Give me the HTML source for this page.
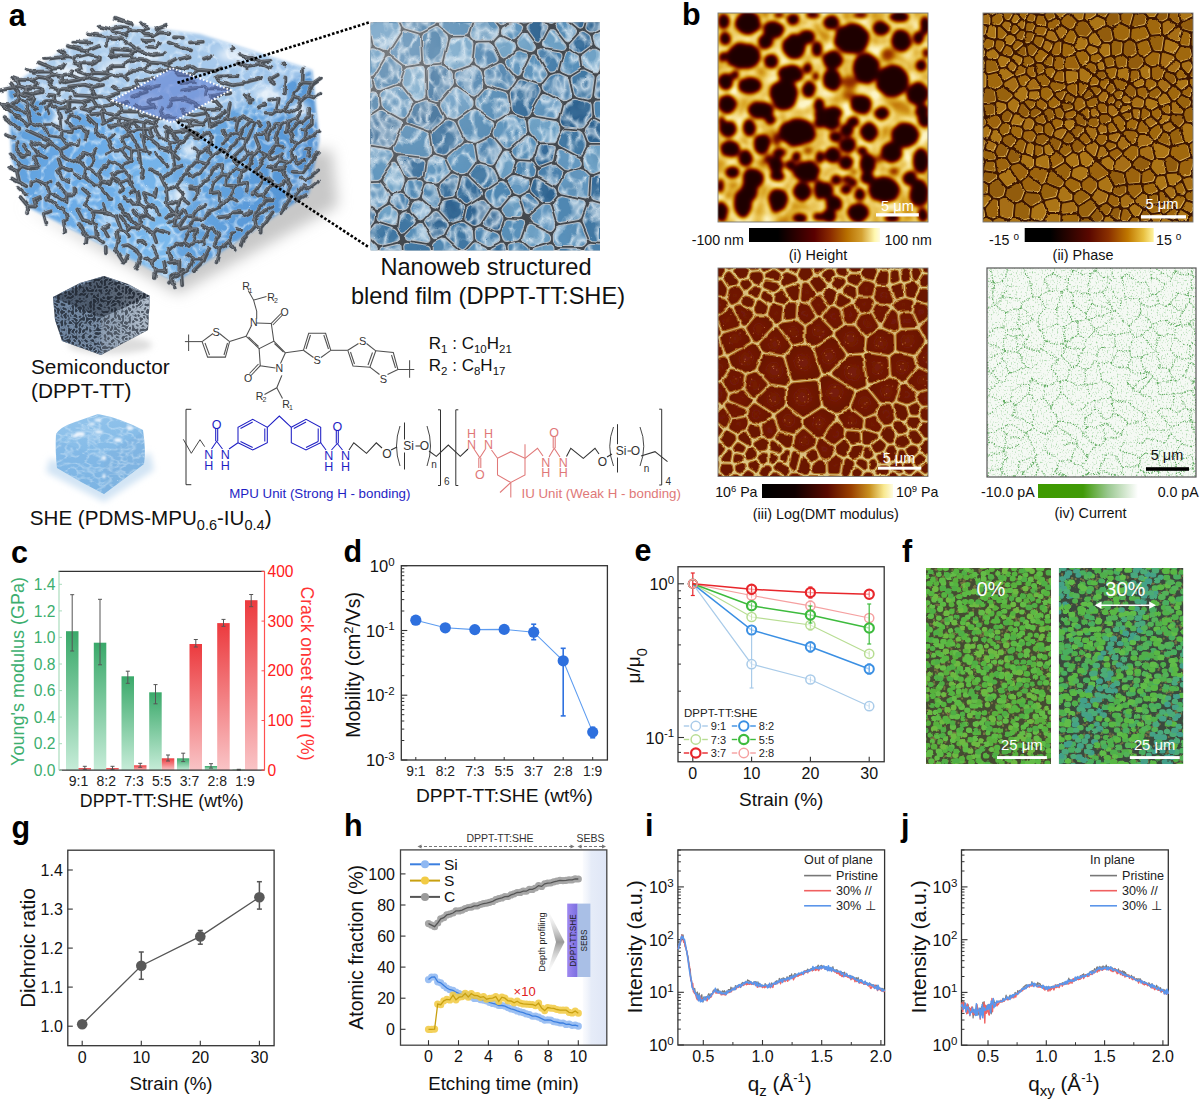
<!DOCTYPE html>
<html><head><meta charset="utf-8"><style>
html,body{margin:0;padding:0;background:#fff;width:1200px;height:1101px;overflow:hidden}
svg{display:block}
text{font-family:"Liberation Sans", sans-serif}
</style></head><body>
<svg width="1200" height="1101" viewBox="0 0 1200 1101" font-family="Liberation Sans, sans-serif">
<rect width="1200" height="1101" fill="#fff"/>
<defs>
<filter id="shA" x="0" y="100" width="380" height="220" filterUnits="userSpaceOnUse"><feGaussianBlur stdDeviation="7"/></filter>
<filter id="bA" x="-10" y="0" width="360" height="310" filterUnits="userSpaceOnUse"><feGaussianBlur stdDeviation="1.5"/></filter>
<filter id="hlA" x="-10" y="0" width="360" height="310" filterUnits="userSpaceOnUse"><feGaussianBlur stdDeviation="4"/></filter>
<linearGradient id="gTop" x1="0" y1="0" x2="1" y2="1"><stop offset="0" stop-color="#b2d0ec"/><stop offset="0.5" stop-color="#a6c9ec"/><stop offset="1" stop-color="#90bce6"/></linearGradient>
<linearGradient id="gLeft" x1="0" y1="0" x2="1" y2="0.6"><stop offset="0" stop-color="#5a9ad8"/><stop offset="0.5" stop-color="#6aaae6"/><stop offset="1" stop-color="#7ab8ec"/></linearGradient>
<linearGradient id="gRight" x1="0" y1="0" x2="1" y2="0.5"><stop offset="0" stop-color="#78b4e8"/><stop offset="0.6" stop-color="#5e9edc"/><stop offset="1" stop-color="#508fd0"/></linearGradient>
<clipPath id="cA"><path d="M8 88 L60 52 L118 24 L200 34 L312 70 L319 140 L309 193 L176 282 L30 208 L12 160Z"/></clipPath>
<filter id="netA" x="-10" y="0" width="360" height="310" filterUnits="userSpaceOnUse">
<feTurbulence type="fractalNoise" baseFrequency="0.16" numOctaves="1" seed="5" result="t"/>
<feDisplacementMap in="SourceGraphic" in2="t" scale="4.5" xChannelSelector="R" yChannelSelector="G"/>
</filter>
</defs>
<path d="M22 205 L178 294 L338 206 L332 150 L300 150 L176 270 Z" fill="#c8c8c8" filter="url(#shA)"/>
<g filter="url(#bA)">
<path d="M8 88 L170 140 L176 282 L30 208 L12 160Z" fill="url(#gLeft)"/>
<path d="M170 140 L312 70 L319 140 L309 193 L176 282Z" fill="url(#gRight)"/>
<path d="M8 88 L60 52 L118 24 L200 34 L312 70 L170 140Z" fill="url(#gTop)"/>
</g>
<defs><filter id="vA" x="0" y="10" width="340" height="290" filterUnits="userSpaceOnUse"><feTurbulence type="turbulence" baseFrequency="0.07" numOctaves="2" seed="17"/><feColorMatrix type="matrix" values="0 0 0 0 0.8  0 0 0 0 0.9  0 0 0 0 1  -3.5 0 0 0 1.0"/></filter></defs>
<g clip-path="url(#cA)"><rect x="0" y="10" width="340" height="290" fill="#fff" filter="url(#vA)" opacity="0.6"/>
<g filter="url(#hlA)" opacity="0.9">
<ellipse cx="70" cy="72" rx="16" ry="5" fill="#fff"/>
<ellipse cx="115" cy="66" rx="12" ry="4" fill="#fff"/>
<ellipse cx="150" cy="55" rx="12" ry="4" fill="#fff"/>
<ellipse cx="235" cy="55" rx="18" ry="5" fill="#fff"/>
<ellipse cx="270" cy="95" rx="16" ry="6" fill="#fff"/>
<ellipse cx="300" cy="110" rx="8" ry="8" fill="#fff"/>
<ellipse cx="190" cy="150" rx="9" ry="7" fill="#fff"/>
<ellipse cx="180" cy="195" rx="8" ry="10" fill="#fff"/>
<ellipse cx="60" cy="120" rx="7" ry="10" fill="#fff"/>
<ellipse cx="150" cy="100" rx="8" ry="4" fill="#fff"/>
<ellipse cx="210" cy="100" rx="10" ry="4" fill="#fff"/>
</g></g>
<defs><path id="netP" d="M112.5 55.4l0-6.4M112.5 55.4l17.7 .1M112.5 49l21.1 1.6M130.2 55.5l3.4-4.9M132.3 96.5l14.5-4.7M160.8 97.3l-12 3.3M136.7 49.9l15.7 5.3M136.7 49.9l-3.1 .7M130.2 55.5l5.8 4.1M136 59.6l10.1 .6M110.6 56.4l1.9-1M136 59.6l-10.3 3.3M173.4 69.1l19.6-2M197.4 69.9l-4.4-2.8M197.4 69.9l-4.4 5.4M173.4 69.1l5 5.8M193 75.3l-14.6-.4M117.5 104.4l9.7-1.5M117.5 104.4l-3.4-.5M119.4 92.7l-13 4.3M114.1 103.9l-7.7-6.9M105 112.9l9.3 2M122.7 111.3l-8.4 3.6M117.5 104.4l5.2 6.9M105 112.9l-2.3-6.3M114.1 103.9l-11.4 2.7M91.5 114.4l13.5-1.5M91.5 114.4l-3.4-4.2M88.1 110.2l10.7-4M102.7 106.6l-3.9-.4M88.1 110.2l-6.5-1.8M81.6 108.4l3.7-3.4M81.5 101.9l3.8 3.1M81.5 101.9l11-2.9M96.2 105.2l-3.7-6.2M132.3 96.5l-.2 0M148.8 100.6l-.4 1.2M203 122.8l-11.2-2.5M203.5 125.2l-12.5 .3M191 125.5l-1.9-4.5M191.8 120.3l-2.7 .7M177.1 120l12 1M186.9 127.1l4.1-1.6M204.2 113.4l-10.1 1.8M206.5 119.8l6.3-1.5M183.7 113.3l10.4 1.9M203 122.8l3.5-3M215.6 118.5l8.9-6.5M138.5 87.1l6.9 1.9M138.5 87.1l-3-6.4M145.4 89l13.2-3.3M135.5 80.7l18.7-1.7M119.1 90.2l19.4-3.1M119.1 90.2l-6.4-3.7M215.6 118.5l-2.8-.2M111.4 75.3l13.5 1.5M132.8 70l-7.9 6.8M113.4 66.4l10.7-.4M113.4 66.4l-5.2 2.3M111.4 75.3l-2.8-1.6M108.6 73.7l-.4-5M170.5 68.4l-4.1-4.4M170.5 68.4l-18.6 4M166.4 64l-16.1-1.4M150.3 62.6l-6.5 7.4M151.9 72.4l-8.1-2.4M173.4 69.1l-2.9-.7M125.7 62.9l-1.6 3.1M146.1 60.2l4.2 2.4M132.8 70l11 0M127.6 78.9l-2.7-2.1M152.4 55.2l11.6-1.2M166.4 64l9.3-5M133.8 120.6l20.8 2.8M140.4 115.4l17.5 3.2M154.6 123.4l3.3-4.8M139.2 108.9l15.2-2.3M162 108.2l-2 3.3M115.3 117.1l-1-2.2M132 121l-16.7-3.9M122.7 111.3l14.5 .5M132 121l1.8-.4M140.4 115.4l-.7-2.3M135.8 104.9l3.4 4M164.5 116.5l-6.6 2.1M164.5 116.5l-4.5-5M148.4 101.8l6 4.8M171.2 100l-2 6.7M183.7 113.3l-1-3.7M174.1 117.3l-9.6-.8M204.2 113.4l3.2-3.2M207.4 110.2l11.8-.7M207.4 110.2l-11.8-4.2M171.2 100l12.5-1.4M183.7 98.6l12.5 4.8M195.6 106l.6-2.6M180 83.1l14.9-1.1M206 94l1.4-5.7M203.8 86.3l3.6 2M203.8 86.3l-20.7 4.3M203.6 85.7l.2 .6M81.5 101.9l-10.2-.8M71.3 101.1l-.1 .1M130.3 131.2l9.2-2.4M130.3 131.2l-7.5-5.8M139.5 128.8l-7.9-7.1M122.8 125.4l8.8-3.7M109.9 126.3l12.9-.9M128.5 132.4l1.8-1.2M115.3 117.1l-12.8 6.8M149.3 129.3l3.2 6.9M149.3 129.3l7.4-3.4M165.8 126.7l6.9 5.7M139.5 128.8l9.8 .5M148.1 138.7l4.4-2.5M154.6 123.4l2.1 2.5M187.4 130.5l-14.7 1.9M33.9 97l-6 2.8M26.1 92l-11.6 3.4M33.9 97l-1-2.9M32.9 94.1l-6.8-2.1M75.1 108.5l-9.4 3.5M60.7 102.8l10.5-1.6M108.6 73.7l-14.2-.8M91.9 69.6l2.5 3.3M89.2 75.3l5.2-2.4M89.2 75.3l-.1 2.2M111.4 75.3l-10.9 5.1M89.1 77.5l11.4 2.9M180.5 59.1l9.1-2.6M204 58.7l6.7-2.3M120 27.1l-8.8 2.5M111.2 29.6l-11.5-2.8M127 27.5l-7-.4M131.8 23.8l-16.7-6M100 57.8l-.3 2.1M99.7 59.9l-8.1 3.6M112.8 31.9l-1.6-2.3M127 27.5l4.3 2.5M112.8 31.9l12.3 2.3M131.3 30l-6.2 4.2M45.3 101.4l8.6-.7M53.9 100.7l.6-5.1M47.9 94.9l6.6 .7M41.1 104l4.2-2.6M60.7 102.8l-6.8-2.1M42.6 92.2l-9.7 1.9M187.4 130.5l9.7 3M106.4 97l-10.7-.7M95.2 96.4l.5-.1M33.7 71.9l16.9-.5M50.6 71.4l3.4 3.2M37.4 76.9l8.5 1M54 74.6l-8.1 3.3M42.6 92.2l.2-2.4M26.1 92l-.2-3.7M42.8 89.8l-8.7-2.5M25.9 88.3l8.2-1M245.5 57.5l-5.4-2.4M262 61.9l8.5-1.2M262 61.9l-8.9-4M237.9 63.3l9.1 3M247 67.2l0-.9M245.5 57.5l7.6 .4M260.9 63.5l-13.9 2.8M260.9 63.5l1.1-1.6M215.3 71.2l-17.9-1.3M215.3 71.2l5.6-2.8M107.2 37.8l-3.2-1.8M107.2 37.8l15.1 .7M125.1 34.2l1.4 1.4M107 45.9l.2-8.1M122.3 38.5l4.3 4.3M131.3 30l9.5 .9M141.8 23.2l5.5 5.2M140.8 30.9l6.5-2.5M221.2 107.3l-5.1-5.8M211.4 100.3l4.7 1.2M211.4 100.3l-.5-4.3M207.4 88.3l20.8 .6M210.9 96l19.4-2.9M71.3 101.1l-.8-3.8M95.2 96.4l-19.9-1.1M103.1 85l-10.4 2.3M95.7 96.3l-4.3-7M92.7 87.3l-1.3 2M75.3 95.3l-1.3-4.4M232.5 85.3l10.3-1.5M232.5 85.3l-13.7-4.2M237.6 76.1l-20 .4M242.8 83.8l.8-1.4M218.8 81.1l-2.2-4M217.6 76.5l-1 .6M261.1 78.2l-17.5 4.2M283.3 63.3l1.1 2.2M260.9 63.5l9.5 4.7M269.7 79.5l8-4.5M232.8 47l-.8 1.8M104 36l-13.8-1.7M90.2 34.3l-2.1-.7M87.3 51l-20.4-5M91.4 42.8l-17.2-1M87.3 51l11.9-5M88.6 54.1l11.4 3.7M88.6 54.1l-1.3-3.1M107 45.9l0 0M136.7 49.9l.8-1.2M137.5 48.7l-8.4-5.4M190.9 42.5l11.9-.7M156.6 29.3l3.3 3.1M156.6 29.3l9.2-3.5M159.9 32.4l9.4 1.1M174 37.4l8.9 .4M34.1 87.3l2.5-4.2M49.7 83.5l2.3 4.3M31.5 80.2l5.1 2.9M37.4 76.9l-5.9 3.3M45.9 77.9l5.6 4.4M54 74.6l7.4 1.7M61.4 76.3l.1 5M58.2 94.8l1.2-5.3M52 87.8l7.4 1.7M74 90.9l-6.2-2.4M59.4 89.5l8.4-1M79.6 79.8l-14.2 2.5M83.9 84.8l-14.8 1.8M69.7 74.9l10.3 4.3M69.7 74.9l-8.3 1.4M61.5 81.3l3.9 1M89.1 77.5l-9.1 1.7M92.7 87.3l-8.8-2.5M17.3 79.8l2.3 6.5M17.3 79.8l-4.9-1.8M19.6 86.3l-20 4.3M31.5 80.2l-14.2-.4M25.9 88.3l-6.3-2M33.7 71.9l-7-2.3M251.7 99.7l-7.1-4.5M269.7 79.5l4.4 3.4M183.8 47.4l7.3 3M67.9 56.3l-8.2-6M88.6 54.1l-15.6 3.7M73 57.8l-5.1-1.5M50.6 71.4l2.8-2.7M53.4 68.7l-14.5-6.2M67.9 56.3l-21.2 2.7M46.7 59l-1.7-.1M79.4 63.4l-5.6-1.7M79.4 63.4l1.4 5.5M64.8 63.8l-2.7 4.1M80.8 68.9l-4.3 2M91.6 63.5l-12.2-.1M73 57.8l.8 3.9M53.4 68.7l8.7-.8M69.7 74.9l2.1-3.5M89.2 75.3l-12.7-4.4M141.5 40.2l3.8 .9M145.3 41.1l8.2-.3M144.8 34.6l9.3 .8M140.8 30.9l4 3.7M159.9 32.4l-5.8 3M168.6 42.5l12.4 4.9M159.9 43l-3.7 4.3M183.8 47.4l-2.8 0M147.2 46.8l9 .5M153.3 233.4l3.4-3.9M153.3 233.4l-12.5-7.8M140.8 225.6l-.9-7.8M153.1 219.3l-6.3-4.1M139.9 217.8l6.9-2.6M156.7 229.5l11.8 3.7M61.1 117.8l-3.1-9M58 108.8l10.2-1.3M66.3 120l6.4-5.6M71.7 132.3l1-5M72.7 127.3l8.3-.3M86.2 140.2l.5-8.3M86.7 131.9l-5.7-4.9M66.3 120l6.4 7.3M72.7 114.4l6.8 4.3M96.2 132.2l4 4M61.3 137l-12.5-1.9M61.3 137l.9-5.6M62.2 131.4l-1.8-2.3M60.4 129.1l-9.8-5.4M50.6 123.7l-5.7 .4M48.8 135.1l-5.2-8M43.6 127.1l1.3-3M77.7 145.2l-10.6-.7M67.1 144.5l-5.8-7.5M77.7 145.2l1-5.1M71.7 132.3l-9.5-.9M59.8 118.5l.6 10.6M47.6 139.8l-20.6-9.6M48.6 142.3l-3.1 4.6M45.5 146.9l-13.4-4.8M60.1 150l6.9-3.4M60.1 150l-11.5-7.7M136.2 250.1l-8.1-5M153.3 233.4l3 8.8M43.6 127.1l-12.9-4.2M30.7 122.9l-3 2.2M20 98.9l-8.7 6.4M20 98.9l-1.4-5.6M18.6 93.3l-7.5-10M11.3 105.3l-8.3-.4M3 104.9l-.7-.2M27.7 125.1l-24.7-20.2M28 114.1l2.7 8.8M28 114.1l-16.7-8.8M19.3 129.2l-15.5-12.1M58 108.8l-6.8-4.8M48.3 113.4l-2.3-6.2M51.2 104l-5.2 3.2M34.1 97.6l.2 .5M68.2 107.5l.5-6.2M18.6 93.3l15.5 4.3M146 151.1l-7-1.2M146 151.1l-3.5-15.5M139 149.9l-7.6-14.4M106 153.7l7.7-3.5M100.2 136.2l7.8 2.9M108 139.1l5.7 11.1M131.9 149.8l6.7 .4M139 149.9l-.4 .3M124.9 145.7l-3.5-7.3M131.9 149.8l-7-4.1M131.4 135.5l-2.4-1.4M129 134.1l-7.6 4.3M124.9 145.7l-3.4 5M108 139.1l6.2-4.2M114.9 150.8l-1.2-.6M121.5 150.7l-6.6 .1M103.9 122.9l-2.3-11.3M95.4 124.4l-8.2-7.9M96.2 132.2l-.8-7.8M157.7 144.8l-13.7-10.5M159.7 138.4l-5.1-10.2M144 134.3l-.1-9.5M150 153.6l-4-2.5M158.7 147.1l-1-2.3M142.5 135.6l1.5-1.3M176.4 243.5l5.7 2.5M178.9 218l-10.6 4.2M130.2 200.5l2.9 3.3M130.2 200.5l-6-2.5M119.4 204.9l3.4 5M138.8 226.4l-15.9-14M138.8 226.4l2-.8M133.2 210.5l6.7 7.3M78.9 160.6l7.3 7.3M78.9 160.6l4.8-7.8M83.7 152.8l8.5 2.9M88.3 168.3l6.3-8.6M92.2 155.7l2.4 4M95.8 148.8l-3.6 6.9M103.1 166.8l-4.6 8.1M98.5 174.9l-10.2-6.6M98.9 185.5l11.1 13.3M98.9 185.5l-4.1-.1M108.7 183.1l-6.8-2.3M101.9 180.8l-3 4.7M111.5 199.1l-1.5-.3M98.5 174.9l3.4 5.9M84.6 177.4l10.2 8M84.6 177.4l1.6-9.5M72.3 171.3l-10.4-4.3M61.9 167l-3.4-7.9M71.9 161.7l-9.7-5.8M74.9 174.3l5.9 3.2M77.6 160.1l-5.7 1.6M62.4 178.8l6.9 3.3M62.4 178.8l-4.4-8.5M58 170.3l3.9-3.3M60.1 150l2.1 5.9M139.4 260.4l-3.3 8.2M152.8 246.2l5.2 10.8M158 257l-6.6 4.7M146.1 257.6l5.3 4.1M168 248.9l3.1 10.9M138.8 226.4l-1.3 2.3M142.3 241.8l3.2 2.6M140.7 256.9l-4.5-6.8M142.3 241.8l-3.9 .1M165.9 271.1l-1.9-9.6M155.8 270.5l10.1 .6M155.8 270.5l-4.4-8.8M154.6 278l1.2-7.5M139.4 260.4l-.2-.7M139.2 259.7l1.5-2.8M182.2 269.9l-11.5 6.2M170.7 276.1l4 12.2M36.6 108.6l-5.5-4.3M29.2 113.1l-2.3-9.2M39.5 115l-1.2-.8M34.3 98.1l-3.2 6.2M20 98.9l6.9 5M131.9 149.8l0 11.5M138.6 150.2l2.4 17.1M121.5 150.7l9.2 10.3M130.7 161l-7.8 3.8M130.7 161l1.2 .3M159.7 138.4l7.4 .1M167.1 138.5l0-6.4M129.2 179.7l-8.5 2.9M129.2 179.7l5.7 11.6M130.5 192.4l4.4-1.1M122.7 187.8l-2-5.2M120 191.9l2.7-4.1M108.7 183.1l5.1-5.5M113.8 177.6l6.9 5M133.1 203.8l5.9 .3M146.8 215.2l-2.9-7.8M143.9 207.4l-4.9-3.3M139 204.1l-1.6-11.2M30.1 168.6l-8.7-2.3M18.3 171.3l3.1-5M36.5 180.2l-5 2M66.8 194.6l-.3 7.5M66.5 202.1l-16.9-10.1M50.5 181.7l-4 3.4M57.4 183.8l9.4 10.8M46.5 185.1l3.1 6.9M33.9 157.3l4.3-2.8M33.9 157.3l4.8 9.5M45.4 157.5l-7.2-3M30.1 168.6l.7-1.2M36.5 180.2l10 4.9M30.8 167.4l7.9-.6M31.2 144.3l7 10.2M77.3 209.4l5.6 10.6M67 218.2l-2.9-8.4M92.3 211.4l-7.5-7.1M93.6 222.8l-1.3-11.4M93.6 222.8l-10.7-2.8M49.6 192l-2 7.3M47.6 199.3l16.5 10.5M95.5 224.7l1.3 12.8M86.8 237.2l10 .3M86.8 237.2l-7.2-13.1M103.2 228.2l5.6-3.1M92.3 211.4l13 1M13.5 137.8l-7.5-3M16.9 171.2l-6.7-3.3M21.4 166.3l-10.7-13M74.6 194.4l-.1-6.2M84.8 204.1l5.1-8.9M89.9 195.2l-7-6.2M66.8 194.6l7.8-.2M103 204.5l2.4 7.7M27.1 213.1l1-6.8M46.3 222.9l-2.4-9.1M28.1 206.3l8 .4M63.7 220.3l3.3-2.1M47.6 199.3l-1.3 .5M103.2 228.2l5.2 9.1M96.8 237.5l6.5 4.9M143.2 169.6l-1.3 8.3M150 169.3l9.7 5.2M159.7 174.5l6.8 13.9M166.5 188.4l-.4 .3M156.3 153.6l11.2 12.9M178.9 218l-11.5-11.7M167.4 206.3l-1.3-17.6M122.4 166.7l-13.1-5.7M123.9 170.1l-11.4 4.2M109.3 161l-3.1 6.4M129.7 176.6l-5.8-6.5M129.7 176.6l-.5 3.1M113.8 177.6l-1.3-3.3M103.1 166.8l3.1 .6M127.1 129.6l4.6-8.6M110.8 127.7l4.3-3.9M115.1 123.8l5 .3M167.1 138.5l3 3.2M158.7 147.1l10.4 2.9M170.1 141.7l-1 8.3M169.1 150l9.6 8.9M170.1 141.7l8 1.1M156.1 208l-7.7-3.5M154.8 197.1l-10.8-4.1M148.4 204.5l-5.1-10.9M158.6 215.7l-2.5-7.7M143.9 207.4l4.5-2.9M156.7 188.9l-1.9 8.2M29 154.7l-5.1-9.8M29 154.7l-5.5 1.5M23.5 156.2l-6.5-3.4M17 152.8l.5-10.9M126.6 232.9l-5.2-2.4M126.6 232.9l2.9-5M121.4 230.5l-5.1-13.8M129.5 227.9l-8.9-11.6M137.5 228.7l-8-.8M128.9 236.3l-2.3-3.4M116.7 231.2l4.7-.7M105.4 212.2l10.9 4.5M128.1 245.1l-4 .7M116.7 231.2l2.4 11.1M119.1 242.3l-2.3 .1M116.8 242.4l-1.3 7.4M127.9 254.7l-3.4 8M120.1 124.1l-.4-6.8M40.8 197.2l-6.5 2.8M31.5 182.2l-.3 3.5M16.9 171.2l2.4 10.8M19.3 182l7 4.2M43.9 213.8l6.6-2.4M36.1 206.7l-1.8-6.7M28.1 206.3l-6.7-8.2M24.4 193.9l2.4 .2M18.5 182l-7-3.6M24.4 193.9l-6.6-6.1M63.7 220.3l1.5 12.2M86.8 237.2l-.7 5.9M115.5 249.8l7.9 12.3M105.8 246.7l.1 6.5M242.3 116.3l-4.4 3.1M242.3 116.3l8.4 4.4M237.9 119.4l-2.4 13.3M250.7 120.7l-11.6 13.4M239.1 134.1l-3.6-1.4M237.9 119.4l-9.7 .4M223.5 130.6l3.3 6.5M235.5 132.7l-8.7 4.4M262.1 181.1l-1.3-7.9M262.1 181.1l-7.6 11.6M254.5 192.7l-1.9 .7M247.3 182.8l-.6 9.2M271.6 184.8l7.6 1.2M271.6 184.8l-7.8 9.8M272.8 199.4l-6.9-.1M265.9 199.3l-2.1-4.7M240.1 138.3l-1-4.2M250.7 120.7l.4-.1M246.6 140l1-.7M246.6 140l-6.5-1.7M247.6 139.3l7.2-16.7M251.1 120.6l3.7 2M244.7 146.1l3.7 7.8M244.7 146.1l-11.6 11M233.1 157.1l3.9 7.2M237 164.3l11.4-10.4M174.8 168l-10.4 10.6M172.6 153.7l2.2 14.3M227.3 118l-17.1 8M229.9 104.1l-2.6 13.9M210.2 126l-2.8-11.1M181.9 165.7l-7.1 2.3M172.6 153.7l6-5.8M227.3 118l.9 1.8M212.1 137.1l-4.4-4.8M190.8 132.9l7.5 5.6M190.8 132.9l-10.6 10M178.6 147.9l1.6-5M246.6 140l-1.9 6.1M240.1 138.3l-13.4 14M227.1 157.2l-.4-4.9M241.5 212.1l-7.8 .3M219.4 217.4l10.6-1.4M219.3 234.7l-7.2-6.5M236.1 200.7l-5.3-2.7M230.8 198l-10.6 6.9M230 216l3.7-3.6M230.8 198l3.9-11.7M247.3 182.8l-8.9 .2M238.4 183l-3.7 3.3M255.8 172.5l0-1.1M249 166.7l-7.5 4.8M238.4 183l3.1-11.5M249 166.7l5.5-13.2M248.4 153.9l6.1-.4M241.5 171.5l-5.8-2.8M275.2 124.5l-7.4 11.4M269.5 124.7l-4.7 7.7M267.8 135.9l-3-3.5M268.2 122.7l1.3 2M264.8 132.4l-6.9 1.9M261.1 126l-3.4-4.2M255.8 171.4l9.8-16.1M254.5 153.5l3.1-2.4M265.6 155.3l-8-4.2M255.3 136.9l4.1 10.6M267.8 135.9l.1 3.1M257.6 151.1l1.8-3.6M276.6 123.8l-1.4 .7M276.6 123.8l3.2 1.4M279.8 125.2l-4.2 12.2M289.3 112.9l9.9-6.1M296.8 118.4l-8.5 3.2M296.8 118.4l4.5-7.5M290 132.2l8.4-10M298.4 122.2l-1.6-3.8M286.6 132.3l1.7-10.7M279.8 125.2l7.6-4.2M277.4 138.7l-1.8-1.3M313.7 97.5l-5.8-2M302 99.9l5.9-4.4M302 99.9l-2.8 6.9M302.6 82.5l10.5 .7M303.1 69.1l-.5 13.4M313.1 83.2l7.8-5.3M280.8 214.2l9.7-16.9M287.6 193.9l2.9 3.4M286.6 180.2l-7.4 5.8M286.6 180.2l3.5 6.5M290.1 186.7l-2.5 7.2M296.9 200.2l-2.4-3.9M294.5 196.3l9-10.4M304.8 180.4l-3-1.9M265.9 199.3l-10.6 14.2M272.5 206.6l-16.3 9.7M256.2 216.3l-.9-2.8M258.1 195.7l5.7-1.1M254.5 192.7l3.6 3M251 212l-7.2 3.2M180.2 142.9l-9.8-10.3M207.7 132.3l-9.4 6.2M249.6 102.7l-.5-7.7M226.8 137.1l-3.8 6.5M226.7 152.3l-4.2-2.7M212.1 137.1l-1.1 6.2M219.3 234.7l-4.8 10.1M209.2 229.9l-5.8 10.3M204.1 245.1l-.7-4.9M208.7 211.7l9.6-4M208.7 211.7l-5 7.5M209.2 229.9l-6.7-4.5M225.9 185.1l1.7-9.5M219.4 192.1l-8.7 1M222.3 174.6l5.3 1M222.3 174.6l-9.2 8M213.1 182.6l-2.4 10.5M234.7 186.3l-8.8-1.2M235.7 168.7l-8.1 6.9M220.2 204.9l-.8-12.8M221.9 164.7l.4 9.9M309.1 188.5l8.8-6.6M296.9 200.2l9.1-5.1M303.5 185.9l5.6 2.6M304.8 180.4l13.5-10M302.6 82.5l-9.5 10.4M285.4 77.6l-.4 15.9M302 99.9l-8.5-2.4M313.1 83.2l-5.2 12.3M293.5 97.5l-.4-4.6M289.3 112.9l-4.5-3M293.5 97.5l-8.7 12.4M284.8 109.9l-3.7 1.7M274.1 169.5l9.5-.8M269.8 178.4l2.3 2.3M287.6 162.6l-7.5-2M287.6 162.6l-4 6.1M280.1 160.6l-6 7.6M268.6 166.7l5.5 1.5M262.1 181.1l7.7-2.7M287.4 178.4l-.8 1.8M287.4 178.4l-4.7-6.4M292 150.8l4.2-6.9M292.4 158.6l-.4-7.8M304.2 139.3l-8 4.6M302.2 122.1l6.3-5.8M312 116.1l-.1 8.3M311.9 124.4l-6.2 5.3M305.7 129.7l-3.3-.6M290 132.2l2.3 4.3M298.4 122.2l3.8-.1M308.5 108.8l0 7.5M291.4 139.2l.9-2.7M304.2 139.3l1.5-9.6M296.2 143.9l-4.8-4.7M313.7 97.5l6.7-3.5M186.9 172.4l-10.8 13.8M183.2 193.4l-7.1-7.2M186.9 172.4l5.3 4.4M222.5 149.6l-11.3 7.6M211 143.3l-3.1 4.7M207.9 148l3.3 9.2M194.4 148.2l4.7 4.3M207.9 148l-8.8 4.5M187.1 170.4l9.4-9.1M196.5 161.3l2.6-8.8M204.1 260.5l-10.5 10.3M204.1 260.5l.1-1.9M204.2 258.6l-11 .1M190.4 267.1l2.8-8.4M209.5 247.9l-5.3 10.7M189.8 230l7.4 .4M189.8 230l-6.2 12.1M197.2 230.4l-4.9 13.3M183.6 242.1l6.3 3.9M189.9 246l2.4-2.3M193.5 219.5l10.2-.3M189.2 226.8l4.3-7.3M189.2 226.8l.6 3.2M189.2 226.8l-8.5 2.1M175.2 244.9l8.4-2.8M203.4 240.2l-11.1 3.5M175.2 244.9l-7.5 7M179.5 261.6l-11.3 1.1M193.1 258.2l-5.9-3.8M278.8 98.7l-2.2 12.1M278.8 98.7l-9.6 1M265.6 113.8l6.3 .2M271.9 114l4.7-3.2M281.1 111.6l-4.5-.8M259.5 106.6l5.2-2.1M268.3 154.2l7.9-8.8M268.3 154.2l3.1 5.4M271.4 159.6l9.2-4M276.2 145.4l6.7 1.5M282.3 153.2l-1.7 2.4M277.4 138.7l-1.2 6.7M280.1 160.6l.5-5M292.4 158.6l-4.8 4M304.1 160.7l-7 3.3M293.5 171.9l9.6 .4M303.1 172.3l3-4M294.6 158.4l2.5 5.6M309.9 165.7l-3.8 2.6M305.1 148.3l4.5 .8M309.6 149.1l-1.4 7M309.9 165.7l4.1-9.5M314 156.2l4.8-3.4M208.2 179.6l-5.3 2.3M208.2 179.6l5.5-11.7M200.9 172.6l5.7-8.4M206.6 164.2l1-.7M197.9 188.1l-.3 6.7M197.9 188.1l5-6.2M221.9 164.7l-8.2 3.2M197.9 188.1l-7.8-.7M192.2 176.8l8.7-4.2M211.2 157.2l-3.6 6.3M196.5 161.3l10.1 2.9M187.1 170.4l-.2 2M176.1 186.2l-11.2 4.4M181.4 274.3l-2.1-.7M181.4 274.3l.8 10.9M179.3 273.6l-10.2 9.1M179.5 261.6l-.2 12M190.4 267.1l-9 7.2M256.2 216.3l-1.3 4.5M254.9 220.8l1.2 4.7M272.6 212.3l-11.8 15.7M260.8 228l-4.7-2.5M219.7 249.2l-5.2-4.4M219.7 249.2l-3.3 13.1M184.9 210.8l1.7 4.7M186.6 215.5l6.7-.6M193.3 214.9l4.3-6.2M179.4 226.5l-5.4 0M179.4 226.5l7.2-11M174 226.5l3-11.9M177 214.6l7.9-3.8M176 213.8l1 .8M179.7 200l-3.7 13.8M181.6 198.2l6.9 5.3M181.6 198.2l-1.9 1.8M205.3 205l-7.7 3.7M197.6 194.8l-3.2 5M183.2 193.4l-1.6 4.8M180.7 228.9l-1.3-2.4M193.5 219.5l-.2-4.6M260.8 228l-.1 4.7M228.9 241.7l5.8 8.4M242.9 239l-2.1 7M228.9 241.7l4.3-9.5M241.1 230.1l-3.4-1.2M219.7 249.2l9.2-7.5M256.1 225.5l-13.2 13.5M179.7 200l-7 3.4M176 213.8l-6.1 1.2M172.7 203.4l-7.2-.9M169.9 215l-3.7 2.9M305.8 139.8l13.6-8.6M112.5 55.4h0M130.2 55.5h0M133.6 50.6h0M136.7 49.9h0M136 59.6h0M173.4 69.1h0M197.4 69.9h0M117.5 104.4h0M114.1 103.9h0M106.4 97h0M105 112.9h0M114.3 114.9h0M122.7 111.3h0M102.7 106.6h0M88.1 110.2h0M81.5 101.9h0M191 125.5h0M189.1 121h0M138.5 87.1h0M111.4 75.3h0M124.9 76.8h0M108.6 73.7h0M170.5 68.4h0M166.4 64h0M150.3 62.6h0M143.8 70h0M154.6 123.4h0M157.9 118.6h0M115.3 117.1h0M164.5 116.5h0M207.4 110.2h0M207.4 88.3h0M203.8 86.3h0M71.3 101.1h0M130.3 131.2h0M139.5 128.8h0M122.8 125.4h0M149.3 129.3h0M26.1 92h0M32.9 94.1h0M94.4 72.9h0M89.2 75.3h0M89.1 77.5h0M111.2 29.6h0M131.3 30h0M125.1 34.2h0M53.9 100.7h0M95.7 96.3h0M50.6 71.4h0M54 74.6h0M45.9 77.9h0M25.9 88.3h0M34.1 87.3h0M262 61.9h0M247 66.3h0M260.9 63.5h0M107.2 37.8h0M107 45.9h0M140.8 30.9h0M92.7 87.3h0M87.3 51h0M88.6 54.1h0M159.9 32.4h0M31.5 80.2h0M61.4 76.3h0M59.4 89.5h0M69.7 74.9h0M17.3 79.8h0M19.6 86.3h0M67.9 56.3h0M73 57.8h0M53.4 68.7h0M79.4 63.4h0M153.3 233.4h0M140.8 225.6h0M139.9 217.8h0M146.8 215.2h0M58 108.8h0M72.7 127.3h0M61.3 137h0M62.2 131.4h0M60.4 129.1h0M43.6 127.1h0M60.1 150h0M30.7 122.9h0M20 98.9h0M11.3 105.3h0M18.6 93.3h0M3 104.9h0M146 151.1h0M139 149.9h0M113.7 150.2h0M108 139.1h0M131.9 149.8h0M138.6 150.2h0M124.9 145.7h0M121.5 150.7h0M144 134.3h0M138.8 226.4h0M92.2 155.7h0M98.5 174.9h0M98.9 185.5h0M101.9 180.8h0M61.9 167h0M151.4 261.7h0M155.8 270.5h0M130.7 161h0M167.1 138.5h0M129.2 179.7h0M120.7 182.6h0M113.8 177.6h0M139 204.1h0M143.9 207.4h0M21.4 166.3h0M66.8 194.6h0M49.6 192h0M46.5 185.1h0M38.2 154.5h0M92.3 211.4h0M47.6 199.3h0M96.8 237.5h0M86.8 237.2h0M28.1 206.3h0M170.1 141.7h0M169.1 150h0M148.4 204.5h0M126.6 232.9h0M121.4 230.5h0M129.5 227.9h0M237.9 119.4h0M250.7 120.7h0M235.5 132.7h0M239.1 134.1h0M226.8 137.1h0M262.1 181.1h0M254.5 192.7h0M263.8 194.6h0M265.9 199.3h0M240.1 138.3h0M246.6 140h0M244.7 146.1h0M248.4 153.9h0M174.8 168h0M227.3 118h0M180.2 142.9h0M226.7 152.3h0M230.8 198h0M234.7 186.3h0M238.4 183h0M241.5 171.5h0M254.5 153.5h0M267.8 135.9h0M264.8 132.4h0M257.6 151.1h0M279.8 125.2h0M296.8 118.4h0M298.4 122.2h0M307.9 95.5h0M302 99.9h0M302.6 82.5h0M313.1 83.2h0M286.6 180.2h0M256.2 216.3h0M203.4 240.2h0M227.6 175.6h0M222.3 174.6h0M293.5 97.5h0M284.8 109.9h0M287.6 162.6h0M280.1 160.6h0M296.2 143.9h0M305.7 129.7h0M186.9 172.4h0M176.1 186.2h0M211.2 157.2h0M207.9 148h0M199.1 152.5h0M196.5 161.3h0M204.2 258.6h0M189.8 230h0M183.6 242.1h0M192.3 243.7h0M193.5 219.5h0M189.2 226.8h0M276.6 110.8h0M276.2 145.4h0M280.6 155.6h0M206.6 164.2h0M197.9 188.1h0M181.4 274.3h0M179.3 273.6h0M256.1 225.5h0M260.8 228h0M219.7 249.2h0M186.6 215.5h0M193.3 214.9h0M179.4 226.5h0M177 214.6h0M176 213.8h0M179.7 200h0M181.6 198.2h0M228.9 241.7h0"/></defs>
<g filter="url(#netA)">
<use href="#netP" fill="none" stroke="#a9b3bd" stroke-width="5" stroke-linecap="round" stroke-linejoin="round" opacity="0.55"/>
<use href="#netP" fill="none" stroke="#4c5158" stroke-width="3.6" stroke-linecap="round" stroke-linejoin="round"/>
<use href="#netP" fill="none" stroke="#80868e" stroke-width="1" stroke-linecap="round" transform="translate(-0.6 -0.7)" opacity="0.7"/>
</g>
<path d="M112.5 100.6 L171.9 68.1 L230.6 90 L171.9 122.5Z" fill="#5a78d0" fill-opacity="0.55"/>
<path d="M112.5 100.6 L171.9 68.1 L230.6 90 L171.9 122.5Z" fill="none" stroke="#fff" stroke-width="2" stroke-dasharray="1.6,2"/>
<path d="M177.5 82.8 L368.8 22.5 M177.5 121.9 L369.2 247.5" stroke="#000" stroke-width="2.6" stroke-dasharray="2.6,1.9" fill="none"/>
<defs><clipPath id="cN"><rect x="370.4" y="22.3" width="229.6" height="228.1"/></clipPath>
<filter id="tN" x="370.4" y="22.3" width="229.6" height="228.1" filterUnits="userSpaceOnUse">
<feTurbulence type="turbulence" baseFrequency="0.07 0.05" numOctaves="2" seed="12"/>
<feColorMatrix type="matrix" values="0 0 0 0 0.85  0 0 0 0 0.92  0 0 0 0 0.97  -3 0 0 0 1.05"/>
</filter>
<filter id="tN2" x="370.4" y="22.3" width="229.6" height="228.1" filterUnits="userSpaceOnUse">
<feTurbulence type="fractalNoise" baseFrequency="0.06" numOctaves="2" seed="21"/>
<feColorMatrix type="matrix" values="0 0 0 0 0.1  0 0 0 0 0.25  0 0 0 0 0.42  2.2 0 0 0 -1.0"/>
</filter>
<filter id="wN" x="365.4" y="17.3" width="239.6" height="238.1" filterUnits="userSpaceOnUse">
<feTurbulence type="fractalNoise" baseFrequency="0.04" numOctaves="2" seed="3" result="t"/>
<feDisplacementMap in="SourceGraphic" in2="t" scale="5" xChannelSelector="R" yChannelSelector="G"/>
</filter>
<path id="nwC" d="M407.2 242.2l-2.5 .8-1 2.4 1 12.8 .9 2 2.1 .8 19.5 0 2.1-.9 .9-2 .2-9.7-.7-2-1.8-1.1zM528.1 24.9l-1.2 2 .5 2.2 8.7 12 1.7 1.2 2-.2 1.4-1.4 6.4-12.4 .3-2.1-1.3-1.7-7.6-5.2-1.7-.5-1.7 .6zM610.6 55.6l-.8-2-1.9-.9-2.1 .5-1.2 1.9-2.4 13.5 .4 2.3 2 1.2 2.5 .5 2.4-.7 1.1-2.3zM459.4 119.7l-1.2 1.7 .2 2 6.6 14.3 1.9 1.6 6.6 2 2.1-.2 14-6.7 1.6-1.8 2.4-8.2 0-1.9-1.2-1.5-16.2-10.9-1.8-.5-1.6 .6zM402.5 213.1l-2 2.4-1.6 11.7 .5 2.1 1.1 1.7 2.2 1.4 2.5-.8 9.2-9.1 .9-2.1-.8-2.1-5.2-5.6-3.2-.8zM400.9 11.7l-1.9 .6-1 1.7 .2 2 4.8 10.3 1.9 1.7 14.5 4.1 2.2-.3 13-6.8 1.6-2.4 .7-7.6-.8-2.3-2.2-1zM452.9 225.2l-1.8 1.5-3.7 7.5-.3 1.9 .9 1.7 12.6 11.3 2.1 .7 2.1-1 7.3-8.2 .8-2.1-.5-8.8-1.4-2.3-7-4.7-2.6-.3zM390.6 57.9l-2.4-.6-2.1 1.4-11.3 18.9-.3 2.5 2.3 7.1 .9 1.4 .5 .5 3 .5 16-6 1.8-1.9 3.7-11.9 .1-1.7-1.1-1.5zM363.3 146l-2.5 .7-1 2.3 0 28.1 .9 2.2 2.2 .8 14.2-.7 2.3-1.3 14-20.6 .5-1.4 0-.2-.4-1.8-1.4-2.5-2.1-1.5zM509.6 92.4l-.5 2.2 2.3 15.2 2 2.4 11.5 4 2.1 0 1.6-1.3 12.3-22.6 .3-2.2-.7-2.6-2-2.1-17.6-5.6-1.9 .1-1.5 1.1zM480.2 164.1l-3.1 1.1-6.3 8.3-.6 2 .9 2 10.4 10 1.8 .8 2-.5 10.7-7.2 1.2-1.7-.1-2.1-3.9-8.3-2-1.7zM495.8 40.3l-.9 1.6 .3 1.8 6 12.6 2.2 1.6 2.6-.8 7.9-7.6 .8-2.9-.9-3-1.6-1.9-10.3-4.9-1.8-.2-1.6 .8zM584.8 128.8l-.5 2.9 3.8 9.8 1.1 1.4 1.7 .6 16.7 0 2.1-.9 .9-2.1 0-10.8-1.6-2.7-14-7.1-2-.3-1.7 1.1zM583 157.7l-.3 1.6 .5 5.3 .9 1.9 6.5 6.4 3.2 .6 14.9-6 1.4-1.2 .5-1.6 0-15.4-.9-2.1-2.1-.9-17 0-2.7 1.6zM572.5 76.6l-1.2 1.3-.2 1.9 3.4 14.7 2.3 2.3 11.2 2.3 2.3-.5 1.3-2 2.5-18.5-.3-1.9-1.4-1.3-8.2-3.8-2.9 .1zM569.2 44.3l-.8 2.5 1.5 2.1 8.8 5 3.3-.2 8.9-6.6 1.1-3.1-1.8-7.6-1.4-1.8-4.4-2.8-2-.4-.8 .1-1.8 1zM592.4 202.1l-2.2 .2-1.5 1.6-5.6 15.5 0 2.1 7 17.1 2.5 1.9 14.7 1.3 2.3-.7 1-2.3 0-29.3-.6-1.8-1.6-1zM390.4 50.8l-.4 2.1 1.1 1.8 13.2 10.3 2.4 .6 11.6-2 1.8-1.1 .6-2-1.2-23.4-.7-1.7-1.5-1-11.9-3.4-1.9 .1-1.5 1.2zM480.4 11.7l-1.7 .6-1.1 1.5-6.2 19.8 .5 2.8 2.3 2.7 2.3 1.1 14.3-.1 2.1-.9 4.8-4.9 .8-1.7 .4-3.5-.6-2.2-11.2-14.1-2.3-1.1zM406.1 119l-.3 2.6 1.8 1.8 20.4 7.5 3.2-.6 11.8-11.5 .9-1.6-.3-1.8-5-10.4-1.7-1.5-9.3-3.2-1.9 0-9.5 3.2-1.6 1.3zM553.8 232.8l-.5 1.7 .2 6.6 .6 1.7 1.2 1.6 2.4 1.1 25-.1 2.1-.8 1.9-1.9 .9-1.5-.2-1.8-6.2-15.1-1.3-1.5-2-.3-18.3 3.2-2 1.3zM453.2 37.1l-1.9 .7-1 1.7-5 22.4 .1 1.8 1.1 1.3 6.1 4.2 2.7 .3 14-5.1 2-2.5 1.6-18.6-.7-2.1-2.6-3.2-2.4-1.1zM448.7 155.9l-1 1.7 .3 1.9 5.1 10.3 1.3 1.3 6.1 3.2 1.6 .3 3.1-.1 2.2-1.2 8.1-10.6 .6-2.3-2.3-14.3-2.1-2.4-5.2-1.6-2.8 .6zM371.1 23.6l-.7 2.6 3.7 18.3 1.7 2.1 8.6 3.7 2 .1 1.7-1.2 12-19.2 .2-2.8-6.4-13.8-2.7-1.7-8.1 0-2.2 1zM476.5 98.5l-.7 2 0 4.4 1.3 2.5 17.2 11.5 3.3 .1 9.6-6 1.4-3-2.1-14.1-2.1-2.4-16.4-5.3-3.2 .8zM433.9 244.2l-.6 1.8-.3 11.9 .9 2.2 2.1 .9 22.7 0 2.1-.9 .9-2.2-.1-2.9-1-2.2-14.8-13.2-3.2-.5-6.8 3.2-1.1 .9zM564.6 51.4l-1.1 1.7-3.8 15.5 .2 2.1 1.5 1.4 6.2 2.7 2.7-.2 9-5.4 1.2-1.3 .2-1.8-1.2-7.3-1.5-2.1-9.9-5.6-3.3 .2zM362.4 236l-1.9 1-.7 2 0 19 .9 2.1 2.1 .9 11 0 2.1-.8 .9-2 .5-9.9-1-2.3-10.1-9.4-2.5-.8zM498.1 122l-1.3 1.7-2.8 9.2 .6 2.8 9.4 11.2 1.6 1 2.4 .5 2.7-.7 15.2-13.6 .9-2.6-1.4-10.4-2-2.4-11.4-4-2.6 .2zM532.5 188.7l.7 2.9 9.6 10 2.3 .9 4.3-.1 2.2-1 5.1-6.1 .6-2.7-.6-2.3-1.4-1.9-16-9.4-1.8-.4-1.7 .7-.1 0-.9 1.5zM442 101.5l-.4 3.2 5.2 10.6 1.7 1.6 5.4 1.8 2.7-.4 15.1-10.8 1.3-2.5 0-3.8-1.4-2.5-15.3-10-2.1-.4-1.8 1zM361.9 94.5l-1.5 1.1-.6 1.8 0 18.1 .7 2 1.9 1 2-.5 13.6-8.9 1.3-2.8-1.2-12.5-1.1-2-.3-.3-2.8-.6zM407 126.2l-2.2 0-1.6 1.6-8.7 19.8 .1 2.7 .9 1.7 2.3 1.5 27 2.9 1.8-.4 3.7-2.2 1.1-1.3 .3-1.8-2.5-14.8-1.9-2.3zM518.1 11.7l-2.3 1.1-.7 2.4 .4 2.5 1.7 2.2 6.1 3 3.1-.2 7.5-5.6 1.3-2.1-.8-2.3-2.2-1zM491.7 248.1l-1.6 2-1.5 7.3 .6 2.5 2.3 1.1 12.2 0 2.3-1 .7-2.4-1.7-11.9-1.6-2.3-2.8 0zM425.3 218.9l-.8 1.8 .4 1.8 8.5 14.8 1.7 1.3 2.2-.1 5.3-2.5 1.4-1.4 4.1-8.1 .3-1.8-.7-1.6-10.6-11.8-2.1-.9-2.3 .9zM429.9 67.1l-2 1-.7 2 .7 25.3 .6 1.7 1.5 1.1 6.7 2.3 1.7 0 1.5-.9 11.8-13.8 .7-2-.1-9.9-1.3-2.5-7.2-4.8-1.9-.6zM567.3 172.8l-1.7 1.6-6 12.9-.2 2 .6 2.3 2.2 2.1 23 5.3 2.5-.5 1.2-2.2 1.2-18.5-.9-2.3-6.3-6.2-3-.7zM531 216.7l-1 2.7 1.6 2.3 17.4 8.5 2.1 .2 1.7-1.2 2.4-3.7 .4-2.5-4.6-15.6-1.1-1.6-1.9-.6-3.2 .1-1.9 .8zM494.4 209.8l-1.8 .1-1.5 1.2-6.6 10.4-.4 2.5 1.8 1.9 10 4.1 2.4-.1 1.6-1.8 3-8.9-.3-2.7-3.3-4.7-1.7-1.2zM362.7 182.9l-2.1 .9-.8 2.1 0 9.6 1.2 2.5 13.5 9.8 1.7 .6 1.7-.5 7.1-4.6 1.2-1.7 1.8-6.1-.6-2.7-7.7-9.5-2.5-1.1zM439.5 206.6l-.5 1.8 .8 1.7 10 11.2 3.2 .9 7.2-2.4 2-2.2 1.7-8.5-.8-2.7-6.4-6.7-2.7-.9-9.6 1.6-2.1 1.4zM361.2 123.5l-1.4 2.5 0 14.1 .7 2 1.8 1 26.9 4.1 1.9-.4 1.3-1.4 9-20.4 .1-2.2-1.4-1.7-17.5-9.7-3.1 .1zM508.2 219l-1.8 .6-1.1 1.5-3.8 11 0 1.9 1.5 4.9 1.4 1.8 .9 .4 2.1 .3 10.4-2.4 2.1-2 4.7-13.5-.3-2.7-2.4-1.3zM407.9 68.3l-2.4 2-3.8 12.1 .5 2.7 11.2 14.3 1.5 1 1.9 0 6.3-2.2 1.5-1.1 .5-1.8-.8-26.4-1.1-2.3-2.4-.6zM485.6 191l-1.3 2.2-.1 1.6 .7 2.1 7 8.7 1.5 1 3.7 1 3.1-1 9-10.9 .7-1.6-.4-1.7-5.1-9.3-2-1.5-1-.2-2.3 .4zM531.8 118.6l-2.6 .9-.9 2.5 1.4 10.1 .8 1.6 6.8 7.3 2.2 .9 13.8-.2 2.7-1.7 4.7-10.5-.1-2.7-1.5-2.8-2.2-1.6zM586.6 246.7l-.9 1.8-1.1 9.2 .8 2.3 2.2 1 20 0 2.1-.9 .9-2.1 0-10.3-.8-2-1.9-1-16.2-1.5-2.3 .8zM392.7 194.3l-2 2.1-1.4 4.6 .1 1.8 1 1.5 8.1 5.9 2.7 .4 4.8-1.6 1.8-1.8 2.1-5.4 .1-1.8-.8-1.5-6.2-5.8-3-.7zM558.4 141.5l-.1 2.2 1.4 1.6 18.2 9.6 2.3 .1 1.8-1.5 3.7-7.5 .1-2.4-4-10.7-2.6-1.9-13.3-1.2-1.8 .4-1.2 1.3zM442.7 11.7l-2 .8-1 1.9-.8 8.6 1.1 2.5 9.3 8.1 2 .8 14.8-.3 1.8-.6 1-1.5 5.2-16.4-.5-2.7-2.4-1.2zM510.3 243.6l-1.8 1.2-.5 2.1 1.6 11.5 1 1.9 2 .7 11.7 0 1.9-.7 1-1.7 1.5-7.7-.9-2.8-6.6-5.8-2.7-.6zM428.6 158l-1.4 2.2-2.2 17.2 .5 2.2 .7 .8 1.8 1.2 7.8 1.5 2.5-.7 10.7-9.5 1-1.7-.3-1.9-4.9-9.9-1.8-1.5-8-2.5-2.4 .3zM401.5 156.7l-2.1 .5-1.1 1.7 .2 2.1 7.6 15.7 2.9 1.7 10.6-.6 1.9-.8 .9-1.8 1.7-13-.6-2.2-2-1.2zM540.9 144.7l-1.8 .7-1 1.5-3.1 11.6 .3 2.3 2.4 3.9 1.6 1.3 2.1 0 9.5-3.7 1.9-2.2 2.5-11.9-.6-2.6-2.4-1.1zM364.6 204l-2.1-.6-1.9 1-.8 2 0 23.7 1 2.3 2.4 .7 .4-.1 2-1.1 7.8-10 .6-1.6 .6-7.2-1.3-2.7zM566.4 103.3l-1.5 1.8-3.8 15 .2 2.1 1.7 3.1 2.4 1.6 14.5 1.4 2.6-1.1 7.8-9.7 .6-2.1-.8-10.8-.7-1.8-1.7-.9-12.7-2.6-2 .3zM533.5 249.3l-2.1 2.3-1.1 5.8 .6 2.5 2.4 1.1 17.4 0 2.1-.8 .9-2.1 .3-9.6-.6-1.9-.6-.8-1.4-1.1-1.8 0zM537 56.3l-1.6-1.4-2.2 .1-1.5 1.5-8.2 17.7-.1 2.4 1.9 1.7 13.5 4.3 1.8 0 1.5-1 4.4-5.5 .6-1.7-.4-1.7zM432.8 132.6l-.9 2.6 2.6 15.4 2 2.3 6.7 2.1 2.9-.6 15.1-13.2 1-1.7-.3-1.8-6.8-14.7-1.7-1.6-5-1.6-3 .7zM554.3 30.8l-1.7-1-1.9 .1-1.4 1.4-5.8 11 0 2.7 2.2 1.7 15.2 2.8 2.3-.5 .8-.6 1.2-2 0 0-.6-2.3zM506.7 151l-1.9 .2-1.3 1.2-7.5 12.3-.1 2.8 4.3 9.5 2.2 1.7 .6 .1 2.4-.5 5.1-3.8 1.2-1.7 3-12.1-.5-2.5-4.4-5.8-1.7-1.1zM468.1 207.3l-1.4 1.9-1.7 8.5 .1 1.8 1.1 1.3 6.4 4.3 2.6 .4 3.3-1.2 1.6-1.2 8.7-13.6 .5-1.7-.7-1.8-4.6-5.6-1.8-1.1-2.1 .4zM520.1 160.6l-1.9 .6-1.2 1.7-1.9 7.7 .4 2.3 1.9 1.4 14.6 3 2.6-.7 .5-.5 1-1.7 .7-4.4-.4-2.1-3.2-5.3-2.4-1.4zM478.3 143l-1.4 1.3-.3 1.9 2.1 12.8 2.2 2.4 9.9 2.5 1.9-.2 1.4-1.2 7-11.6 .4-1.7-.7-1.7-7.7-9.2-1.7-1-1.9 .3zM457.1 71.8l-1.5 1.1-.5 1.8 .1 8.4 1.3 2.5 15.4 10 2.1 .5 1.8-1 7.4-8.4 .6-2.6-2.5-11-1.3-1.9-6.5-4.1-2.6-.2zM464.3 177.3l-1.7 .7-1 1.6-3.6 15.5 .7 2.7 5.6 5.8 1.8 .9 1.9-.5 12.1-7.6 1.3-2.3 .1-1.1-.9-2.4-12.9-12.5-2.2-.8zM594.7 176.1l-1.9 2.6-1.1 17.8 .5 1.9 1.6 1.2 13 3.7 2.6-.5 1.2-2.4 0-26.2-1.3-2.5-2.8-.3zM542.5 11.7l-2.2 1-.7 2.4 1.2 2.1 8.7 5.8 1.7 .5 1.7-.5 8.1-5.9 1.2-2.1-.7-2.3-2.3-1zM541.7 48.8l-3 1.2-.1 .1-.1 3.2 10.4 17.5 1.5 1.3 2 0 2.3-.7 1.9-2.2 3.4-13.8-.4-2.3-1.9-1.3zM429.4 184.7l-2 .4-1.4 1.5-3.4 9-.1 1.9 1 1.5 8.7 7.4 2.4 .7 2.1-1.4 3.2-5.3 .3-2.5-3.1-10.1-2.3-2zM595.7 101.2l-2.1 1.1-.7 2.2 .8 10 1.6 2.4 10.9 5.6 2 .3 1.7-1.1 .7-1.9 0-16.3-.9-2.2-2.3-.8zM369.2 231.8l-.6 2.1 .9 2 8.5 7.8 2.8 .8 17.6-4.2 2.1-1.8-.3-2.7-3.2-5-1.6-1.3-17.6-5.5-1.8 0-1.5 1zM486 70.7l-1.4 1.4-.2 2 2.1 9.1 2 2.2 16.3 5.3 1.8 0 1.5-1.2 6.3-8.9 .5-1.9-.7-1.7-10.2-12.5-1.7-1-2 .2zM514.6 196.6l-1.8-.1-1.4 1-8.7 10.5-.7 1.8 .6 1.8 2.3 3.3 2.3 1.3 12 .4 2.5-1.1 .5-2.7-3.7-13.6-2-2zM546.1 94.8l-2.3-.3-1.7 1.5-8.8 16 0 2.7 2.2 1.7 20.1 3 2.1-.5 1.2-1.7 2.9-11.3-.1-1.9-1.4-1.5zM591.9 11.7l-1.9 .6-1 1.7-3.1 13 .1 1.9 1.2 1.4 2.6 1.6 2.9 .1 8.1-4.2 1.6-2.7-.4-10.5-.9-2.1-2.1-.8zM565.6 14.6l1 3 11.9 9.8 1.8 .7 1.9-.6 1.1-1.7 2.5-10.4-.6-2.6-2.4-1.1-14.2 0-1.8 .7-1.1 1.6zM361.8 52.5l-1.5 1.1-.5 1.8 0 13.6 1.7 2.7 8.1 3.9 2.1 .2 1.8-1.4 10.5-17.5 .2-2.5-1.6-1.8-8.4-3.6-2.2-.1zM554 202.9l-.6 2.7 4.4 14.8 1.2 1.7 2.1 .5 17.3-3.1 2.3-1.9 4.5-12.2-.2-2.5-1.9-1.5-21.5-4.9-3 .9zM423.9 33.8l-1.6 2.8 1.3 25.1 1 2.1 2.3 .7 13.1-1.1 1.7-.7 .9-1.6 5.1-23-.9-3-8.1-7-1.6-.7-1.8 .4zM594.8 34l-1.3 1.4-.2 2 1.7 6.9 1.4 1.9 6.4 3.8 2.4 .3 3.2-1 1.6-1 .6-1.8 0-12.5-.5-1.7-1.4-1.1-3.5-1.4-2.4 .1zM362.9 25.5l-2.2 .9-.9 2.1 0 17.5 1.3 2.5 2.7 .3 5.3-1.8 1.6-1.4 .3-2.1-3.1-15.5-1-1.7-1.8-.7zM382.9 92l-1.5 1.2-.4 1.9 1.1 11.3 1.5 2.3 16.5 9.2 2.2 .3 1.8-1.4 7.4-12.2 .4-1.7-.6-1.7-10.7-13.6-1.6-1.1-1.9 .1zM378.7 210.7l-1.3 2.3-.4 5.3 .5 1.9 1.6 1.2 13.7 4.3 2.5-.3 1.4-2.1 1.1-8.2-1.2-2.9-7.8-5.7-1.7-.6-1.7 .5zM583.5 56.1l-1.1 2.9 1.2 7.3 1.7 2.2 9.2 4.3 2.7-.1 .3-.2 1.5-2.1 2.8-15.4-.2-1.8-1.2-1.4-4.5-2.6-3.4 .1zM517.1 40.4l-.5 2.7 .9 2.9 2 2.1 11.2 3.3 1.9 0 1.5-.6 1.4-1.1 .4-.6 .6-1.8-.6-1.7-8.6-11.9-2.4-1.3-2.4 1.2zM409 181.2l-2.6 1.9-1.9 4.5-.1 1.8 .8 1.5 6.4 6.1 2.6 .8 3.3-.7 2.3-1.9 4-10.6 .1-2-1.2-1.5-1.9-.6zM543.7 84l-.5 2.6 .6 2.6 1.5 1.9 17.3 9.5 2.9-.1 4.7-2.6 1.2-1.3 .2-1.9-3.4-15.2-1.7-2.1-8.1-3.5-2.1-.1-5.2 1.7-1.3 1zM382.3 247l-1.6 1-.7 1.7-.4 8.1 .8 2.3 2.2 .9 16.2 0 2.2-1 .8-2.2-.8-11.7-1.2-2.2-2.5-.5zM465.1 252.7l-.7 2.1 .1 3.3 .9 2.1 2.1 .8 15 0 1.9-.7 1-1.7 1.7-7.8-.2-1.9-1.4-1.4-8.7-4.5-1.9-.3-1.7 1zM397.2 164.8l-1.5-1.4-2-.1-1.7 1.2-9.7 14.2-.5 1.9 .7 1.7 6.7 8.2 1.4 1 1.8 0 7.3-2.3 1.9-1.8 2.5-6.1-.1-2.5zM530.5 137.7l-2.1-.9-2.1 .7-12.4 11.1-1 2 .6 2.1 3 3.8 2.2 1.2 10.9 .7 2-.6 1.1-1.7 2.9-10.7-.7-2.9zM508.6 179.4l-1.2 1.8 .3 2.1 4.9 8.8 1.7 1.4 3.6 1.2 2.3-.2 8-4.2 1.5-1.8 1.5-5.2-.3-2.4-2-1.4-14.6-3-2.4 .5zM530.9 224.4l-2.5-.1-1.7 1.8-4 11.4 0 1.7 .9 1.5 6.1 5.4 2.8 .6 15.9-4.6 1.6-1.1 .6-1.8-.1-3.3-1.6-2.6zM362.8 11.7l-2.1 .9-.9 2.1 0 5 .8 2.1 2.1 .9 3.8 .2 2.4-1 4.6-5.2 .8-2.1-.9-2.1-2.1-.8zM561.7 149.6l-2.6-.1-1.7 2.1-1.8 8.8 1 2.9 7.5 6.2 2.9 .5 11.3-3.8 1.5-1.3 .5-1.9-.2-2.3-1.6-2.4zM477.3 227.7l-1.6 1.2-.5 1.9 .4 6.8 1.7 2.5 10.5 5.4 2.8 0 7.7-4 1.3-1.5 .1-2-.7-2.6-1.8-1.9-15.8-6.4-2.1-.1zM556.4 23.9l-1.2 2 .6 2.3 8.9 11.5 2.3 1.2 2.3-1 6.4-7.1 .8-2.2-1.1-2.1-10.1-8.3-1.8-.7-1.8 .6zM507.3 59.8l-.9 2 .6 2.1 8.6 10.3 1.7 1.1 1.9-.3 1.4-1.4 7.7-16.4 0-2.5-1.9-1.6-7.6-2.3-2.9 .7zM440.7 184.1l-.9 3.1 2.5 8.1 1.3 1.7 2.1 .4 7.2-1.2 2.5-2.3 3.4-14.8-.2-1.9-1.3-1.4-2.8-1.4-1.7-.4-1.6 .8zM478.5 43l-2.1 .8-.9 2-1.5 16.5 1.4 2.8 5.5 3.4 2.9 .2 13.8-6.7 1.5-1.7-.1-2.3-6.5-13.4-2.7-1.7zM541.3 169l-1.9 2.3-.3 2.1 .3 1.8 1.1 1.3 13.7 8 2.4 .3 1.8-1.6 4-8.6 .2-1.9-1-1.7-6.8-5.6-3-.4zM364.1 76.1l-2-.3-1.6 1.1-.7 1.9 0 9.4 1.2 2.4 2.7 .5 7.4-2.3 1.8-1.5 .2-2.3-1.3-4.2-1.5-1.8zM559.7 248.3l-2 .9-.9 2-.2 6.7 .8 2.2 2.2 .9 19.2 0 2-.8 .9-1.9 .8-6.7-.7-2.4-2.3-1zM523 196.2l-1.3 1.4-.2 2 3.5 12.9 1.2 1.6 1.9 .6 1.8-.8 8.9-8 1-2.1-.8-2.2-7.2-7.5-1.7-.9-1.9 .3zM406.3 234.4l-.9 2 .7 2 1.8 1.1 19.6 2.9 2.2-.4 1.2-1.9-.3-2.1-8.2-14.2-2.2-1.5-2.5 .9zM503.2 27.6l-1.5 2.3-.2 1.3 .3 1.9 1.4 1.2 8.9 4.2 1.9 .2 1.7-1 6.4-8.2 .6-2.5-1.6-2-5.2-2.6-2.7 0zM496 11.7l-2 .8-1 2 .7 2.1 5.7 7.1 1.7 1.1 2-.3 8-4.1 1.3-1.4 .2-1.8-.5-3-1-1.8-2-.7zM414.9 200.5l-2.2 1.8-2 5.3 .6 3.1 6.7 7.2 2.2 1 2.2-.9 6.4-6.7 .8-2.2-1-2.1-7.7-6.5-2.5-.7zM598.5 75.2l-1.5 2.1-2.4 17.6 .8 2.4 2.4 1 10-.6 2-1 .8-2 0-16.1-.7-1.9-1.8-1.1-6.8-1.2-2 .3z"/>
<mask id="mN"><rect x="358.4" y="10.3" width="253.6" height="252.1" fill="#000"/><use href="#nwC" fill="#fff"/></mask>
</defs>
<g clip-path="url(#cN)"><rect x="370.4" y="22.3" width="229.6" height="228.1" fill="#43484e"/><g filter="url(#wN)">
<g mask="url(#mN)">
<path d="M407.2 242.2l-2.5 .8-1 2.4 1 12.8 .9 2 2.1 .8 19.5 0 2.1-.9 .9-2 .2-9.7-.7-2-1.8-1.1zM402.5 213.1l-2 2.4-1.6 11.7 .5 2.1 1.1 1.7 2.2 1.4 2.5-.8 9.2-9.1 .9-2.1-.8-2.1-5.2-5.6-3.2-.8zM400.9 11.7l-1.9 .6-1 1.7 .2 2 4.8 10.3 1.9 1.7 14.5 4.1 2.2-.3 13-6.8 1.6-2.4 .7-7.6-.8-2.3-2.2-1zM452.9 225.2l-1.8 1.5-3.7 7.5-.3 1.9 .9 1.7 12.6 11.3 2.1 .7 2.1-1 7.3-8.2 .8-2.1-.5-8.8-1.4-2.3-7-4.7-2.6-.3zM390.6 57.9l-2.4-.6-2.1 1.4-11.3 18.9-.3 2.5 2.3 7.1 .9 1.4 .5 .5 3 .5 16-6 1.8-1.9 3.7-11.9 .1-1.7-1.1-1.5zM480.2 164.1l-3.1 1.1-6.3 8.3-.6 2 .9 2 10.4 10 1.8 .8 2-.5 10.7-7.2 1.2-1.7-.1-2.1-3.9-8.3-2-1.7zM572.5 76.6l-1.2 1.3-.2 1.9 3.4 14.7 2.3 2.3 11.2 2.3 2.3-.5 1.3-2 2.5-18.5-.3-1.9-1.4-1.3-8.2-3.8-2.9 .1zM592.4 202.1l-2.2 .2-1.5 1.6-5.6 15.5 0 2.1 7 17.1 2.5 1.9 14.7 1.3 2.3-.7 1-2.3 0-29.3-.6-1.8-1.6-1zM361.9 94.5l-1.5 1.1-.6 1.8 0 18.1 .7 2 1.9 1 2-.5 13.6-8.9 1.3-2.8-1.2-12.5-1.1-2-.3-.3-2.8-.6zM558.4 141.5l-.1 2.2 1.4 1.6 18.2 9.6 2.3 .1 1.8-1.5 3.7-7.5 .1-2.4-4-10.7-2.6-1.9-13.3-1.2-1.8 .4-1.2 1.3zM369.2 231.8l-.6 2.1 .9 2 8.5 7.8 2.8 .8 17.6-4.2 2.1-1.8-.3-2.7-3.2-5-1.6-1.3-17.6-5.5-1.8 0-1.5 1zM423.9 33.8l-1.6 2.8 1.3 25.1 1 2.1 2.3 .7 13.1-1.1 1.7-.7 .9-1.6 5.1-23-.9-3-8.1-7-1.6-.7-1.8 .4zM364.1 76.1l-2-.3-1.6 1.1-.7 1.9 0 9.4 1.2 2.4 2.7 .5 7.4-2.3 1.8-1.5 .2-2.3-1.3-4.2-1.5-1.8zM559.7 248.3l-2 .9-.9 2-.2 6.7 .8 2.2 2.2 .9 19.2 0 2-.8 .9-1.9 .8-6.7-.7-2.4-2.3-1z" fill="#3f76a2"/>
<path d="M528.1 24.9l-1.2 2 .5 2.2 8.7 12 1.7 1.2 2-.2 1.4-1.4 6.4-12.4 .3-2.1-1.3-1.7-7.6-5.2-1.7-.5-1.7 .6zM610.6 55.6l-.8-2-1.9-.9-2.1 .5-1.2 1.9-2.4 13.5 .4 2.3 2 1.2 2.5 .5 2.4-.7 1.1-2.3zM584.8 128.8l-.5 2.9 3.8 9.8 1.1 1.4 1.7 .6 16.7 0 2.1-.9 .9-2.1 0-10.8-1.6-2.7-14-7.1-2-.3-1.7 1.1zM406.1 119l-.3 2.6 1.8 1.8 20.4 7.5 3.2-.6 11.8-11.5 .9-1.6-.3-1.8-5-10.4-1.7-1.5-9.3-3.2-1.9 0-9.5 3.2-1.6 1.3zM532.5 188.7l.7 2.9 9.6 10 2.3 .9 4.3-.1 2.2-1 5.1-6.1 .6-2.7-.6-2.3-1.4-1.9-16-9.4-1.8-.4-1.7 .7-.1 0-.9 1.5zM425.3 218.9l-.8 1.8 .4 1.8 8.5 14.8 1.7 1.3 2.2-.1 5.3-2.5 1.4-1.4 4.1-8.1 .3-1.8-.7-1.6-10.6-11.8-2.1-.9-2.3 .9zM494.4 209.8l-1.8 .1-1.5 1.2-6.6 10.4-.4 2.5 1.8 1.9 10 4.1 2.4-.1 1.6-1.8 3-8.9-.3-2.7-3.3-4.7-1.7-1.2zM439.5 206.6l-.5 1.8 .8 1.7 10 11.2 3.2 .9 7.2-2.4 2-2.2 1.7-8.5-.8-2.7-6.4-6.7-2.7-.9-9.6 1.6-2.1 1.4zM361.2 123.5l-1.4 2.5 0 14.1 .7 2 1.8 1 26.9 4.1 1.9-.4 1.3-1.4 9-20.4 .1-2.2-1.4-1.7-17.5-9.7-3.1 .1zM566.4 103.3l-1.5 1.8-3.8 15 .2 2.1 1.7 3.1 2.4 1.6 14.5 1.4 2.6-1.1 7.8-9.7 .6-2.1-.8-10.8-.7-1.8-1.7-.9-12.7-2.6-2 .3zM468.1 207.3l-1.4 1.9-1.7 8.5 .1 1.8 1.1 1.3 6.4 4.3 2.6 .4 3.3-1.2 1.6-1.2 8.7-13.6 .5-1.7-.7-1.8-4.6-5.6-1.8-1.1-2.1 .4zM591.9 11.7l-1.9 .6-1 1.7-3.1 13 .1 1.9 1.2 1.4 2.6 1.6 2.9 .1 8.1-4.2 1.6-2.7-.4-10.5-.9-2.1-2.1-.8zM565.6 14.6l1 3 11.9 9.8 1.8 .7 1.9-.6 1.1-1.7 2.5-10.4-.6-2.6-2.4-1.1-14.2 0-1.8 .7-1.1 1.6z" fill="#2f6390"/>
<path d="M459.4 119.7l-1.2 1.7 .2 2 6.6 14.3 1.9 1.6 6.6 2 2.1-.2 14-6.7 1.6-1.8 2.4-8.2 0-1.9-1.2-1.5-16.2-10.9-1.8-.5-1.6 .6zM480.4 11.7l-1.7 .6-1.1 1.5-6.2 19.8 .5 2.8 2.3 2.7 2.3 1.1 14.3-.1 2.1-.9 4.8-4.9 .8-1.7 .4-3.5-.6-2.2-11.2-14.1-2.3-1.1zM476.5 98.5l-.7 2 0 4.4 1.3 2.5 17.2 11.5 3.3 .1 9.6-6 1.4-3-2.1-14.1-2.1-2.4-16.4-5.3-3.2 .8zM433.9 244.2l-.6 1.8-.3 11.9 .9 2.2 2.1 .9 22.7 0 2.1-.9 .9-2.2-.1-2.9-1-2.2-14.8-13.2-3.2-.5-6.8 3.2-1.1 .9zM407 126.2l-2.2 0-1.6 1.6-8.7 19.8 .1 2.7 .9 1.7 2.3 1.5 27 2.9 1.8-.4 3.7-2.2 1.1-1.3 .3-1.8-2.5-14.8-1.9-2.3zM485.6 191l-1.3 2.2-.1 1.6 .7 2.1 7 8.7 1.5 1 3.7 1 3.1-1 9-10.9 .7-1.6-.4-1.7-5.1-9.3-2-1.5-1-.2-2.3 .4zM442.7 11.7l-2 .8-1 1.9-.8 8.6 1.1 2.5 9.3 8.1 2 .8 14.8-.3 1.8-.6 1-1.5 5.2-16.4-.5-2.7-2.4-1.2zM510.3 243.6l-1.8 1.2-.5 2.1 1.6 11.5 1 1.9 2 .7 11.7 0 1.9-.7 1-1.7 1.5-7.7-.9-2.8-6.6-5.8-2.7-.6zM520.1 160.6l-1.9 .6-1.2 1.7-1.9 7.7 .4 2.3 1.9 1.4 14.6 3 2.6-.7 .5-.5 1-1.7 .7-4.4-.4-2.1-3.2-5.3-2.4-1.4zM429.4 184.7l-2 .4-1.4 1.5-3.4 9-.1 1.9 1 1.5 8.7 7.4 2.4 .7 2.1-1.4 3.2-5.3 .3-2.5-3.1-10.1-2.3-2zM595.7 101.2l-2.1 1.1-.7 2.2 .8 10 1.6 2.4 10.9 5.6 2 .3 1.7-1.1 .7-1.9 0-16.3-.9-2.2-2.3-.8zM554 202.9l-.6 2.7 4.4 14.8 1.2 1.7 2.1 .5 17.3-3.1 2.3-1.9 4.5-12.2-.2-2.5-1.9-1.5-21.5-4.9-3 .9zM382.9 92l-1.5 1.2-.4 1.9 1.1 11.3 1.5 2.3 16.5 9.2 2.2 .3 1.8-1.4 7.4-12.2 .4-1.7-.6-1.7-10.7-13.6-1.6-1.1-1.9 .1zM409 181.2l-2.6 1.9-1.9 4.5-.1 1.8 .8 1.5 6.4 6.1 2.6 .8 3.3-.7 2.3-1.9 4-10.6 .1-2-1.2-1.5-1.9-.6zM477.3 227.7l-1.6 1.2-.5 1.9 .4 6.8 1.7 2.5 10.5 5.4 2.8 0 7.7-4 1.3-1.5 .1-2-.7-2.6-1.8-1.9-15.8-6.4-2.1-.1z" fill="#4f87b2"/>
<path d="M363.3 146l-2.5 .7-1 2.3 0 28.1 .9 2.2 2.2 .8 14.2-.7 2.3-1.3 14-20.6 .5-1.4 0-.2-.4-1.8-1.4-2.5-2.1-1.5zM553.8 232.8l-.5 1.7 .2 6.6 .6 1.7 1.2 1.6 2.4 1.1 25-.1 2.1-.8 1.9-1.9 .9-1.5-.2-1.8-6.2-15.1-1.3-1.5-2-.3-18.3 3.2-2 1.3zM448.7 155.9l-1 1.7 .3 1.9 5.1 10.3 1.3 1.3 6.1 3.2 1.6 .3 3.1-.1 2.2-1.2 8.1-10.6 .6-2.3-2.3-14.3-2.1-2.4-5.2-1.6-2.8 .6zM564.6 51.4l-1.1 1.7-3.8 15.5 .2 2.1 1.5 1.4 6.2 2.7 2.7-.2 9-5.4 1.2-1.3 .2-1.8-1.2-7.3-1.5-2.1-9.9-5.6-3.3 .2zM362.4 236l-1.9 1-.7 2 0 19 .9 2.1 2.1 .9 11 0 2.1-.8 .9-2 .5-9.9-1-2.3-10.1-9.4-2.5-.8zM498.1 122l-1.3 1.7-2.8 9.2 .6 2.8 9.4 11.2 1.6 1 2.4 .5 2.7-.7 15.2-13.6 .9-2.6-1.4-10.4-2-2.4-11.4-4-2.6 .2zM508.2 219l-1.8 .6-1.1 1.5-3.8 11 0 1.9 1.5 4.9 1.4 1.8 .9 .4 2.1 .3 10.4-2.4 2.1-2 4.7-13.5-.3-2.7-2.4-1.3zM428.6 158l-1.4 2.2-2.2 17.2 .5 2.2 .7 .8 1.8 1.2 7.8 1.5 2.5-.7 10.7-9.5 1-1.7-.3-1.9-4.9-9.9-1.8-1.5-8-2.5-2.4 .3zM537 56.3l-1.6-1.4-2.2 .1-1.5 1.5-8.2 17.7-.1 2.4 1.9 1.7 13.5 4.3 1.8 0 1.5-1 4.4-5.5 .6-1.7-.4-1.7zM361.8 52.5l-1.5 1.1-.5 1.8 0 13.6 1.7 2.7 8.1 3.9 2.1 .2 1.8-1.4 10.5-17.5 .2-2.5-1.6-1.8-8.4-3.6-2.2-.1zM594.8 34l-1.3 1.4-.2 2 1.7 6.9 1.4 1.9 6.4 3.8 2.4 .3 3.2-1 1.6-1 .6-1.8 0-12.5-.5-1.7-1.4-1.1-3.5-1.4-2.4 .1zM362.9 25.5l-2.2 .9-.9 2.1 0 17.5 1.3 2.5 2.7 .3 5.3-1.8 1.6-1.4 .3-2.1-3.1-15.5-1-1.7-1.8-.7zM465.1 252.7l-.7 2.1 .1 3.3 .9 2.1 2.1 .8 15 0 1.9-.7 1-1.7 1.7-7.8-.2-1.9-1.4-1.4-8.7-4.5-1.9-.3-1.7 1zM530.5 137.7l-2.1-.9-2.1 .7-12.4 11.1-1 2 .6 2.1 3 3.8 2.2 1.2 10.9 .7 2-.6 1.1-1.7 2.9-10.7-.7-2.9zM556.4 23.9l-1.2 2 .6 2.3 8.9 11.5 2.3 1.2 2.3-1 6.4-7.1 .8-2.2-1.1-2.1-10.1-8.3-1.8-.7-1.8 .6zM507.3 59.8l-.9 2 .6 2.1 8.6 10.3 1.7 1.1 1.9-.3 1.4-1.4 7.7-16.4 0-2.5-1.9-1.6-7.6-2.3-2.9 .7zM406.3 234.4l-.9 2 .7 2 1.8 1.1 19.6 2.9 2.2-.4 1.2-1.9-.3-2.1-8.2-14.2-2.2-1.5-2.5 .9zM503.2 27.6l-1.5 2.3-.2 1.3 .3 1.9 1.4 1.2 8.9 4.2 1.9 .2 1.7-1 6.4-8.2 .6-2.5-1.6-2-5.2-2.6-2.7 0z" fill="#5890ba"/>
<path d="M509.6 92.4l-.5 2.2 2.3 15.2 2 2.4 11.5 4 2.1 0 1.6-1.3 12.3-22.6 .3-2.2-.7-2.6-2-2.1-17.6-5.6-1.9 .1-1.5 1.1zM569.2 44.3l-.8 2.5 1.5 2.1 8.8 5 3.3-.2 8.9-6.6 1.1-3.1-1.8-7.6-1.4-1.8-4.4-2.8-2-.4-.8 .1-1.8 1zM491.7 248.1l-1.6 2-1.5 7.3 .6 2.5 2.3 1.1 12.2 0 2.3-1 .7-2.4-1.7-11.9-1.6-2.3-2.8 0zM429.9 67.1l-2 1-.7 2 .7 25.3 .6 1.7 1.5 1.1 6.7 2.3 1.7 0 1.5-.9 11.8-13.8 .7-2-.1-9.9-1.3-2.5-7.2-4.8-1.9-.6zM401.5 156.7l-2.1 .5-1.1 1.7 .2 2.1 7.6 15.7 2.9 1.7 10.6-.6 1.9-.8 .9-1.8 1.7-13-.6-2.2-2-1.2zM540.9 144.7l-1.8 .7-1 1.5-3.1 11.6 .3 2.3 2.4 3.9 1.6 1.3 2.1 0 9.5-3.7 1.9-2.2 2.5-11.9-.6-2.6-2.4-1.1zM364.6 204l-2.1-.6-1.9 1-.8 2 0 23.7 1 2.3 2.4 .7 .4-.1 2-1.1 7.8-10 .6-1.6 .6-7.2-1.3-2.7zM432.8 132.6l-.9 2.6 2.6 15.4 2 2.3 6.7 2.1 2.9-.6 15.1-13.2 1-1.7-.3-1.8-6.8-14.7-1.7-1.6-5-1.6-3 .7zM464.3 177.3l-1.7 .7-1 1.6-3.6 15.5 .7 2.7 5.6 5.8 1.8 .9 1.9-.5 12.1-7.6 1.3-2.3 .1-1.1-.9-2.4-12.9-12.5-2.2-.8zM594.7 176.1l-1.9 2.6-1.1 17.8 .5 1.9 1.6 1.2 13 3.7 2.6-.5 1.2-2.4 0-26.2-1.3-2.5-2.8-.3zM362.8 11.7l-2.1 .9-.9 2.1 0 5 .8 2.1 2.1 .9 3.8 .2 2.4-1 4.6-5.2 .8-2.1-.9-2.1-2.1-.8zM440.7 184.1l-.9 3.1 2.5 8.1 1.3 1.7 2.1 .4 7.2-1.2 2.5-2.3 3.4-14.8-.2-1.9-1.3-1.4-2.8-1.4-1.7-.4-1.6 .8zM496 11.7l-2 .8-1 2 .7 2.1 5.7 7.1 1.7 1.1 2-.3 8-4.1 1.3-1.4 .2-1.8-.5-3-1-1.8-2-.7zM598.5 75.2l-1.5 2.1-2.4 17.6 .8 2.4 2.4 1 10-.6 2-1 .8-2 0-16.1-.7-1.9-1.8-1.1-6.8-1.2-2 .3z" fill="#346a98"/>
<path d="M495.8 40.3l-.9 1.6 .3 1.8 6 12.6 2.2 1.6 2.6-.8 7.9-7.6 .8-2.9-.9-3-1.6-1.9-10.3-4.9-1.8-.2-1.6 .8zM583 157.7l-.3 1.6 .5 5.3 .9 1.9 6.5 6.4 3.2 .6 14.9-6 1.4-1.2 .5-1.6 0-15.4-.9-2.1-2.1-.9-17 0-2.7 1.6zM453.2 37.1l-1.9 .7-1 1.7-5 22.4 .1 1.8 1.1 1.3 6.1 4.2 2.7 .3 14-5.1 2-2.5 1.6-18.6-.7-2.1-2.6-3.2-2.4-1.1zM407.9 68.3l-2.4 2-3.8 12.1 .5 2.7 11.2 14.3 1.5 1 1.9 0 6.3-2.2 1.5-1.1 .5-1.8-.8-26.4-1.1-2.3-2.4-.6zM531.8 118.6l-2.6 .9-.9 2.5 1.4 10.1 .8 1.6 6.8 7.3 2.2 .9 13.8-.2 2.7-1.7 4.7-10.5-.1-2.7-1.5-2.8-2.2-1.6zM533.5 249.3l-2.1 2.3-1.1 5.8 .6 2.5 2.4 1.1 17.4 0 2.1-.8 .9-2.1 .3-9.6-.6-1.9-.6-.8-1.4-1.1-1.8 0zM554.3 30.8l-1.7-1-1.9 .1-1.4 1.4-5.8 11 0 2.7 2.2 1.7 15.2 2.8 2.3-.5 .8-.6 1.2-2 0 0-.6-2.3zM506.7 151l-1.9 .2-1.3 1.2-7.5 12.3-.1 2.8 4.3 9.5 2.2 1.7 .6 .1 2.4-.5 5.1-3.8 1.2-1.7 3-12.1-.5-2.5-4.4-5.8-1.7-1.1zM514.6 196.6l-1.8-.1-1.4 1-8.7 10.5-.7 1.8 .6 1.8 2.3 3.3 2.3 1.3 12 .4 2.5-1.1 .5-2.7-3.7-13.6-2-2zM378.7 210.7l-1.3 2.3-.4 5.3 .5 1.9 1.6 1.2 13.7 4.3 2.5-.3 1.4-2.1 1.1-8.2-1.2-2.9-7.8-5.7-1.7-.6-1.7 .5zM583.5 56.1l-1.1 2.9 1.2 7.3 1.7 2.2 9.2 4.3 2.7-.1 .3-.2 1.5-2.1 2.8-15.4-.2-1.8-1.2-1.4-4.5-2.6-3.4 .1zM517.1 40.4l-.5 2.7 .9 2.9 2 2.1 11.2 3.3 1.9 0 1.5-.6 1.4-1.1 .4-.6 .6-1.8-.6-1.7-8.6-11.9-2.4-1.3-2.4 1.2zM397.2 164.8l-1.5-1.4-2-.1-1.7 1.2-9.7 14.2-.5 1.9 .7 1.7 6.7 8.2 1.4 1 1.8 0 7.3-2.3 1.9-1.8 2.5-6.1-.1-2.5zM530.9 224.4l-2.5-.1-1.7 1.8-4 11.4 0 1.7 .9 1.5 6.1 5.4 2.8 .6 15.9-4.6 1.6-1.1 .6-1.8-.1-3.3-1.6-2.6z" fill="#6fa2c6"/>
<path d="M390.4 50.8l-.4 2.1 1.1 1.8 13.2 10.3 2.4 .6 11.6-2 1.8-1.1 .6-2-1.2-23.4-.7-1.7-1.5-1-11.9-3.4-1.9 .1-1.5 1.2zM518.1 11.7l-2.3 1.1-.7 2.4 .4 2.5 1.7 2.2 6.1 3 3.1-.2 7.5-5.6 1.3-2.1-.8-2.3-2.2-1zM586.6 246.7l-.9 1.8-1.1 9.2 .8 2.3 2.2 1 20 0 2.1-.9 .9-2.1 0-10.3-.8-2-1.9-1-16.2-1.5-2.3 .8zM392.7 194.3l-2 2.1-1.4 4.6 .1 1.8 1 1.5 8.1 5.9 2.7 .4 4.8-1.6 1.8-1.8 2.1-5.4 .1-1.8-.8-1.5-6.2-5.8-3-.7zM478.3 143l-1.4 1.3-.3 1.9 2.1 12.8 2.2 2.4 9.9 2.5 1.9-.2 1.4-1.2 7-11.6 .4-1.7-.7-1.7-7.7-9.2-1.7-1-1.9 .3zM457.1 71.8l-1.5 1.1-.5 1.8 .1 8.4 1.3 2.5 15.4 10 2.1 .5 1.8-1 7.4-8.4 .6-2.6-2.5-11-1.3-1.9-6.5-4.1-2.6-.2zM541.7 48.8l-3 1.2-.1 .1-.1 3.2 10.4 17.5 1.5 1.3 2 0 2.3-.7 1.9-2.2 3.4-13.8-.4-2.3-1.9-1.3zM486 70.7l-1.4 1.4-.2 2 2.1 9.1 2 2.2 16.3 5.3 1.8 0 1.5-1.2 6.3-8.9 .5-1.9-.7-1.7-10.2-12.5-1.7-1-2 .2zM543.7 84l-.5 2.6 .6 2.6 1.5 1.9 17.3 9.5 2.9-.1 4.7-2.6 1.2-1.3 .2-1.9-3.4-15.2-1.7-2.1-8.1-3.5-2.1-.1-5.2 1.7-1.3 1zM382.3 247l-1.6 1-.7 1.7-.4 8.1 .8 2.3 2.2 .9 16.2 0 2.2-1 .8-2.2-.8-11.7-1.2-2.2-2.5-.5zM478.5 43l-2.1 .8-.9 2-1.5 16.5 1.4 2.8 5.5 3.4 2.9 .2 13.8-6.7 1.5-1.7-.1-2.3-6.5-13.4-2.7-1.7zM541.3 169l-1.9 2.3-.3 2.1 .3 1.8 1.1 1.3 13.7 8 2.4 .3 1.8-1.6 4-8.6 .2-1.9-1-1.7-6.8-5.6-3-.4zM523 196.2l-1.3 1.4-.2 2 3.5 12.9 1.2 1.6 1.9 .6 1.8-.8 8.9-8 1-2.1-.8-2.2-7.2-7.5-1.7-.9-1.9 .3z" fill="#4a80ac"/>
<path d="M371.1 23.6l-.7 2.6 3.7 18.3 1.7 2.1 8.6 3.7 2 .1 1.7-1.2 12-19.2 .2-2.8-6.4-13.8-2.7-1.7-8.1 0-2.2 1zM442 101.5l-.4 3.2 5.2 10.6 1.7 1.6 5.4 1.8 2.7-.4 15.1-10.8 1.3-2.5 0-3.8-1.4-2.5-15.3-10-2.1-.4-1.8 1zM567.3 172.8l-1.7 1.6-6 12.9-.2 2 .6 2.3 2.2 2.1 23 5.3 2.5-.5 1.2-2.2 1.2-18.5-.9-2.3-6.3-6.2-3-.7zM531 216.7l-1 2.7 1.6 2.3 17.4 8.5 2.1 .2 1.7-1.2 2.4-3.7 .4-2.5-4.6-15.6-1.1-1.6-1.9-.6-3.2 .1-1.9 .8zM362.7 182.9l-2.1 .9-.8 2.1 0 9.6 1.2 2.5 13.5 9.8 1.7 .6 1.7-.5 7.1-4.6 1.2-1.7 1.8-6.1-.6-2.7-7.7-9.5-2.5-1.1zM542.5 11.7l-2.2 1-.7 2.4 1.2 2.1 8.7 5.8 1.7 .5 1.7-.5 8.1-5.9 1.2-2.1-.7-2.3-2.3-1zM546.1 94.8l-2.3-.3-1.7 1.5-8.8 16 0 2.7 2.2 1.7 20.1 3 2.1-.5 1.2-1.7 2.9-11.3-.1-1.9-1.4-1.5zM508.6 179.4l-1.2 1.8 .3 2.1 4.9 8.8 1.7 1.4 3.6 1.2 2.3-.2 8-4.2 1.5-1.8 1.5-5.2-.3-2.4-2-1.4-14.6-3-2.4 .5zM561.7 149.6l-2.6-.1-1.7 2.1-1.8 8.8 1 2.9 7.5 6.2 2.9 .5 11.3-3.8 1.5-1.3 .5-1.9-.2-2.3-1.6-2.4zM414.9 200.5l-2.2 1.8-2 5.3 .6 3.1 6.7 7.2 2.2 1 2.2-.9 6.4-6.7 .8-2.2-1-2.1-7.7-6.5-2.5-.7z" fill="#6498c0"/>
<rect x="370.4" y="22.3" width="229.6" height="228.1" fill="#fff" filter="url(#tN2)" opacity="0.6"/>
<rect x="370.4" y="22.3" width="229.6" height="228.1" fill="#fff" filter="url(#tN)" opacity="0.7"/>
</g>
<use href="#nwC" fill="none" stroke="#b4bfc9" stroke-width="1.1"/>
<defs><radialGradient id="nwG" cx="0.1" cy="0.15" r="0.7"><stop offset="0" stop-color="#fff" stop-opacity="0.28"/><stop offset="1" stop-color="#fff" stop-opacity="0"/></radialGradient></defs>
<rect x="370.4" y="22.3" width="229.6" height="228.1" fill="url(#nwG)"/>
</g></g>
<defs><clipPath id="cS"><path d="M53 297 L80 283 L104 276 L128 284 L150 296 L148 330 L101 355 L62 341 L55 320Z"/></clipPath>
<filter id="shS" x="30" y="300" width="150" height="80" filterUnits="userSpaceOnUse"><feGaussianBlur stdDeviation="3"/></filter>
<filter id="tS" x="45" y="268" width="112" height="95" filterUnits="userSpaceOnUse">
<feTurbulence type="turbulence" baseFrequency="0.28" numOctaves="1" seed="4"/>
<feComponentTransfer><feFuncA type="table" tableValues="1 0.8 0.2 0 0 0 0 0 0 0"/></feComponentTransfer>
<feColorMatrix type="matrix" values="0 0 0 0 1  0 0 0 0 1  0 0 0 0 1  0 0 0 1 0"/>
</filter>
<linearGradient id="gS" x1="0" y1="0" x2="1" y2="0"><stop offset="0" stop-color="#7088a6"/><stop offset="0.5" stop-color="#8094ac"/><stop offset="1" stop-color="#b8c4d2"/></linearGradient>
<mask id="mS"><rect x="45" y="268" width="112" height="95" fill="#fff" filter="url(#tS)"/></mask>
</defs>
<ellipse cx="110" cy="345" rx="42" ry="9" fill="#ddd" filter="url(#shS)"/>
<path d="M53 297 L80 283 L104 276 L128 284 L150 296 L148 330 L101 355 L62 341 L55 320Z" fill="#303a48"/>
<g clip-path="url(#cS)"><rect x="45" y="268" width="112" height="95" fill="url(#gS)" mask="url(#mS)"/>
<path d="M53 297 L104 276 L150 296 L101 318Z" fill="#1a2028" opacity="0.42"/>
<path d="M101 318 L150 296 L148 330 L101 355Z" fill="#e8eef5" opacity="0.16"/></g>
<defs>
<filter id="shE" x="30" y="420" width="150" height="100" filterUnits="userSpaceOnUse"><feGaussianBlur stdDeviation="3"/></filter>
<filter id="hlE" x="30" y="400" width="150" height="110" filterUnits="userSpaceOnUse"><feGaussianBlur stdDeviation="1.3"/></filter>
<filter id="tE" x="50" y="405" width="100" height="95" filterUnits="userSpaceOnUse">
<feTurbulence type="turbulence" baseFrequency="0.09 0.14" numOctaves="2" seed="8"/>
<feColorMatrix type="matrix" values="0 0 0 0 0.85  0 0 0 0 0.93  0 0 0 0 1  -3.2 0 0 0 0.95"/>
<feGaussianBlur stdDeviation="0.6"/>
</filter>
<linearGradient id="gE" x1="0" y1="0" x2="0.3" y2="1"><stop offset="0" stop-color="#96c6ec"/><stop offset="0.5" stop-color="#86bce8"/><stop offset="1" stop-color="#7cb4e2"/></linearGradient>
<clipPath id="cE"><path d="M56 434 Q60 427 75 422 L98 414 Q120 418 143 430 Q146 450 144 464 L104 494 Q80 482 57 468 Q55 450 56 434Z"/></clipPath>
</defs>
<path d="M46 472 L104 502 L154 470 L150 452 L104 482 L50 458Z" fill="#d2e4f4" filter="url(#shE)"/>
<path d="M56 434 Q60 427 75 422 L98 414 Q120 418 143 430 Q146 450 144 464 L104 494 Q80 482 57 468 Q55 450 56 434Z" fill="url(#gE)"/>
<g clip-path="url(#cE)">
<path d="M104 455 Q125 442 143 432 Q146 450 144 464 L104 494Z" fill="#7fb2e0" opacity="0.55"/>
<path d="M56 440 L104 458 L104 494 L57 468Z" fill="#7db4e4" opacity="0.35"/>
<rect x="50" y="405" width="100" height="95" fill="#fff" filter="url(#tE)" opacity="0.4"/>
<g filter="url(#hlE)">
<ellipse cx="80" cy="434" rx="5" ry="2.2" fill="#f2f8fe" opacity="0.95"/>
<ellipse cx="98" cy="420" rx="3.5" ry="1.5" fill="#f2f8fe" opacity="0.95"/>
<ellipse cx="99" cy="432" rx="4" ry="1.6" fill="#f2f8fe" opacity="0.95"/>
<ellipse cx="118" cy="440" rx="4" ry="2" fill="#f2f8fe" opacity="0.95"/>
<ellipse cx="92" cy="424" rx="3" ry="1.2" fill="#f2f8fe" opacity="0.95"/>
<ellipse cx="130" cy="428" rx="3" ry="2" fill="#f2f8fe" opacity="0.95"/>
<ellipse cx="104" cy="458" rx="2" ry="2.5" fill="#f2f8fe" opacity="0.95"/>
<ellipse cx="104" cy="476" rx="1.5" ry="2.5" fill="#f2f8fe" opacity="0.95"/>
<ellipse cx="75" cy="436" rx="3" ry="1.5" fill="#f2f8fe" opacity="0.95"/>
</g></g>
<polyline points="184.9,341.6 202.1,341.6" fill="none" stroke="#505050" stroke-width="1.05"/>
<polyline points="188.6,334.5 188.6,351" fill="none" stroke="#505050" stroke-width="1.05"/>
<polyline points="202.1,341.6 213,333.5" fill="none" stroke="#505050" stroke-width="1.05"/>
<polyline points="219.5,333.5 229.6,341.6" fill="none" stroke="#505050" stroke-width="1.05"/>
<polyline points="202.1,341.6 207.6,357.1 225.4,357.1 229.6,341.6" fill="none" stroke="#505050" stroke-width="1.05"/>
<polyline points="205,343 209.5,355" fill="none" stroke="#505050" stroke-width="1.05"/>
<polyline points="227.5,343 224,355" fill="none" stroke="#505050" stroke-width="1.05"/>
<text x="216.2" y="335.6" font-size="11" fill="#333" text-anchor="middle">S</text>
<polyline points="229.6,341.6 246.2,336.3" fill="none" stroke="#505050" stroke-width="1.05"/>
<polyline points="246.2,336.3 251.5,325.5" fill="none" stroke="#505050" stroke-width="1.05"/>
<polyline points="256.2,323 271.3,323.4 273.8,341.2 259.1,348.6 246.2,336.3" fill="none" stroke="#505050" stroke-width="1.05"/>
<polyline points="258.5,346.5 248.5,337" fill="none" stroke="#505050" stroke-width="1.05"/>
<polyline points="271.3,323.4 281,313.5" fill="none" stroke="#505050" stroke-width="1.05"/>
<polyline points="272.8,325 282.5,315" fill="none" stroke="#505050" stroke-width="1.05"/>
<text x="284.5" y="315.8" font-size="10.5" fill="#333" text-anchor="middle">O</text>
<text x="253.8" y="325.8" font-size="10.5" fill="#333" text-anchor="middle">N</text>
<polyline points="273.8,341.2 285.4,352.8 280.5,363.5" fill="none" stroke="#505050" stroke-width="1.05"/>
<polyline points="274.5,343.5 283.5,352" fill="none" stroke="#505050" stroke-width="1.05"/>
<polyline points="259.1,348.6 260.3,365.7 275.5,368" fill="none" stroke="#505050" stroke-width="1.05"/>
<polyline points="260.3,365.7 251,375.5" fill="none" stroke="#505050" stroke-width="1.05"/>
<polyline points="258.5,364 249.5,373.5" fill="none" stroke="#505050" stroke-width="1.05"/>
<text x="248.2" y="382" font-size="10.5" fill="#333" text-anchor="middle">O</text>
<text x="279.2" y="372.4" font-size="10.5" fill="#333" text-anchor="middle">N</text>
<polyline points="256.7,318.5 256.7,311.2 253.6,300.1 248.2,290.5" fill="none" stroke="#505050" stroke-width="1.05"/>
<polyline points="253.6,300.1 266.5,296.5" fill="none" stroke="#505050" stroke-width="1.05"/>
<text x="246" y="290" font-size="10.5" fill="#333" text-anchor="middle">R</text>
<text x="250.5" y="292.5" font-size="7" fill="#333" text-anchor="middle">1</text>
<text x="271" y="300.5" font-size="10.5" fill="#333" text-anchor="middle">R</text>
<text x="276" y="303" font-size="7" fill="#333" text-anchor="middle">2</text>
<polyline points="281.8,376 281.8,375.5 276.8,387.8 264.5,394.5" fill="none" stroke="#505050" stroke-width="1.05"/>
<polyline points="276.8,387.8 282.5,398.5" fill="none" stroke="#505050" stroke-width="1.05"/>
<text x="259.5" y="399.5" font-size="10.5" fill="#333" text-anchor="middle">R</text>
<text x="264.5" y="402" font-size="7" fill="#333" text-anchor="middle">2</text>
<text x="286" y="407.5" font-size="10.5" fill="#333" text-anchor="middle">R</text>
<text x="291" y="410" font-size="7" fill="#333" text-anchor="middle">1</text>
<polyline points="285.4,352.8 303.4,350.3" fill="none" stroke="#505050" stroke-width="1.05"/>
<polyline points="303.4,350.3 308.7,333.3 325.6,333.3 330.8,350.3" fill="none" stroke="#505050" stroke-width="1.05"/>
<polyline points="306,349 310.5,335" fill="none" stroke="#505050" stroke-width="1.05"/>
<polyline points="323.8,335 328.5,349" fill="none" stroke="#505050" stroke-width="1.05"/>
<polyline points="303.4,350.3 313.5,357.5" fill="none" stroke="#505050" stroke-width="1.05"/>
<polyline points="321,357.5 330.8,350.3" fill="none" stroke="#505050" stroke-width="1.05"/>
<text x="317.1" y="364.2" font-size="11" fill="#333" text-anchor="middle">S</text>
<polyline points="330.8,350.3 347.8,350.3" fill="none" stroke="#505050" stroke-width="1.05"/>
<polyline points="347.8,350.3 358.5,343.5" fill="none" stroke="#505050" stroke-width="1.05"/>
<polyline points="366.5,343.5 375.8,350.8" fill="none" stroke="#505050" stroke-width="1.05"/>
<polyline points="347.8,350.3 353,366 369.9,367.2 375.8,350.8" fill="none" stroke="#505050" stroke-width="1.05"/>
<polyline points="350.5,352 354.5,364" fill="none" stroke="#505050" stroke-width="1.05"/>
<polyline points="372.5,352.5 368,365" fill="none" stroke="#505050" stroke-width="1.05"/>
<text x="362.6" y="344.9" font-size="11" fill="#333" text-anchor="middle">S</text>
<polyline points="375.8,350.8 393.3,352.6 397.9,369.5" fill="none" stroke="#505050" stroke-width="1.05"/>
<polyline points="391.5,355 395.5,368" fill="none" stroke="#505050" stroke-width="1.05"/>
<polyline points="369.9,367.2 379.5,374.5" fill="none" stroke="#505050" stroke-width="1.05"/>
<polyline points="387.5,374.5 397.9,369.5" fill="none" stroke="#505050" stroke-width="1.05"/>
<text x="383.3" y="382.8" font-size="11" fill="#333" text-anchor="middle">S</text>
<polyline points="397.9,369.5 414.3,369.5" fill="none" stroke="#505050" stroke-width="1.05"/>
<polyline points="409.6,360.2 409.6,377.7" fill="none" stroke="#505050" stroke-width="1.05"/>
<text x="428.8" y="348.7" font-size="17" fill="#111">R<tspan font-size="11.5" dy="4">1</tspan><tspan dy="-4"> : C</tspan><tspan font-size="11.5" dy="4">10</tspan><tspan dy="-4">H</tspan><tspan font-size="11.5" dy="4">21</tspan></text>
<text x="428.8" y="371.3" font-size="17" fill="#111">R<tspan font-size="11.5" dy="4">2</tspan><tspan dy="-4"> : C</tspan><tspan font-size="11.5" dy="4">8</tspan><tspan dy="-4">H</tspan><tspan font-size="11.5" dy="4">17</tspan></text>
<polyline points="191.3,409.3 186,409.3 186,484.7 191.3,484.7" fill="none" stroke="#333" stroke-width="1"/>
<polyline points="183.3,439.3 191.3,453.3 200,439.7 204.7,446.7" fill="none" stroke="#333" stroke-width="0.9"/>
<text x="208.7" y="459" font-size="12.5" fill="#1e1ec4" text-anchor="middle">N</text>
<text x="208.7" y="470" font-size="12.5" fill="#1e1ec4" text-anchor="middle">H</text>
<polyline points="211.5,449 216.7,441.3 222.5,449" fill="none" stroke="#1e1ec4" stroke-width="1.05"/>
<polyline points="215.7,441.3 215.7,428.5" fill="none" stroke="#1e1ec4" stroke-width="1.05"/>
<polyline points="217.7,441.3 217.7,428.5" fill="none" stroke="#1e1ec4" stroke-width="1.05"/>
<text x="216.7" y="428.8" font-size="12.5" fill="#1e1ec4" text-anchor="middle">O</text>
<text x="225.3" y="459" font-size="12.5" fill="#1e1ec4" text-anchor="middle">N</text>
<text x="225.3" y="470" font-size="12.5" fill="#1e1ec4" text-anchor="middle">H</text>
<polyline points="229,449 238,442.7" fill="none" stroke="#1e1ec4" stroke-width="1.05"/>
<polyline points="238,442.7 238,427.3 252.7,419.3 267.3,427.3 267.3,442.7 252.7,450 238,442.7" fill="none" stroke="#1e1ec4" stroke-width="1.05"/>
<polyline points="240.5,428.5 252.7,422" fill="none" stroke="#1e1ec4" stroke-width="1.05"/>
<polyline points="264.8,428.5 264.8,441.5" fill="none" stroke="#1e1ec4" stroke-width="1.05"/>
<polyline points="240.5,441.5 252.7,447.5" fill="none" stroke="#1e1ec4" stroke-width="1.05"/>
<polyline points="267.3,427.3 279.3,416 291.3,427.3" fill="none" stroke="#1e1ec4" stroke-width="1.05"/>
<polyline points="291.3,427.3 306,419.3 320.7,427.3 320.7,442.7 306,450 291.3,442.7 291.3,427.3" fill="none" stroke="#1e1ec4" stroke-width="1.05"/>
<polyline points="293.8,428.5 306,422" fill="none" stroke="#1e1ec4" stroke-width="1.05"/>
<polyline points="318.2,428.5 318.2,441.5" fill="none" stroke="#1e1ec4" stroke-width="1.05"/>
<polyline points="306,447.5 318.2,441.5" fill="none" stroke="#1e1ec4" stroke-width="1.05"/>
<polyline points="320.7,442.7 326,450" fill="none" stroke="#1e1ec4" stroke-width="1.05"/>
<text x="328.7" y="460" font-size="12.5" fill="#1e1ec4" text-anchor="middle">N</text>
<text x="328.7" y="471" font-size="12.5" fill="#1e1ec4" text-anchor="middle">H</text>
<polyline points="331.5,450 337.3,443.5 342.5,450" fill="none" stroke="#1e1ec4" stroke-width="1.05"/>
<polyline points="336.3,443.5 336.3,431" fill="none" stroke="#1e1ec4" stroke-width="1.05"/>
<polyline points="338.3,443.5 338.3,431" fill="none" stroke="#1e1ec4" stroke-width="1.05"/>
<text x="337.3" y="431" font-size="12.5" fill="#1e1ec4" text-anchor="middle">O</text>
<text x="345.5" y="460" font-size="12.5" fill="#1e1ec4" text-anchor="middle">N</text>
<text x="345.5" y="471" font-size="12.5" fill="#1e1ec4" text-anchor="middle">H</text>
<polyline points="349,450 353.8,442.8 366.5,453.3 376.3,442.8 382,448" fill="none" stroke="#333" stroke-width="1.05"/>
<text x="386.8" y="457.5" font-size="12" fill="#333" text-anchor="middle">O</text>
<polyline points="391,450 397,447" fill="none" stroke="#333" stroke-width="1.05"/>
<text x="408.5" y="450" font-size="12" fill="#333" text-anchor="middle">Si</text>
<polyline points="415.5,446 420.5,446" fill="none" stroke="#333" stroke-width="1.05"/>
<text x="424.5" y="450" font-size="12" fill="#333" text-anchor="middle">O</text>
<polyline points="404.5,422.5 404.5,439.5" fill="none" stroke="#333" stroke-width="1.05"/>
<polyline points="404.5,452.5 404.5,469.5" fill="none" stroke="#333" stroke-width="1.05"/>
<path d="M400 426 Q393 446 400 466" fill="none" stroke="#333" stroke-width="0.9"/>
<path d="M427 426 Q434 446 427 466" fill="none" stroke="#333" stroke-width="0.9"/>
<text x="434" y="468" font-size="10" fill="#333" text-anchor="middle">n</text>
<polyline points="429,451 436.3,456.3 448.3,445 460.3,456.3 468,449" fill="none" stroke="#333" stroke-width="1.05"/>
<polyline points="438,409.8 440.5,409.8 440.5,485.5 438,485.5" fill="none" stroke="#333" stroke-width="1"/>
<text x="446.8" y="484.5" font-size="10" fill="#333" text-anchor="middle">6</text>
<polyline points="458.3,409.8 455.8,409.8 455.8,485.5 458.3,485.5" fill="none" stroke="#333" stroke-width="1"/>
<text x="471.5" y="449" font-size="12.5" fill="#e07878" text-anchor="middle">N</text>
<text x="471.5" y="438" font-size="12.5" fill="#e07878" text-anchor="middle">H</text>
<polyline points="474,449 479.8,457.8 485.5,449" fill="none" stroke="#e07878" stroke-width="1.05"/>
<polyline points="478.8,457.8 478.8,468" fill="none" stroke="#e07878" stroke-width="1.05"/>
<polyline points="480.8,457.8 480.8,468" fill="none" stroke="#e07878" stroke-width="1.05"/>
<text x="479.8" y="478.5" font-size="12.5" fill="#e07878" text-anchor="middle">O</text>
<text x="488.5" y="449" font-size="12.5" fill="#e07878" text-anchor="middle">N</text>
<text x="488.5" y="438" font-size="12.5" fill="#e07878" text-anchor="middle">H</text>
<polyline points="491.5,450 497.5,458.3" fill="none" stroke="#e07878" stroke-width="1.05"/>
<polyline points="497.5,458.3 510.8,451.7 525,458.3 525,475 510.8,482.5 497.5,475 497.5,458.3" fill="none" stroke="#e07878" stroke-width="1.05"/>
<polyline points="525,458.3 525,444.2" fill="none" stroke="#e07878" stroke-width="1.05"/>
<polyline points="525,458.3 537.5,448.3 543,456" fill="none" stroke="#e07878" stroke-width="1.05"/>
<polyline points="510.8,482.5 500,492.5" fill="none" stroke="#e07878" stroke-width="1.05"/>
<polyline points="510.8,482.5 510.8,497.5" fill="none" stroke="#e07878" stroke-width="1.05"/>
<text x="545.8" y="466.5" font-size="12.5" fill="#e07878" text-anchor="middle">N</text>
<text x="545.8" y="477" font-size="12.5" fill="#e07878" text-anchor="middle">H</text>
<polyline points="549,457 554.2,448.3 560,457" fill="none" stroke="#e07878" stroke-width="1.05"/>
<polyline points="553.2,448.3 553.2,437" fill="none" stroke="#e07878" stroke-width="1.05"/>
<polyline points="555.2,448.3 555.2,437" fill="none" stroke="#e07878" stroke-width="1.05"/>
<text x="554.2" y="437" font-size="12.5" fill="#e07878" text-anchor="middle">O</text>
<text x="563.3" y="466.5" font-size="12.5" fill="#e07878" text-anchor="middle">N</text>
<text x="563.3" y="477" font-size="12.5" fill="#e07878" text-anchor="middle">H</text>
<polyline points="566.5,456.5 570.8,448.3 583.3,458.3 595,448.3 599,454" fill="none" stroke="#333" stroke-width="1.05"/>
<text x="602.5" y="465.5" font-size="12" fill="#333" text-anchor="middle">O</text>
<polyline points="607,457 612,454" fill="none" stroke="#333" stroke-width="1.05"/>
<text x="621" y="455" font-size="12" fill="#333" text-anchor="middle">Si</text>
<polyline points="627.5,451 631,451" fill="none" stroke="#333" stroke-width="1.05"/>
<text x="635.5" y="455" font-size="12" fill="#333" text-anchor="middle">O</text>
<polyline points="617.5,424.2 617.5,444.2" fill="none" stroke="#333" stroke-width="1.05"/>
<polyline points="617.5,457.5 617.5,472.5" fill="none" stroke="#333" stroke-width="1.05"/>
<path d="M613.5 427 Q606 446 613.5 466" fill="none" stroke="#333" stroke-width="0.9"/>
<path d="M640 427 Q647.5 446 640 466" fill="none" stroke="#333" stroke-width="0.9"/>
<text x="646.5" y="472" font-size="10" fill="#333" text-anchor="middle">n</text>
<polyline points="641,456 655,451.7 667.5,461.7" fill="none" stroke="#333" stroke-width="1.05"/>
<polyline points="659.2,409.2 661.7,409.2 661.7,485 659.2,485" fill="none" stroke="#333" stroke-width="1"/>
<text x="668.3" y="484.5" font-size="10" fill="#333" text-anchor="middle">4</text>
<text x="229.3" y="497.6" font-size="13.3" fill="#1e1ec4" text-anchor="start" >MPU Unit (Strong H - bonding)</text>
<text x="521.5" y="497.8" font-size="13.3" fill="#e07878" text-anchor="start" >IU Unit (Weak H - bonding)</text>
<text x="8.8" y="25.6" font-size="30.5" fill="#000" text-anchor="start" font-weight="bold" >a</text>
<text x="380.4" y="275.2" font-size="23.6" fill="#111" text-anchor="start" >Nanoweb structured</text>
<text x="351" y="303.8" font-size="23.6" fill="#111" text-anchor="start" >blend film (DPPT-TT:SHE)</text>
<text x="31" y="373.8" font-size="20.8" fill="#111" text-anchor="start" >Semiconductor</text>
<text x="31" y="398.2" font-size="20.8" fill="#111" text-anchor="start" >(DPPT-TT)</text>
<text x="29.8" y="525.2" font-size="20.6" fill="#111">SHE (PDMS-MPU<tspan font-size="14.5" dy="5">0.6</tspan><tspan dy="-5">-IU</tspan><tspan font-size="14.5" dy="5">0.4</tspan><tspan dy="-5">)</tspan></text>
<text x="682" y="25.4" font-size="30.5" fill="#000" text-anchor="start" font-weight="bold" >b</text>
<defs>
<clipPath id="cH"><rect x="718" y="13" width="210" height="209"/></clipPath>
<filter id="fH" x="706" y="1" width="234" height="233" filterUnits="userSpaceOnUse" color-interpolation-filters="sRGB">
<feTurbulence type="fractalNoise" baseFrequency="0.12" numOctaves="2" seed="4" result="t"/>
<feDisplacementMap in="SourceGraphic" in2="t" scale="3.5" xChannelSelector="R" yChannelSelector="G" result="d"/>
<feGaussianBlur in="d" stdDeviation="2.4"/>
<feComponentTransfer><feFuncR type="table" tableValues="0.080 0.120 0.200 0.340 0.500 0.640 0.760 0.860 0.940 0.990 1.000"/><feFuncG type="table" tableValues="0.000 0.000 0.000 0.020 0.100 0.260 0.460 0.660 0.820 0.950 1.000"/><feFuncB type="table" tableValues="0.000 0.000 0.000 0.000 0.000 0.000 0.030 0.160 0.420 0.750 0.920"/></feComponentTransfer>
</filter>
<filter id="nH" x="706" y="1" width="234" height="233" filterUnits="userSpaceOnUse" color-interpolation-filters="sRGB">
<feTurbulence type="fractalNoise" baseFrequency="0.07" numOctaves="3" seed="7"/>
<feColorMatrix type="matrix" values="0 0 0 0 1  0 0 0 0 1  0 0 0 0 1  2.2 0 0 0 -0.85"/>
</filter>
<filter id="nH2" x="706" y="1" width="234" height="233" filterUnits="userSpaceOnUse" color-interpolation-filters="sRGB">
<feTurbulence type="fractalNoise" baseFrequency="0.05" numOctaves="2" seed="19"/>
<feColorMatrix type="matrix" values="0 0 0 0 0.55  0 0 0 0 0.55  0 0 0 0 0.55  2.4 0 0 0 -1.05"/>
</filter>
</defs>
<g clip-path="url(#cH)"><g filter="url(#fH)">
<rect x="706" y="1" width="234" height="233" fill="#a8a8a8"/>
<rect x="706" y="1" width="234" height="233" fill="#fff" filter="url(#nH2)"/>
<rect x="706" y="1" width="234" height="233" fill="#fff" filter="url(#nH)"/>
<g fill="none" stroke="#fff" stroke-width="2.6" opacity="1"><ellipse cx="748" cy="23" rx="14.3" ry="13.3"/><ellipse cx="724" cy="21.5" rx="7.4" ry="9"/><ellipse cx="725" cy="38" rx="8" ry="8"/><ellipse cx="743.7" cy="56" rx="18.6" ry="14.8"/><ellipse cx="722.8" cy="57" rx="5.8" ry="6.9"/><ellipse cx="773.3" cy="29.2" rx="12.7" ry="9.7"/><ellipse cx="765.7" cy="41.6" rx="9" ry="9"/><ellipse cx="794.3" cy="46.4" rx="13.8" ry="14.3"/><ellipse cx="793.3" cy="19.7" rx="7.6" ry="7.6"/><ellipse cx="779" cy="14.9" rx="7.6" ry="4.2"/><ellipse cx="806.7" cy="36.8" rx="10.1" ry="8.7"/><ellipse cx="813.4" cy="15" rx="9.7" ry="4.8"/><ellipse cx="771" cy="61.6" rx="9" ry="9"/><ellipse cx="790.5" cy="74" rx="14.3" ry="11.1"/><ellipse cx="783.8" cy="95" rx="15.7" ry="16.8"/><ellipse cx="749.5" cy="85.5" rx="13.8" ry="10.1"/><ellipse cx="735" cy="75" rx="5.8" ry="5.8"/><ellipse cx="725.6" cy="81.7" rx="9" ry="10.1"/><ellipse cx="727.5" cy="104.5" rx="10.6" ry="11.1"/><ellipse cx="761" cy="110.3" rx="14.7" ry="10.1"/><ellipse cx="808.6" cy="89.3" rx="8.2" ry="10.1"/><ellipse cx="807.6" cy="68.3" rx="5.8" ry="6.9"/><ellipse cx="817" cy="49" rx="6.9" ry="9.6"/><ellipse cx="816" cy="76" rx="5.3" ry="5.8"/><ellipse cx="819" cy="105" rx="6.9" ry="9"/><ellipse cx="820" cy="115" rx="6.9" ry="5.8"/><ellipse cx="831.6" cy="22.5" rx="10.1" ry="9"/><ellipse cx="851.6" cy="38.7" rx="19.3" ry="17.3"/><ellipse cx="865.9" cy="68.3" rx="14.7" ry="17.3"/><ellipse cx="832.5" cy="59.7" rx="12.2" ry="11.1"/><ellipse cx="831.6" cy="79.8" rx="10.7" ry="12.7"/><ellipse cx="892.6" cy="80.7" rx="17.8" ry="17.8"/><ellipse cx="881.2" cy="28.3" rx="10.7" ry="8.7"/><ellipse cx="901.2" cy="40.7" rx="11.7" ry="12.7"/><ellipse cx="899.3" cy="16.8" rx="11.7" ry="6.9"/><ellipse cx="918.4" cy="37.8" rx="7.1" ry="8.2"/><ellipse cx="925" cy="25.4" rx="6.9" ry="11.1"/><ellipse cx="921.2" cy="65.5" rx="7.1" ry="7.6"/><ellipse cx="917.4" cy="94" rx="12.7" ry="13.3"/><ellipse cx="861.1" cy="104.5" rx="12.2" ry="11.1"/><ellipse cx="832.5" cy="113" rx="11.7" ry="8"/><ellipse cx="882" cy="113" rx="9.7" ry="8"/><ellipse cx="922" cy="111.2" rx="8" ry="8"/><ellipse cx="926" cy="53" rx="4.8" ry="6.9"/><ellipse cx="861" cy="15" rx="9" ry="4.2"/><ellipse cx="728" cy="129" rx="10.6" ry="10.1"/><ellipse cx="730" cy="149" rx="11.7" ry="10.1"/><ellipse cx="749.5" cy="127.5" rx="8.2" ry="10.7"/><ellipse cx="761.9" cy="144.7" rx="10.2" ry="11.7"/><ellipse cx="797.2" cy="132.3" rx="19.8" ry="15.3"/><ellipse cx="745.7" cy="158" rx="8.7" ry="10.2"/><ellipse cx="732.3" cy="172.3" rx="8.7" ry="7.6"/><ellipse cx="753.3" cy="178" rx="12.2" ry="11.1"/><ellipse cx="743" cy="203" rx="10.6" ry="16.4"/><ellipse cx="749" cy="191" rx="10.1" ry="12.2"/><ellipse cx="776.2" cy="164.7" rx="9" ry="9.7"/><ellipse cx="777" cy="176" rx="8.7" ry="7.1"/><ellipse cx="778" cy="200" rx="11.7" ry="13.7"/><ellipse cx="806.7" cy="171.4" rx="14.7" ry="12.2"/><ellipse cx="801.9" cy="191.4" rx="11.1" ry="11.1"/><ellipse cx="819" cy="189.5" rx="6.4" ry="11.7"/><ellipse cx="819" cy="122.7" rx="6.4" ry="6.9"/><ellipse cx="820" cy="157" rx="5.8" ry="8"/><ellipse cx="721" cy="212" rx="8" ry="12.2"/><ellipse cx="790.5" cy="165.6" rx="6.7" ry="6.7"/><ellipse cx="796.2" cy="157" rx="6.2" ry="6.7"/><ellipse cx="720.5" cy="186" rx="4.8" ry="9"/><ellipse cx="818" cy="217" rx="7.4" ry="5.8"/><ellipse cx="800" cy="218" rx="9" ry="6.4"/><ellipse cx="770.5" cy="120" rx="8" ry="5.8"/><ellipse cx="721" cy="120" rx="4.8" ry="5.8"/><ellipse cx="830.6" cy="122.7" rx="11.1" ry="8.2"/><ellipse cx="846.8" cy="130.4" rx="8.2" ry="8.2"/><ellipse cx="853.5" cy="121.8" rx="7.6" ry="7.1"/><ellipse cx="868.8" cy="132.3" rx="10.7" ry="11.1"/><ellipse cx="905" cy="135" rx="15.3" ry="14.2"/><ellipse cx="924" cy="120" rx="8" ry="8"/><ellipse cx="835.4" cy="137" rx="7.1" ry="7.6"/><ellipse cx="847.8" cy="145.6" rx="9.7" ry="9.7"/><ellipse cx="832.5" cy="155" rx="9.7" ry="9.7"/><ellipse cx="891.7" cy="152.3" rx="12.2" ry="12.2"/><ellipse cx="921" cy="161" rx="9.7" ry="14.3"/><ellipse cx="867.8" cy="163.7" rx="9.7" ry="11.7"/><ellipse cx="862" cy="150.4" rx="6.7" ry="6.2"/><ellipse cx="845.9" cy="162.8" rx="8.7" ry="8.2"/><ellipse cx="909.8" cy="178" rx="9.1" ry="9.1"/><ellipse cx="919.3" cy="193.3" rx="11.7" ry="14.7"/><ellipse cx="884" cy="189.5" rx="17.3" ry="14.7"/><ellipse cx="866.9" cy="178" rx="8.2" ry="7.6"/><ellipse cx="836.4" cy="180" rx="7.1" ry="7.1"/><ellipse cx="846.8" cy="179" rx="5.6" ry="5.6"/><ellipse cx="853.5" cy="182.8" rx="5.6" ry="5.6"/><ellipse cx="845.9" cy="189.5" rx="7.1" ry="6.7"/><ellipse cx="826" cy="190.4" rx="9" ry="10.1"/><ellipse cx="834.4" cy="203.8" rx="10.1" ry="9"/><ellipse cx="860.2" cy="194" rx="7.1" ry="8.2"/><ellipse cx="858.3" cy="212.4" rx="12.2" ry="11.8"/><ellipse cx="828.7" cy="216" rx="9" ry="8"/><ellipse cx="923" cy="215" rx="6.9" ry="9"/><ellipse cx="891.7" cy="218" rx="9.7" ry="5.8"/></g>
<ellipse cx="748" cy="23" rx="12.7" ry="11.7" fill="#191919"/>
<ellipse cx="724" cy="21.5" rx="5.8" ry="7.4" fill="#191919"/>
<ellipse cx="725" cy="38" rx="6.4" ry="6.4" fill="#191919"/>
<ellipse cx="743.7" cy="56" rx="17" ry="13.2" fill="#191919"/>
<ellipse cx="722.8" cy="57" rx="4.2" ry="5.3" fill="#191919"/>
<ellipse cx="773.3" cy="29.2" rx="11.1" ry="8.1" fill="#191919"/>
<ellipse cx="765.7" cy="41.6" rx="7.4" ry="7.4" fill="#191919"/>
<ellipse cx="794.3" cy="46.4" rx="12.2" ry="12.7" fill="#191919"/>
<ellipse cx="793.3" cy="19.7" rx="6" ry="6" fill="#191919"/>
<ellipse cx="779" cy="14.9" rx="6" ry="2.7" fill="#191919"/>
<ellipse cx="806.7" cy="36.8" rx="8.5" ry="7.1" fill="#191919"/>
<ellipse cx="813.4" cy="15" rx="8.1" ry="3.2" fill="#191919"/>
<ellipse cx="771" cy="61.6" rx="7.4" ry="7.4" fill="#191919"/>
<ellipse cx="790.5" cy="74" rx="12.7" ry="9.5" fill="#191919"/>
<ellipse cx="783.8" cy="95" rx="14.1" ry="15.2" fill="#191919"/>
<ellipse cx="749.5" cy="85.5" rx="12.2" ry="8.5" fill="#191919"/>
<ellipse cx="735" cy="75" rx="4.2" ry="4.2" fill="#191919"/>
<ellipse cx="725.6" cy="81.7" rx="7.4" ry="8.5" fill="#191919"/>
<ellipse cx="727.5" cy="104.5" rx="9" ry="9.5" fill="#191919"/>
<ellipse cx="761" cy="110.3" rx="13.1" ry="8.5" fill="#191919"/>
<ellipse cx="808.6" cy="89.3" rx="6.6" ry="8.5" fill="#191919"/>
<ellipse cx="807.6" cy="68.3" rx="4.2" ry="5.3" fill="#191919"/>
<ellipse cx="817" cy="49" rx="5.3" ry="8" fill="#191919"/>
<ellipse cx="816" cy="76" rx="3.7" ry="4.2" fill="#191919"/>
<ellipse cx="819" cy="105" rx="5.3" ry="7.4" fill="#191919"/>
<ellipse cx="820" cy="115" rx="5.3" ry="4.2" fill="#191919"/>
<ellipse cx="831.6" cy="22.5" rx="8.5" ry="7.4" fill="#191919"/>
<ellipse cx="851.6" cy="38.7" rx="17.7" ry="15.7" fill="#191919"/>
<ellipse cx="865.9" cy="68.3" rx="13.1" ry="15.7" fill="#191919"/>
<ellipse cx="832.5" cy="59.7" rx="10.6" ry="9.5" fill="#191919"/>
<ellipse cx="831.6" cy="79.8" rx="9.1" ry="11.1" fill="#191919"/>
<ellipse cx="892.6" cy="80.7" rx="16.2" ry="16.2" fill="#191919"/>
<ellipse cx="881.2" cy="28.3" rx="9.1" ry="7.1" fill="#191919"/>
<ellipse cx="901.2" cy="40.7" rx="10.1" ry="11.1" fill="#191919"/>
<ellipse cx="899.3" cy="16.8" rx="10.1" ry="5.3" fill="#191919"/>
<ellipse cx="918.4" cy="37.8" rx="5.5" ry="6.6" fill="#191919"/>
<ellipse cx="925" cy="25.4" rx="5.3" ry="9.5" fill="#191919"/>
<ellipse cx="921.2" cy="65.5" rx="5.5" ry="6" fill="#191919"/>
<ellipse cx="917.4" cy="94" rx="11.1" ry="11.7" fill="#191919"/>
<ellipse cx="887.8" cy="54" rx="7.1" ry="6" fill="#727272"/>
<ellipse cx="848.7" cy="81.7" rx="9.5" ry="6" fill="#727272"/>
<ellipse cx="861.1" cy="104.5" rx="10.6" ry="9.5" fill="#191919"/>
<ellipse cx="832.5" cy="113" rx="10.1" ry="6.4" fill="#191919"/>
<ellipse cx="882" cy="113" rx="8.1" ry="6.4" fill="#191919"/>
<ellipse cx="922" cy="111.2" rx="6.4" ry="6.4" fill="#191919"/>
<ellipse cx="848.7" cy="96" rx="6.4" ry="4.2" fill="#7f7f7f"/>
<ellipse cx="926" cy="53" rx="3.2" ry="5.3" fill="#191919"/>
<ellipse cx="861" cy="15" rx="7.4" ry="2.7" fill="#191919"/>
<ellipse cx="728" cy="129" rx="9" ry="8.5" fill="#191919"/>
<ellipse cx="730" cy="149" rx="10.1" ry="8.5" fill="#191919"/>
<ellipse cx="749.5" cy="127.5" rx="6.6" ry="9.1" fill="#191919"/>
<ellipse cx="761.9" cy="144.7" rx="8.6" ry="10.1" fill="#191919"/>
<ellipse cx="797.2" cy="132.3" rx="18.2" ry="13.7" fill="#191919"/>
<ellipse cx="745.7" cy="158" rx="7.1" ry="8.6" fill="#191919"/>
<ellipse cx="732.3" cy="172.3" rx="7.1" ry="6" fill="#191919"/>
<ellipse cx="753.3" cy="178" rx="10.6" ry="9.5" fill="#191919"/>
<ellipse cx="743" cy="203" rx="9" ry="14.8" fill="#191919"/>
<ellipse cx="749" cy="191" rx="8.5" ry="10.6" fill="#191919"/>
<ellipse cx="776.2" cy="164.7" rx="7.4" ry="8.1" fill="#191919"/>
<ellipse cx="777" cy="176" rx="7.1" ry="5.5" fill="#191919"/>
<ellipse cx="778" cy="200" rx="10.1" ry="12.1" fill="#191919"/>
<ellipse cx="806.7" cy="171.4" rx="13.1" ry="10.6" fill="#191919"/>
<ellipse cx="801.9" cy="191.4" rx="9.5" ry="9.5" fill="#191919"/>
<ellipse cx="819" cy="189.5" rx="4.8" ry="10.1" fill="#191919"/>
<ellipse cx="819" cy="122.7" rx="4.8" ry="5.3" fill="#191919"/>
<ellipse cx="820" cy="157" rx="4.2" ry="6.4" fill="#191919"/>
<ellipse cx="721" cy="212" rx="6.4" ry="10.6" fill="#191919"/>
<ellipse cx="777" cy="139" rx="4.6" ry="6" fill="#4c4c4c"/>
<ellipse cx="768.5" cy="159" rx="4.2" ry="4.2" fill="#333333"/>
<ellipse cx="790.5" cy="165.6" rx="5.1" ry="5.1" fill="#191919"/>
<ellipse cx="796.2" cy="157" rx="4.6" ry="5.1" fill="#191919"/>
<ellipse cx="779" cy="153" rx="6.9" ry="4.2" fill="#191919"/>
<ellipse cx="720.5" cy="186" rx="3.2" ry="7.4" fill="#191919"/>
<ellipse cx="818" cy="217" rx="5.8" ry="4.2" fill="#191919"/>
<ellipse cx="800" cy="218" rx="7.4" ry="4.8" fill="#191919"/>
<ellipse cx="770.5" cy="120" rx="6.4" ry="4.2" fill="#191919"/>
<ellipse cx="721" cy="120" rx="3.2" ry="4.2" fill="#191919"/>
<ellipse cx="807.6" cy="150" rx="5.3" ry="3.7" fill="#727272"/>
<ellipse cx="830.6" cy="122.7" rx="9.5" ry="6.6" fill="#191919"/>
<ellipse cx="846.8" cy="130.4" rx="6.6" ry="6.6" fill="#191919"/>
<ellipse cx="853.5" cy="121.8" rx="6" ry="5.5" fill="#191919"/>
<ellipse cx="868.8" cy="132.3" rx="9.1" ry="9.5" fill="#191919"/>
<ellipse cx="905" cy="135" rx="13.7" ry="12.6" fill="#191919"/>
<ellipse cx="924" cy="120" rx="6.4" ry="6.4" fill="#191919"/>
<ellipse cx="835.4" cy="137" rx="5.5" ry="6" fill="#191919"/>
<ellipse cx="847.8" cy="145.6" rx="8.1" ry="8.1" fill="#191919"/>
<ellipse cx="832.5" cy="155" rx="8.1" ry="8.1" fill="#191919"/>
<ellipse cx="891.7" cy="152.3" rx="10.6" ry="10.6" fill="#191919"/>
<ellipse cx="921" cy="161" rx="8.1" ry="12.7" fill="#191919"/>
<ellipse cx="867.8" cy="163.7" rx="8.1" ry="10.1" fill="#191919"/>
<ellipse cx="862" cy="150.4" rx="5.1" ry="4.6" fill="#191919"/>
<ellipse cx="845.9" cy="162.8" rx="7.1" ry="6.6" fill="#191919"/>
<ellipse cx="879.3" cy="159" rx="4" ry="4.6" fill="#666666"/>
<ellipse cx="893.6" cy="171.4" rx="5.1" ry="4" fill="#666666"/>
<ellipse cx="909.8" cy="178" rx="7.5" ry="7.5" fill="#191919"/>
<ellipse cx="919.3" cy="193.3" rx="10.1" ry="13.1" fill="#191919"/>
<ellipse cx="884" cy="189.5" rx="15.7" ry="13.1" fill="#191919"/>
<ellipse cx="866.9" cy="178" rx="6.6" ry="6" fill="#191919"/>
<ellipse cx="836.4" cy="180" rx="5.5" ry="5.5" fill="#191919"/>
<ellipse cx="846.8" cy="179" rx="4" ry="4" fill="#191919"/>
<ellipse cx="853.5" cy="182.8" rx="4" ry="4" fill="#191919"/>
<ellipse cx="845.9" cy="189.5" rx="5.5" ry="5.1" fill="#191919"/>
<ellipse cx="826" cy="190.4" rx="7.4" ry="8.5" fill="#191919"/>
<ellipse cx="834.4" cy="203.8" rx="8.5" ry="7.4" fill="#191919"/>
<ellipse cx="860.2" cy="194" rx="5.5" ry="6.6" fill="#191919"/>
<ellipse cx="858.3" cy="212.4" rx="10.6" ry="10.2" fill="#191919"/>
<ellipse cx="828.7" cy="216" rx="7.4" ry="6.4" fill="#191919"/>
<ellipse cx="923" cy="215" rx="5.3" ry="7.4" fill="#191919"/>
<ellipse cx="853.5" cy="172.3" rx="3.1" ry="3.1" fill="#666666"/>
<ellipse cx="891.7" cy="218" rx="8.1" ry="4.2" fill="#191919"/>
</g></g>
<defs><clipPath id="cP"><rect x="983" y="13" width="210" height="209"/></clipPath>
<filter id="wP" x="975" y="5" width="226" height="225" filterUnits="userSpaceOnUse">
<feTurbulence type="fractalNoise" baseFrequency="0.22" numOctaves="2" seed="9" result="t"/>
<feDisplacementMap in="SourceGraphic" in2="t" scale="2.5" xChannelSelector="R" yChannelSelector="G"/>
</filter></defs>
<g clip-path="url(#cP)"><rect x="983" y="13" width="210" height="209" fill="#3e1600"/><g filter="url(#wP)">
<defs><path id="phC" d="M1072.3 130.3l-.4 .8 .3 .9 3.6 4.2 .9 .5 .9-.4 5.4-6.1 .3-.6 .1-.8-.2-.9-.7-.5-5-1.3-1.1 .3zM1075.6 118.1l0 1 1.6 3.8 .8 .7 5.9 1.5 1-.2 .5-.8 .4-2.6-.4-1-6.4-6.1-1-.3-.9 .7zM1011.2 121.9l0 1.1 .9 .6 7.7 1.2 .8-.2 .5-.6 1.6-4.3 .1-.8-.5-.6-5.5-3.7-.9-.2-.8 .2-.8 .6zM1146.9 24.8l0 .9 3.5 7.6 .5 .6 .7 .1 7.7-.6 .8-.5 .3-.8-.4-8.2-.5-.9-4.9-3.7-.7-.3-4.2 .1-.7 .3-.4 .5zM990.3 184.6l-.5 1-.1 7.2 .4 .9 2.8 2.6 .6 .3 4.3 .8 .8-.1 3.8-1.8 .7-.8 1.6-6-.2-1.1-6.3-7.5-.7-.4-.9 .3zM977 221.8l-.7 1.1 0 4.6 .4 .8 .8 .4 11.9 0 .8-.3 .4-.8 .5-6.6-.2-.8-.5-.4-3.9-1.7-.9 0zM1118 142.7l-.2 .9 .4 2.3 .4 .7 3.3 2.9 .8 .4 .8-.4 4.7-4.3 .4-.8-.3-.8-5.3-6.3-1-.5-.9 .6zM977.4 119l-.8 .3-.3 .9 0 8.2 .3 .8 .8 .4 .9-.3 6.4-5.3 .5-1.1-.5-3.3-.4-.8-.9-.3zM1012.4 57l-.3 .9 .4 .7 5.2 4.8 1 .3 1-.2 .9-.8 1.1-4.1-.1-.8-.6-.6-5.6-2.5-.8-.1-.7 .4zM1074.4 103.3l-.1 .8 .8 3.5 .3 .6 1.5 1.6 .8 .4 .7-.2 5.8-3.6 .5-.6 .1-.7-.9-4.1-.3-.7-2.4-2-.6-.3-2.1-.3-.6 .1-.7 .3-.7 .6zM1086.9 146.1l-.5 .8-.3 1.3 .3 1.2 6.6 5.9 .7 .3 .8-.2 .5-.7 2.5-8.4-.3-1.2-2.7-2.6-.9-.3-.6 0-.5 .2zM1120.4 110.1l-.1 1 .6 .7 1 0 7.7-3.1 .7-.7 0-.9-.5-1.2-1-.7-4.5-.3-1.1 .6zM1197.5 226.6l-.4 .9 .3 .8 .9 .4 .2 0 .8-.4 .4-.8 0-.2-.3-.8-.9-.4-.8 .3zM1129.9 80l.2 .9 .8 .5 .9-.2 6.5-4.3 .5-.5 0-.8-1-4.1-.4-.7-.8-.2-4.3 .2-.7 .3-.4 .7zM1038.8 15.5l-.8 .2-.5 .7-1.6 5.8 .1 .8 .3 .6 1 .7 6.9 .4 .8-.3 .4-.7 .2-1.2-.1-.8-2.7-5.2-.9-.6zM1060.6 189l-.5 .6-1.9 6.7 .3 1.1 2.6 3.1 1.1 .4 8.3-1.5 .7-.4 .3-.7 .1-3.8-.4-.9-7-6.1-.8-.3-.7 .2zM1187.8 192.4l-.8 .6-1.3 2.2-.1 1.1 .8 2 .8 .7 4.7 1.3 1.2-.3 4.5-4.9 .3-.9-.5-.9-2.9-2-1-.2zM1016.5 203.7l-.8 1-.8 9.8 .2 .7 .5 .5 9.2 3.6 1-.1 2-1.1 .6-1 .9-8.5-.5-1.1-6.9-5.3-1.1-.1zM1191.8 98.1l.1 .8 .5 .6 .9 .1 5.5-1.4 .6-.4 .3-.7 0-5.9-.4-.8-.9-.4-3.2 .3-1 .8zM1109.9 174.3l0 1.1 4.2 8.6 .5 .6 .8 .1 8.5-1.5 .8-.5 .1-.9-1.7-7.4-.8-.9-8.1-2.1-.9 .1-2.4 1.3-.5 .5zM989.2 75l-.6 .4-.3 .7-.2 9 .2 .7 .6 .5 5.8 1.9 1-.1 5.1-2.8 .6-.8 .5-2-.2-.8-4.4-7.8-.6-.6-.8 0zM992.8 16.7l-.6 1 0 4.2 .7 1 3.4 1.6 .8 0 1.7-.3 .6-.4 2.8-3.3 .2-1.2-1.9-5.3-.7-.7-1 .1zM1013 126.4l-.9 .2-.5 .9-.4 4.4 .5 1 5.8 4.4 1.1 .2 1.1-.4 .8-.8 1.3-5.3 0-.8-.9-2-.9-.8zM1011 167.7l.2 1 7.6 10.8 .8 .5 .9-.3 6.2-5.2 .3-.6 .6-2.3-.4-1.2-7.8-6.4-1.1-.2-6 1.6-.8 .8zM1113.6 28l-.6 .6 0 .7 1.7 8.2 .9 .9 7.2 1.5 .7-.1 4.4-1.7 .8-1.1 .5-7.7-.1-.7-.6-.5-7.7-3.6-1.1 0zM1153 67.7l-.7 .4-.3 .8 .1 7.4 .5 1 3.6 2.2 1.4 0 4-2.8 .5-.6 1.5-5.2 0-.7-.4-.6-3.8-2.7-.9-.2zM1014.6 93.4l-.3 1 .1 1 .5 .8 5.8 4.3 .8 .3 .6-.1 .7-.2 2.8-2.2 .4-.8 1-6.2-.3-1-1.9-2.1-.8-.4-3.3-.2-.9 .4zM1047.3 68.3l-.7 .3-.4 .6-.6 2.6 .3 1.1 3.8 4 1.1 .4 .9-.6 2.7-5.2 .2-.7-.4-.7-1.8-1.8-.9-.4zM993.9 130.3l-1 .8-2.4 6.2 0 .9 .6 .7 6.4 3 .9 .1 1.1-.4 .8-.9 .7-3.4-.2-.9-3.7-5.7-1.1-.5zM1112.2 83.7l-.6-.6-.8-.1-.7 .5-3.5 5.5-.2 .8 .4 .7 2.5 2.2 .8 .3 1-.1 .8-.3 2.5-2.6 .3-.6-.1-.7zM1184.2 114l0 .6 1.5 5.3 1 .9 3.7 .6 1-.2 6.7-5.9 .4-.9-.4-.9-6.8-5.9-.7-.3-.8 .2-4.3 3-.5 .6zM1167 39.4l-1.1 0-.6 .9-1.3 8.8 .2 .8 .6 .5 7.9 2.7 .8 0 .6-.5 4.1-6.5 0-1.3-.3-.4-.5-.6zM1175.9 186.1l-.4 .6 0 .8 2 5.3 .9 .7 4.1 .6 .7-.1 .5-.5 1-1.7 .1-1.1-3.1-7.3-.8-.7-1 .2zM1107.7 101.4l0 .8 .5 .7 .7 .2 3.1-.2 1-.6 1.1-1.9 0-1.3-2.2-3.1-1-.5-.1 0-1 .8zM1129.9 58.8l-.7 .9-.8 5.8 .4 1 1.5 1.5 .9 .3 6.4-.4 .8-.3 4.3-4.4 .4-1.1-.7-2.9-.5-.7-3.9-2.9-1.3-.1zM1106.8 68.9l-.9 .6 0 1.1 3.2 6.4 .5 .5 1 .6 1.3 0 2.4-1.7 .5-.7 1.4-6.2-.3-1.1-.3-.3-1.1-.4zM1132.2 24.8l0 .8 .6 .6 .8 .1 10.1-2 .9-.8 1.7-4.9-.2-1-2-3-1.1-.5-7.2 .3-.7 .2-.4 .6zM1092.4 195.7l-.2 .8-.1 .6 .3 .8 5.2 5.9 .6 .3 .8 0 5.9-2.6 .7-.8 1.8-5.5 0-.9-.6-.6-8.3-3.8-.8-.1-.6 .4zM1032.4 207.8l-.5 .9-.8 7.9 .2 .8 .6 .4 8.2 2.3 .8-.1 .8-.3 .5-.5 3.5-6.3 .1-1-3.2-8.4-.7-.7-1 .1zM977.5 59.2l-.8 .3-.4 .9 0 9.7 .4 .8 .8 .4 4.9-.2 .8-.4 .4-.8 0-9.4-.3-.9-.9-.3zM987.4 38.9l-.8 .1-.6 .5-2.3 3.9 0 1.2 2.1 3.6 .7 .6 .8-.1 4.7-2 .8-.9 .7-4.2-.2-.9-.7-.5zM1098.1 30.9l-.6 .7 .1 1 5.3 8 1 .5 5.4 0 .7-.3 1.8-1.5 .4-1.1-1.9-9-.6-.8-2.8-1.5-1.1 0zM1174.5 221.1l-.6 .7-1.6 5.4 .2 1 1 .5 4.9 0 .8-.3 .4-.7 .7-3.6-.5-1.2-3.1-2.2-1.2-.1zM1123.9 132.4l-.4 .8 .3 .9 7.3 8.8 .9 .4 1.3 0 .7-.2 .4-.6 2.5-7.8-.2-1.1-1.4-1.7-.8-.5-8.3-.5-.8 .3zM977.5 6.3l-.8 .4-.4 .8 0 3 .5 1 1.8 1.3 .8 .2 6-.7 .8-.3 .3-.8 0-3.7-.3-.8-.9-.4zM1133.4 217.4l-1.2 .5-2 2.5-.2 .7 .2 .8 2.6 3.2 .9 .4 .9-.4 3.7-4.1 .3-1.2-.4-1-1-.8zM1043.7 222.5l-.8-.2-.7 .4-.3 .7-.2 4 .3 .9 .9 .4 6.9 0 .9-.4 .3-1-.6-.8zM1089.9 167.6l-.3 1 .9 5.5 .5 .8 5.7 4.2 1.3 .1 8.9-5.1 .4-.5 .2-.4 .1-.8-.3-.7-10.5-9.3-.9-.3-.8 .4zM1133.4 162.8l-.4 .8 0 1.2 .6 1.1 7.1 4.4 1.2 0 6.2-3 .7-.8 .9-3.6-.1-.8-.6-.6-9.1-4-.7-.1-.6 .3zM1178.3 80.7l-.8 .6-1.4 2.4-.2 .8 .4 .7 3.9 3.4 .7 .4 .8-.3 5.3-4.4 .4-.9-.1-2.8-.5-.9-.9-.3zM1172.7 200.4l-.4 .7 .2 .7 2.2 4.3 .5 .4 2.3 1.4 .9 .1 1-.3 .7-.6 3.9-6.8 0-1-.7-1.8-.9-.8-4.6-.6-1 .3zM1150.1 195.7l-.7 .4-.2 .8 .2 4.9 .4 .8 .9 .3 5.7-.2 .8-.4 .3-.9-.5-6.1-.5-.8-.9-.2zM1199.7 199.7l-.4-.8-.8-.4-.9 .4-2.6 2.9-.2 1.1 .9 3.1 .4 .5 .7 .3 1.6 .1 .9-.3 .4-.9zM1055.6 168.9l-.6 .9 .4 1 8.7 7.6 .8 .3 .7-.2 2.9-2.2 .5-.7 1.3-6-.4-1.1-4.8-4.4-.7-.3-.7 .2zM1076.2 53.7l0 1 4.8 9.8 .8 .6 1-.2 4.8-4 .4-.8 .5-3.3-.3-.9-3.7-4.4-1.1-.4-5.8 .9-.9 .7zM1028.9 6.3l-.8 .3-.4 .8 .3 .8 1.9 2.6 .7 .5 3.8 .9 1-.2 .4-.9 .3-3.5-.3-.9-.9-.4zM1125.2 42l-.8 1-.8 9.7 .5 1 3.6 2.6 1.2 .1 6.4-3.1 .5-.5 .1-.8-1.4-8.2-.5-.8-3.8-2.5-1.1-.1zM1172.1 147.6l-.3 .6-1.1 5.4 .5 1.3 7.7 5.2 1.2 .2 8.7-3.8 .6-.6 .1-.8-2.3-9.4-.8-.8-1.8-.7-.8-.1-11.1 3.1-.5 .3zM1008.3 102.8l-.4 1 .4 3.8 .5 .8 4.7 3.5 1 .2 .6-.2 .8-.7 2.9-7.8 0-.8-.4-.6-4.3-3.2-.8-.2-.7 .3zM1079.8 70.3l-.3 .8 .3 7.7 .2 .7 .6 .4 5.6 2 .7 0 .7-.5 3.6-5.5 .2-.8-.5-.8-8.2-5.8-.8-.2-.8 .4zM977.4 195.7l-.8 .4-.3 .8 0 5.6 .2 .7 .5 .4 6.2 2.6 .8 0 .6-.4 5.5-7 .2-.9-.3-.7-1.7-1.6-.9-.4zM1148.1 6.3l-.7 .3-.4 .6-1.1 4.8 .2 .9 2.1 3.1 1 .5 4.2 0 .9-.6 5-7.8 .2-.8-.4-.7-.8-.3zM1070 11.3l.3 .8 7.3 7.3 1.1 .3 2.9-.7 .6-.4 .3-.6 1.3-10.4-.3-.9-.9-.4-11.5 0-.9 .4-.3 .8zM1025.1 42.2l.6 .4 .7 0 3.8-.9 .9-.7 2.2-5.4 0-1-.7-1.2-1-.6-3.8-.2-.7 .2-.5 .6-2 7.2 .2 1.1zM1012.4 6.3l-.7 .3-.4 .7-.2 .8 .4 1 2.4 2.5 .9 .3 1.6 0 1-.4 2.5-3.2 .3-.9-.4-.8-.8-.3zM1149.4 205.5l-.9 .5-.8 1.1-.3 .8 .4 .8 3.1 3.2 1 .3 6-.8 .7-.4 .3-.9-.4-3.7-.4-.8-.8-.3zM1181.1 162.6l-.7 1-1.1 7.5 .3 .9 2.9 3.4 1.2 .4 5.4-1 .9-.9 3.4-12.9-.1-.7-.4-.6-1.3-1-1.2-.1zM1072.5 144.7l-.2 1 1.2 4.3 .7 .8 3.2 1.1 1-.1 4.5-3 .5-.7 .3-1.4-.3-1.1-5.7-5.3-.9-.3-.9 .4zM1056.3 130.5l-.7 .7-1.4 3.4 .1 .9 .6 .6 5 2.1 .8 0 .6-.4 4-6.1 .2-.8-.3-.7-1.5-1.5-1.2-.3zM1153 214.7l-.7 .3-.4 .8-.2 3.6 .4 1 1.8 1.5 .9 .3 3.7-.5 .9-.7 2-4.5-.2-1.3-.8-.9-1.1-.4zM1153.3 144.1l-.1 .9 2.5 11.3 .4 .6 .8 .3 6 .3 .8-.2 3.8-2.8 .5-.7 1-4.8-.1-.8-.6-.6-13-4.9-.9 0-.6 .5zM1048.8 22.6l-.7 .8-.4 2.1 .1 .8 .6 1.2 .9 .6 3.7 .7 1-.3 4.8-4.2 .4-1.1-.5-2.8-.7-.9-.8-.4-1.1 0zM977.1 183l-.6 .5-.2 .6 0 7.8 .4 .9 .9 .3 8.4-.4 .8-.4 .3-.8 .1-5.8-.6-1-4.8-3-1-.1zM1149.7 38.1l-.2 1.1 3.6 9.8 .9 .8 6 .8 .9-.3 .4-.7 1.8-11.9-.5-1.2-.8-.5-.8-.2-9.8 .9-.8 .5zM1181 24.5l.1 1.3 1.9 2.4 .6 .4 7 2.1 .8 0 3.1-1.4 .6-.6 .1-.8-2.5-8.3-.7-.8-1 0-9.2 4.7-.5 .5zM1113 119.5l.2 .9 6.8 9.9 .5 .4 .3 .1 1.2-.2 1.7-1.4 .4-.8 .4-6-.4-.9-4.8-5.3-.7-.4-.8 .1-4 2.2-.7 .8zM1096.9 73.6l-.3 .8 .4 .8 2.7 2.7 1 .3 4-.6 .9-.7 0-1-1.8-3.8-.6-.5-.7-.1-3.8 .4-.8 .5zM1162 205.1l-.7 .5-.2 .8 .6 5.1 .3 .7 .3 .3 .7 .4 .9-.2 7.4-5.2 .5-.7-.1-.8-1.1-2.2-.6-.5-.8-.1zM1161.7 222.1l.1 1.1 2.9 4.9 1.1 .6 2.4 0 .8-.2 .4-.7 1.7-5.6-.1-.9-.6-.6-5.7-2.4-.9 0-.6 .6zM1099.8 47.2l-.3 .8-.1 3.2 .4 .8 3.4 3.8 1.3 .3 4.2-1.3 .6-.5 .2-.7-.5-8.8-.4-.8-.8-.3-4.2 0-.9 .4zM1151.1 129.4l-.5 .6-1 3 .2 1 3.3 5 .9 .5 1-.4 6.4-7.8 .2-1.2-1.8-3.9-.4-.5-.9-.6-.6-.2-.7 .2zM1063.4 215.5l-.8 .4-.3 .8-.5 10.8 .4 .8 .8 .4 11.9 0 .7-.2 .5-.7 2.7-9.5-.1-1-1.4-2.1-1.1-.6zM1031.4 110.8l-.5 .8-.3 3.3 .1 .7 .5 .5 1.3 .6 1.2 0 6.2-4 .5-.6 0-.8-.5-.6-3.8-2.3-1.3 .1zM1114.4 208.4l-1 .6-2.3 4.8-.1 .9 .5 .6 5 3.5 1.1 .1 .7-.8 2-8.6-.2-1.1-1-.4zM1023 155.1l-.6 .8-1.5 5.1 .4 1.2 7.2 5.9 .7 .2 .8-.2 2.6-2.2 .4-.9 .4-6.2-.2-.8-.6-.4-8.2-2.8-.9 .1zM1050.1 140.7l.1 1 5.2 8.2 .7 .5 .8 0 .6-.6 3.1-6.9 0-1-.1-.3-.6-.6-7.3-3-.9 0-.3 .1-.7 .7zM1132.7 29.1l-.6 .4-.3 .7-.6 7.1 .6 1.1 3.5 2.4 1.1 .1 10.3-3.4 .6-.5 .8-1.1 .1-1.2-3.2-7.1-.6-.5-.8-.1zM1028.2 44.9l-.7 .5-.2 .8 1.2 7.2 .7 .9 2.6 1 .7 0 .6-.5 3.8-5.1 .2-.9-.5-.8-4.7-3.5-1-.3zM1067 88l.1 .7 .6 1.5 .5 .6 6.6 4.3 .8 .2 .8-.5 .3-.8-.3-9.3-.5-.9-1.1-.2-6.6 1.8-.9 .9zM1089.1 37.3l-.3 1 .7 3.9 .8 1 6.8 2.1 1.3-.3 1.8-2 .3-.7-.1-.8-5.6-8.5-.9-.5-1 .4zM1181.5 47l-1.2 .5-4.5 7.2-.1 1 .7 2 .5 .6 3.2 2.2 1 .2 7.6-2.2 .7-.6 1.5-2.9 .1-.8-1.1-5.4-.4-.7-.7-.3zM1167.9 34.9l-.5 .7 .1 .8 .6 .6 8.5 3.7 1-.1 .6-.7 2.7-9.4-.2-1-1.2-1.6-.8-.4-.9 .2zM1158.4 99.4l-.2 1.2 1.2 3.3 .6 .6 .9 .1 8.1-2.6 .7-.7-.1-1.1-3.9-6-.9-.5-1-.1-1 .4zM997.4 90.1l-.4 .5-.2 .7 .9 7.2 .3 .6 .6 .4 6.9 1.6 1.1-.3 4.8-4.3 .4-1-.1-.9-.5-.8-8.2-6-1.3 0zM977.4 45.7l-.8 .4-.3 .8 0 8.5 .3 .8 .9 .4 4.7 0 .8-.2 .4-.7 .9-4.2-.1-.9-2.7-4.6-1.1-.6zM1085.9 129.7l.3 .9 6 8.1 .7 .4 .8-.1 .6-.5 2.2-4.9 0-.9-1-3.1-.8-.8-7.1-1.7-.9 .2-.5 .8zM1196.4 209.4l-1.1 .5-1.9 2.8-.2 .9 .6 .8 4 2.7 .9 .2 .7-.4 .3-.8 0-5.4-.3-.8-.8-.4zM1087.5 100.4l-.6 .5-.2 .8 .7 3.4 .7 .8 1.2 .6 .8 .1 4.5-.9 .8-.6 1.6-2.8 0-1-1.1-2.9-.7-.6-.9 0zM977.6 154.2l-.9 .3-.4 .9 0 10.8 .3 .8 .8 .4 3 .3 .8-.2 .5-.6 1.6-5.2-.2-1.1-4.2-5.8-.8-.5zM1064.7 43.6l-1.1 .2-.5 .9-.7 9.3 .6 1.2 .9 .5 .9 .1 8.3-2.5 .7-.6 .6-1.4 0-.9-1.4-3.7-.8-.7zM1082.2 218.8l-.7 .3-.4 .6-2.1 7.5 .2 1 .9 .5 13.2 0 .8-.3 .4-.7 .4-2.5-.4-1.1-6-5.2-.8-.3zM1144.4 185.2l-.8 .5-.2 .9 .7 3.6 .5 .8 3 2.2 1 .2 7.7-2 .8-.7-.1-1.1-3.3-5.6-.6-.5-.7 0zM1142 181.5l.4 1 1 .2 8.9-1.9 .8-.7 1.5-3.6-.2-1.2-4.4-5.1-.7-.4-.7 .1-5.5 2.7-.7 1.1zM1126.1 172.6l-.4 1.2 1.9 8.1 .4 .7 .8 .3 9.5-.7 .8-.4 .3-.8 .4-7.5-.6-1-6.7-4.2-.7-.2-.7 .3zM978 137.1l-.8 0-.6 .4-.3 .7 0 12.2 .3 .8 .8 .4 1.1 .1 .9-.2 3.2-2.5 .4-.6 1.9-7-.1-.8-.6-.6zM1030.6 91.5l-.8 .3-.4 .7-.6 4.1 .2 .8 .7 .5 5 1.2 1-.2 2.4-1.9 .5-1-.1-3.6-.4-.9-.9-.3zM1190.3 144.3l-.5 .6 0 .7 2.5 10.1 .4 .6 2.5 1.9 .7 .2 2.6 .1 .8-.4 .4-.8 0-17.1-.3-.7-.7-.4-.9 .2zM1079.2 38l-.7 .1-.5 .6-2.6 6 0 .9 1.1 3 .5 .6 .8 .1 5.5-.8 .8-.5 2.7-4 .2-.8-.6-3.7-.4-.7-.7-.3zM1110.4 13.3l-.8 .5-2.9 4.8-.2 .8 .9 4.3 .6 .8 2.7 1.5 1.2 0 6.4-3.6 .6-1.1-.3-6.6-.5-.9-1.7-1.4-1-.2zM1065.9 120.5l-.8 .4-.3 .9 .1 3.8 .3 .8 2.6 2.8 .8 .4 .1 0 1-.3 4.6-4.5 .4-.6-.1-.8-1.1-2.7-.5-.5-.7-.2zM1039.9 6.3l-.8 .3-.4 .8-.3 4.3 .3 .8 .8 .5 2.7 .3 1.1-.4 2.6-2.8 .2-1.1-.5-1.8-.4-.7-.8-.2zM986.2 208l-.2 1 1.1 6 .7 .9 4.3 1.7 .9 0 3.8-1.6 .5-.4 .2-.7-.4-14-.2-.8-.7-.4-2.4-.4-1.2 .5zM1099.7 134.6l-.7 .2-.5 .5-2 4.5-.1 .7 .4 .6 2.6 2.5 .8 .3 2.2 0 .9-.4 2.8-3 .4-.9-.2-3.4-.4-.8-.7-.3zM1138.1 43.1l-.7 .5-.1 .8 1.3 8 .5 .8 3.6 2.6 .7 .2 .8-.2 5.9-4.8 .5-.6-.1-.7-3-8.5-.7-.7-.9 0zM981.4 15.4l-.8 .4-.2 1 .9 5 .9 1 4.9 1.1 .9-.2 1-.6 .6-1 0-4.8-.4-.8-1.5-1.4-.9-.3zM1089.9 21.3l-.5 .7 .2 .9 3.9 6.1 .8 .6 .1 0 .7-.1 9-4.7 .5-.5 .1-.8-.7-3.2-.6-.9-5.7-2.5-1.2 0zM1055.6 109.3l-.6 .6-.1 .8 1.2 5 .9 .9 4.1 .9 .9-.2 .5-.8 .6-3.7-.2-.9-2.8-3.7-.6-.5-.9 .1zM987.1 35l.2 .9 .7 .5 5.6 1.4 1-.2 .5-.9 .2-9.1-.8-1.1-2.9-1.3-1.1 .1-1.1 .6-.6 .8zM1066.3 58.1l-.6 .4-.2 .8 .2 7.8 .3 .8 .8 .4 10.2 .5 1-.4 .8-.9 .1-1.3-4.6-9.5-.6-.6-.8 0zM1045.1 125.1l-.5 .9 0 5.6 .5 1.1 4.4 2.8 1.1 .1 .1 0 .6-.7 1.8-4.6 0-1.1-3.2-5.6-1-.6-.8 0-.8 .3zM1177.5 100l-.3 .8 .4 .9 5.8 5.8 .8 .4 .8-.3 4.1-2.8 .5-.7 .5-2.1 0-.9-.6-1.1-.6-.5-6.6-3.3-.8-.1-.6 .4zM986 56.1l.2 1 .8 .5 7.9 .7 1.1-.5 1.8-2.6 .2-.7-.3-.7-3.7-4.2-.6-.4-.8 .1-5.1 2.2-.7 .8zM996.5 160.2l-.2 .9 1.4 9.9 .6 .9 1.1 0 8.5-4.1 .6-.8 .5-1.8-.1-1-3.1-4.8-1-.6-6.9 .3-.9 .5zM1179.6 210.3l-.9 1-1 6.1 .5 1.2 3.4 2.4 1.1 .1 3-.9 .7-.6 1.7-3.8 .1-.9-.6-.6-6.6-4-.9-.1zM1066.2 181.2l-.4 .7-.6 2.1 .4 1.2 6.8 6 .7 .3 .8-.2 5.2-3.2 .6-1-.1-3.8-.7-1.1-8-3.6-1.2 .1zM1041.3 89.9l-.3 .7 .2 5.4 .5 .9 4.2 3 .8 .2 .7-.4 4.7-4.9 .4-.8 0-.2-.3-.8-4-5.3-1.2-.4-4.3 1-.7 .5zM1050.2 84.8l.1 1.4 3.4 4.5 .6 .4 .8 0 8.7-3.3 .8-.9 .2-1.3-.2-.9-.8-.5-11.1-2-.7 .1-.6 .4zM1167.8 68.1l-.4 .7 .2 .8 .6 .5 5.2 1.9 .7 .1 .6-.4 4.3-4.7 .3-.9-.2-2.5-.5-1-2.2-1.5-.8-.2-.7 .4zM1129.9 207.5l-.4 .7 .1 .8 3.1 5.2 .8 .6 3.8 .6 .7-.1 .5-.5 2.7-4.9 .1-.9-.5-.7-6-4-.8-.2-.7 .3zM1063.8 39l-.1 1.1 .7 .7 7.6 2.4 .9-.1 .6-.6 2.4-5.4-.1-1-2.9-5.2-.5-.5-.7 0-1.7 .3-.8 .5zM999.3 144.4l-.7 .6-2.6 6.1 0 .9 1.3 3.7 .4 .6 .7 .2 6.1-.2 1-.8 2.4-5.9 0-.8-.4-.6-5.9-4.1-1.1-.1zM1015.2 14.5l-1 .6-2.6 4.8-.2 .7 .3 .6 .7 .9 .9 .4 1.9 .1 1-.4 2.6-2.8 .3-.7-.1-.7-1.7-2.9-1.1-.6zM1100.7 206.2l-.7 .7 .2 1.1 4.3 6 1.2 .5 1.8-.3 .9-.7 2.4-5.1 .1-.8-.5-.6-3.6-2.8-1.2-.2zM997.5 40.3l-.9 .3-.4 .7-.9 5.1 .3 1 3 3.4 1 .4 .9-.6 3.2-5.8 0-1.2-1.3-2.2-.9-.6zM1183.2 179.3l0 .9 3.7 8.7 .5 .6 .8 .1 3.8-.8 .7-.5 .2-.8-.3-8.4-.5-.9-1.1-.7-.9-.3-6 1.2-.9 .7zM1088.7 120.7l-.3 .6-.3 2.1 .2 .9 .7 .5 6.2 1.5 1.2-.4 1.4-1.7 .3-1-.8-4-.4-.7-.8-.2-5 .2-.8 .4zM977.4 104.2l-.8 .3-.3 .9 0 9.7 .4 .9 .9 .3 4.6-.3 .8-.5 .2-.9-1.7-9.5-.4-.8-.3-.1-.8-.3zM1009.9 34.8l-.8-.1-.6 .4-3.5 4-.2 .7 .1 .7 1.3 2.2 .6 .6 2.8 1 .8 .1 .6-.5 3.5-4.4 .2-.6-.1-.7-1-1.6-.6-.6zM1114.2 226.8l-.2 .8 .3 .8 .9 .3 5.3 0 1-.4 .2-1.1-.9-4.2-.6-.7-.8-.5-.9-.1-.3 .1-.6 .4zM1051.2 156.7l-.5 1 .7 8.6 .3 .8 .7 .3 .8-.1 9.5-5.7 .6-1.1 0-1.8-.5-.9-4.9-4.3-.9-.3-1 .1-.6 .2zM1097.8 106.1l0 1.2 2.7 4.6 1.1 .6 3.1-.3 .7-.3 .4-.8 .3-5.7-.4-.8-.2-.3-.7-.4-4.6-.5-1.2 .6zM1196.4 179.2l-.8 .4-.4 .9 .4 7.8 .5 .9 1.7 1.2 .8 .2 .8-.4 .3-.8 0-9-.3-.8-.9-.4zM1181.7 127.1l-.3 1.2 3.8 12.8 .7 .8 1.5 .6 1.1-.1 8.8-5.9 .5-.8-.1-.9-6.9-10.3-.8-.5-4-.7-1.1 .4zM1043.1 198l.6 .6 .8 .1 10.4-2.4 .9-.9 1.4-5.2 0-.8-.7-.6-10.7-4.3-1.1 .1-1.4 .9-.5 .7-1.7 6 0 .8zM1002.4 24.3l-.3 .8 .4 .8 4.4 4.3 .7 .4 .8-.2 .5-.7 1.6-5-.2-1.2-1-1.1-.8-.5-3.2-.3-1 .4zM1164.7 132.8l-.8 0-.6 .3-5.1 6.2-.2 1.1 .7 .8 9.4 3.6 .9 0 .6-.6 .1-.8-2.3-9-.7-.9zM1061.7 19l-.4 1.2 .5 2.9 .5 .8 6.3 4 .9 .2 2.4-.4 .8-.6 2.9-4.8 .1-.8-.3-.7-6.1-6.1-.7-.3-.8 .2zM977.5 73.9l-.9 .3-.3 .9 0 9.3 .3 .8 .6 .4 6.2 1.4 .8-.2 .7-.3 .6-1 .2-10.1-.4-1-.5-.4-.9-.3zM1112 42.5l-.4 1 .5 10.5 .6 1 .7 .4 1 .1 5.8-2.2 .8-1 .8-8.9-.2-.8-.8-.4-6.1-1.3-1 .2zM1025.2 131.6l-.7 .3-.4 .6-1 4.1 .4 1.3 3.6 2.7 .7 .2 4 .2 .6-.2 .5-.5 2.1-4.7-.1-1.2-2.5-3-1-.4zM1000.4 199.3l-.7 1.1 .4 14.4 .2 .7 .6 .4 6 2 1-.1 3.7-2 .6-1 .9-10.4-.5-1.1-8.1-5.3-1.2-.1zM1009.5 219.9l-.7 1 .1 6.6 .3 .9 .9 .3 12 0 .8-.3 .4-.8 .6-4.9-.2-.8-.6-.5-9.1-3.5-1 .1zM1119.6 69.5l-1 .9-1.1 4.8 .1 .8 .6 .6 7.6 3.3 1.1 0 .6-.9 1.2-8.3-.3-1-1.4-1.3-1.1-.3zM1138.2 88.7l-.6 .5-.2 .8 .5 4 .7 .9 5.4 2.2 1.1-.1 .8-.6 .5-.7 .6-3.5-.2-.9-2.8-3.5-.6-.4-.7 0zM1140.5 69.1l-.3 1.1 1.3 5.5 .5 .8 2.8 1.7 1 .1 2.9-1.2 .6-.5 .2-.6-.1-7.8-.6-1-3.2-1.9-.7-.2-.7 .4zM1089.9 90.5l-1-.6-1 .5-4 5.3-.2 .9 .4 .7 .7 .6 1.2 .3 5.7-2.2 .7-.8-.1-1zM1127.7 121.9l-.7 1-.2 4.2 .3 .9 .8 .4 6 .4 .7-.2 .5-.6 2-5.5 0-.9-.7-.6-3.4-1.5-1 .1zM1121.3 197.7l-.5 1.1 .5 6.7 .5 .8 .2 .2 .9 .3 3.6-.2 .8-.3 4.9-4.3 .4-.9 0-.5-.3-.8-4.9-5.1-.8-.3-.8 .2zM1188.3 6.3l-1 .4-.2 1 .6 .8 3.7 2.2 1.1 .1 .7-.9 .5-2.2-.3-1-.9-.4zM1036.9 76.9l0 1.3 4.7 6.9 .5 .5 .8 0 4-1 .8-.6 1.5-2.6 .2-.8-.4-.6-4.9-5.2-1.2-.3-5.2 1.7-.7 .5zM1158.8 81.8l-.6 1 0 2.2 .4 .8 4.3 4.8 .8 .4 1.2 .1 1.1-.5 3.5-4.3 .3-.9-.4-.8-5.7-5.1-.8-.3-.7 .3zM1018.9 140.1l-.5 .4-4.2 5.8-.3 1 .6 .7 6.5 4.5 1.2 .1 .1 0 .6-.8 2.3-8.4 0-.7-.4-.6-3.1-2.4-1.1-.2zM1169.4 17.5l.6 1.1 7.2 4.2 .9 .2 .7-.5 .2-.9-1.4-8.1-.4-.7-.7-.3-5.3-.5-.9 .3-.4 .8zM1165.8 159l-.5 1.2 2 10.1 .5 .7 .8 .2 7.1-.4 .8-.3 .4-.7 .9-6.4-.5-1.2-7.5-5.1-.7-.2-.7 .2zM1022.7 181.3l-.4 .7 0 .7 3.2 7.2 1.1 .7 11.1 .7 .7-.2 .5-.7 1.2-4.2 0-.7-.4-.6-10.8-7.7-.7-.2-.7 .2zM1030.7 170.9l-.4 .6-.5 2.2 0 .7 .4 .5 11 7.9 .7 .3 .7-.2 1-.7 .5-.6 3.3-9.5 0-1-.8-.6-11.4-2.8-1.1 .3zM1037.1 124.4l-.9 .1-.5 .7-1.4 3.5 .2 1.2 2.3 2.8 1.3 .4 3-.9 .6-.4 .3-.7 0-4.3-.2-.8-.6-.4zM1073.5 169.1l-.7 .9-1 5.1 .1 .8 .5 .5 7.7 3.5 1.2-.1 6.1-4.6 .4-1.1-.7-4.8-.8-1-5.7-1.9-.9 0zM1145.5 58l-.4 1.2 .6 2.7 .5 .7 4.3 2.6 .9 .2 5.8-1.1 .7-.3 .3-.7 1-9-.2-.9-.8-.4-5-.7-.9 .3zM982.5 101l.3 1.1 1 .4 9.7-1 .8-.4 .6-.7 .3-1-1-7.9-.8-1-6-2-1 .1-.8 .4-.6 .8zM1025.1 57.6l-.6 .7-1.4 4.8 .1 .7 .4 .6 1.9 1.5 1.3 .1 6.1-3 .6-.6 0-.9-1.2-2.9-.7-.6-3.6-1.4-1 .1zM1172 103l-.3 .8 .5 7.6 .3 .8 .8 .4 7.5 .3 .8-.2 .4-.6 .3-1.1-.3-1.2-7.2-7.2-.9-.3-.9 0-.9 .5zM1023.2 104.3l-.7-.4-.8 .1-.6 .6-2.6 6.9 0 .8 .5 .6 5.3 3.6 1.1 .1 1.8-.7 .7-1 .4-3.7-.2-.8zM1145.9 120.4l-.5 .8 .3 1 3.4 4.1 .8 .4 .8-.2 4.5-3.2 .5-.9-.4-.9-3.9-3.7-.7-.3-.8 .2zM1004.1 137.2l-.6 .8-.6 2.9 .5 1.3 6.1 4.2 .9 .2 .7-.5 4.2-5.8 .2-.8-.5-.8-4.8-3.6-1.3-.2zM1019.7 12.7l-.2 .6 .1 .7 2 3.3 .8 .6 1 .2 .7 0 .6-.5 2.7-4.5-.1-1.4-2.3-3.2-1-.5-.9 .5zM1190.1 74.7l-.1 .8 .4 .8 .8 .2 7.3-.1 .9-.4 .3-.8 0-5.3-.3-.7-.6-.5-3.7-.9-.8 0-.6 .5zM1036.7 36.6l-.8 .2-.5 .6-1.7 4 0 .8 .4 .6 4.7 3.6 1.1 .2 .7-.7 2.8-6.6 0-.8 0-.1-.9-.8zM1025.9 28.5l.2 1 .9 .4 4.4 .2 .7-.1 .5-.6 1.5-3.4 0-.9-.2-.6-1-.7-4.8-.7-.8 .2-.5 .8zM1050.4 55.4l-.8-.1-.7 .4-4.8 6.3-.3 .8 .3 .7 1.5 1.8 1 .4 3.9-.3 .7-.3 .4-.7 1-6.9-.1-.7-.5-.5zM1045.9 201.1l-.8 .6-.1 1 3 7.8 .5 .6 .6 .2 8.4 .2 .8-.3 .4-.8 .9-7-.3-1-2.7-3.2-1.2-.4zM1068.5 94.1l-.9-.1-.8 .6-2.4 4.9 .1 1.1 .9 .6 5.8 .8 .7-.1 .5-.6 1.3-2.6 0-.9-.5-.6zM1191.5 43.9l.2 .8 .6 .5 .8-.1 5.8-2.2 .6-.5 .2-.6 0-9.2-.2-.8-.7-.4-1.2-.3-.8 0-3.8 1.7-.8 1zM1091.7 56.5l-.7 .9-.2 2 .1 .8 .7 .5 3.3 1.2 1.1-.2 4.6-2.9 .5-.9-.3-1-2.4-2.6-.7-.3-.7 .1zM1046.8 41l-.9 0-.6 .7-2.2 5.1-.1 .8 .5 .6 4.2 2.9 1 .2 .8-.8 2.5-6.3 0-1-.7-.6zM1150.1 91.9l-.5 .8-.4 2.2 .1 .9 .7 .5 5.3 1.6 .7 0 .5-.3 3.7-4.6 .3-.8-.3-.7-2.8-3.1-.7-.4-.8 .2zM1183.7 223.5l-.8 .9-.6 2.9 .3 1 .9 .4 5.4 0 .8-.3 .4-.8-.2-.8-2.8-3.5-.5-.4-.8 0zM1145.7 222.8l-.8 .6-.1 .9 .9 3.5 .4 .6 .7 .3 2.8 0 .7-.2 .5-.6 1.2-3.1 .1-.7-.4-.7-1.3-1.1-1.1-.2zM1056.2 57.2l-.7 .3-.4 .7-1.1 7.3 .3 1 2.2 2.2 1 .4 4.5-.6 .8-.4 .3-.8-.2-8.5-.6-1-1.3-.8-.7-.2zM1193.4 47.8l-.7 .6-.1 .8 .8 3.7 1 .9 3.9 .8 1-.3 .4-.9 0-6.3-.5-1-1.1-.1zM1114.2 79.6l-.4 .7 0 .8 3.3 6.8 .9 .7 4.2 .6 1.2-.6 2.7-4.2 .2-1-.7-.7-9-4-1.2 .1zM1014 25.2l-.8 .2-.4 .6-1.7 5.3 .1 .9 .6 .6 1.5 .6 1.3-.3 3.2-3.2 .3-.7-.2-.8-1.9-2.7-.9-.5zM1048.7 102.2l-.3 1 .4 2.2 .7 .9 3.1 1.1 1 0 4.9-2.4 .6-.6 .4-1 .1-.7-.4-.7-4.5-4.4-.9-.3-.8 .4zM994.5 219.8l-.8 1.1-.5 6.5 .3 .9 .9 .4 10.7 0 .8-.4 .4-.8 0-6.3-.3-.7-.6-.4-6.1-2-.8 0zM1122.2 98.8l.1 1.2 1 1.7 .9 .6 4.1 .3 .8-.2 .5-.7 .5-1.8-.5-1.3-4-3.1-1-.2-.8 .6zM1087.6 6.3l-.8 .3-.4 .8-1.3 10.8 .1 .8 .6 .5 .7 .3 1.1-.1 7.4-4.9 .5-1.1-.5-6.3-.4-.8-.8-.3zM1197 161l-.7 .3-.5 .6-3.2 12.5 0 .7 .5 .6 .8 .6 .7 .3 3.9 0 .8-.3 .4-.9 0-13.1-.3-.9-.9-.3zM1035.2 154.3l.2 .8 .7 .4 .8-.1 4.6-2 .6-.5 .1-.7-.4-4.7-.3-.7-.6-.3-4.1-1.3-1 .2-.5 1zM1165.2 189.6l-.4 .8 .3 .9 5.2 6 .8 .5 .9-.4 2.7-2.6 .3-1.3-2-5.4-1-.8-3.1-.4-1 .3zM1140.4 135.1l-.7 .3-.5 .6-2.4 7.5 .3 1.2 1.5 1.4 1.1 .3 10.6-3 .8-.6 .3-.5-.1-1.3-3.6-5.4-1-.6zM1116.2 161l-.4 .8-.7 6.1 .2 .8 .7 .5 7.1 1.9 1.1-.3 5.8-4.9 .4-.8 0-1.5-.4-.9-6.6-6.1-.7-.3-.8 .2zM985.4 104.9l-.8 .5-.2 .9 1.5 8.5 .6 .8 1 .1 6.2-2.2 .6-.5 .2-.7-.8-7.1-.5-.7-.9-.3zM1187.2 201.7l-.7 0-.6 .6-2.8 4.9-.1 .9 .5 .7 5.7 3.4 .9 .1 .8-.4 2.4-3.6 .1-1.1-1.2-3.6-.8-.7zM976.8 27.6l-.5 1 0 1.9 .2 .7 .6 .4 6.1 2.5 1-.1 .6-.8 1.2-5.7-.2-.9-.7-.5-4-.9-1 .2zM1044.7 111.4l-.4 .7 .1 .7 3.3 6.9 1 .7 .7 .1 .9-.3 2.9-2.6 .4-1.2-1.4-5.8-.7-.8-2.8-1.1-1.2 .3zM1079.8 206.6l-.6 .9-.2 5 .2 .7 1.5 2.4 1.1 .6 5.7-.2 .8-.4 7.4-8.4 .3-.8-.3-.8-4.5-5.1-.7-.4-.8 .1zM1141.1 118.1l.2 .9 .8 .4 .9-.2 5.9-3.9 .5-1.1-.2-1.9-.5-.8-4.2-2.9-1.3-.1-.5 .3-.6 .9zM1106 217.1l-.9 .7-1 2.5-.1 .7 .4 .6 5.3 4.7 .9 .3 .8-.5 3-4 .3-1-.5-.7-5.1-3.5-.9-.2zM1109.8 134.7l-.7 .5-.2 .8 .1 2.7 .3 .7 .6 .4 5 1.3 .7 0 .6-.5 3.3-5.7 .2-.9-.6-.7-.8-.2zM985.4 172.3l-.9 .2-.4 .8-1 5.2 0 .7 .5 .6 4.1 2.5 .7 .2 .7-.2 6.8-5.1 .5-1 0-1-.2-.8-.8-.4zM1146.4 99.3l-.5 .8-.6 5.1 .5 1.2 4 2.7 1.3 0 5.3-3.1 .5-.6 0-.8-1.2-3.3-.8-.7-6.6-2.1-1.1 .2zM1130.4 85.1l-.9-.3-.9 .6-3.3 5.1-.2 .9 0 .1 .5 .7 5.6 4.4 .6 .2 .7-.2 2.2-1.3 .6-1.2-.6-4.9-.5-.8zM1004.9 82.4l-.5 .8-.3 1.3 .5 1.3 7.3 5.2 .8 .3 .8-.4 4.1-4.4 .3-1.3-2.9-7.1-.7-.7-1 .1zM1133.3 99.2l-.6 .7-.9 3.6 .1 .8 .7 1.5 1 .7 6.6 .5 .7-.2 1.2-.7 .6-.9 .6-4.6-.2-.7-.6-.5-5-2.1-1.1 0zM1098.3 127.7l-.3 1.1 .8 2.4 .4 .6 .6 .3 5 .3 .9-.3 .4-1-.4-4.5-.4-.8-.8-.3-3.8 0-.9 .4zM1101.6 80.7l-1 .9-.6 2.7 .2 1.1 2.2 2.4 1 .4 .9-.5 3.9-6 .2-.9-.5-.8-.9-.2zM982.1 152.7l-.5 .8 .2 .8 3.4 4.7 1 .5 7.4-.5 .9-.4 .3-.4 .2-1.2-1.3-3.7-.9-.8-7.9-1.5-.9 .3zM1065.1 116.5l.3 1 1 .4 6-.5 1-.7 1.8-3.9 0-.7-.3-.6-.7-.8-1.3-.3-6.5 2.3-.8 .9zM988.1 118.2l-.6 .5-.2 .8 .5 3.5 .4 .8 4.1 3.7 .9 .3 3-.2 .9-.5 3.4-4.4 .1-1.3-2.5-4.7-.6-.6-1.1-.4-.8-.1zM978.7 22l-.5-.7-.8-.3-.8 .4-.3 .8 0 .4 .3 .8 .7 .4 .9-.2 0-.1 .5-1.2zM1162.5 106.8l-.7 .6-.1 1 1.4 3.3 .9 .7 4.2 .5 1-.3 .4-.9-.3-5.5-.6-.9-1-.2zM1170.6 132.9l-.5 .6 0 .7 2.3 9.1 .5 .8 .9 .1 7.7-2.1 .8-.6 .1-.9-3.3-11-.7-.8-1.1 .1zM1081.5 111.1l-.5 .9 .3 1 4.9 4.7 .9 .3 .8-.4 .5-.5 .3-.8-.4-6.7-.7-1-.5-.3-1.2 .1zM1159.4 121.2l-.2 .9 .5 .7 .5 .3 1.2 .1 6.6-3.2 .6-1 .2-2.2-.3-.9-.8-.4-3.8-.5-1.2 .6zM1066.3 157.8l-.4 1 0 2 .4 .9 5.2 4.7 1.3 .2 5-2.2 .5-.5 .1-.8-1.3-7.9-.8-.9-2.9-1-1.1 .1zM1193.8 122.5l-.4 .7 .2 .8 3.9 5.9 .8 .5 1-.3 .4-.9 0-9.2-.3-.8-.8-.4-.9 .3zM987.5 60.2l-.9 .3-.4 .9 0 9.8 .4 .9 .3 .3 1.1 .2 8.1-2 .7-.6 .8-1.5 0-.9-2-5.9-1.1-.8zM1109.7 105.6l-.8 .4-.3 .8-.3 5.3 .5 1 2.8 2.3 1.4 .2 3.6-2 .6-1.1 0-.9-.2-.6-3.8-5-1.1-.5zM1036.7 158.3l-.7 1.1-.3 4.8 .2 .8 .7 .4 10.7 2.6 1.1-.3 .4-1-.7-8.7-.7-1-3.2-1.5-1 0zM1027.9 68.4l-.7 1 0 3 .3 1 3.1 2.8 .9 .3 2.1-.1 .9-.6 .3-.5 .2-.8-1.3-7.3-.6-.8-1.1 0zM977.9 34.8l-1.1 .1-.5 1 0 6 .4 .8 .9 .4 2.9-.3 .9-.6 2.2-3.7 .1-1-.7-.7zM1152.9 161.7l-.4 .6-1.2 4.7 .3 1.1 4.8 5.6 1.1 .4 6.4-.9 .7-.4 .1-.1 .3-1-2.2-10.7-.4-.7-.7-.2-5.9-.3-.8 .2zM1007.1 46.1l-.9 0-.6 .6-3 5.5 0 1 .8 .7 6 1.5 1.2-.4 1.6-2 .2-1.3-2.2-4.1-.7-.5zM1092.9 87.2l-.7 .3-.4 .7 .2 .8 3.2 5 .9 .6 1-.4 3.1-3.3 .3-.8-.3-.8-1.9-2.2-1.1-.4zM1099.8 116.7l-.2 .9 .9 4.3 .4 .7 .8 .3 4.2 0 .7-.3 3.4-2.8 .4-.7 .1-.4-.4-1.2-3.2-2.5-.8-.3-4.7 .4-.9 .5zM1098.5 210.1l-.9-.5-.9 .4-5.5 6.2-.3 .9 .4 .8 4.7 4.1 1.3 .2 3.5-1.6 .6-.6 1.3-3.2-.2-1.1zM1135.6 199.8l-.4 .9 0 .1 .5 1 7.5 5 .9 .2 .7-.5 1.8-2.3 .3-.8-.4-7.2-.4-.9-2.2-1.6-.8-.3-.8 .3zM1049.7 6.3l-1 .5-.2 1 .1 .3 .9 .8 2.8 .5 1.2-.5 .5-.7 .2-.8-.3-.8-.8-.3zM1067.1 70.9l-.9 .3-.4 .9 .5 9.6 .5 .9 1.1 .2 8.4-2.3 .6-.5 .3-.7-.2-6.8-.4-.8-.8-.3zM1056.3 29.9l-.4 .7 .2 .8 3.4 6.2 .6 .5 .8 0 .7-.4 4.6-6.7 .2-1-.5-.7-4.3-2.8-.8-.2-.7 .3zM1015.1 74.3l.6 .8 .9 .1 7.1-2.4 .6-.4 .3-.7 .1-2.6-.5-1-2.6-1.9-1-.2-1.4 .3-.8 .6-3.2 6.3-.2 .8zM1044.8 145.9l-.5 1 .5 5.4 .7 1 3 1.4 1.2-.2 2.9-2.1 .4-.7-.1-.9-4-6.4-.8-.6-1 .3zM977.8 88.4l-1.1 .2-.4 .9 0 10.8 .4 .9 .9 .3 1.3-.1 .7-.3 .4-.6 2.2-9.9-.2-.9-.7-.5zM1110.5 151.7l-.7 1-.1 1.2 .4 1 3.8 3.4 .8 .3 .7-.3 5.5-4.3 .4-.9-.4-.9-3.4-3.1-.6-.3-.7 .1zM1168.3 91.9l-.3 .7 .2 .7 3.8 5.9 1.1 .5 .7-.1 .8-.3 4.9-5.1 .3-.9-.1-1.2-.4-.7-5.2-4.7-.8-.3-.9 .5zM1079 22.3l-.8 .6-3.1 5.3-.1 1.2 3.1 5.3 .9 .6 7.2 .7 1-.5 3.6-4.2 .3-.7-.2-.8-4.4-6.9-.5-.5-2.2-1-.8-.1zM999.3 70.9l0 1.2 3.9 6.9 .7 .6 1-.1 6.7-4 .6-.9-.5-1-5.9-4.8-.9-.2-4.2 .7-.9 .6zM1104.4 91.9l-.8-.3-.8 .4-4.2 4.4-.2 1.3 .9 2.4 1 .7 3.8 .4 .7-.1 .5-.6 2-5 .1-.7-.4-.7zM1105.4 58.5l-.7 .6-.1 .9 1.5 5.3 .5 .7 .8 .2 5.4-.9 .8-.5 .2-.9-1.1-5.4-.5-.8-1-.6-.9-.1zM1017.7 51l-.4 .7 .1 .8 .6 .5 5 2.2 1 0 1.2-.5 .5-.6 .1-.7-.9-6-.4-.7-.8-.3-.8 .3zM1048.9 213.9l-1.1 .6-2.5 4.5-.1 .9 .5 .7 11.7 7 .8 .2 .8-.4 .3-.8 .4-11.3-.3-.8-.9-.4zM1163.5 52.7l-1.1 .1-.5 .9-1.2 10.2 .5 1.2 2.7 1.8 .8 .2 .7-.3 8-7.7 .3-1.2-.4-1.3-.8-.8zM1063.2 139.7l-.2 1.1 .8 .7 5.7 1.6 1.2-.4 2.9-3.5 .3-.8-.3-.8-4-4.8-1-.4-1 .5zM977.6 170l-.9 .3-.4 .9 0 7.6 .5 1 1.1 .1 1.8-.7 .7-.9 1.3-6.5-.2-.9-.9-.5zM1037.4 26.9l-.7 .2-.4 .5-1.5 3.3 0 1.1 .7 1.3 .9 .7 6.2 .9 .7-.1 .5-.5 2.3-4.6 0-1-.4-.8-1-.6zM1001.3 115l-.4 .7 .1 .8 2 4 1 .6 3.6 .4 .7-.1 .5-.5 2.8-6 .1-.8-.5-.7-3.3-2.4-.7-.2-.8 .2zM1055.5 10.5l-.1 1.2 2 4.4 .6 .5 .9 .5 1.3-.2 6.7-4.9 .5-1-.2-3.5-.3-.9-.9-.3-6.7 0-.9 .5zM1089.7 82.9l-.2 .9 .5 .8 .8 .2 5.7-.7 .7-.2 .3-.7 .6-2.4-.3-1.1-2.6-2.6-.9-.3-.9 .5zM1082.7 182l-.5 .9 .1 4.3 .5 .9 7 5 .8 .3 .8-.5 4.3-5.1 .3-.8 0-4.6-.5-1-5.4-3.9-.7-.2-.7 .2zM1195.8 15.5l-.9 .4-.2 1.1 2.7 9 .5 .6 .8 .2 .7-.4 .3-.8 0-8.9-.3-.8-.9-.4zM1167.7 173.9l-.9 .5-.2 1 2.1 8.1 .4 .6 .6 .3 3.1 .4 .9-.3 6.6-5.3 .3-.5 .2-.4-.2-1.2-2.9-3.3-1-.4zM1007.9 188.4l-.6 .8-1.6 5.5 .1 .8 .4 .6 8 5.2 1.1 .1 4.8-1.9 .7-.7 2.6-6.5 0-.9-3.5-7.9-.7-.6-1 .1zM1160.1 201.5l.5 .9 1.1 .1 6-1.6 .6-.4 .3-.8-.3-.7-5.9-6.8-1.1-.4-.8 .1-.8 .5-.2 .8zM1041.4 49.9l-.9-.2-.8 .5-4.7 6.6-.2 1.1 1.1 2.5 1 .7 3.7 .3 1-.4 4.7-6.2 .2-.9-.5-.8zM998.8 26.8l-.7 .4-.3 .8-.1 8.6 .2 .9 .8 .4 3 .3 1.1-.4 3-3.5 .3-.8-.4-.8-5.8-5.6-1.1-.3zM1129.3 185.4l-.7 .4-.4 .8-.1 4.7 .4 .8 4.7 4.9 .8 .3 .8-.3 6.3-5.6 .4-1.1-.9-4.6-.4-.7-.8-.3zM1052.7 121.4l-.3 .7 .1 .8 2.4 4.3 .6 .5 .8 0 5.1-1.7 .6-.5 .2-.7 0-3.5-.3-.7-.6-.4-5.1-1.1-1.1 .2zM1132.6 6.3l-.9 .4-.3 .8 0 1.2 .4 .9 2.2 1.9 .9 .3 7.5-.3 .7-.2 .4-.7 .7-2.8-.3-1-.9-.5zM1053.8 78.1l0 1.1 .9 .7 7.5 1.4 1-.3 .4-1-.4-7.7-.4-.9-.9-.3-4 .5-.9 .7zM1172.7 115.1l-.9 .3-.4 .9-.2 3.1 .4 1 6 5.3 .8 .3 .3 0 .9-.4 3.4-3.6 .3-1.2-1.3-4.4-.4-.6-.7-.3zM1163.5 125.1l-.7 .7 .1 .9 1.3 2.8 .7 .6 2.8 1 1-.1 5.2-3.1 .6-.9-.4-1-3.9-3.4-1.3-.2zM1027.2 221.4l-.6 .9-.6 5.1 .3 .9 .9 .4 10.7 0 .8-.3 .4-.8 .2-4.1-.3-.7-.6-.5-8.2-2.2-.9 .1zM1097.1 156.7l.1 .9 .6 .6 .9 0 7.8-3.7 .7-1 0-1.4-.2-.8-3.7-4.4-1-.4-1.2 0-.8 .2-.4 .7zM1124.4 152.2l-.4 .9 .4 .9 6.5 6 .8 .3 .8-.3 4.7-4.6 .4-.9-.1-5.4-.4-.8-2.2-2.1-.8-.3-2.3 0-.8 .3zM1193.4 102.3l-.9 .8-.2 1 .4 1.2 5 4.4 .9 .3 .8-.4 .3-.8 0-6.6-.5-.9-1-.2zM1164.8 7.4l-1-.5-.9 .6-5.8 9-.2 .8 .4 .8 3.4 2.5 1.3 .1 4.2-2.3 .6-.9 .7-6.1-.2-.9zM1166.3 214.1l-.4 .7 0 .9 .6 .5 5.9 2.6 1-.1 1.1-.5 .6-.9 1-6.3-.1-.7-.4-.5-1-.6-1.3 .1zM1152.4 111.4l-.5 1.1 .2 2 .3 .7 3.8 3.5 .9 .3 .9-.6 2.7-4.5 .1-1.1-1.6-3.8-.7-.7-1 .1zM1001.3 6.3l-1 .5-.2 1 .5 1.8 .6 .7 1 .1 5-1.8 .6-.5 .2-.8-.4-.7-.8-.3zM1031.9 79.1l-.9 .6-3.8 5.9-.2 .8 .3 .7 1.4 1.5 .9 .4 8.8-.5 1-.5 0-.1 .2-.6-.2-.7-4.7-7.1-1.1-.5zM1035.6 140.7l0 1 .7 .7 5.7 1.7 1.1-.2 4-3.1 .4-.6 .5-1.5 0-.7-.5-.7-4-2.6-1-.2-4.2 1.2-.8 .7zM1141 122l-.7 .1-.5 .7-2.4 6.5 .1 1.2 1.3 1.6 1 .4 6.4 0 .7-.3 .5-.6 .6-1.8-.3-1.2-5.2-6.1-.8-.4zM1049.4 30.8l-.7 .1-.5 .6-2.4 4.7-.1 .9 .1 .3 .8 .8 7.1 2.5 .8-.1 1.8-.7 .7-.7-.1-1-3.5-6.2-.9-.6zM1026.2 119.1l-.7 .7-2.3 6.1 0 .9 .6 1.5 .5 .5 .7 .2 5.9-.6 1-.7 1.7-4.6 0-1-1.2-2.2-.5-.6-2.4-1.1-1-.1zM1164.8 76.1l.3 1.3 6.6 5.8 1 .3 .8-.6 1.7-2.8 .1-1.1-1.6-3.7-.7-.6-5.8-2.2-1 0-.6 .7zM1003.8 123.7l-1.1 .4-3.2 4.1-.2 .7 .2 .7 2.8 4.4 .7 .5 .9-.1 4-1.8 .7-1 .6-6-.3-.9-.1-.1-.8-.4zM1022.1 20.5l-1.1 .3-2.3 2.6-.3 .7 .2 .8 1.9 2.7 1 .5 .8 .1 .8-.3 .4-.7 1-4.9-.2-.9 0-.1-.7-.5zM1182.7 62.9l-.7 .5-.2 .8 .1 2 .3 .7 4.5 5.3 1.1 .4 .9-.6 3-5.4 0-1.2-1.9-3.5-.5-.6-.8 0zM1027 18.7l-.1 .7 .3 .7 .7 .4 4.5 .6 .9-.2 .5-.7 1-4-.1-.9-.7-.6-3.2-.7-.7 .1-.6 .5zM998.1 59.4l-.2 1.1 1.9 5.3 .5 .6 .8 .2 3.3-.6 .8-.5 3.7-5.9 .1-1.1-.8-.7-6.9-1.8-.7 .1-.6 .4zM1074.8 193.8l-.6 1-.1 4.6 .3 .8 3.1 3.5 .8 .4 .8-.2 9.7-6.2 .6-1-.5-1-7.3-5.2-1.3-.1zM1108.6 124.4l-.4 1 .4 5.6 .5 .8 1 .2 5.2-1 .7-.4 .3-.7-.2-.7-4.1-6-.8-.5-.9 .3zM1111.8 194.9l-1-.1-.7 .8-1.9 5.3 0 .8 .4 .6 4.2 3.2 .9 .3 3.8-.3 .8-.4 .3-.9-.4-5.3-.7-.9zM1124.8 222.7l-.9 .5-.2 1 .8 3.6 .4 .6 .8 .3 4.2 0 .8-.3 .4-.8-.3-.9-3-3.7-1.1-.4zM978 206.8l-1.2 .1-.5 1 0 9.6 .3 .7 .6 .5 .8-.1 5.7-2.5 .6-.5 .1-.8-.9-5.1-.8-.9zM1191 79.1l-.8 .4-.3 .9 .1 3.1 .4 .8 3.2 3.1 .9 .4 4.1-.4 .8-.4 .3-.8 0-6-.4-.8-.8-.4zM1141.2 79l-1.3 0-5.8 3.8-.6 .9 .4 1 1.7 1.5 1.2 .2 5.4-1.5 .8-.9 .5-2.6 0-.7-.5-.5zM1080.2 153.7l-.5 1.2 1.4 8.2 .8 1 5.2 1.7 1.2-.2 4.9-4.9 .4-.9-.4-.9-8.2-7.3-.7-.3-.7 .2zM1176.5 73.5l-.2 1.3 1.1 2.5 .5 .6 .8 .1 6.3-1.1 .7-.4 .3-.7-.3-.8-4.2-4.9-.9-.4-.9 .4zM1133.8 109.2l-.9 .3-.3 1 .9 5.8 .7 .9 2.7 1.1 1.1 0 .6-.9 .7-6.6-.2-.9-.9-.4zM1140.9 148.8l-.6 .4-.2 .8 0 4 .8 1 9.7 4.4 1.3-.2 1-.8 .4-1.2-2.3-10-.5-.8-1-.1zM1182.7 91.2l-.4 1 0 .5 .7 1 5.3 2.6 1 0 .6-.7 1.8-5.4-.3-1.2-1.9-2-.8-.3-.8 .3zM1056.4 93.3l-.6 .5-.1 .8 .3 .7 4 3.9 1 .3 .9-.7 3.1-6.5 0-.9-.6-.7-.9 0zM1123.9 209.3l-.7 .3-.4 .7-2 8.4 .1 .7 .5 .6 .4 .2 .7 .1 4.3-.4 .8-.4 2.4-3.1 .3-.6-.1-.7-3.1-5.3-1.1-.6zM1155.5 224.7l-.9 .8-.7 1.6 .1 1.1 1 .5 4.9 0 .8-.3 .4-.7-.1-.8-1.2-2-1.2-.6zM1119 6.3l-.8 .3-.4 .8-.1 2.1 .4 1 1.5 1.1 1.1 .2 7.3-2.6 .6-.4 .2-.7 0-.6-.4-.9-.8-.3zM1136.7 226.7l-.3 .8 .3 .9 .9 .3 4.1 0 .9-.5 .2-1-.9-3.5-.4-.7-.9-.2-.7 .4zM990.3 6.3l-.8 .3-.4 .9 0 4.8 .4 .9 .9 .9 .7 .3 .7-.2 5.6-3 .5-.6 .1-.8-.7-2.6-.5-.7-.7-.2zM1184.5 31.6l-.9 .1-.6 .7-2.8 9.9 .1 1 .3 .5 .9 .6 6.1 .7 .9-.3 .4-.8 .7-9.9-.2-.7-.6-.5zM1055.6 43l-.6 .7-3.3 8.3 0 .8 .6 .6 1.8 1.1 .7 .2 4-.4 .7-.3 .4-.8 .7-10.4-.2-.8-.6-.5-.8 .1zM1191.8 58.9l0 1.1 2.4 4.4 .7 .6 3.3 .9 1-.2 .5-1 0-6.2-.3-.8-.7-.4-4.6-.9-.8 .1-.5 .5zM999 176.6l.3 .8 6.7 8 .7 .4 .8-.1 7.9-4.2 .6-.8-.2-.9-6.2-8.9-.7-.4-.8 .1-8.4 4-.7 1.1zM1091.9 108.9l-.7 .5-.3 .7 .3 4.6 .4 .8 .8 .3 4.4-.2 1-.5 .4-.6 0-1.3-2.5-4.3-.5-.5-.8 0zM1052.1 171.5l-1.1-.3-.8 .8-3.1 9 0 .9 .7 .6 10.5 4.2 1.2-.1 2.6-1.9 .4-.7 .6-2.1-.4-1.3zM1080.5 82.7l-1.1 .1-.5 1 .4 10.3 .4 .8 .9 .3 .8-.5 5.7-7.6 .1-1.3-.3-.6-.6-.5zM1026.7 193.2l-.7 .2-.5 .6-2 5.1 0 .7 .4 .7 6.3 4.8 .6 .2 .7-.1 8.6-5 .6-.7 0-.8-1.7-4.3-1.1-.7zM1021.2 30.7l-.9 .4-3.7 3.6-.3 .7 .1 .8 .8 1.4 .6 .5 3.1 1.2 1-.1 .6-.7 1.7-6.1-.2-1-.9-.5zM1116.2 57.6l-.6 .5-.1 .8 1.2 6.4 .3 .5 .7 .8 1.2 .4 6-1.3 .7-.4 .3-.6 .7-5.2-.5-1.1-3.6-2.6-1.1-.1zM1018.8 77.2l-.7 .6 0 1 2.2 5.5 1 .7 2.4 .2 1.1-.6 3.5-5.6 .2-.8-.4-.7-2.1-2-1.2-.3zM1115.3 187.4l-.9 .7-1.5 3.2 0 .9 .5 .6 5.2 2.8 1.3-.1 5.1-3.6 .5-.9 .1-4-.4-.9-1-.3zM1114.5 93.6l-.3 .7 .2 .8 2 2.7 1 .5 1.5-.1 1-.6 2.3-4.2 0-1.1-.9-.6-3.7-.5-1 .3zM1012.2 149.7l-1-.2-.7 .7-2.7 6.6 .1 1.1 2.8 4.3 .6 .5 .8 0 5.4-1.4 .9-.8 1.3-4.7 0-.8-.5-.5zM989.2 140.8l-1 0-.7 .8-1.5 5.7 .2 .9 .8 .6 5.7 1 .8-.1 .5-.6 1.7-3.8 0-.9-.6-.7zM1145.7 210.3l-1.1-.4-.9 .7-3.2 5.9 0 1 .7 1.9 .5 .6 1 .5 .8 .2 4.7-1.1 .6-.3 .3-.7 .3-3.9-.3-.9zM1123.1 114.1l-.7 .9 .3 1.1 2.8 3 .6 .4 .8-.2 3.4-1.7 .5-.6 .1-.7-.6-3.5-.6-.8-1-.1zM1086.7 48.8l-.2 .7 .3 .7 2.9 3.4 .6 .4 .8-.1 5.1-2.3 .7-1.1 0-1.7-.2-.7-.7-.4-6.2-2-.7 .1-.6 .4zM1085.9 65.7l-.5 1 .6 .9 6.9 4.9 .9 .3 .7-.5 1.2-1.4 .3-1.1-1.3-4.7-.7-.8-3.9-1.3-1.1 .2zM984.1 168.1l.1 .9 .8 .6 8.5 1.4 1-.3 .4-1-1-7-.5-.7-.8-.3-5.9 .4-.7 .2-.4 .6zM1063.2 103.6l-.7 .1-.6 .6-.2 .7 .1 1.1 2.7 3.6 .6 .4 .8 0 5.5-2 .7-.5 .1-.9-.3-1.2-.3-.6-.7-.3zM1192.2 216.5l-1-.2-.8 .7-1.5 3.3 .2 1.2 3.4 4.4 .8 .5 1-.4 4-3.7 .4-1-.5-.9zM1035.8 118.4l-.5 .7 .1 .9 .5 1 .8 .6 5.7 1.6 1.1-.2 1.4-1.1 .4-.7-.1-.8-2.4-4.9-.7-.6-1 .1zM1037.3 100.9l-.5 1-.1 3.2 .6 1 4.9 2.9 .8 .2 .6-.3 2.2-2 .4-1.1-.4-2.4-.5-.7-4.6-3.3-.7-.2-.7 .2zM1108.7 6.3l-.8 .3-.4 .8 .2 .8 1.5 1.9 1.2 .5 3.8-.8 .6-.4 .3-.7 .1-1.1-.3-.9-.9-.4zM1146.9 80.7l-.7 .8-.7 3.3 .2 1 2.4 3 .7 .4 .9-.1 5.4-3.5 .5-1 0-1.7-.5-1-3.9-2.5-1.1-.1zM1098.8 6.3l-.9 .4-.3 .9 .5 5.9 .7 1 4.8 2.1 .8 .1 .7-.5 2-3.2-.1-1.4-3.5-4.8-1-.5zM1180.3 11.3l-.3 1 1.2 6.8 .6 .9 1.1 0 8.4-4.2 .5-.6 .1-.9-.6-.6-7.8-4.6-.8-.1-.7 .4zM1122 14.1l-.6 .5-.2 .7 .3 5.9 .7 1 5.8 2.8 1 0 .6-.8 2.7-9.9-.4-1.2-1.5-1.3-1.2-.2zM1117.5 100.9l-1 .6-1.1 1.8-.2 .7 .3 .7 1.8 2.4 1 .4 1-.5 1.7-2.9 0-1.3-.9-1.4-1.1-.6zM1098.1 224.7l-.7 .9-.2 1.7 .2 1 .9 .4 7 0 .9-.4 .3-.8-.4-.9-3.5-3.1-1.3-.2zM1028.8 143.5l-.7 .2-.5 .7-1.9 6.9 .1 .9 .7 .6 4.5 1.5 1.1-.2 .5-.9 .1-8.4-.3-.8-.9-.4zM1004 12.5l-.7 .6 0 1 1.5 4.2 1.1 .8 2.2 .2 1.2-.6 2.4-4.4 .1-.8-.3-.7-1.6-1.6-1.3-.3zM1012.2 61.9l-1-.3-.9 .6-2.3 3.7-.1 .9 .4 .7 3.7 3 1 .2 .8-.6 1.9-3.7 .1-.8-.3-.6zM1080.1 137.4l-.3 .8 .4 .9 4.6 4.2 .7 .3 .7-.2 3.2-2 .5-.8-.2-1-4.4-5.8-.9-.5-1 .4zM1025.8 101.4l-.5 .8 .3 .9 3.7 4.6 .7 .5 .9-.2 2.7-1.9 .5-.9 .1-2.6-.3-.7-.6-.5-5.3-1.2-1 .2zM1106 144.4l-.4 .8 .3 .8 2.4 2.9 .7 .4 .8-.1 5.1-2.5 .5-.6 .1-.7-.1-.7-.9-1-5.6-1.4-1.2 .3zM1169.7 6.3l-.8 .3-.4 .8 .3 .8 .5 .7 .8 .4 7.3 .6 1-.4 1.1-1.2 .3-.8-.4-.9-.8-.3zM1017.8 40.9l-.8-.1-.6 .4-3.5 4.5-.1 1.3 1 2 .9 .6 1-.3 6.1-5 .4-.8-.2-.8-.6-.5zM1061.2 211.6l.3 1 1 .4 12.9-1 .7-.3 .4-.8 .1-3.7-.3-.9-3.6-4-1.1-.4-8.5 1.5-.7 .3-.3 .7zM1195.6 11.4l.2 1 .9 .5 1.8 0 .8-.3 .4-.9 0-4.2-.4-.8-.8-.4-.9 0-.7 .3-.5 .7zM1100.6 160.2l-.5 .5-.1 .8 .3 .6 8.8 7.8 .7 .3 .7-.1 1.3-.8 .6-.9 .8-6.6-.4-1.1-4.1-3.6-1.3-.2zM996.4 102.7l-.3 .9 1.1 8.9 .7 1 .1 0 1.2-.1 6-4.7 .5-1.1-.3-3-.3-.7-.6-.3-6.7-1.6-1.2 .4zM1155.5 181.1l.1 1.1 3.9 6.5 .5 .5 .7 .1 .9-.2 .6-.3 3.7-3.3 .3-1.2-1.9-7.5-.5-.6-.8-.2-5 .6-1 .8zM978.4 132.6l-.4 .6 .1 .8 .6 .6 7.4 3.4 1 0 .6-.7 2.7-7 .1-.7-.4-.6-2.7-2.5-.8-.3-.8 .3zM1064 144.3l-.8 0-.6 .6-2.7 5.8-.1 .8 .4 .6 3.7 3.1 .7 .3 .8-.2 5-3.7 .4-.6 .1-.7-1.1-3.8-.8-.8zM1037.3 63.8l-1 .4-.3 1 1.2 7 .6 .8 1 .1 3.5-1.1 .8-.9 .7-3.1-.2-1-2.1-2.5-.8-.4zM1097.9 63.6l-.5 .6 0 .7 .9 3.4 .4 .7 .9 .2 3.1-.4 .9-.6 .1-.2 .2-.9-1.3-4.7-.7-.8-1.1 .1zM1099.2 181.5l-.6 1 0 3.8 .7 1.1 9.3 4.3 .9 0 .6-.6 2-4.3-.1-1-3.8-8-.8-.6-.9 .1zM1163.2 23l-.6 1.1 .4 8.8 .4 .8 .7 .4 .8-.2 10.1-7.4 .4-.6 0-.8-.5-.6-6.4-3.7-1.2-.1zM1045.5 14.3l-.3 .7 .1 .7 1.8 3.5 .7 .6 .9-.1 5.1-2.4 .7-.7-.1-.9-1.4-3-.9-.7-3.2-.5-1.1 .3z"/></defs>
<use href="#phC" fill="#e2b860" transform="translate(0.7 0.6)"/>
<path d="M1072.3 130.3l-.4 .8 .3 .9 3.6 4.2 .9 .5 .9-.4 5.4-6.1 .3-.6 .1-.8-.2-.9-.7-.5-5-1.3-1.1 .3zM1075.6 118.1l0 1 1.6 3.8 .8 .7 5.9 1.5 1-.2 .5-.8 .4-2.6-.4-1-6.4-6.1-1-.3-.9 .7zM990.3 184.6l-.5 1-.1 7.2 .4 .9 2.8 2.6 .6 .3 4.3 .8 .8-.1 3.8-1.8 .7-.8 1.6-6-.2-1.1-6.3-7.5-.7-.4-.9 .3zM1197.5 226.6l-.4 .9 .3 .8 .9 .4 .2 0 .8-.4 .4-.8 0-.2-.3-.8-.9-.4-.8 .3zM1109.9 174.3l0 1.1 4.2 8.6 .5 .6 .8 .1 8.5-1.5 .8-.5 .1-.9-1.7-7.4-.8-.9-8.1-2.1-.9 .1-2.4 1.3-.5 .5zM1129.9 58.8l-.7 .9-.8 5.8 .4 1 1.5 1.5 .9 .3 6.4-.4 .8-.3 4.3-4.4 .4-1.1-.7-2.9-.5-.7-3.9-2.9-1.3-.1zM1132.2 24.8l0 .8 .6 .6 .8 .1 10.1-2 .9-.8 1.7-4.9-.2-1-2-3-1.1-.5-7.2 .3-.7 .2-.4 .6zM1098.1 30.9l-.6 .7 .1 1 5.3 8 1 .5 5.4 0 .7-.3 1.8-1.5 .4-1.1-1.9-9-.6-.8-2.8-1.5-1.1 0zM977.5 6.3l-.8 .4-.4 .8 0 3 .5 1 1.8 1.3 .8 .2 6-.7 .8-.3 .3-.8 0-3.7-.3-.8-.9-.4zM1133.4 162.8l-.4 .8 0 1.2 .6 1.1 7.1 4.4 1.2 0 6.2-3 .7-.8 .9-3.6-.1-.8-.6-.6-9.1-4-.7-.1-.6 .3zM1125.2 42l-.8 1-.8 9.7 .5 1 3.6 2.6 1.2 .1 6.4-3.1 .5-.5 .1-.8-1.4-8.2-.5-.8-3.8-2.5-1.1-.1zM1025.1 42.2l.6 .4 .7 0 3.8-.9 .9-.7 2.2-5.4 0-1-.7-1.2-1-.6-3.8-.2-.7 .2-.5 .6-2 7.2 .2 1.1zM1012.4 6.3l-.7 .3-.4 .7-.2 .8 .4 1 2.4 2.5 .9 .3 1.6 0 1-.4 2.5-3.2 .3-.9-.4-.8-.8-.3zM1072.5 144.7l-.2 1 1.2 4.3 .7 .8 3.2 1.1 1-.1 4.5-3 .5-.7 .3-1.4-.3-1.1-5.7-5.3-.9-.3-.9 .4zM1181 24.5l.1 1.3 1.9 2.4 .6 .4 7 2.1 .8 0 3.1-1.4 .6-.6 .1-.8-2.5-8.3-.7-.8-1 0-9.2 4.7-.5 .5zM1096.9 73.6l-.3 .8 .4 .8 2.7 2.7 1 .3 4-.6 .9-.7 0-1-1.8-3.8-.6-.5-.7-.1-3.8 .4-.8 .5zM1031.4 110.8l-.5 .8-.3 3.3 .1 .7 .5 .5 1.3 .6 1.2 0 6.2-4 .5-.6 0-.8-.5-.6-3.8-2.3-1.3 .1zM1114.4 208.4l-1 .6-2.3 4.8-.1 .9 .5 .6 5 3.5 1.1 .1 .7-.8 2-8.6-.2-1.1-1-.4zM1050.1 140.7l.1 1 5.2 8.2 .7 .5 .8 0 .6-.6 3.1-6.9 0-1-.1-.3-.6-.6-7.3-3-.9 0-.3 .1-.7 .7zM1028.2 44.9l-.7 .5-.2 .8 1.2 7.2 .7 .9 2.6 1 .7 0 .6-.5 3.8-5.1 .2-.9-.5-.8-4.7-3.5-1-.3zM977.4 45.7l-.8 .4-.3 .8 0 8.5 .3 .8 .9 .4 4.7 0 .8-.2 .4-.7 .9-4.2-.1-.9-2.7-4.6-1.1-.6zM1082.2 218.8l-.7 .3-.4 .6-2.1 7.5 .2 1 .9 .5 13.2 0 .8-.3 .4-.7 .4-2.5-.4-1.1-6-5.2-.8-.3zM1110.4 13.3l-.8 .5-2.9 4.8-.2 .8 .9 4.3 .6 .8 2.7 1.5 1.2 0 6.4-3.6 .6-1.1-.3-6.6-.5-.9-1.7-1.4-1-.2zM999.3 144.4l-.7 .6-2.6 6.1 0 .9 1.3 3.7 .4 .6 .7 .2 6.1-.2 1-.8 2.4-5.9 0-.8-.4-.6-5.9-4.1-1.1-.1zM977.4 104.2l-.8 .3-.3 .9 0 9.7 .4 .9 .9 .3 4.6-.3 .8-.5 .2-.9-1.7-9.5-.4-.8-.3-.1-.8-.3zM1089.9 90.5l-1-.6-1 .5-4 5.3-.2 .9 .4 .7 .7 .6 1.2 .3 5.7-2.2 .7-.8-.1-1zM1165.8 159l-.5 1.2 2 10.1 .5 .7 .8 .2 7.1-.4 .8-.3 .4-.7 .9-6.4-.5-1.2-7.5-5.1-.7-.2-.7 .2zM982.5 101l.3 1.1 1 .4 9.7-1 .8-.4 .6-.7 .3-1-1-7.9-.8-1-6-2-1 .1-.8 .4-.6 .8zM1023.2 104.3l-.7-.4-.8 .1-.6 .6-2.6 6.9 0 .8 .5 .6 5.3 3.6 1.1 .1 1.8-.7 .7-1 .4-3.7-.2-.8zM1004.1 137.2l-.6 .8-.6 2.9 .5 1.3 6.1 4.2 .9 .2 .7-.5 4.2-5.8 .2-.8-.5-.8-4.8-3.6-1.3-.2zM1190.1 74.7l-.1 .8 .4 .8 .8 .2 7.3-.1 .9-.4 .3-.8 0-5.3-.3-.7-.6-.5-3.7-.9-.8 0-.6 .5zM1068.5 94.1l-.9-.1-.8 .6-2.4 4.9 .1 1.1 .9 .6 5.8 .8 .7-.1 .5-.6 1.3-2.6 0-.9-.5-.6zM1191.5 43.9l.2 .8 .6 .5 .8-.1 5.8-2.2 .6-.5 .2-.6 0-9.2-.2-.8-.7-.4-1.2-.3-.8 0-3.8 1.7-.8 1zM985.4 104.9l-.8 .5-.2 .9 1.5 8.5 .6 .8 1 .1 6.2-2.2 .6-.5 .2-.7-.8-7.1-.5-.7-.9-.3zM1044.7 111.4l-.4 .7 .1 .7 3.3 6.9 1 .7 .7 .1 .9-.3 2.9-2.6 .4-1.2-1.4-5.8-.7-.8-2.8-1.1-1.2 .3zM985.4 172.3l-.9 .2-.4 .8-1 5.2 0 .7 .5 .6 4.1 2.5 .7 .2 .7-.2 6.8-5.1 .5-1 0-1-.2-.8-.8-.4zM1130.4 85.1l-.9-.3-.9 .6-3.3 5.1-.2 .9 0 .1 .5 .7 5.6 4.4 .6 .2 .7-.2 2.2-1.3 .6-1.2-.6-4.9-.5-.8zM1099.8 116.7l-.2 .9 .9 4.3 .4 .7 .8 .3 4.2 0 .7-.3 3.4-2.8 .4-.7 .1-.4-.4-1.2-3.2-2.5-.8-.3-4.7 .4-.9 .5zM1098.5 210.1l-.9-.5-.9 .4-5.5 6.2-.3 .9 .4 .8 4.7 4.1 1.3 .2 3.5-1.6 .6-.6 1.3-3.2-.2-1.1zM1079 22.3l-.8 .6-3.1 5.3-.1 1.2 3.1 5.3 .9 .6 7.2 .7 1-.5 3.6-4.2 .3-.7-.2-.8-4.4-6.9-.5-.5-2.2-1-.8-.1zM1017.7 51l-.4 .7 .1 .8 .6 .5 5 2.2 1 0 1.2-.5 .5-.6 .1-.7-.9-6-.4-.7-.8-.3-.8 .3zM1063.2 139.7l-.2 1.1 .8 .7 5.7 1.6 1.2-.4 2.9-3.5 .3-.8-.3-.8-4-4.8-1-.4-1 .5zM1001.3 115l-.4 .7 .1 .8 2 4 1 .6 3.6 .4 .7-.1 .5-.5 2.8-6 .1-.8-.5-.7-3.3-2.4-.7-.2-.8 .2zM1007.9 188.4l-.6 .8-1.6 5.5 .1 .8 .4 .6 8 5.2 1.1 .1 4.8-1.9 .7-.7 2.6-6.5 0-.9-3.5-7.9-.7-.6-1 .1zM1172.7 115.1l-.9 .3-.4 .9-.2 3.1 .4 1 6 5.3 .8 .3 .3 0 .9-.4 3.4-3.6 .3-1.2-1.3-4.4-.4-.6-.7-.3zM1164.8 7.4l-1-.5-.9 .6-5.8 9-.2 .8 .4 .8 3.4 2.5 1.3 .1 4.2-2.3 .6-.9 .7-6.1-.2-.9zM1035.6 140.7l0 1 .7 .7 5.7 1.7 1.1-.2 4-3.1 .4-.6 .5-1.5 0-.7-.5-.7-4-2.6-1-.2-4.2 1.2-.8 .7zM1164.8 76.1l.3 1.3 6.6 5.8 1 .3 .8-.6 1.7-2.8 .1-1.1-1.6-3.7-.7-.6-5.8-2.2-1 0-.6 .7zM1124.8 222.7l-.9 .5-.2 1 .8 3.6 .4 .6 .8 .3 4.2 0 .8-.3 .4-.8-.3-.9-3-3.7-1.1-.4zM1056.4 93.3l-.6 .5-.1 .8 .3 .7 4 3.9 1 .3 .9-.7 3.1-6.5 0-.9-.6-.7-.9 0zM1026.7 193.2l-.7 .2-.5 .6-2 5.1 0 .7 .4 .7 6.3 4.8 .6 .2 .7-.1 8.6-5 .6-.7 0-.8-1.7-4.3-1.1-.7zM1021.2 30.7l-.9 .4-3.7 3.6-.3 .7 .1 .8 .8 1.4 .6 .5 3.1 1.2 1-.1 .6-.7 1.7-6.1-.2-1-.9-.5zM1115.3 187.4l-.9 .7-1.5 3.2 0 .9 .5 .6 5.2 2.8 1.3-.1 5.1-3.6 .5-.9 .1-4-.4-.9-1-.3zM1012.2 149.7l-1-.2-.7 .7-2.7 6.6 .1 1.1 2.8 4.3 .6 .5 .8 0 5.4-1.4 .9-.8 1.3-4.7 0-.8-.5-.5zM1145.7 210.3l-1.1-.4-.9 .7-3.2 5.9 0 1 .7 1.9 .5 .6 1 .5 .8 .2 4.7-1.1 .6-.3 .3-.7 .3-3.9-.3-.9zM1063.2 103.6l-.7 .1-.6 .6-.2 .7 .1 1.1 2.7 3.6 .6 .4 .8 0 5.5-2 .7-.5 .1-.9-.3-1.2-.3-.6-.7-.3zM1117.5 100.9l-1 .6-1.1 1.8-.2 .7 .3 .7 1.8 2.4 1 .4 1-.5 1.7-2.9 0-1.3-.9-1.4-1.1-.6z" fill="#925c0c"/>
<path d="M1011.2 121.9l0 1.1 .9 .6 7.7 1.2 .8-.2 .5-.6 1.6-4.3 .1-.8-.5-.6-5.5-3.7-.9-.2-.8 .2-.8 .6zM977 221.8l-.7 1.1 0 4.6 .4 .8 .8 .4 11.9 0 .8-.3 .4-.8 .5-6.6-.2-.8-.5-.4-3.9-1.7-.9 0zM1012.4 57l-.3 .9 .4 .7 5.2 4.8 1 .3 1-.2 .9-.8 1.1-4.1-.1-.8-.6-.6-5.6-2.5-.8-.1-.7 .4zM1060.6 189l-.5 .6-1.9 6.7 .3 1.1 2.6 3.1 1.1 .4 8.3-1.5 .7-.4 .3-.7 .1-3.8-.4-.9-7-6.1-.8-.3-.7 .2zM1014.6 93.4l-.3 1 .1 1 .5 .8 5.8 4.3 .8 .3 .6-.1 .7-.2 2.8-2.2 .4-.8 1-6.2-.3-1-1.9-2.1-.8-.4-3.3-.2-.9 .4zM993.9 130.3l-1 .8-2.4 6.2 0 .9 .6 .7 6.4 3 .9 .1 1.1-.4 .8-.9 .7-3.4-.2-.9-3.7-5.7-1.1-.5zM1167 39.4l-1.1 0-.6 .9-1.3 8.8 .2 .8 .6 .5 7.9 2.7 .8 0 .6-.5 4.1-6.5 0-1.3-.3-.4-.5-.6zM1032.4 207.8l-.5 .9-.8 7.9 .2 .8 .6 .4 8.2 2.3 .8-.1 .8-.3 .5-.5 3.5-6.3 .1-1-3.2-8.4-.7-.7-1 .1zM1178.3 80.7l-.8 .6-1.4 2.4-.2 .8 .4 .7 3.9 3.4 .7 .4 .8-.3 5.3-4.4 .4-.9-.1-2.8-.5-.9-.9-.3zM1008.3 102.8l-.4 1 .4 3.8 .5 .8 4.7 3.5 1 .2 .6-.2 .8-.7 2.9-7.8 0-.8-.4-.6-4.3-3.2-.8-.2-.7 .3zM1079.8 70.3l-.3 .8 .3 7.7 .2 .7 .6 .4 5.6 2 .7 0 .7-.5 3.6-5.5 .2-.8-.5-.8-8.2-5.8-.8-.2-.8 .4zM977.4 195.7l-.8 .4-.3 .8 0 5.6 .2 .7 .5 .4 6.2 2.6 .8 0 .6-.4 5.5-7 .2-.9-.3-.7-1.7-1.6-.9-.4zM1148.1 6.3l-.7 .3-.4 .6-1.1 4.8 .2 .9 2.1 3.1 1 .5 4.2 0 .9-.6 5-7.8 .2-.8-.4-.7-.8-.3zM1070 11.3l.3 .8 7.3 7.3 1.1 .3 2.9-.7 .6-.4 .3-.6 1.3-10.4-.3-.9-.9-.4-11.5 0-.9 .4-.3 .8zM1153 214.7l-.7 .3-.4 .8-.2 3.6 .4 1 1.8 1.5 .9 .3 3.7-.5 .9-.7 2-4.5-.2-1.3-.8-.9-1.1-.4zM1153.3 144.1l-.1 .9 2.5 11.3 .4 .6 .8 .3 6 .3 .8-.2 3.8-2.8 .5-.7 1-4.8-.1-.8-.6-.6-13-4.9-.9 0-.6 .5zM1161.7 222.1l.1 1.1 2.9 4.9 1.1 .6 2.4 0 .8-.2 .4-.7 1.7-5.6-.1-.9-.6-.6-5.7-2.4-.9 0-.6 .6zM1099.8 47.2l-.3 .8-.1 3.2 .4 .8 3.4 3.8 1.3 .3 4.2-1.3 .6-.5 .2-.7-.5-8.8-.4-.8-.8-.3-4.2 0-.9 .4zM1023 155.1l-.6 .8-1.5 5.1 .4 1.2 7.2 5.9 .7 .2 .8-.2 2.6-2.2 .4-.9 .4-6.2-.2-.8-.6-.4-8.2-2.8-.9 .1zM1089.1 37.3l-.3 1 .7 3.9 .8 1 6.8 2.1 1.3-.3 1.8-2 .3-.7-.1-.8-5.6-8.5-.9-.5-1 .4zM1158.4 99.4l-.2 1.2 1.2 3.3 .6 .6 .9 .1 8.1-2.6 .7-.7-.1-1.1-3.9-6-.9-.5-1-.1-1 .4zM1030.6 91.5l-.8 .3-.4 .7-.6 4.1 .2 .8 .7 .5 5 1.2 1-.2 2.4-1.9 .5-1-.1-3.6-.4-.9-.9-.3zM1079.2 38l-.7 .1-.5 .6-2.6 6 0 .9 1.1 3 .5 .6 .8 .1 5.5-.8 .8-.5 2.7-4 .2-.8-.6-3.7-.4-.7-.7-.3zM1065.9 120.5l-.8 .4-.3 .9 .1 3.8 .3 .8 2.6 2.8 .8 .4 .1 0 1-.3 4.6-4.5 .4-.6-.1-.8-1.1-2.7-.5-.5-.7-.2zM1089.9 21.3l-.5 .7 .2 .9 3.9 6.1 .8 .6 .1 0 .7-.1 9-4.7 .5-.5 .1-.8-.7-3.2-.6-.9-5.7-2.5-1.2 0zM987.1 35l.2 .9 .7 .5 5.6 1.4 1-.2 .5-.9 .2-9.1-.8-1.1-2.9-1.3-1.1 .1-1.1 .6-.6 .8zM986 56.1l.2 1 .8 .5 7.9 .7 1.1-.5 1.8-2.6 .2-.7-.3-.7-3.7-4.2-.6-.4-.8 .1-5.1 2.2-.7 .8zM1179.6 210.3l-.9 1-1 6.1 .5 1.2 3.4 2.4 1.1 .1 3-.9 .7-.6 1.7-3.8 .1-.9-.6-.6-6.6-4-.9-.1zM1129.9 207.5l-.4 .7 .1 .8 3.1 5.2 .8 .6 3.8 .6 .7-.1 .5-.5 2.7-4.9 .1-.9-.5-.7-6-4-.8-.2-.7 .3zM1015.2 14.5l-1 .6-2.6 4.8-.2 .7 .3 .6 .7 .9 .9 .4 1.9 .1 1-.4 2.6-2.8 .3-.7-.1-.7-1.7-2.9-1.1-.6zM1009.9 34.8l-.8-.1-.6 .4-3.5 4-.2 .7 .1 .7 1.3 2.2 .6 .6 2.8 1 .8 .1 .6-.5 3.5-4.4 .2-.6-.1-.7-1-1.6-.6-.6zM1196.4 179.2l-.8 .4-.4 .9 .4 7.8 .5 .9 1.7 1.2 .8 .2 .8-.4 .3-.8 0-9-.3-.8-.9-.4zM1181.7 127.1l-.3 1.2 3.8 12.8 .7 .8 1.5 .6 1.1-.1 8.8-5.9 .5-.8-.1-.9-6.9-10.3-.8-.5-4-.7-1.1 .4zM977.5 73.9l-.9 .3-.3 .9 0 9.3 .3 .8 .6 .4 6.2 1.4 .8-.2 .7-.3 .6-1 .2-10.1-.4-1-.5-.4-.9-.3zM1009.5 219.9l-.7 1 .1 6.6 .3 .9 .9 .3 12 0 .8-.3 .4-.8 .6-4.9-.2-.8-.6-.5-9.1-3.5-1 .1zM1119.6 69.5l-1 .9-1.1 4.8 .1 .8 .6 .6 7.6 3.3 1.1 0 .6-.9 1.2-8.3-.3-1-1.4-1.3-1.1-.3zM1140.5 69.1l-.3 1.1 1.3 5.5 .5 .8 2.8 1.7 1 .1 2.9-1.2 .6-.5 .2-.6-.1-7.8-.6-1-3.2-1.9-.7-.2-.7 .4zM1073.5 169.1l-.7 .9-1 5.1 .1 .8 .5 .5 7.7 3.5 1.2-.1 6.1-4.6 .4-1.1-.7-4.8-.8-1-5.7-1.9-.9 0zM1045.9 201.1l-.8 .6-.1 1 3 7.8 .5 .6 .6 .2 8.4 .2 .8-.3 .4-.8 .9-7-.3-1-2.7-3.2-1.2-.4zM1106 217.1l-.9 .7-1 2.5-.1 .7 .4 .6 5.3 4.7 .9 .3 .8-.5 3-4 .3-1-.5-.7-5.1-3.5-.9-.2zM1146.4 99.3l-.5 .8-.6 5.1 .5 1.2 4 2.7 1.3 0 5.3-3.1 .5-.6 0-.8-1.2-3.3-.8-.7-6.6-2.1-1.1 .2zM1159.4 121.2l-.2 .9 .5 .7 .5 .3 1.2 .1 6.6-3.2 .6-1 .2-2.2-.3-.9-.8-.4-3.8-.5-1.2 .6zM1066.3 157.8l-.4 1 0 2 .4 .9 5.2 4.7 1.3 .2 5-2.2 .5-.5 .1-.8-1.3-7.9-.8-.9-2.9-1-1.1 .1zM1036.7 158.3l-.7 1.1-.3 4.8 .2 .8 .7 .4 10.7 2.6 1.1-.3 .4-1-.7-8.7-.7-1-3.2-1.5-1 0zM1152.9 161.7l-.4 .6-1.2 4.7 .3 1.1 4.8 5.6 1.1 .4 6.4-.9 .7-.4 .1-.1 .3-1-2.2-10.7-.4-.7-.7-.2-5.9-.3-.8 .2zM1067.1 70.9l-.9 .3-.4 .9 .5 9.6 .5 .9 1.1 .2 8.4-2.3 .6-.5 .3-.7-.2-6.8-.4-.8-.8-.3zM1044.8 145.9l-.5 1 .5 5.4 .7 1 3 1.4 1.2-.2 2.9-2.1 .4-.7-.1-.9-4-6.4-.8-.6-1 .3zM999.3 70.9l0 1.2 3.9 6.9 .7 .6 1-.1 6.7-4 .6-.9-.5-1-5.9-4.8-.9-.2-4.2 .7-.9 .6zM1048.9 213.9l-1.1 .6-2.5 4.5-.1 .9 .5 .7 11.7 7 .8 .2 .8-.4 .3-.8 .4-11.3-.3-.8-.9-.4zM977.6 170l-.9 .3-.4 .9 0 7.6 .5 1 1.1 .1 1.8-.7 .7-.9 1.3-6.5-.2-.9-.9-.5zM1055.5 10.5l-.1 1.2 2 4.4 .6 .5 .9 .5 1.3-.2 6.7-4.9 .5-1-.2-3.5-.3-.9-.9-.3-6.7 0-.9 .5zM1167.7 173.9l-.9 .5-.2 1 2.1 8.1 .4 .6 .6 .3 3.1 .4 .9-.3 6.6-5.3 .3-.5 .2-.4-.2-1.2-2.9-3.3-1-.4zM998.1 59.4l-.2 1.1 1.9 5.3 .5 .6 .8 .2 3.3-.6 .8-.5 3.7-5.9 .1-1.1-.8-.7-6.9-1.8-.7 .1-.6 .4zM1141.2 79l-1.3 0-5.8 3.8-.6 .9 .4 1 1.7 1.5 1.2 .2 5.4-1.5 .8-.9 .5-2.6 0-.7-.5-.5zM1080.2 153.7l-.5 1.2 1.4 8.2 .8 1 5.2 1.7 1.2-.2 4.9-4.9 .4-.9-.4-.9-8.2-7.3-.7-.3-.7 .2zM1119 6.3l-.8 .3-.4 .8-.1 2.1 .4 1 1.5 1.1 1.1 .2 7.3-2.6 .6-.4 .2-.7 0-.6-.4-.9-.8-.3zM990.3 6.3l-.8 .3-.4 .9 0 4.8 .4 .9 .9 .9 .7 .3 .7-.2 5.6-3 .5-.6 .1-.8-.7-2.6-.5-.7-.7-.2zM999 176.6l.3 .8 6.7 8 .7 .4 .8-.1 7.9-4.2 .6-.8-.2-.9-6.2-8.9-.7-.4-.8 .1-8.4 4-.7 1.1zM1086.7 48.8l-.2 .7 .3 .7 2.9 3.4 .6 .4 .8-.1 5.1-2.3 .7-1.1 0-1.7-.2-.7-.7-.4-6.2-2-.7 .1-.6 .4zM1180.3 11.3l-.3 1 1.2 6.8 .6 .9 1.1 0 8.4-4.2 .5-.6 .1-.9-.6-.6-7.8-4.6-.8-.1-.7 .4zM1028.8 143.5l-.7 .2-.5 .7-1.9 6.9 .1 .9 .7 .6 4.5 1.5 1.1-.2 .5-.9 .1-8.4-.3-.8-.9-.4zM1100.6 160.2l-.5 .5-.1 .8 .3 .6 8.8 7.8 .7 .3 .7-.1 1.3-.8 .6-.9 .8-6.6-.4-1.1-4.1-3.6-1.3-.2zM996.4 102.7l-.3 .9 1.1 8.9 .7 1 .1 0 1.2-.1 6-4.7 .5-1.1-.3-3-.3-.7-.6-.3-6.7-1.6-1.2 .4zM1155.5 181.1l.1 1.1 3.9 6.5 .5 .5 .7 .1 .9-.2 .6-.3 3.7-3.3 .3-1.2-1.9-7.5-.5-.6-.8-.2-5 .6-1 .8zM978.4 132.6l-.4 .6 .1 .8 .6 .6 7.4 3.4 1 0 .6-.7 2.7-7 .1-.7-.4-.6-2.7-2.5-.8-.3-.8 .3zM1097.9 63.6l-.5 .6 0 .7 .9 3.4 .4 .7 .9 .2 3.1-.4 .9-.6 .1-.2 .2-.9-1.3-4.7-.7-.8-1.1 .1zM1099.2 181.5l-.6 1 0 3.8 .7 1.1 9.3 4.3 .9 0 .6-.6 2-4.3-.1-1-3.8-8-.8-.6-.9 .1z" fill="#ac7416"/>
<path d="M1146.9 24.8l0 .9 3.5 7.6 .5 .6 .7 .1 7.7-.6 .8-.5 .3-.8-.4-8.2-.5-.9-4.9-3.7-.7-.3-4.2 .1-.7 .3-.4 .5zM989.2 75l-.6 .4-.3 .7-.2 9 .2 .7 .6 .5 5.8 1.9 1-.1 5.1-2.8 .6-.8 .5-2-.2-.8-4.4-7.8-.6-.6-.8 0zM992.8 16.7l-.6 1 0 4.2 .7 1 3.4 1.6 .8 0 1.7-.3 .6-.4 2.8-3.3 .2-1.2-1.9-5.3-.7-.7-1 .1zM1013 126.4l-.9 .2-.5 .9-.4 4.4 .5 1 5.8 4.4 1.1 .2 1.1-.4 .8-.8 1.3-5.3 0-.8-.9-2-.9-.8zM1113.6 28l-.6 .6 0 .7 1.7 8.2 .9 .9 7.2 1.5 .7-.1 4.4-1.7 .8-1.1 .5-7.7-.1-.7-.6-.5-7.7-3.6-1.1 0zM1047.3 68.3l-.7 .3-.4 .6-.6 2.6 .3 1.1 3.8 4 1.1 .4 .9-.6 2.7-5.2 .2-.7-.4-.7-1.8-1.8-.9-.4zM1175.9 186.1l-.4 .6 0 .8 2 5.3 .9 .7 4.1 .6 .7-.1 .5-.5 1-1.7 .1-1.1-3.1-7.3-.8-.7-1 .2zM1106.8 68.9l-.9 .6 0 1.1 3.2 6.4 .5 .5 1 .6 1.3 0 2.4-1.7 .5-.7 1.4-6.2-.3-1.1-.3-.3-1.1-.4zM977.5 59.2l-.8 .3-.4 .9 0 9.7 .4 .8 .8 .4 4.9-.2 .8-.4 .4-.8 0-9.4-.3-.9-.9-.3zM987.4 38.9l-.8 .1-.6 .5-2.3 3.9 0 1.2 2.1 3.6 .7 .6 .8-.1 4.7-2 .8-.9 .7-4.2-.2-.9-.7-.5zM1174.5 221.1l-.6 .7-1.6 5.4 .2 1 1 .5 4.9 0 .8-.3 .4-.7 .7-3.6-.5-1.2-3.1-2.2-1.2-.1zM1172.7 200.4l-.4 .7 .2 .7 2.2 4.3 .5 .4 2.3 1.4 .9 .1 1-.3 .7-.6 3.9-6.8 0-1-.7-1.8-.9-.8-4.6-.6-1 .3zM1199.7 199.7l-.4-.8-.8-.4-.9 .4-2.6 2.9-.2 1.1 .9 3.1 .4 .5 .7 .3 1.6 .1 .9-.3 .4-.9zM1076.2 53.7l0 1 4.8 9.8 .8 .6 1-.2 4.8-4 .4-.8 .5-3.3-.3-.9-3.7-4.4-1.1-.4-5.8 .9-.9 .7zM1172.1 147.6l-.3 .6-1.1 5.4 .5 1.3 7.7 5.2 1.2 .2 8.7-3.8 .6-.6 .1-.8-2.3-9.4-.8-.8-1.8-.7-.8-.1-11.1 3.1-.5 .3zM1149.4 205.5l-.9 .5-.8 1.1-.3 .8 .4 .8 3.1 3.2 1 .3 6-.8 .7-.4 .3-.9-.4-3.7-.4-.8-.8-.3zM1113 119.5l.2 .9 6.8 9.9 .5 .4 .3 .1 1.2-.2 1.7-1.4 .4-.8 .4-6-.4-.9-4.8-5.3-.7-.4-.8 .1-4 2.2-.7 .8zM1151.1 129.4l-.5 .6-1 3 .2 1 3.3 5 .9 .5 1-.4 6.4-7.8 .2-1.2-1.8-3.9-.4-.5-.9-.6-.6-.2-.7 .2zM1063.4 215.5l-.8 .4-.3 .8-.5 10.8 .4 .8 .8 .4 11.9 0 .7-.2 .5-.7 2.7-9.5-.1-1-1.4-2.1-1.1-.6zM1132.7 29.1l-.6 .4-.3 .7-.6 7.1 .6 1.1 3.5 2.4 1.1 .1 10.3-3.4 .6-.5 .8-1.1 .1-1.2-3.2-7.1-.6-.5-.8-.1zM1181.5 47l-1.2 .5-4.5 7.2-.1 1 .7 2 .5 .6 3.2 2.2 1 .2 7.6-2.2 .7-.6 1.5-2.9 .1-.8-1.1-5.4-.4-.7-.7-.3zM1064.7 43.6l-1.1 .2-.5 .9-.7 9.3 .6 1.2 .9 .5 .9 .1 8.3-2.5 .7-.6 .6-1.4 0-.9-1.4-3.7-.8-.7zM1144.4 185.2l-.8 .5-.2 .9 .7 3.6 .5 .8 3 2.2 1 .2 7.7-2 .8-.7-.1-1.1-3.3-5.6-.6-.5-.7 0zM978 137.1l-.8 0-.6 .4-.3 .7 0 12.2 .3 .8 .8 .4 1.1 .1 .9-.2 3.2-2.5 .4-.6 1.9-7-.1-.8-.6-.6zM1190.3 144.3l-.5 .6 0 .7 2.5 10.1 .4 .6 2.5 1.9 .7 .2 2.6 .1 .8-.4 .4-.8 0-17.1-.3-.7-.7-.4-.9 .2zM1138.1 43.1l-.7 .5-.1 .8 1.3 8 .5 .8 3.6 2.6 .7 .2 .8-.2 5.9-4.8 .5-.6-.1-.7-3-8.5-.7-.7-.9 0zM1066.2 181.2l-.4 .7-.6 2.1 .4 1.2 6.8 6 .7 .3 .8-.2 5.2-3.2 .6-1-.1-3.8-.7-1.1-8-3.6-1.2 .1zM1041.3 89.9l-.3 .7 .2 5.4 .5 .9 4.2 3 .8 .2 .7-.4 4.7-4.9 .4-.8 0-.2-.3-.8-4-5.3-1.2-.4-4.3 1-.7 .5zM1063.8 39l-.1 1.1 .7 .7 7.6 2.4 .9-.1 .6-.6 2.4-5.4-.1-1-2.9-5.2-.5-.5-.7 0-1.7 .3-.8 .5zM1114.2 226.8l-.2 .8 .3 .8 .9 .3 5.3 0 1-.4 .2-1.1-.9-4.2-.6-.7-.8-.5-.9-.1-.3 .1-.6 .4zM1127.7 121.9l-.7 1-.2 4.2 .3 .9 .8 .4 6 .4 .7-.2 .5-.6 2-5.5 0-.9-.7-.6-3.4-1.5-1 .1zM1188.3 6.3l-1 .4-.2 1 .6 .8 3.7 2.2 1.1 .1 .7-.9 .5-2.2-.3-1-.9-.4zM1145.5 58l-.4 1.2 .6 2.7 .5 .7 4.3 2.6 .9 .2 5.8-1.1 .7-.3 .3-.7 1-9-.2-.9-.8-.4-5-.7-.9 .3zM1019.7 12.7l-.2 .6 .1 .7 2 3.3 .8 .6 1 .2 .7 0 .6-.5 2.7-4.5-.1-1.4-2.3-3.2-1-.5-.9 .5zM1091.7 56.5l-.7 .9-.2 2 .1 .8 .7 .5 3.3 1.2 1.1-.2 4.6-2.9 .5-.9-.3-1-2.4-2.6-.7-.3-.7 .1zM1193.4 47.8l-.7 .6-.1 .8 .8 3.7 1 .9 3.9 .8 1-.3 .4-.9 0-6.3-.5-1-1.1-.1zM1014 25.2l-.8 .2-.4 .6-1.7 5.3 .1 .9 .6 .6 1.5 .6 1.3-.3 3.2-3.2 .3-.7-.2-.8-1.9-2.7-.9-.5zM1048.7 102.2l-.3 1 .4 2.2 .7 .9 3.1 1.1 1 0 4.9-2.4 .6-.6 .4-1 .1-.7-.4-.7-4.5-4.4-.9-.3-.8 .4zM1101.6 80.7l-1 .9-.6 2.7 .2 1.1 2.2 2.4 1 .4 .9-.5 3.9-6 .2-.9-.5-.8-.9-.2zM978.7 22l-.5-.7-.8-.3-.8 .4-.3 .8 0 .4 .3 .8 .7 .4 .9-.2 0-.1 .5-1.2zM1162.5 106.8l-.7 .6-.1 1 1.4 3.3 .9 .7 4.2 .5 1-.3 .4-.9-.3-5.5-.6-.9-1-.2zM1081.5 111.1l-.5 .9 .3 1 4.9 4.7 .9 .3 .8-.4 .5-.5 .3-.8-.4-6.7-.7-1-.5-.3-1.2 .1zM1193.8 122.5l-.4 .7 .2 .8 3.9 5.9 .8 .5 1-.3 .4-.9 0-9.2-.3-.8-.8-.4-.9 .3zM1168.3 91.9l-.3 .7 .2 .7 3.8 5.9 1.1 .5 .7-.1 .8-.3 4.9-5.1 .3-.9-.1-1.2-.4-.7-5.2-4.7-.8-.3-.9 .5zM1089.7 82.9l-.2 .9 .5 .8 .8 .2 5.7-.7 .7-.2 .3-.7 .6-2.4-.3-1.1-2.6-2.6-.9-.3-.9 .5zM1195.8 15.5l-.9 .4-.2 1.1 2.7 9 .5 .6 .8 .2 .7-.4 .3-.8 0-8.9-.3-.8-.9-.4zM1041.4 49.9l-.9-.2-.8 .5-4.7 6.6-.2 1.1 1.1 2.5 1 .7 3.7 .3 1-.4 4.7-6.2 .2-.9-.5-.8zM998.8 26.8l-.7 .4-.3 .8-.1 8.6 .2 .9 .8 .4 3 .3 1.1-.4 3-3.5 .3-.8-.4-.8-5.8-5.6-1.1-.3zM1052.7 121.4l-.3 .7 .1 .8 2.4 4.3 .6 .5 .8 0 5.1-1.7 .6-.5 .2-.7 0-3.5-.3-.7-.6-.4-5.1-1.1-1.1 .2zM1124.4 152.2l-.4 .9 .4 .9 6.5 6 .8 .3 .8-.3 4.7-4.6 .4-.9-.1-5.4-.4-.8-2.2-2.1-.8-.3-2.3 0-.8 .3zM1152.4 111.4l-.5 1.1 .2 2 .3 .7 3.8 3.5 .9 .3 .9-.6 2.7-4.5 .1-1.1-1.6-3.8-.7-.7-1 .1zM1001.3 6.3l-1 .5-.2 1 .5 1.8 .6 .7 1 .1 5-1.8 .6-.5 .2-.8-.4-.7-.8-.3zM1108.6 124.4l-.4 1 .4 5.6 .5 .8 1 .2 5.2-1 .7-.4 .3-.7-.2-.7-4.1-6-.8-.5-.9 .3zM978 206.8l-1.2 .1-.5 1 0 9.6 .3 .7 .6 .5 .8-.1 5.7-2.5 .6-.5 .1-.8-.9-5.1-.8-.9zM1191 79.1l-.8 .4-.3 .9 .1 3.1 .4 .8 3.2 3.1 .9 .4 4.1-.4 .8-.4 .3-.8 0-6-.4-.8-.8-.4zM1176.5 73.5l-.2 1.3 1.1 2.5 .5 .6 .8 .1 6.3-1.1 .7-.4 .3-.7-.3-.8-4.2-4.9-.9-.4-.9 .4zM1155.5 224.7l-.9 .8-.7 1.6 .1 1.1 1 .5 4.9 0 .8-.3 .4-.7-.1-.8-1.2-2-1.2-.6zM1184.5 31.6l-.9 .1-.6 .7-2.8 9.9 .1 1 .3 .5 .9 .6 6.1 .7 .9-.3 .4-.8 .7-9.9-.2-.7-.6-.5zM1191.8 58.9l0 1.1 2.4 4.4 .7 .6 3.3 .9 1-.2 .5-1 0-6.2-.3-.8-.7-.4-4.6-.9-.8 .1-.5 .5zM1018.8 77.2l-.7 .6 0 1 2.2 5.5 1 .7 2.4 .2 1.1-.6 3.5-5.6 .2-.8-.4-.7-2.1-2-1.2-.3zM1146.9 80.7l-.7 .8-.7 3.3 .2 1 2.4 3 .7 .4 .9-.1 5.4-3.5 .5-1 0-1.7-.5-1-3.9-2.5-1.1-.1zM1169.7 6.3l-.8 .3-.4 .8 .3 .8 .5 .7 .8 .4 7.3 .6 1-.4 1.1-1.2 .3-.8-.4-.9-.8-.3z" fill="#a06810"/>
<path d="M1118 142.7l-.2 .9 .4 2.3 .4 .7 3.3 2.9 .8 .4 .8-.4 4.7-4.3 .4-.8-.3-.8-5.3-6.3-1-.5-.9 .6zM1086.9 146.1l-.5 .8-.3 1.3 .3 1.2 6.6 5.9 .7 .3 .8-.2 .5-.7 2.5-8.4-.3-1.2-2.7-2.6-.9-.3-.6 0-.5 .2zM1120.4 110.1l-.1 1 .6 .7 1 0 7.7-3.1 .7-.7 0-.9-.5-1.2-1-.7-4.5-.3-1.1 .6zM1191.8 98.1l.1 .8 .5 .6 .9 .1 5.5-1.4 .6-.4 .3-.7 0-5.9-.4-.8-.9-.4-3.2 .3-1 .8zM1092.4 195.7l-.2 .8-.1 .6 .3 .8 5.2 5.9 .6 .3 .8 0 5.9-2.6 .7-.8 1.8-5.5 0-.9-.6-.6-8.3-3.8-.8-.1-.6 .4zM1028.9 6.3l-.8 .3-.4 .8 .3 .8 1.9 2.6 .7 .5 3.8 .9 1-.2 .4-.9 .3-3.5-.3-.9-.9-.4zM1056.3 130.5l-.7 .7-1.4 3.4 .1 .9 .6 .6 5 2.1 .8 0 .6-.4 4-6.1 .2-.8-.3-.7-1.5-1.5-1.2-.3zM1167.9 34.9l-.5 .7 .1 .8 .6 .6 8.5 3.7 1-.1 .6-.7 2.7-9.4-.2-1-1.2-1.6-.8-.4-.9 .2zM1085.9 129.7l.3 .9 6 8.1 .7 .4 .8-.1 .6-.5 2.2-4.9 0-.9-1-3.1-.8-.8-7.1-1.7-.9 .2-.5 .8zM977.6 154.2l-.9 .3-.4 .9 0 10.8 .3 .8 .8 .4 3 .3 .8-.2 .5-.6 1.6-5.2-.2-1.1-4.2-5.8-.8-.5zM1039.9 6.3l-.8 .3-.4 .8-.3 4.3 .3 .8 .8 .5 2.7 .3 1.1-.4 2.6-2.8 .2-1.1-.5-1.8-.4-.7-.8-.2zM981.4 15.4l-.8 .4-.2 1 .9 5 .9 1 4.9 1.1 .9-.2 1-.6 .6-1 0-4.8-.4-.8-1.5-1.4-.9-.3zM1167.8 68.1l-.4 .7 .2 .8 .6 .5 5.2 1.9 .7 .1 .6-.4 4.3-4.7 .3-.9-.2-2.5-.5-1-2.2-1.5-.8-.2-.7 .4zM1183.2 179.3l0 .9 3.7 8.7 .5 .6 .8 .1 3.8-.8 .7-.5 .2-.8-.3-8.4-.5-.9-1.1-.7-.9-.3-6 1.2-.9 .7zM1002.4 24.3l-.3 .8 .4 .8 4.4 4.3 .7 .4 .8-.2 .5-.7 1.6-5-.2-1.2-1-1.1-.8-.5-3.2-.3-1 .4zM1000.4 199.3l-.7 1.1 .4 14.4 .2 .7 .6 .4 6 2 1-.1 3.7-2 .6-1 .9-10.4-.5-1.1-8.1-5.3-1.2-.1zM1121.3 197.7l-.5 1.1 .5 6.7 .5 .8 .2 .2 .9 .3 3.6-.2 .8-.3 4.9-4.3 .4-.9 0-.5-.3-.8-4.9-5.1-.8-.3-.8 .2zM1158.8 81.8l-.6 1 0 2.2 .4 .8 4.3 4.8 .8 .4 1.2 .1 1.1-.5 3.5-4.3 .3-.9-.4-.8-5.7-5.1-.8-.3-.7 .3zM1172 103l-.3 .8 .5 7.6 .3 .8 .8 .4 7.5 .3 .8-.2 .4-.6 .3-1.1-.3-1.2-7.2-7.2-.9-.3-.9 0-.9 .5zM1145.9 120.4l-.5 .8 .3 1 3.4 4.1 .8 .4 .8-.2 4.5-3.2 .5-.9-.4-.9-3.9-3.7-.7-.3-.8 .2zM1046.8 41l-.9 0-.6 .7-2.2 5.1-.1 .8 .5 .6 4.2 2.9 1 .2 .8-.8 2.5-6.3 0-1-.7-.6zM1183.7 223.5l-.8 .9-.6 2.9 .3 1 .9 .4 5.4 0 .8-.3 .4-.8-.2-.8-2.8-3.5-.5-.4-.8 0zM994.5 219.8l-.8 1.1-.5 6.5 .3 .9 .9 .4 10.7 0 .8-.4 .4-.8 0-6.3-.3-.7-.6-.4-6.1-2-.8 0zM1122.2 98.8l.1 1.2 1 1.7 .9 .6 4.1 .3 .8-.2 .5-.7 .5-1.8-.5-1.3-4-3.1-1-.2-.8 .6zM1087.6 6.3l-.8 .3-.4 .8-1.3 10.8 .1 .8 .6 .5 .7 .3 1.1-.1 7.4-4.9 .5-1.1-.5-6.3-.4-.8-.8-.3zM1197 161l-.7 .3-.5 .6-3.2 12.5 0 .7 .5 .6 .8 .6 .7 .3 3.9 0 .8-.3 .4-.9 0-13.1-.3-.9-.9-.3zM1165.2 189.6l-.4 .8 .3 .9 5.2 6 .8 .5 .9-.4 2.7-2.6 .3-1.3-2-5.4-1-.8-3.1-.4-1 .3zM1140.4 135.1l-.7 .3-.5 .6-2.4 7.5 .3 1.2 1.5 1.4 1.1 .3 10.6-3 .8-.6 .3-.5-.1-1.3-3.6-5.4-1-.6zM1116.2 161l-.4 .8-.7 6.1 .2 .8 .7 .5 7.1 1.9 1.1-.3 5.8-4.9 .4-.8 0-1.5-.4-.9-6.6-6.1-.7-.3-.8 .2zM1187.2 201.7l-.7 0-.6 .6-2.8 4.9-.1 .9 .5 .7 5.7 3.4 .9 .1 .8-.4 2.4-3.6 .1-1.1-1.2-3.6-.8-.7zM1109.8 134.7l-.7 .5-.2 .8 .1 2.7 .3 .7 .6 .4 5 1.3 .7 0 .6-.5 3.3-5.7 .2-.9-.6-.7-.8-.2zM1004.9 82.4l-.5 .8-.3 1.3 .5 1.3 7.3 5.2 .8 .3 .8-.4 4.1-4.4 .3-1.3-2.9-7.1-.7-.7-1 .1zM1133.3 99.2l-.6 .7-.9 3.6 .1 .8 .7 1.5 1 .7 6.6 .5 .7-.2 1.2-.7 .6-.9 .6-4.6-.2-.7-.6-.5-5-2.1-1.1 0zM1098.3 127.7l-.3 1.1 .8 2.4 .4 .6 .6 .3 5 .3 .9-.3 .4-1-.4-4.5-.4-.8-.8-.3-3.8 0-.9 .4zM1109.7 105.6l-.8 .4-.3 .8-.3 5.3 .5 1 2.8 2.3 1.4 .2 3.6-2 .6-1.1 0-.9-.2-.6-3.8-5-1.1-.5zM1135.6 199.8l-.4 .9 0 .1 .5 1 7.5 5 .9 .2 .7-.5 1.8-2.3 .3-.8-.4-7.2-.4-.9-2.2-1.6-.8-.3-.8 .3zM1056.3 29.9l-.4 .7 .2 .8 3.4 6.2 .6 .5 .8 0 .7-.4 4.6-6.7 .2-1-.5-.7-4.3-2.8-.8-.2-.7 .3zM977.8 88.4l-1.1 .2-.4 .9 0 10.8 .4 .9 .9 .3 1.3-.1 .7-.3 .4-.6 2.2-9.9-.2-.9-.7-.5zM1104.4 91.9l-.8-.3-.8 .4-4.2 4.4-.2 1.3 .9 2.4 1 .7 3.8 .4 .7-.1 .5-.6 2-5 .1-.7-.4-.7zM1163.5 52.7l-1.1 .1-.5 .9-1.2 10.2 .5 1.2 2.7 1.8 .8 .2 .7-.3 8-7.7 .3-1.2-.4-1.3-.8-.8zM1132.6 6.3l-.9 .4-.3 .8 0 1.2 .4 .9 2.2 1.9 .9 .3 7.5-.3 .7-.2 .4-.7 .7-2.8-.3-1-.9-.5zM1163.5 125.1l-.7 .7 .1 .9 1.3 2.8 .7 .6 2.8 1 1-.1 5.2-3.1 .6-.9-.4-1-3.9-3.4-1.3-.2zM1097.1 156.7l.1 .9 .6 .6 .9 0 7.8-3.7 .7-1 0-1.4-.2-.8-3.7-4.4-1-.4-1.2 0-.8 .2-.4 .7zM1193.4 102.3l-.9 .8-.2 1 .4 1.2 5 4.4 .9 .3 .8-.4 .3-.8 0-6.6-.5-.9-1-.2zM1031.9 79.1l-.9 .6-3.8 5.9-.2 .8 .3 .7 1.4 1.5 .9 .4 8.8-.5 1-.5 0-.1 .2-.6-.2-.7-4.7-7.1-1.1-.5zM1049.4 30.8l-.7 .1-.5 .6-2.4 4.7-.1 .9 .1 .3 .8 .8 7.1 2.5 .8-.1 1.8-.7 .7-.7-.1-1-3.5-6.2-.9-.6zM1026.2 119.1l-.7 .7-2.3 6.1 0 .9 .6 1.5 .5 .5 .7 .2 5.9-.6 1-.7 1.7-4.6 0-1-1.2-2.2-.5-.6-2.4-1.1-1-.1zM1022.1 20.5l-1.1 .3-2.3 2.6-.3 .7 .2 .8 1.9 2.7 1 .5 .8 .1 .8-.3 .4-.7 1-4.9-.2-.9 0-.1-.7-.5zM1182.7 62.9l-.7 .5-.2 .8 .1 2 .3 .7 4.5 5.3 1.1 .4 .9-.6 3-5.4 0-1.2-1.9-3.5-.5-.6-.8 0zM1133.8 109.2l-.9 .3-.3 1 .9 5.8 .7 .9 2.7 1.1 1.1 0 .6-.9 .7-6.6-.2-.9-.9-.4zM1140.9 148.8l-.6 .4-.2 .8 0 4 .8 1 9.7 4.4 1.3-.2 1-.8 .4-1.2-2.3-10-.5-.8-1-.1zM1091.9 108.9l-.7 .5-.3 .7 .3 4.6 .4 .8 .8 .3 4.4-.2 1-.5 .4-.6 0-1.3-2.5-4.3-.5-.5-.8 0zM989.2 140.8l-1 0-.7 .8-1.5 5.7 .2 .9 .8 .6 5.7 1 .8-.1 .5-.6 1.7-3.8 0-.9-.6-.7zM1108.7 6.3l-.8 .3-.4 .8 .2 .8 1.5 1.9 1.2 .5 3.8-.8 .6-.4 .3-.7 .1-1.1-.3-.9-.9-.4zM1012.2 61.9l-1-.3-.9 .6-2.3 3.7-.1 .9 .4 .7 3.7 3 1 .2 .8-.6 1.9-3.7 .1-.8-.3-.6zM1061.2 211.6l.3 1 1 .4 12.9-1 .7-.3 .4-.8 .1-3.7-.3-.9-3.6-4-1.1-.4-8.5 1.5-.7 .3-.3 .7zM1195.6 11.4l.2 1 .9 .5 1.8 0 .8-.3 .4-.9 0-4.2-.4-.8-.8-.4-.9 0-.7 .3-.5 .7zM1163.2 23l-.6 1.1 .4 8.8 .4 .8 .7 .4 .8-.2 10.1-7.4 .4-.6 0-.8-.5-.6-6.4-3.7-1.2-.1z" fill="#a66e12"/>
<path d="M977.4 119l-.8 .3-.3 .9 0 8.2 .3 .8 .8 .4 .9-.3 6.4-5.3 .5-1.1-.5-3.3-.4-.8-.9-.3zM1187.8 192.4l-.8 .6-1.3 2.2-.1 1.1 .8 2 .8 .7 4.7 1.3 1.2-.3 4.5-4.9 .3-.9-.5-.9-2.9-2-1-.2zM1016.5 203.7l-.8 1-.8 9.8 .2 .7 .5 .5 9.2 3.6 1-.1 2-1.1 .6-1 .9-8.5-.5-1.1-6.9-5.3-1.1-.1zM1112.2 83.7l-.6-.6-.8-.1-.7 .5-3.5 5.5-.2 .8 .4 .7 2.5 2.2 .8 .3 1-.1 .8-.3 2.5-2.6 .3-.6-.1-.7zM1184.2 114l0 .6 1.5 5.3 1 .9 3.7 .6 1-.2 6.7-5.9 .4-.9-.4-.9-6.8-5.9-.7-.3-.8 .2-4.3 3-.5 .6zM1133.4 217.4l-1.2 .5-2 2.5-.2 .7 .2 .8 2.6 3.2 .9 .4 .9-.4 3.7-4.1 .3-1.2-.4-1-1-.8zM1043.7 222.5l-.8-.2-.7 .4-.3 .7-.2 4 .3 .9 .9 .4 6.9 0 .9-.4 .3-1-.6-.8zM1150.1 195.7l-.7 .4-.2 .8 .2 4.9 .4 .8 .9 .3 5.7-.2 .8-.4 .3-.9-.5-6.1-.5-.8-.9-.2zM1055.6 168.9l-.6 .9 .4 1 8.7 7.6 .8 .3 .7-.2 2.9-2.2 .5-.7 1.3-6-.4-1.1-4.8-4.4-.7-.3-.7 .2zM977.1 183l-.6 .5-.2 .6 0 7.8 .4 .9 .9 .3 8.4-.4 .8-.4 .3-.8 .1-5.8-.6-1-4.8-3-1-.1zM1149.7 38.1l-.2 1.1 3.6 9.8 .9 .8 6 .8 .9-.3 .4-.7 1.8-11.9-.5-1.2-.8-.5-.8-.2-9.8 .9-.8 .5zM1162 205.1l-.7 .5-.2 .8 .6 5.1 .3 .7 .3 .3 .7 .4 .9-.2 7.4-5.2 .5-.7-.1-.8-1.1-2.2-.6-.5-.8-.1zM997.4 90.1l-.4 .5-.2 .7 .9 7.2 .3 .6 .6 .4 6.9 1.6 1.1-.3 4.8-4.3 .4-1-.1-.9-.5-.8-8.2-6-1.3 0zM1087.5 100.4l-.6 .5-.2 .8 .7 3.4 .7 .8 1.2 .6 .8 .1 4.5-.9 .8-.6 1.6-2.8 0-1-1.1-2.9-.7-.6-.9 0zM1055.6 109.3l-.6 .6-.1 .8 1.2 5 .9 .9 4.1 .9 .9-.2 .5-.8 .6-3.7-.2-.9-2.8-3.7-.6-.5-.9 .1zM1045.1 125.1l-.5 .9 0 5.6 .5 1.1 4.4 2.8 1.1 .1 .1 0 .6-.7 1.8-4.6 0-1.1-3.2-5.6-1-.6-.8 0-.8 .3zM1177.5 100l-.3 .8 .4 .9 5.8 5.8 .8 .4 .8-.3 4.1-2.8 .5-.7 .5-2.1 0-.9-.6-1.1-.6-.5-6.6-3.3-.8-.1-.6 .4zM1050.2 84.8l.1 1.4 3.4 4.5 .6 .4 .8 0 8.7-3.3 .8-.9 .2-1.3-.2-.9-.8-.5-11.1-2-.7 .1-.6 .4zM1100.7 206.2l-.7 .7 .2 1.1 4.3 6 1.2 .5 1.8-.3 .9-.7 2.4-5.1 .1-.8-.5-.6-3.6-2.8-1.2-.2zM1088.7 120.7l-.3 .6-.3 2.1 .2 .9 .7 .5 6.2 1.5 1.2-.4 1.4-1.7 .3-1-.8-4-.4-.7-.8-.2-5 .2-.8 .4zM1043.1 198l.6 .6 .8 .1 10.4-2.4 .9-.9 1.4-5.2 0-.8-.7-.6-10.7-4.3-1.1 .1-1.4 .9-.5 .7-1.7 6 0 .8zM1164.7 132.8l-.8 0-.6 .3-5.1 6.2-.2 1.1 .7 .8 9.4 3.6 .9 0 .6-.6 .1-.8-2.3-9-.7-.9zM1112 42.5l-.4 1 .5 10.5 .6 1 .7 .4 1 .1 5.8-2.2 .8-1 .8-8.9-.2-.8-.8-.4-6.1-1.3-1 .2zM1036.9 76.9l0 1.3 4.7 6.9 .5 .5 .8 0 4-1 .8-.6 1.5-2.6 .2-.8-.4-.6-4.9-5.2-1.2-.3-5.2 1.7-.7 .5zM1018.9 140.1l-.5 .4-4.2 5.8-.3 1 .6 .7 6.5 4.5 1.2 .1 .1 0 .6-.8 2.3-8.4 0-.7-.4-.6-3.1-2.4-1.1-.2zM1025.1 57.6l-.6 .7-1.4 4.8 .1 .7 .4 .6 1.9 1.5 1.3 .1 6.1-3 .6-.6 0-.9-1.2-2.9-.7-.6-3.6-1.4-1 .1zM1036.7 36.6l-.8 .2-.5 .6-1.7 4 0 .8 .4 .6 4.7 3.6 1.1 .2 .7-.7 2.8-6.6 0-.8 0-.1-.9-.8zM1025.9 28.5l.2 1 .9 .4 4.4 .2 .7-.1 .5-.6 1.5-3.4 0-.9-.2-.6-1-.7-4.8-.7-.8 .2-.5 .8zM1050.4 55.4l-.8-.1-.7 .4-4.8 6.3-.3 .8 .3 .7 1.5 1.8 1 .4 3.9-.3 .7-.3 .4-.7 1-6.9-.1-.7-.5-.5zM1150.1 91.9l-.5 .8-.4 2.2 .1 .9 .7 .5 5.3 1.6 .7 0 .5-.3 3.7-4.6 .3-.8-.3-.7-2.8-3.1-.7-.4-.8 .2zM1145.7 222.8l-.8 .6-.1 .9 .9 3.5 .4 .6 .7 .3 2.8 0 .7-.2 .5-.6 1.2-3.1 .1-.7-.4-.7-1.3-1.1-1.1-.2zM1114.2 79.6l-.4 .7 0 .8 3.3 6.8 .9 .7 4.2 .6 1.2-.6 2.7-4.2 .2-1-.7-.7-9-4-1.2 .1zM1079.8 206.6l-.6 .9-.2 5 .2 .7 1.5 2.4 1.1 .6 5.7-.2 .8-.4 7.4-8.4 .3-.8-.3-.8-4.5-5.1-.7-.4-.8 .1zM982.1 152.7l-.5 .8 .2 .8 3.4 4.7 1 .5 7.4-.5 .9-.4 .3-.4 .2-1.2-1.3-3.7-.9-.8-7.9-1.5-.9 .3zM1170.6 132.9l-.5 .6 0 .7 2.3 9.1 .5 .8 .9 .1 7.7-2.1 .8-.6 .1-.9-3.3-11-.7-.8-1.1 .1zM987.5 60.2l-.9 .3-.4 .9 0 9.8 .4 .9 .3 .3 1.1 .2 8.1-2 .7-.6 .8-1.5 0-.9-2-5.9-1.1-.8zM1092.9 87.2l-.7 .3-.4 .7 .2 .8 3.2 5 .9 .6 1-.4 3.1-3.3 .3-.8-.3-.8-1.9-2.2-1.1-.4zM1049.7 6.3l-1 .5-.2 1 .1 .3 .9 .8 2.8 .5 1.2-.5 .5-.7 .2-.8-.3-.8-.8-.3zM1105.4 58.5l-.7 .6-.1 .9 1.5 5.3 .5 .7 .8 .2 5.4-.9 .8-.5 .2-.9-1.1-5.4-.5-.8-1-.6-.9-.1zM1027.2 221.4l-.6 .9-.6 5.1 .3 .9 .9 .4 10.7 0 .8-.3 .4-.8 .2-4.1-.3-.7-.6-.5-8.2-2.2-.9 .1zM1003.8 123.7l-1.1 .4-3.2 4.1-.2 .7 .2 .7 2.8 4.4 .7 .5 .9-.1 4-1.8 .7-1 .6-6-.3-.9-.1-.1-.8-.4zM1074.8 193.8l-.6 1-.1 4.6 .3 .8 3.1 3.5 .8 .4 .8-.2 9.7-6.2 .6-1-.5-1-7.3-5.2-1.3-.1zM1136.7 226.7l-.3 .8 .3 .9 .9 .3 4.1 0 .9-.5 .2-1-.9-3.5-.4-.7-.9-.2-.7 .4zM1052.1 171.5l-1.1-.3-.8 .8-3.1 9 0 .9 .7 .6 10.5 4.2 1.2-.1 2.6-1.9 .4-.7 .6-2.1-.4-1.3zM1116.2 57.6l-.6 .5-.1 .8 1.2 6.4 .3 .5 .7 .8 1.2 .4 6-1.3 .7-.4 .3-.6 .7-5.2-.5-1.1-3.6-2.6-1.1-.1zM1114.5 93.6l-.3 .7 .2 .8 2 2.7 1 .5 1.5-.1 1-.6 2.3-4.2 0-1.1-.9-.6-3.7-.5-1 .3zM1123.1 114.1l-.7 .9 .3 1.1 2.8 3 .6 .4 .8-.2 3.4-1.7 .5-.6 .1-.7-.6-3.5-.6-.8-1-.1zM984.1 168.1l.1 .9 .8 .6 8.5 1.4 1-.3 .4-1-1-7-.5-.7-.8-.3-5.9 .4-.7 .2-.4 .6zM1192.2 216.5l-1-.2-.8 .7-1.5 3.3 .2 1.2 3.4 4.4 .8 .5 1-.4 4-3.7 .4-1-.5-.9zM1098.8 6.3l-.9 .4-.3 .9 .5 5.9 .7 1 4.8 2.1 .8 .1 .7-.5 2-3.2-.1-1.4-3.5-4.8-1-.5zM1098.1 224.7l-.7 .9-.2 1.7 .2 1 .9 .4 7 0 .9-.4 .3-.8-.4-.9-3.5-3.1-1.3-.2zM1004 12.5l-.7 .6 0 1 1.5 4.2 1.1 .8 2.2 .2 1.2-.6 2.4-4.4 .1-.8-.3-.7-1.6-1.6-1.3-.3zM1025.8 101.4l-.5 .8 .3 .9 3.7 4.6 .7 .5 .9-.2 2.7-1.9 .5-.9 .1-2.6-.3-.7-.6-.5-5.3-1.2-1 .2zM1064 144.3l-.8 0-.6 .6-2.7 5.8-.1 .8 .4 .6 3.7 3.1 .7 .3 .8-.2 5-3.7 .4-.6 .1-.7-1.1-3.8-.8-.8zM1037.3 63.8l-1 .4-.3 1 1.2 7 .6 .8 1 .1 3.5-1.1 .8-.9 .7-3.1-.2-1-2.1-2.5-.8-.4zM1045.5 14.3l-.3 .7 .1 .7 1.8 3.5 .7 .6 .9-.1 5.1-2.4 .7-.7-.1-.9-1.4-3-.9-.7-3.2-.5-1.1 .3z" fill="#98620e"/>
<path d="M1074.4 103.3l-.1 .8 .8 3.5 .3 .6 1.5 1.6 .8 .4 .7-.2 5.8-3.6 .5-.6 .1-.7-.9-4.1-.3-.7-2.4-2-.6-.3-2.1-.3-.6 .1-.7 .3-.7 .6zM1129.9 80l.2 .9 .8 .5 .9-.2 6.5-4.3 .5-.5 0-.8-1-4.1-.4-.7-.8-.2-4.3 .2-.7 .3-.4 .7zM1038.8 15.5l-.8 .2-.5 .7-1.6 5.8 .1 .8 .3 .6 1 .7 6.9 .4 .8-.3 .4-.7 .2-1.2-.1-.8-2.7-5.2-.9-.6zM1011 167.7l.2 1 7.6 10.8 .8 .5 .9-.3 6.2-5.2 .3-.6 .6-2.3-.4-1.2-7.8-6.4-1.1-.2-6 1.6-.8 .8zM1153 67.7l-.7 .4-.3 .8 .1 7.4 .5 1 3.6 2.2 1.4 0 4-2.8 .5-.6 1.5-5.2 0-.7-.4-.6-3.8-2.7-.9-.2zM1107.7 101.4l0 .8 .5 .7 .7 .2 3.1-.2 1-.6 1.1-1.9 0-1.3-2.2-3.1-1-.5-.1 0-1 .8zM1123.9 132.4l-.4 .8 .3 .9 7.3 8.8 .9 .4 1.3 0 .7-.2 .4-.6 2.5-7.8-.2-1.1-1.4-1.7-.8-.5-8.3-.5-.8 .3zM1089.9 167.6l-.3 1 .9 5.5 .5 .8 5.7 4.2 1.3 .1 8.9-5.1 .4-.5 .2-.4 .1-.8-.3-.7-10.5-9.3-.9-.3-.8 .4zM1181.1 162.6l-.7 1-1.1 7.5 .3 .9 2.9 3.4 1.2 .4 5.4-1 .9-.9 3.4-12.9-.1-.7-.4-.6-1.3-1-1.2-.1zM1048.8 22.6l-.7 .8-.4 2.1 .1 .8 .6 1.2 .9 .6 3.7 .7 1-.3 4.8-4.2 .4-1.1-.5-2.8-.7-.9-.8-.4-1.1 0zM1067 88l.1 .7 .6 1.5 .5 .6 6.6 4.3 .8 .2 .8-.5 .3-.8-.3-9.3-.5-.9-1.1-.2-6.6 1.8-.9 .9zM1196.4 209.4l-1.1 .5-1.9 2.8-.2 .9 .6 .8 4 2.7 .9 .2 .7-.4 .3-.8 0-5.4-.3-.8-.8-.4zM1142 181.5l.4 1 1 .2 8.9-1.9 .8-.7 1.5-3.6-.2-1.2-4.4-5.1-.7-.4-.7 .1-5.5 2.7-.7 1.1zM1126.1 172.6l-.4 1.2 1.9 8.1 .4 .7 .8 .3 9.5-.7 .8-.4 .3-.8 .4-7.5-.6-1-6.7-4.2-.7-.2-.7 .3zM986.2 208l-.2 1 1.1 6 .7 .9 4.3 1.7 .9 0 3.8-1.6 .5-.4 .2-.7-.4-14-.2-.8-.7-.4-2.4-.4-1.2 .5zM1099.7 134.6l-.7 .2-.5 .5-2 4.5-.1 .7 .4 .6 2.6 2.5 .8 .3 2.2 0 .9-.4 2.8-3 .4-.9-.2-3.4-.4-.8-.7-.3zM1066.3 58.1l-.6 .4-.2 .8 .2 7.8 .3 .8 .8 .4 10.2 .5 1-.4 .8-.9 .1-1.3-4.6-9.5-.6-.6-.8 0zM996.5 160.2l-.2 .9 1.4 9.9 .6 .9 1.1 0 8.5-4.1 .6-.8 .5-1.8-.1-1-3.1-4.8-1-.6-6.9 .3-.9 .5zM997.5 40.3l-.9 .3-.4 .7-.9 5.1 .3 1 3 3.4 1 .4 .9-.6 3.2-5.8 0-1.2-1.3-2.2-.9-.6zM1051.2 156.7l-.5 1 .7 8.6 .3 .8 .7 .3 .8-.1 9.5-5.7 .6-1.1 0-1.8-.5-.9-4.9-4.3-.9-.3-1 .1-.6 .2zM1097.8 106.1l0 1.2 2.7 4.6 1.1 .6 3.1-.3 .7-.3 .4-.8 .3-5.7-.4-.8-.2-.3-.7-.4-4.6-.5-1.2 .6zM1061.7 19l-.4 1.2 .5 2.9 .5 .8 6.3 4 .9 .2 2.4-.4 .8-.6 2.9-4.8 .1-.8-.3-.7-6.1-6.1-.7-.3-.8 .2zM1025.2 131.6l-.7 .3-.4 .6-1 4.1 .4 1.3 3.6 2.7 .7 .2 4 .2 .6-.2 .5-.5 2.1-4.7-.1-1.2-2.5-3-1-.4zM1138.2 88.7l-.6 .5-.2 .8 .5 4 .7 .9 5.4 2.2 1.1-.1 .8-.6 .5-.7 .6-3.5-.2-.9-2.8-3.5-.6-.4-.7 0zM1169.4 17.5l.6 1.1 7.2 4.2 .9 .2 .7-.5 .2-.9-1.4-8.1-.4-.7-.7-.3-5.3-.5-.9 .3-.4 .8zM1022.7 181.3l-.4 .7 0 .7 3.2 7.2 1.1 .7 11.1 .7 .7-.2 .5-.7 1.2-4.2 0-.7-.4-.6-10.8-7.7-.7-.2-.7 .2zM1030.7 170.9l-.4 .6-.5 2.2 0 .7 .4 .5 11 7.9 .7 .3 .7-.2 1-.7 .5-.6 3.3-9.5 0-1-.8-.6-11.4-2.8-1.1 .3zM1037.1 124.4l-.9 .1-.5 .7-1.4 3.5 .2 1.2 2.3 2.8 1.3 .4 3-.9 .6-.4 .3-.7 0-4.3-.2-.8-.6-.4zM1056.2 57.2l-.7 .3-.4 .7-1.1 7.3 .3 1 2.2 2.2 1 .4 4.5-.6 .8-.4 .3-.8-.2-8.5-.6-1-1.3-.8-.7-.2zM1035.2 154.3l.2 .8 .7 .4 .8-.1 4.6-2 .6-.5 .1-.7-.4-4.7-.3-.7-.6-.3-4.1-1.3-1 .2-.5 1zM976.8 27.6l-.5 1 0 1.9 .2 .7 .6 .4 6.1 2.5 1-.1 .6-.8 1.2-5.7-.2-.9-.7-.5-4-.9-1 .2zM1141.1 118.1l.2 .9 .8 .4 .9-.2 5.9-3.9 .5-1.1-.2-1.9-.5-.8-4.2-2.9-1.3-.1-.5 .3-.6 .9zM1065.1 116.5l.3 1 1 .4 6-.5 1-.7 1.8-3.9 0-.7-.3-.6-.7-.8-1.3-.3-6.5 2.3-.8 .9zM988.1 118.2l-.6 .5-.2 .8 .5 3.5 .4 .8 4.1 3.7 .9 .3 3-.2 .9-.5 3.4-4.4 .1-1.3-2.5-4.7-.6-.6-1.1-.4-.8-.1zM1027.9 68.4l-.7 1 0 3 .3 1 3.1 2.8 .9 .3 2.1-.1 .9-.6 .3-.5 .2-.8-1.3-7.3-.6-.8-1.1 0zM977.9 34.8l-1.1 .1-.5 1 0 6 .4 .8 .9 .4 2.9-.3 .9-.6 2.2-3.7 .1-1-.7-.7zM1007.1 46.1l-.9 0-.6 .6-3 5.5 0 1 .8 .7 6 1.5 1.2-.4 1.6-2 .2-1.3-2.2-4.1-.7-.5zM1015.1 74.3l.6 .8 .9 .1 7.1-2.4 .6-.4 .3-.7 .1-2.6-.5-1-2.6-1.9-1-.2-1.4 .3-.8 .6-3.2 6.3-.2 .8zM1110.5 151.7l-.7 1-.1 1.2 .4 1 3.8 3.4 .8 .3 .7-.3 5.5-4.3 .4-.9-.4-.9-3.4-3.1-.6-.3-.7 .1zM1037.4 26.9l-.7 .2-.4 .5-1.5 3.3 0 1.1 .7 1.3 .9 .7 6.2 .9 .7-.1 .5-.5 2.3-4.6 0-1-.4-.8-1-.6zM1082.7 182l-.5 .9 .1 4.3 .5 .9 7 5 .8 .3 .8-.5 4.3-5.1 .3-.8 0-4.6-.5-1-5.4-3.9-.7-.2-.7 .2zM1160.1 201.5l.5 .9 1.1 .1 6-1.6 .6-.4 .3-.8-.3-.7-5.9-6.8-1.1-.4-.8 .1-.8 .5-.2 .8zM1129.3 185.4l-.7 .4-.4 .8-.1 4.7 .4 .8 4.7 4.9 .8 .3 .8-.3 6.3-5.6 .4-1.1-.9-4.6-.4-.7-.8-.3zM1053.8 78.1l0 1.1 .9 .7 7.5 1.4 1-.3 .4-1-.4-7.7-.4-.9-.9-.3-4 .5-.9 .7zM1166.3 214.1l-.4 .7 0 .9 .6 .5 5.9 2.6 1-.1 1.1-.5 .6-.9 1-6.3-.1-.7-.4-.5-1-.6-1.3 .1zM1141 122l-.7 .1-.5 .7-2.4 6.5 .1 1.2 1.3 1.6 1 .4 6.4 0 .7-.3 .5-.6 .6-1.8-.3-1.2-5.2-6.1-.8-.4zM1027 18.7l-.1 .7 .3 .7 .7 .4 4.5 .6 .9-.2 .5-.7 1-4-.1-.9-.7-.6-3.2-.7-.7 .1-.6 .5zM1111.8 194.9l-1-.1-.7 .8-1.9 5.3 0 .8 .4 .6 4.2 3.2 .9 .3 3.8-.3 .8-.4 .3-.9-.4-5.3-.7-.9zM1182.7 91.2l-.4 1 0 .5 .7 1 5.3 2.6 1 0 .6-.7 1.8-5.4-.3-1.2-1.9-2-.8-.3-.8 .3zM1123.9 209.3l-.7 .3-.4 .7-2 8.4 .1 .7 .5 .6 .4 .2 .7 .1 4.3-.4 .8-.4 2.4-3.1 .3-.6-.1-.7-3.1-5.3-1.1-.6zM1055.6 43l-.6 .7-3.3 8.3 0 .8 .6 .6 1.8 1.1 .7 .2 4-.4 .7-.3 .4-.8 .7-10.4-.2-.8-.6-.5-.8 .1zM1080.5 82.7l-1.1 .1-.5 1 .4 10.3 .4 .8 .9 .3 .8-.5 5.7-7.6 .1-1.3-.3-.6-.6-.5zM1085.9 65.7l-.5 1 .6 .9 6.9 4.9 .9 .3 .7-.5 1.2-1.4 .3-1.1-1.3-4.7-.7-.8-3.9-1.3-1.1 .2zM1035.8 118.4l-.5 .7 .1 .9 .5 1 .8 .6 5.7 1.6 1.1-.2 1.4-1.1 .4-.7-.1-.8-2.4-4.9-.7-.6-1 .1zM1037.3 100.9l-.5 1-.1 3.2 .6 1 4.9 2.9 .8 .2 .6-.3 2.2-2 .4-1.1-.4-2.4-.5-.7-4.6-3.3-.7-.2-.7 .2zM1122 14.1l-.6 .5-.2 .7 .3 5.9 .7 1 5.8 2.8 1 0 .6-.8 2.7-9.9-.4-1.2-1.5-1.3-1.2-.2zM1080.1 137.4l-.3 .8 .4 .9 4.6 4.2 .7 .3 .7-.2 3.2-2 .5-.8-.2-1-4.4-5.8-.9-.5-1 .4zM1106 144.4l-.4 .8 .3 .8 2.4 2.9 .7 .4 .8-.1 5.1-2.5 .5-.6 .1-.7-.1-.7-.9-1-5.6-1.4-1.2 .3zM1017.8 40.9l-.8-.1-.6 .4-3.5 4.5-.1 1.3 1 2 .9 .6 1-.3 6.1-5 .4-.8-.2-.8-.6-.5z" fill="#9c640f"/>
</g></g>
<defs><clipPath id="cD"><rect x="718" y="268" width="210" height="208.5"/></clipPath>
<radialGradient id="gD"><stop offset="0" stop-color="#8a2c0c"/><stop offset="0.6" stop-color="#741a06"/><stop offset="1" stop-color="#651202"/></radialGradient>
<filter id="wD" x="708" y="258" width="230" height="228.5" filterUnits="userSpaceOnUse">
<feTurbulence type="fractalNoise" baseFrequency="0.12" numOctaves="2" seed="2" result="t"/>
<feDisplacementMap in="SourceGraphic" in2="t" scale="3" xChannelSelector="R" yChannelSelector="G"/>
</filter><filter id="bD" x="708" y="258" width="230" height="228.5" filterUnits="userSpaceOnUse"><feGaussianBlur stdDeviation="4"/></filter></defs>
<g clip-path="url(#cD)"><rect x="718" y="268" width="210" height="208.5" fill="#dcc481"/><g filter="url(#wD)">
<path d="M878.8 286.6l-1.4 .5-.8 1.2-2.2 8.1 .2 1.7 1.2 2.4 1.6 1.2 12.2 2.2 1.3-.2 1-.9 .7-1.1 .2-1.9-3.8-11.4-.8-1.2-1.3-.4zM731.1 394.4l-1.3 1.5-.6 2.1 .1 1.6 1.2 1.1 15 6.2 1.4 .1 1.2-.7 3.3-3.8 .5-1.5-.6-1.5-7.4-8.5-1.2-.7-1.3 .1zM713.5 455.4l-1.6-1-1.9 .5-.8 1.8 0 .8 .9 1.9 2.1 .3 .5-.1 1.4-1.4-.2-2zM752.3 481.6l-.5 1.6 .8 1.5 1.5 .6 9.1 0 1.9-.9 .3-2-.1-.6-.9-1.2-5.4-3.9-1.6-.4-1.5 .8zM775.3 472.6l-1.6-.2-1.4 .9-4.3 6.4-.3 1.9 .6 2 .8 1.2 1.4 .5 9.8 0 1.4-.5 .8-1.1 1.3-4.2-.1-1.6-1-1.1zM855.8 300l-.6 1.3 .2 1.3 4 8.6 1.1 1.1 1.6 .2 7.3-2 1.4-1.2 2.9-5.7-.1-2-.9-1.8-1.9-1.3-11.9-.5-1.7 .6zM866.1 472.6l-1.3 .9-2.9 4.3-.2 2.2 1.6 3.9 .9 1 1.2 .4 5 0 1.5-.6 .8-1.4 .9-6.5-.3-1.5-.6-1.1-1.1-1-2.4-.9-1.4-.1zM777.8 328.3l-1.7-.9-1.8 .7-14.1 14.8-.6 1.3 .2 1.4 3.1 5.3 1.6 1.2 17.9 2.6 2-.8 5.5-6.4 .6-1.4-.5-1.5zM734.6 269.2l-1 1.6 .5 1.8 4.7 5.2 1.2 .7 1.5-.2 4.8-2.3 1.1-1.3 .8-2.1-.3-2.2-3.7-5.2-1.5-.9-1.7 .4zM845.7 259.2l-1.5 .5-.8 1.4 .3 1.6 1.2 1 .7 .2 2.4-.6 .2-.2 .6-1.6-.6-1.6-1.7-.7zM807.3 326.1l-.9 1.8-.4 12.8 1.1 2.1 4.5 2.6 2.3 0 17.8-10.5 1-1.4 .2-.6-.6-2.2-11.5-11.7-1.6-.7-.9 0-1.4 .4zM864.7 267l-1.2 1.4-1.2 3.8 .2 1.8 1.8 3.3 1.3 1.1 5.7 1.7 1.7-.2 1.1-1.2 2.7-7-.2-2-2.8-4.7-1.3-1-1.7 .1zM712.9 421.5l-1.6-.5-1.5 .7-.6 1.6 0 9 .4 1.4 1.2 .8 6.1 1.9 1.4 0 1.1-.9 2.8-4 .4-1.6-.9-1.5zM876.1 470.8l-.5 1.6 .7 1.5 1.6 .6 7.2 0 1.9-1 1.4-2 .4-1.8-.4-2.2-.8-1.3-1.5-.5-5 .1-1.8 .8zM886.1 450.4l-.1 2 3.1 7.1 1.4 1.3 1.8-.1 1.3-.7 1.1-1.5 1.9-8.6-.7-2.2-1.9-1.7-1.7-.6-2.4 .2-1.9 1.2zM924.8 274.5l-2.2 1.1-3.4 5.8 0 2.4 1 1.5 1.9 1.1 4.4 .1 1.8-.9 2.2-2.7 .5-2-1.1-4.4-.7-1.1-1.3-.6zM845.6 458.7l-1.2 .6-.6 1.3-2 12.8 .8 2.1 1 .9 2.4 .4 1.5-.6 1.2-1.1 5.2-9.7 .2-1.6-.3-1.5-1.3-1.6-4.7-2-1.3-.2zM919.6 368.9l-1.5-.2-1.3 .8-8.6 10.6-.5 1.6 .8 1.6 8.5 7.2 2.1 .4 16.1-4.9 1.1-.8 .5-1.4 0-5-1.3-2.1zM776.2 293.6l-.9 1.5-.6 4.7 .3 1.5 1.3 1 6.6 1.9 1.9-.3 2.9-1.9 1-1.4-.3-1.8-5.1-7.6-1.5-.9-1.8 .4zM815.8 347l-1 1.2 0 1.6 7.6 22.1 1 1.2 1.5 .4 2.7-.4 1.2-.7 16-16 .6-1.4-.4-1.6-10.6-14.9-1.4-.9-1.6 .3zM836.4 445.8l-.8 2.3 1 4.2 1.1 1.6 4.8 2.4 1.4 .3 1.2-.3 1.8-1.5 2.8-8-.6-2.4-3.6-3.4-1.5-.7-1.5 .5zM800.4 279.5l1 1 1.4 .2 3.8-.5 1.2-.6 4.3-3.9 .6-1.2-.1-1.3-2.1-5.7-2.1-1.4-4.9-.3-1.3 .4-.9 1.1-2.8 6.8 .1 1.9zM710.9 360.6l-1.2 .8-.5 1.4 0 15.7 .7 1.7 1.8 .6 8-.6 1.8-1 7.5-11.4 .2-2.1-3-7.4-1.1-1.2-1.7-.2zM733.2 419.9l-1.6 1.3-2.4 5.3 0 1.6 1 1.3 5.4 3.1 2.2 0 6.5-3.4 .9-1 2.4-4.6 0-2.1-1.3-2.5-1-1-1.5-.2zM848.5 431l-1.6 .5-.9 1.5-.5 3.3 .7 2 4.8 4.6 2.1 .6 5.3-1.2 1.3-.9 .5-1.5-.2-5.7-.6-1.5-1.5-.8zM804.3 282.9l-1.3 .7-.6 1.4-1.5 12.9 .5 1.7 1.5 .9 4.3 .6 1.9-.6 5.2-4.8 .7-1.5-.4-1.5-6.5-9.1-2.2-.9zM901.9 475l-1.3 1.6-1.2 5.9 .5 2 1.8 .8 6.8 0 1.8-.9 .5-1.9-1-4.3-1.4-1.6-4.5-1.8-1.8 .1zM805.4 418.6l-1 2 0 4.4 .8 1.8 12.1 10 1.8 .5 1.6-.2 1.5-1 12.8-17.8 .4-1.8-1.1-1.6-10.8-6.4-2.4 .1zM787.3 477.4l-.7 1-1.2 3.9 .4 2.1 1.8 .9 15.2 0 1.6-.7 .7-1.7-.2-4.1-1.3-2-6.9-3.2-1-.2-3.1 .1-1.4 .5zM832.8 371.8l-.6 1.9 1 1.7 22.2 13.8 2 .2 7.2-2.8 1.2-1 .3-1.5-4.1-26.8-.9-1.5-1.6-.5-10.4 .9-1.5 .7zM719 316.3l-.8 1.1 .1 1.5 3.9 10.3 1.1 1.3 1.7 .1 12.7-3.8 1.4-1.3 0-1.9-6.9-14.4-1.6-1.2-1.9 .5zM897.1 333.3l-.9 1.9 .3 13.7 .5 1.4 1.2 .8 14.9 3.4 2.3-.8 8.5-11.3 .2-2.5-5.2-9.2-2.1-1.2-15.3 1-1.2 .5zM877.2 412.6l.2 2.2 5.8 9 1.1 .9 1.3 .1 4.4-.9 1.3-.8 2.4-3.1 .5-2-2.6-11.2-.8-1.2-1.3-.6-7.2-.3-1.3 .3-.9 1.1zM868.1 337.4l-.9 1.6-1 9.8 .5 1.6 1.4 .9 19.8 3.3 1.7-.4 3.5-2.5 1-1.9-.3-14.1-1.4-2-10.7-4.5-2.3 .2zM758.2 368.7l.5 2.4 11.2 11.7 1.3 .7 13.7 2 2-.6 2.2-2.3 .6-2.2-6.2-21.8-1.8-1.6-16.4-2.4-1.5 .3-1 1.2zM830.6 307.1l-1.4 .9-5.7 7.4-.5 1.6 .7 1.4 9.6 9.9 1.4 .7 1.6-.4 5.3-3.6 .8-1.1 .1-1.4-2.8-11.7-1-1.5-4.1-2.4-1.6-.3zM872.4 445l-.8 1.4 .4 1.7 2.6 3.6 1.2 .8 1.5 0 5.3-1.8 1.2-1.1 1.7-3.2 .3-1.5-.7-1.3-3.7-3.4-1.5-.7-1.5 .6zM901.3 449.7l-1.6 .4-.9 1.4-1.4 6.1 .2 1.6 1.2 1.1 3.8 1.4 2-.2 1.1-.7 1-1.3-.1-1.6-3.3-6.9-1.8-1.3zM927.6 475.5l-.8 1.9 0 .8 .8 1.6 1.7 .6 5.3-.4 1.6-.7 .6-1.6 0-2.5-.5-1.4-1.1-.8-2.3-.7-2.2 .5zM823.1 293l-.6 1.5 .4 1.5 5.8 7.7 2.3 .9 .8-.2 1.8-1.6 2.8-8.9 0-1.5-.8-1.1-5-3.4-1.5-.4-1.4 .7zM866.9 419l-1.3 1.8-.6 5.1 .3 1.6 1.3 .9 10.5 3.2 1.5-.1 1.2-.9 1.6-2.9-.1-2.4-5.3-8.3-1.3-.9-1.5 .1zM871 385.6l-1.3 1.6 .4 2 9.8 12.2 1.7 .9 9.4 .4 1.4-.4 1.4-1 .9-1.2 4.6-15 0-1.5-1-1.1-7.2-4.2-2.1-.2zM788.3 386.8l-.6 1.6-.2 15.8 .9 1.8 13.5 10.2 1.3 .5 1.3-.4 15.2-9.7 1-2.3-3-21.7-.9-1.5-1.7-.4-22.3 2.3-1.4 .7zM839.5 414.8l-1 1.5 .3 1.8 6.5 9.4 1.7 1 12.6 1.2 1.8-.7 .3-.3 .7-1.3 .8-6.9-.9-2.1-11.6-9-1.3-.5-1.3 .4zM730 355.8l-1.1 1.3 .1 1.6 2.6 6.5 1.2 1.2 12.3 5.8 1.7 .1 7.6-2.6 1.4-1.4 5.2-14.2-.2-1.9-3.8-6.7-1-.9-1.9-.9-2.1 .1zM748.9 409l-.5 1.1-.8 5 .2 1.4 2 3.9 1.5 1.2 7.8 1.9 1.8-.4 8.8-6.2 1-1.9-1-1.9-13.9-9-1.6-.4-1.4 .8zM722.3 281.1l-1.9-1.1-1.9 1-6.6 9.1-.3 2 1.5 1.5 9.6 3 1.9-.2 1.1-1.5 1.2-5.1-.3-1.8zM747.1 296.2l-1.6-.2-1.3 .9-2.4 3.4-.3 1.9 1.2 1.5 7.2 3.3 1.8 0 1.3-1.4 1.3-3.8-.1-1.7-1.1-1.1zM791.6 259.2l-1.5 .6-.8 1.3-1.1 7.3 .3 1.4 1.1 1 4.4 1.9 1.8 0 1.2-1.3 2.3-5.6-.2-2.2-2.2-3.4-1.9-1zM796.2 435.3l-.7 1.3-1.6 9.2 .2 1.4 .9 1 6 3.7 2.4 0 9.7-5.6 1-1.2 1.7-4.5 0-1.4-.7-1.1-10.2-8.5-1.6-.5-1.5 .6zM787.1 287.7l-1.3 1.5 .3 1.9 5.4 8.1 1.5 1 2.8 .4 1.8-.4 .9-1.6 1.3-12.4-.4-1.5-1.2-.9-1.5 .1zM843.6 289.1l-.4 1.8 1 1.5 8 5.3 1.5 .3 1.4-.6 .4-.4 .7-1.8-.4-5.8-1.4-1.9-5.6-2.4-1.5-.1-1.2 .9zM747.2 326.8l-.5 1.3 .3 1.3 6.4 11 1.1 .9 1.2 .6 1.4 .1 1.2-.7 14-14.6 .6-1.5-.5-1.5-5.4-6.6-1.8-.8-8.2 0-1.8 .9zM894 259.2l-1.8 .8-.5 1.8 .5 3.5 .6 1.2 1.2 .7 4.3 1.1 1.6-.3 7.1-3.8 1.2-2 0-.8-.7-1.5-1.6-.7zM921.2 326.3l-.7 1.3 .3 1.5 5.6 10 1.8 1.2 6.1 .6 1.7-.6 .8-1.7 0-20.6-.7-1.6-1.6-.7-1.5 0-1.6 .6zM921.5 454.7l-1.5-.5-1.5 .6-4.5 4.4-.7 1.4 .4 1.6 2.3 3.2 1.6 .9 1.8-.6 5.5-5 .8-1.8-.9-1.7zM813.4 464.8l-.9 1.4-.9 4.2 .5 1.9 1.7 .9 9.6 .6 1.7-.7 .7-1.7-.3-8.4-1.5-2-2.4-.9-2.1 .2zM774.1 441.2l-1.5-.5-1.5 .5-.7 1.4-.8 5.2 .3 1.6 1.3 1 6.7 1.9 2.1-.4 1.4-1.2 .9-1.8-.9-1.8zM753.6 443.5l.5 2.5 4 4.2 2 .7 5-.8 1.3-.6 .7-1.3 .9-5.7-.2-1.4-1-1-3.1-1.7-2.3 0-6.7 3.9-1 1.1zM713.9 448.8l-.5 1.2 .4 1.4 2.7 4.4 1.1 .9 1.5 .1 1.2-.9 4.2-5.9 .4-1.6-.7-1.4-3.1-3.2-1.8-.7-1.7 .9zM907 283.7l-1.2 .9-.4 1.4 .6 8.6 .6 1.3 1.1 .8 3.9 1 1.6-.1 1.1-1.1 3.9-7.7-.1-2.3-1.4-2.3-1.1-.9-2.5-1-1.6 0zM760.8 453.2l-1.9 1.5-1.1 3.2 .5 2.3 2.6 3 2.2 .7 2.1-.4 1.4-.8 .5-1.6-.5-6.3-.8-1.6-1.8-.5zM776.1 436.9l-.5 1.6 .9 1.5 8.7 7 1.7 .5 2.7-.3 1.3-.6 .7-1.3 1.2-7.1-.4-1.6-1.3-1-10.3-2.7-1.4 .1-1.1 .8zM924.3 407.9l-2 1.6-1.8 5.7 .3 1.9 1.3 2 1.5 1 6.8 1.2 1.7-.3 3.6-2.3 1.1-2 0-7.5-.8-1.7-1.7-.5zM730.3 476.8l-.9 1.4 .3 1.7 2.6 4.3 2 1.1 .5 0 2-1.1 3.1-4.9 .2-2-.1-.4-1.2-1.3-2.8-1.3-2.3 .2zM786.1 305.9l-1 1.7-1.2 9.6 .7 2 1.9 .6 7.2-.9 1.4-.8 .6-1.4 .5-11.5-.5-1.6-1.4-.8-1.8-.3-1.7 .4zM835.1 333.9l.4 1.9 12 17 2.1 1 11.7-1.1 1.4-.6 .2-.2 .7-1.4 1.2-11.8-.6-1.7-9.3-10.4-1.7-.7-7.9-.1-1.3 .4-7.7 5.3-.9 1.3zM739.4 442.9l-1.6-.3-1.4 .9-2.9 3.8-.4 1.3 .4 1.4 .2 .2 1.4 .9 6.3 1.3 1.5-.1 1-1 1.3-2.3 .2-1.7-1.1-1.3zM712.2 295.8l-2.1 .4-.9 1.8 0 14 .5 1.4 1.2 .8 4 1.1 2-.5 10.2-8.1 .8-1.4-.3-1.6-1.9-3.1-1.3-1zM812.5 264.1l-.1 1.9 2.5 6.4 2.1 1.4 1 .1 1.8-.8 5.3-5.9 .4-2.4-1.7-4.2-.8-1-1.3-.4-5.3 0-2.1 1.3zM725.9 403.6l-.7 1.3 .3 1.5 5.5 9.9 1.1 .9 1.4 .2 10.1-2.1 1.2-.6 .6-1.2 .3-2-.2-1.5-1.2-1-15.5-6.3-2.5 .4zM747.3 259.2l-1.6 .6-.7 1.5 .4 1.5 4.4 6.2 2.1 .9 5.1-.3 1.5-.7 .6-1.6 .2-5.8-.7-1.6-1.6-.7zM780.6 324.2l-.9 1.5 .5 1.7 12 16.1 1.1 .8 1.3 0 7.3-2 1.2-.8 .5-1.3 .4-12.2-.9-2-5.9-4.5-1.7-.4-12.3 1.6-1.1 .4zM932.5 259.2l-1.7 .8-.5 1.8 1 1.6 1.9 1.3 1.6 .4 1.4-.8 .6-1.5 0-1.3-.7-1.6-1.6-.7zM829.9 475.9l-1.6 .6-.7 1.6-.4 4.7 .7 1.8 1.6 .7 11.6 0 1.6-.7 .7-1.7-.1-2.6-.8-1.7-2-1.8-1.4-.5zM781.9 284.7l1.2 1.3 1.8 0 11-4.4 1.3-1.4-.1-1.9-.8-1.5-1.1-1-7.6-3.2-1.9 .1-1.7 .8-1.2 1.5-1.6 6.7 .1 1.3zM710.7 475.7l-1.1 .9-.4 1.3 0 5.1 .7 1.6 1.6 .7 5.4 0 2-1.1 3.2-5 .3-1.5-.6-1.4-2.4-2.4-2.5-.5zM893.9 304.2l-.3 1.4 .6 1.3 3.6 3.9 1.9 .7 10.1-.9 1.3-.5 .7-1.3 1.3-6-.3-1.6-1.4-1.1-5.6-1.5-1.4 .1-8.3 2.9-1.2 1zM724.1 408.9l-1.1-1-1.5-.1-1.2 .9-5.9 8.1-.4 1.6 .9 1.5 8.5 6.8 2 .4 1.5-1.3 2.5-5.6-.1-2.1zM710.3 266.9l-1.1 2 0 1.9 1.2 2.1 7.5 4 1.8 .1 .4-.1 1.2-.9 3.1-4.5 .1-2.5-3.5-6.1-1.5-1.1-1.8 .3zM748.2 374.4l-1.5 1.7-2 10.8 .5 2 7.1 8 1.7 .8 1.7-.7 10.9-10.9 .7-1.6-.7-1.7-9.6-10-2.4-.6zM877.9 304.2l-1.5 .2-1 1.1-2.3 4.6 .1 2.1 5.1 8.8 1.2 1 1.6 0 1.2-1 6.5-11.7 .1-2.1-1.7-1.3zM870.4 460.5l-1.1 2.1 .4 5.9 1.4 1.9 .1 .1 1.4 .1 1.3-.9 3.1-4 .4-1.3-.3-1.3-1.7-2.9-1.4-1.1-1.8 .3zM842 293.9l-2-.3-1.4 1.5-2.5 7.8 0 1.5 1 1.2 2.3 1.4 2.4 0 7.6-4.3 1-1.2 .1-1.5-1-1.2zM777.3 259.2l-1.6 .7-.7 1.6 0 4.3 1 2 5 3.3 2.3 .1 1.1-.6 1.3-1.7 1.1-7-.5-1.9-1.8-.8zM766.4 273.3l-.9 .9-.2 1.4 .1 1 .6 1.2 1.2 .7 9.5 2.1 1.7-.3 1-1.4 .9-3.6-.1-1.4-.9-1.1-4.4-2.9-2.4-.1zM711.6 338.6l-1.7 .6-.7 1.7 0 14.6 .9 1.8 2 .4 9.2-2.6 1.3-1.1 .2-1.8-3.4-11.8-.8-1.2-1.3-.4zM795.7 451.4l-2.1-.1-1.4 1.6-2.8 11.6 .2 1.5 1.8 3.8 2.1 1.3 .3 0 1.4-.5 .8-1.3 3.6-13.6-.1-1.4-1-1.1zM820.4 378.7l-.6 1.9 3.4 23.9 1.1 1.7 11.3 6.7 2.4 0 10-6.4 .8-1 5.1-12.1 .1-1.6-1-1.3-23.7-14.7-1.5-.3-4.2 .6-1.3 .7zM918 303.1l-1.8 .2-1.1 1.6-1.2 5.8 .2 1.4 4.3 9.3 1.6 1.3 2.1-.6 6.9-6.8 .6-1.2-.1-1.4-2.7-6.1-1.5-1.3zM891.4 355.9l-1 2 .9 16.5 1.1 1.9 8.3 4.8 1.7 .3 1.2-.3 1.3-.8 10.7-13.1 .4-2-1.6-6.6-1.8-1.7-16-3.7-1.9 .3zM723.9 276.5l-.1 2.5 4.1 6.6 1.2 1 1.5 0 6-2.2 1.5-1.8 .1-.6-.5-1.8-6.9-7.8-1.7-.8-.6 0-2 1zM801.3 302.6l-1.8 .5-.9 1.7-.5 13.1 .9 1.9 4.9 3.8 1.4 .5 1.4-.5 7.3-5.6 .8-1.4-.3-1.6-6-10.4-1.7-1.1zM808.3 476.5l-1 2 .2 4.6 .7 1.6 1.6 .6 12.7 0 1.6-.6 .7-1.5 .3-4.6-.5-1.7-1.6-.8-12.2-.7-1.5 .4zM917 355.6l-.4 1.9 1.8 7.2 1.2 1.5 13.9 6.8 1.5 .2 1.3-.8 .5-1.4 0-25.3-.6-1.6-1.5-.7-6.6-.7-2.1 .9zM849.7 265l-.5 2.4 1.2 2.9 2.1 1.5 5.6 .2 1.4-.4 .9-1.2 .7-2.4-.4-2.1-3.8-4.5-1.7-.9-1.7 .7zM891.7 463.6l-1 1.1-.2 1.4 .6 2.8 1.4 1.6 6.3 2.5 2.1-.2 1-1.8 .5-5-.4-1.4-1.1-1-4.3-1.6-1.9 .1zM936.8 429.2l-.6-1.6-1.6-.7-1.6 .6-.8 1.5-.6 7 1.2 2.2 .6 .3 1.5 .3 1.4-.8 .5-1.5zM762.9 424.7l-1 2.3 1.5 7.5 1.2 1.6 4.1 2.3 1.9 .1 1.1-.4 1-.8 4.1-5.4 .3-2-2.8-9.6-1.5-1.5-2.1 .3zM893 285.8l-1.3 1.2-.1 1.7 2.9 8.5 1.1 1.3 1.8 .1 4.7-1.7 1.2-.9 .3-1.4-.6-9.2-1.3-1.9 0 0-1.8-.1zM711.3 383.2l-1.5 .8-.6 1.5 0 10.3 1.2 2 10.2 5.4 1.4 .2 1.3-.6 2.3-2.3 .6-1 1.3-4.5-.2-1.8-5.7-9.5-2.1-1.1zM907.5 420.2l-.7 1.1 .2 1.4 1.9 4.5 1 1.1 1.5 .2 3.7-.5 1.6-1.1 3-4.7 0-2.5-.8-1.2-1.8-1-5.7-.3-1.7 .7zM853.7 445.8l-1.6 1.5-2.6 7.2 .1 1.7 1.2 1.2 2.7 1.1 2-.1 2.9-1.6 1.1-1.3 2.7-8-.1-1.6-1.1-1.2-1.5-.2zM749.8 275.2l.2 2.1 3.9 5.7 1.8 1 3.5 .2 2.2-1.3 1.6-3.3 .2-1.3-.4-3.4-.8-1.5-1.4-1.1-1.6-.5-6.7 .5-2 1.5zM930.7 286.5l-.5 1.3 .4 1.4 2 3 1.6 1 1.8-.6 .8-1.7 0-5.1-.7-1.6-1.6-.7-.3 0-1.8 .9zM905.9 463.5l-1.1 1.8-.4 5.4 .3 1.4 1.1 .9 3 1.2 2.5-.5 3.1-3.2 .7-1.4-.5-1.5-3.5-4.8-1.4-.9-1.6 .3zM781.2 453.9l-.8 1.7-.2 3.1 .3 1.3 1 .9 3.1 1.5 2 0 1.2-1.5 2-8.2-.5-2-2-.8-.6 .1-1.1 .5zM776.6 414.4l-.8 1.2 0 1.4 3.6 12 1.6 1.5 11.9 3.1 2.2-.6 6.2-6.1 .7-1.7-.1-4.8-.9-1.8-13.4-10.1-1.4-.5-1.3 .4zM881.1 433.1l-.3 1.5 .2 1.2 .7 1.3 5.8 5.5 1.8 .7 2.2-.2 2-1.3 2.3-5.2-.1-2.2-4-6.8-1.1-1-1.4-.1-3.9 .8-1.5 1.1zM929.4 303.7l-.2 2.3 2.6 5.9 2 1.4 .7 0 1.6-.7 .7-1.6 0-10.4-.8-1.7-1.7-.6-1.7 1zM786.2 355.5l-.5 2.1 6.1 21.2 .9 1.3 1.5 .4 22.8-2.4 1.4-.7 1.5-1.6 .5-2.3-8.3-24.4-1.1-1.3-5.6-3.2-1.8-.3-9.6 2.7-1.1 .7zM866.8 447l-1.5 .3-1 1.3-2 6 .1 1.6 1.2 1.2 3.2 1.3 2.1-.1 3.3-2 1-1.5-.4-1.8-3.7-5.3-1.6-.9zM725.6 259.2l-1.5 .5-.8 1.4 .3 1.5 3 5.4 2 1.2 .9 0 1.4-.4 7.8-5.4 .9-1.6-.5-1.8-1.7-.8zM925.7 440.4l-1.1 .7-4 4-.6 2.1 .8 3.2 .8 1.3 3.8 3 1.8 .4 1.5-.9 6.4-9.1 .3-1.9-1.1-1.5-3.5-1.8-1.6-.3zM807 452.6l-1.1 1.5 .5 1.9 4.1 5.2 1.5 .9 1.6-.5 3.6-2.6 .9-1.3-.1-1.5-2.7-5.5-1.4-1.3-1.8 .2zM816.4 445.7l.1 1.8 4.3 9 1.2 1.1 3.3 1.3 2.1-.3 5.7-4.1 1-2.3-1-4.4-.9-1.4-9.4-6.6-1.7-.4-1.1 .2-1.8 1.5zM914.3 266.9l-1.6 0-1.1 1.1-.3 1.5 1.9 9.2 1.4 1.6 .1 .1 1.6 .1 1.3-1.1 3.1-5.3 0-2.2-1.4-2.7-1.3-1.1zM910.9 431l-1.7 1.2-.1 2 3 7.6 1.6 1.3 3.1 .9 2.2-.7 2.5-2.6 .7-1.4-.5-1.5-4.6-6.4-2.2-1zM765.6 291.2l-1.8 0-1.3 1.3-1.3 3.5 0 1.5 .8 1.2 5.9 4.3 1.4 .5 1.4-.5 .5-.5 .9-1.5 .7-5-.3-1.4-1.1-1zM893.9 423.7l-.5 1.2 .3 1.4 3.7 6.2 1.1 1 1.4 .1 5.6-1.4 1.5-1.2 .1-1.9-2.5-5.9-1.7-1.4-5.3-.9-2.2 .9zM771 305.8l-.8 1.2-1.7 6.6 .4 2.1 5.9 7.1 1.5 .9 1.7-.5 2.2-1.7 .9-1.5 1.5-11.4-.4-1.5-1.3-1-6.4-1.8-2.1 .4zM730.6 289.1l-1.5 1.7-1.6 6.9 .3 1.7 2.4 4 1.3 1 1.7-.2 3.8-1.8 .9-.8 4.9-6.8 .4-1.4-.4-1.3-3.2-4.4-1.2-.9-1.5 .1zM810.9 280l-.7 1.5 .4 1.5 6.4 9 1.7 .9 1.8-.7 5.2-5.4 .6-1.5-.6-1.6-6-6.7-1.6-.7-2.1-.1-1.6 .6zM764 259.2l-1.6 .7-.7 1.6-.2 7.4 .9 1.8 .3 .3 1.3 .5 1.3-.3 6.1-3.5 1.2-2 0-4.2-.6-1.6-1.7-.7zM861.4 315.1l-1.4 1.3-3.2 6.7 .4 2.5 7.8 8.6 1.4 .8 1.6-.5 9.2-6.4 .9-1.4-.3-1.7-6.3-10.9-1.1-.9-1.5-.1zM858 391.7l-1.3 1.2-5 12.1-.1 1.4 .8 1.3 11.3 8.8 2.3 .2 7.7-3.4 1.1-1.2 3.2-7.3-.3-2.3-10.2-12.7-1.2-.8-1.4 .1zM736.6 465l-1.2 1.1-.2 1.4 .4 2.8 1.3 1.7 2 1 1.4 .2 1.2-.6 4.1-3.9 .7-1.9-.2-2.4-1.1-1.7-2.1-.2zM922.7 266.5l-.8 1.4 .2 1.5 .8 1.4 1.8 1.2 4 .5 2.1-.9 1.3-1.8 .5-1.8-1-1.5-3.5-2.3-1.4-.4-1.3 .5zM910 405.1l-1.2 1.2-.1 1.6 1.6 5.3 .8 1.2 1.3 .5 3.8 .2 1.5-.5 .9-1.2 1.5-5-.4-2.2-2.3-2.6-1.2-.8-1.5 .2zM906.9 448.1l-1 1.3 .1 1.7 2.7 5.6 1.6 1.3 2-.6 5.3-5 .7-2.2-.5-2.2-1.7-1.7-3.3-.9-1.8 .2zM912.8 475.6l-.7 2.1 1.4 5.8 .8 1.3 1.4 .5 5.4 0 2-1.1 1.2-2.1 .3-1.3-.3-3.5-.8-1.6-4.5-3.5-1.5-.5-1.5 .7zM837.1 267.4l-.7 2.4 1 3.4 1.5 1.5 5.2 1.6 1.3-.1 1.1-.7 1.4-1.8 .4-2.2-1.5-3.8-1.4-1.3-3.8-1.4-2.3 .5zM829.2 259.2l-1.9 1-.2 2.2 .7 1.8 1.6 1.4 3.8 .8 2-.5 2.7-2.4 .8-1.9 0-.2-.7-1.6-1.6-.6zM888.7 475.2l-.4 1.7 1.2 6.5 .8 1.4 1.5 .5 2.7 0 1.5-.5 .8-1.3 1.2-6.2-.2-1.6-1.2-1-4.2-1.6-1.5-.1-1.2 .8zM760.4 300.5l-2-.3-1.5 1.4-2.4 7.1 .1 1.7 .9 2.2 2.1 1.3 6.5 0 1.4-.5 .9-1.2 1.1-4.6 0-1.3-.8-1.1zM805.2 458.3l-1.5-.8-1.6 .3-1 1.4-2.7 10.5 .1 1.5 1.1 1.1 5.1 2.4 2.3-.2 .8-.5 1-1.5 1.3-6.6-.4-1.8zM721.8 458l-.4 1.5 .7 1.5 1.5 .6 4.9 .2 1.5-.5 .8-1.4 1.2-6.6-.4-1.8-.6-.9-1.7-.9-.2-.1-2.1 1zM878 476.9l-1.5 .6-.8 1.4-.5 3.8 .5 1.8 1.8 .8 7.2 0 1.7-.8 .5-1.9-.7-3.8-.8-1.4-1.5-.5zM932.5 273.3l-.4 1.9 .2 .8 .9 1.4 1.6 .4 1.4-.8 .6-1.5 0-1.1-.7-1.7-1.8-.6-1.6 .9zM774.7 465.6l-.9 1.1 0 1.4 .1 .2 1.1 1.4 9.2 5.2 1.3 .3 1.3-.6 1.7-1.4 .7-1.3-.1-1.5-1.7-3.4-1-1-6.2-3-2.4 .2zM901.9 313.7l-1.6 .9-.5 1.7 1.4 9.7 .8 1.5 1.6 .5 11.4-.8 1.8-1.1 .1-2.1-4.5-9.7-.9-1-1.3-.3zM733.3 460l.2 1.6 1.3 1 1.6-.1 5.6-2.2 1.2-1.1 .2-1.6-.3-1.1-1.8-1.6-4.5-1-1.8 .4-1 1.5zM899.6 436.2l-1.6 1.2-2.1 4.9-.2 1.4 .7 1.3 1.8 1.5 1.3 .6 3 .3 1.4-.3 4.6-2.8 1-1.2-.1-1.6-2-5.2-1.1-1.2-1.6-.2zM838.8 422.3l-1.8-1-1.9 1-9.8 13.5-.4 1.8 1 1.5 6.6 4.6 1.4 .4 1.4-.5 7-5.7 .8-1.5 .8-5.7-.4-1.6zM828.8 460.5l-.9 2 .3 8.9 .7 1.5 1.5 .7 6.9 .2 1.5-.5 .8-1.5 1.8-11.5-.2-1.4-1-1-3.1-1.7-2.4 .2zM890.5 280.8l.9 1.9 2.2 .4 4.2-1.5 1.2-1 .3-1.5-.8-6.8-.6-1.3-1.2-.7-3-.7-1.9 .4-.9 1.8zM710.8 462.7l-1.2 .8-.4 1.4 0 5.5 1 1.9 2.1 .2 4.1-1.5 1.4-1.7 1.1-5.5-.3-1.7 0-.1-1.2-.9-1.5-.1zM822.6 273.6l-.6 1.5 .6 1.6 4.4 4.8 1.8 .8 1.7-.9 4.2-5.4 .4-2-1.1-3.7-1.7-1.6-3.1-.7-2.3 .7zM847.2 478.9l-1.1 .9-.4 1.3 .1 2 .7 1.5 1.6 .7 9.8 0 1.9-1 .2-2.2-.5-1.2-1.7-1.4-7.9-1.3-1.2 .1zM712.2 437.5l-2.1 .3-.9 1.9 0 4.5 .7 1.7 1.8 .6 1.6-.9 2.9-3.6 .4-2.1-1.5-1.5zM750.2 462.1l-1.3 .9-.4 1.5 .2 2.1 1.1 1.7 4.6 2.9 1.9 .2 1.4-1.2 1.5-3.1-.3-2.5-2.4-2.8-2.2-.7zM739.4 434.4l-1 1-.2 1.3 .1 1.7 1.1 1.7 7.6 4.6 2 .2 .8-.3 1.3-1.2 .2-.4-.2-2.1-4.6-7.8-1.4-1-1.7 .2zM866.9 353.5l-2 .6-.7 2 3.9 25.1 1.1 1.6 2 .1 16.2-6.7 1.1-.9 .4-1.4-.8-15-.6-1.4-1.3-.7zM838.7 277.2l-1.4 0-1.1 .8-4 5.1-.4 1.8 .9 1.5 4.7 3.2 1.7 .4 1.4-.8 4.4-5.7 .5-1.8-.2-1.3-1.6-1.8zM865.3 430.5l-2 .4-.9 1.9 .3 8.6 .6 1.5 .8 .8 1.4 .7 2.3 .3 1.8-.5 7.6-6.3 .9-1.4-.4-1.6-1.2-1zM712.6 401.6l-1.6-.2-1.3 .8-.5 1.5 0 9.1 .8 1.7 1.7 .6 1.7-1 4.8-6.6 .3-1.8-1.1-1.6zM933.4 461.3l-1.8 .8-.5 2 1 4.3 1.6 1.7 .1 0 2.1-.3 .9-1.9 0-4.3-.6-1.6-1.6-.7zM744.1 480.9l-1.6-.1-1.3 1 0 0-.4 1.5 .8 1.4 1.5 .6 0 0 1.8-.9 .5-1.9-1.3-1.6zM916.6 297.3l-.1 2 1.5 1.3 7.2 2.2 1.4-.1 1.1-.8 3.5-4.8 .4-1.3-.3-1.3-3.1-4.6-1.9-1-3.9-.1-2.1 1.3zM920.2 393.1l-1.6 1.9-.6 4.4 .5 1.8 3.1 3.5 1.9 .8 11.2-1 1.5-.7 .6-1.6 0-11-.9-1.9-2.1-.4zM857.5 460.1l-1 1.1-.2 1.4 .2 .7 .8 1.3 6.2 4.8 1.7 .5 1.5-.8 .5-1.6-.3-4.7-1.4-2-4.2-1.8-2 .1zM721.5 337l-.1 1.6 4 13.8 1.3 1.5 2-.1 20.5-11.2 1.1-1.4-.2-1.8-5.8-9.9-1.1-.9-.6-.2-1.5-.1-17 5.1-1.5 1.2zM763.2 284.7l-.1 1.8 .1 .3 1.3 1.3 8.4 3.5 2.3-.3 3.8-2.9 .8-1.1-.1-1.5-.4-1.1-1.7-1.5-10.6-2.3-1.5 .2-1 1.1zM858.7 286.9l-.5 1.6 .3 5 .7 1.5 1.5 .7 9.4 .4 1.5-.5 .8-1.2 2.2-7.9-.3-1.8-.5-.8-1.3-1-6.8-2-2.4 .7zM919.1 427.6l-.3 1.3 .4 1.2 4.8 6.8 2.4 .9 1.1-.2 1.2-.8 .5-1.3 .9-9.7-.5-1.6-1.4-.9-4.2-.7-1.3 .1-1 .9zM921.1 467.4l-.7 1.8 .9 1.7 2.6 2.1 1.5 .5 1.4-.5 2.2-1.9 .7-2.3-.8-3.8-.9-1.3-1.5-.4-1.4 .5zM930.9 455.2l-.4 1.6 .7 1.4 1.5 .6 1.7 .1 1.7-.6 .7-1.7 0-2.5-.8-1.7-1.8-.6-1.6 1zM877.2 259.2l-1.5 .5-.8 1.4 .3 1.6 3.2 5.3 2.3 1.1 7.1-.9 1.6-.9 .4-1.7-.6-4.4-.8-1.4-1.5-.6zM723.3 464l-1.5 .5-.8 1.3-.9 4 .7 2.1 3.7 3.7 1.4 .7 1.5-.4 4.8-3.3 1-2.3-.7-3.9-.7-1.4-.2-.1-1.4-.6zM727.6 481.1l-1.2-1-1.5 0-1.2 1-.4 .7-.4 1.5 .8 1.4 1.5 .6 .9 0 1.5-.5 .8-1.4-.3-1.6zM735.7 305.7l-1.2 1.3 .1 1.7 7.4 15.5 1.1 1 1.5 .2 1.2-.7 7.2-8.6 .4-2.5-1-2.3-1.2-1.1-11.8-5.4-2 .1zM747.7 428.5l.1 2.2 4.5 7.5 1.4 1.1 1.8-.2 4.3-2.6 .9-1 .2-1.4-1.3-6.7-1.7-1.8-6-1.4-1.5 .2-1.1 1zM757.2 398.9l-.6 1.8 1 1.7 15.3 9.9 1.3 .4 1.3-.4 8.6-6.3 1-1.8 .2-14.2-.6-1.5-1.4-.8-11.9-1.8-1.9 .7zM720.9 437.6l-.4 1.5 .7 1.4 5.9 6 1.4 .7 .7 0 2-.9 4.3-5.7 .5-1.6-.3-2.6-1.1-1.8-6.6-3.7-1.6-.2-1.4 .9zM883.1 324.4l-.1 1.9 1.3 1.3 9.3 4 2.3-.3 2.1-1.6 .9-2.2-1.8-13.4-.6-1.3-2.2-2.3-2-.7-1.7 1.2zM763.3 466.3l-1.7 1.3-2 4.2-.1 1.6 .8 1.3 3.6 2.6 1.7 .3 1.5-.9 4.1-6 .3-1.9-.3-1-1-1.4-1.1-.6-1.6-.3zM745.4 453.5l-.2 1.7 .8 3.1 1.1 1.4 1.7 .2 5.1-1.2 1.6-1.5 1.2-3.2-.6-2.4-3.7-3.9-1.2-.7-1.3 .2-.5 .1-1.1 1.1zM880.8 271.5l-1.9 1.4-3 8.1 .2 2 0 .1 1.9 1.1 7.7 .2 1.6-.7 .7-1.5 .4-9-.7-1.8-1.9-.5zM843.4 308.8l-.9 1.1-.2 1.5 2.5 10.3 .8 1.2 1.4 .5 5.5 .1 2.1-1.3 3.2-6.8 0-2-3.7-7.8-1.4-1.2-1.8 .2zM896.8 403.3l-1.6 .1-1.1 1-.2 1.6 2.5 10.9 1.8 1.7 5.2 .9 2-.7 2.2-2.2 .6-2.3-2.1-6.9-1.5-1.5zM878.2 454.7l-1.4 1.4 .2 2 2.4 4.1 2 1.1 3.3 0 1.4-.5 .8-1.2-.1-1.5-2.3-5.3-1.2-1.2-1.7 0zM903.5 383.6l-1.6 1.5-4.2 13.6 .1 1.7 1.3 1.2 6.7 2.1 1.6 0 6.9-3.2 1.4-1.8 .5-4.4-.8-2-9.8-8.3-2-.5zM772 453.1l-2.1 .4-.8 2 .5 6.5 .6 1.4 1.5 .7 1.5-.5 3.6-2.6 .9-1.7 .2-2.6-.4-1.5-1.2-.9zM749.1 290.9l-.7 1.3 .2 1.5 1.1 1 5.8 2.7 1.8 .1 1.3-1.4 2.4-6.4-.2-2.1-1.8-1-3.8-.2-1.6 .6zM863.1 259.2l-1.6 .6-.7 1.6 .5 1.6 .7 .7 1.2 .8 1.5-.2 1.6-.7 1.3-1.6-.5-1.9-1.8-.9zM902 269.6l-.9 1-.3 1.4 1 7.8 1.3 1.7 .2 .1 1.7 .2 4-1.3 1.3-1 .3-1.6-1.8-8.6-1.2-1.6-2.1 .1zM811.5 301.5l-.7 1.4 .3 1.5 6 10.2 1.8 1.1 2-.9 5.6-7.2 .5-1.4-.5-1.4-6.1-8.1-1.6-.9-1.8 .6zM712.1 317l-2 .4-.9 1.8 0 14.7 .6 1.6 1.6 .7 6.2 .2 2.2-1.3 .7-1.5 .1-1.9-4.8-12.7-1.6-1.4zM743.2 474.4l-.7 2 1.3 1.7 4.3 2.1 1.5 .1 1.3-.8 2.5-3.1 .5-1.8-1.1-1.6-3.5-2.2-1.4-.3-1.4 .6zM709.2 282.6l.8 1.7 1.7 .6 1.7-1 2-2.7 .3-1.9-1.1-1.5-2-1.1-1.5-.2-1.4 .8-.5 1.5zM847.9 277.6l-.5 1.8 .3 1.5 1.4 1.7 5.9 2.5 1.4 .1 1.2-.7 3.8-4.4 .6-1.2-.3-1.4-1.1-1.9-1.9-1.2-6.9-.2-1.8 .8zM741.8 280.8l-1.2 1.8-.2 1 .4 1.7 2.8 3.9 1.7 .9 1.7-.5 3.8-3.4 .7-1.4-.4-1.6-2.4-3.6-1.3-.9-1.6 .2zM858.1 468.3l-1.9-.4-1.5 1.1-2.2 4.1 0 2.1 1.6 1.3 3.8 .6 2.3-1 1.5-2.3 .4-1.7-.9-1.4zM913.1 259.2l-1.5 .5-.8 1.4 .3 1.6 1.2 1 6 2 2.2-.4 2.4-2 .8-1.7-.6-1.7-1.7-.7zM733.3 369.3l-1.6-.1-1.3 .9-6.7 10 0 2.5 4.9 8.1 1.2 1 1.6 0 9.6-3.7 1.4-1.8 1.8-9.9-.2-1.4-1.1-1.1z" fill="#6a1403" stroke="#a8661a" stroke-width="1.1"/>
<path d="M864 304.3h0M739.1 424.8h0M806.8 292.3h0M795 479.3h0M873.2 424.4h0M928.9 414.6h0M735.5 410.4h0M903.4 304.9h0M722.2 417.2h0M880.2 312.1h0M775.8 313.2h0M735.2 295.6h0M835 465.3h0M866.7 289h0M818.9 305.1h0" stroke="#8a2a0c" stroke-width="12" stroke-linecap="round" opacity="0.4" filter="url(#bD)"/>
<path d="M740.9 398.8h0M715.3 347.4h0M921.4 311.9h0M769.9 430.3h0M824.5 449h0M907.6 320.3h0M743.6 314h0M892.3 321.4h0M849.7 314.4h0" stroke="#8a2a0c" stroke-width="13" stroke-linecap="round" opacity="0.4" filter="url(#bD)"/>
<path d="M883.8 295.5h0M886.1 414.6h0M833.8 317.1h0M717.4 305.8h0M805.5 313.6h0M718.8 393.6h0M835.5 434.1h0M927.9 398.2h0M906.5 394.6h0" stroke="#8a2a0c" stroke-width="14" stroke-linecap="round" opacity="0.4" filter="url(#bD)"/>
<path d="M727.8 320.4h0M756.2 414h0M930.5 328h0M867.6 323.4h0M734.4 380.4h0" stroke="#8a2a0c" stroke-width="15" stroke-linecap="round" opacity="0.4" filter="url(#bD)"/>
<path d="M718.1 368.4h0M852 420.5h0M804.2 441h0M754.9 384.7h0" stroke="#8a2a0c" stroke-width="16" stroke-linecap="round" opacity="0.4" filter="url(#bD)"/>
<path d="M922.7 380.3h0M758.8 328.9h0M793 331.7h0" stroke="#8a2a0c" stroke-width="17" stroke-linecap="round" opacity="0.4" filter="url(#bD)"/>
<path d="M818.4 331h0M928.8 357.9h0M788.7 420.6h0M864.5 402.7h0M735.1 338.7h0" stroke="#8a2a0c" stroke-width="18" stroke-linecap="round" opacity="0.4" filter="url(#bD)"/>
<path d="M774.8 343.6h0M819.1 423.5h0M907.6 340.8h0M880.6 343.5h0M887.2 391.4h0M901.9 367.3h0M773.7 399.1h0" stroke="#8a2a0c" stroke-width="19" stroke-linecap="round" opacity="0.4" filter="url(#bD)"/>
<path d="M746.4 358h0M851 339.3h0M877.6 367.4h0" stroke="#8a2a0c" stroke-width="20" stroke-linecap="round" opacity="0.4" filter="url(#bD)"/>
<path d="M829 356.3h0" stroke="#8a2a0c" stroke-width="21" stroke-linecap="round" opacity="0.4" filter="url(#bD)"/>
<path d="M852.8 372.1h0M774.3 370.8h0M802.6 396.9h0M834.8 392.5h0M803 362.5h0" stroke="#8a2a0c" stroke-width="22" stroke-linecap="round" opacity="0.4" filter="url(#bD)"/>
</g>
<path d="M778.8 344.2h0M779.4 342.2h0M770.9 339.8h0M777.9 340.7h0M823.1 331.8h0M819.7 336.9h0M814.7 329.7h0M925.1 385.4h0M923.4 379.1h0M927.1 380.5h0M832.1 350.6h0M826.1 355.3h0M828.4 360.4h0M833.8 352.5h0M824.6 353.1h0M717.8 369.5h0M716.6 364.8h0M715.7 370.1h0M816.3 424.2h0M819.7 424.5h0M819.5 419.9h0M813.5 417.7h0M847.5 368.1h0M848.5 366.6h0M848.8 373.4h0M851.4 374.2h0M849.6 366.5h0M730.9 314.5h0M723.5 325.3h0M902.8 343.9h0M905.2 342.9h0M902.7 344.6h0M911.1 345.8h0M876.2 345.3h0M878.4 346h0M880.7 341.4h0M880.5 337.7h0M772.4 366.7h0M773.7 366.1h0M778.6 375.6h0M773.6 368.4h0M776.7 370h0M892.7 386.1h0M886.6 393.7h0M887.1 385.5h0M884.7 394.8h0M808.4 398.9h0M808.4 394.3h0M808 401.8h0M797 400.9h0M803.6 396.7h0M797.3 397.5h0M804.8 401.9h0M848.4 422.9h0M851.6 422.9h0M751.2 357.1h0M745.2 359.2h0M741.9 364h0M744.7 361.4h0M805.2 437h0M801.6 442.4h0M762.5 334.1h0M764.5 327.5h0M753.4 333.2h0M848 343.4h0M847.9 335.8h0M853.4 336.2h0M845.6 342.1h0M790.6 331.1h0M796.4 336.4h0M787 335.3h0M758.4 389.2h0M749.7 385.7h0M751.7 379.2h0M830.1 393.4h0M835.4 386.8h0M834.2 387h0M839.3 396.1h0M840.6 397.6h0M831.8 393.2h0M903 363.4h0M904.9 370.2h0M899.2 365.5h0M900.6 369.2h0M926.3 362h0M931.1 355.6h0M923.7 357.4h0M785 420.8h0M784.8 419.7h0M789.7 422.6h0M799.7 360.4h0M798.2 362h0M799.3 365.6h0M802.7 360.5h0M801.2 368.4h0M799.2 359.4h0M798.6 357.3h0M866.9 402.6h0M865 404.1h0M862 407.3h0M881.9 365.2h0M878.3 373.4h0M879.9 362.7h0M878.2 362.8h0M729.6 343h0M730.6 337.7h0M740.1 333h0M770.2 399.4h0M771.3 400.9h0M775.1 401.6h0M769.5 396h0M736 378.8h0M740.3 377.2h0" stroke="#d89050" stroke-width="1.2" stroke-linecap="round" opacity="0.6"/>
</g>
<rect x="718" y="268" width="210" height="208.5" fill="none" stroke="#777" stroke-width="0.9"/>
<defs><clipPath id="cC"><rect x="987" y="268" width="209" height="209"/></clipPath>
<filter id="nC" x="987" y="268" width="209" height="209" filterUnits="userSpaceOnUse">
<feTurbulence type="fractalNoise" baseFrequency="0.8 0.5" numOctaves="1" seed="3"/>
<feColorMatrix type="matrix" values="0 0 0 0 0.3  0 0 0 0 0.62  0 0 0 0 0.3  3.2 0 0 0 -1.75"/>
</filter>
<filter id="wC" x="982" y="263" width="219" height="219" filterUnits="userSpaceOnUse">
<feTurbulence type="fractalNoise" baseFrequency="0.15" numOctaves="2" seed="6" result="t"/>
<feDisplacementMap in="SourceGraphic" in2="t" scale="5" xChannelSelector="R" yChannelSelector="G"/>
</filter></defs>
<g clip-path="url(#cC)"><rect x="987" y="268" width="209" height="209" fill="#f5f9f4"/>
<rect x="987" y="268" width="209" height="209" fill="#fff" filter="url(#nC)"/>
<path d="M1174.7 379.8l2.2 1.6M1174.7 379.8l-17.1 3.4M1175.2 394l-16 .7M1175.2 394l2.3-1M1157.6 383.2l1.6 11.5M1159.7 368.1l-1.5-15.5M1159.7 368.1l8.4 1.7M1168.1 369.8l4.5-3.3M1172.6 366.5l3.8-9.2M1168.8 348.7l7.6 8.6M1174.7 379.8l-6.6-10M1184 375.6l-7.1 5.8M1176.4 357.3l12.8 2.3M1185.3 370.3l5-7.1M1082.2 350.1l-16.7-4.2M1084 349.6l-1.8 .5M1084 349.6l2.1-10.5M1086.1 339.1l-7.9-4.5M1078.2 334.6l-12.2 7.3M1066 341.9l-.8 3.4M1065.5 345.9l-.3-.6M1082.2 350.1l-5.6 15.4M1062.4 356.6l3.1-10.7M1062.4 356.6l8.3 10.4M1076.6 365.5l-5.9 1.5M1019.4 308.5l-1.1 19.3M1019.4 308.5l1.6-1M1033.2 318.9l-12.2-11.4M1033.2 318.9l-14.5 9.1M1018.3 327.8l.4 .2M1045.1 341.1l20.1 4.2M1045.1 341.1l-2.6 8M1057.5 358.9l-15-9.8M992.3 298l-10.3-3.2M994.7 304.8l-2.4-6.8M994.7 304.8l-12.7 7.7M1040.5 330.4l17.4-6.2M1040.4 330.4l.1 0M1037 321.4l8.7-12.5M1037 321.4l3.4 9M1056.5 309.3l1.4 14.9M1040.5 330.4l4.6 10.7M1066 341.9l-2.5-15M1057.9 324.2l5.6 2.7M1158.8 335.5l-8.2-8.8M1158.8 335.5l15.8-1M1167 320.4l-15.3 3.6M1167 320.4l8.7 6.3M1150.6 326.7l1.1-2.7M1175.7 326.7l-1.1 7.8M1142.5 335.8l8.1-9.1M1154.8 351l-12.3-15.2M1155.4 351.1l-.6-.1M1155.4 351.1l3.4-15.6M1155.4 351.1l2.8 1.5M1175 338.7l-.4-4.2M1175 338.7l-6.2 10M1177.5 393l1.9 .9M1176.2 413l10.2-3.7M1171.5 407.9l4.7 5.1M1171.5 407.9l3.7-13.9M1186.4 409.3l-7-15.4M1190.9 446.8l6.7-4.5M1181.8 443.6l9.1 3.2M1181.8 443.6l-7.3-7.3M1197.6 442.3l-4.9-14.4M1128.7 351l5.5-14.5M1128.7 351l-10.8-.6M1117.9 350.4l-2.5-2.2M1115.4 348.2l-.6-13.3M1114.8 334.9l15.6-2.6M1134.2 336.5l-3.8-4.2M1131.8 356.8l-3.1-5.8M1131.8 356.8l9.2 1.2M1142.5 335.8l-8.3 .7M1141 358l13.8-7M1101.6 380.5l-2.9-18.3M1101.6 380.5l-14.2 4.9M1087.4 385.4l-1.5-.9M1085.9 384.5l-.8-15M1085.1 369.5l12.1-8.5M1076.6 365.5l8.5 4M1070.7 367l-4.7 13M1066 380l12.4 5.1M1078.4 385.1l7.5-.6M1095.8 355.5l1.4 5.5M1111.2 362.8l-12.5-.6M1111.2 362.8l6.7-12.4M1101.8 347.4l13.6 .8M1101.8 347.4l-6 8.1M1039.6 352.3l2.9-3.2M1039.6 352.3l-15.4-6.3M1027.4 336.4l-3.2 9.6M1018.7 328l6.3 7M1081.7 464.8l6.1-6.5M1087.8 458.3l-.4-2.1M1070.9 460.9l5.1-16.3M1070.9 460.9l3.1 3.2M1074 464.1l7.7 .7M1087.4 456.2l-11.4-11.6M1111.2 362.8l3.7 4.1M1101.6 380.5l8.5 3.6M1131.8 356.8l-3.9 11M1127.9 367.8l-13-.9M1191.6 275.1l3-12.1M1191.6 275.1l1.3 1.8M1192.9 276.9l8.1 0M1078.2 334.6l-.4-12.5M1063.5 326.9l9.2-4.8M1077.8 322.1l-5.1 0M1061.3 291.7l5.4-3.2M1061.3 291.7l-3.5 16.3M1074 305.9l-6.2 4.7M1074 305.9l-2.7-14.5M1071.3 291.4l-4.6-2.9M1049.3 289.9l12 1.8M1039.2 297.4l10.1-7.5M1045.7 308.9l-6.5-11.5M1056.5 309.3l1.3-1.3M1072.7 271.4l16.6 3.6M1072.7 271.4l-5.2 9.4M1089.8 293.6l-.5-18.6M1067.5 280.8l-.8 7.7M1089.8 293.6l-18.5-2.2M1072.7 322.1l-4.9-11.5M1113 333.7l-12.3 2.2M1112.4 319.1l-17.5 11.2M1100.7 335.9l-5.7-5.2M1095 330.7l-.1-.4M1114.8 334.9l-1.8-1.2M1086.1 339.1l8.9-8.4M1095.2 270.9l.9-7.9M1089.3 275l5.9-4.1M1072.7 271.4l-1.4-8.4M1053.3 273.1l14.2 7.7M1053.3 273.1l2.3-10.1M1130.4 332.3l-1.2-6.2M1148.7 319.3l3 4.7M1148.7 319.3l-8-5.5M1140.7 313.8l-11.5 12.3M1115.5 311.8l.3-.1M1129.2 326.1l-13.4-14.4M1165.8 306.5l-6.3-3.4M1155.3 306l4.2-2.9M1174.5 436.3l-3.1-1.8M1164.2 443.2l7.2-8.7M1181.8 443.6l-8.5 12.4M1190.6 455.3l-14.4 7.9M1173.3 456l2.9 7.2M1087.7 473.8l-6-9M1087.7 473.8l-.4 .6M1071.3 478.2l1.9 3.5M1087.3 474.4l-14.1 7.3M1087.3 474.4l0 7.6M1073.2 481.7l0 .3M1175 338.7l14.8 7.2M1189.2 359.6l1.3-3.6M1189.8 345.9l.7 10.1M1171.5 407.9l-15.4 2.7M1156.1 410.6l14 15.4M1171.4 434.5l-1.4-4.5M1164.2 443.2l-16.6-6M1149.2 430.2l20.8-.2M1192.7 427.9l.5-5.4M1193.2 422.5l-1.9-2.7M1191.3 419.8l-20.9 7.3M1170 430l.4-2.9M1186.4 409.3l3.8 2M1190.2 411.3l1.1 8.5M1170.1 426l.3 1.1M1094.8 401.3l1.3 7.8M1110.7 396.7l-15.9 4.6M1113 414.3l-1-15.3M1110.7 396.7l1.3 2.3M1113 414.3l-6.8 5.2M1096.1 409.1l10.1 10.4M1197.6 442.3l3.4 0M1193.2 422.5l7.8 0M1190.2 411.3l4.6-3M1194.8 408.3l6.2 0M993 281.1l-2.9-18.1M982 282.9l11-1.8M992.3 298l1.6-16.2M993 281.1l.9 .7M1094.8 401.3l-1.2-.7M1084.9 418.5l11.2-9.4M1078.7 410.5l14.9-9.9M1110.7 396.7l2.1-9.6M1110.1 384.1l2.7 3M1087.4 385.4l2.1 8.9M1075.8 442.6l1-2.3M1075.8 442.6l-12.9 2.5M1048.2 434.6l7.8-9.4M1056 425.2l20.8 15.1M1025 335l-9.5 2.1M1024.2 346l-6.1 5.3M1018.1 351.3l-2.6-14.2M1025.9 367.7l-16 5.2M1025.9 367.7l-8.4-15.6M1003.8 350.5l13.7 1.6M1009.9 372.9l-7.3-14.2M1003.8 350.5l-1.3 2.6M1057.9 381.9l-13.2 4.4M1057.9 381.9l-6.7-15.5M1044.7 386.3l-12.7-7.1M1030.2 369.8l6.8-5.3M1066 380l-6.1 2.4M1057.5 358.9l-6.3 7.5M1059.9 382.4l-2-.5M1025.9 367.7l4.3 2.1M1017.5 352.1l.6-.8M1061.4 392l-10.4 15.3M1061.4 392l10.4 10.8M1071.8 402.8l.5 1.5M1055.6 414.7l-3.7-3.6M1072.3 404.3l0 .2M1051.9 411.1l-.9-3.8M1059.9 382.4l1.5 9.6M1043.7 398.3l7.3 9M1044.7 386.3l-1 12M1056.9 421.4l12.8 .2M1056.9 421.4l-1.3-6.7M1121.9 466.6l-5.7-11.5M1107.4 454.5l8.8 .6M1101 462.7l6.4-8.2M1101 462.7l-.8 8M1114.8 474.6l-14.6-3.9M1087.7 473.8l10.5-.4M1098.2 473.4l1.6 8.6M1098.2 473.4l2-2.7M1117 474.4l1.9 7.6M1114.8 474.6l-5.7 7.4M1127.9 367.8l1.8 5M1127.4 384.1l2.3-11.3M1141 358l5.8 14.4M1129.7 372.8l17.1-.4M1113 414.3l9.7 2.1M1112 399l18.3 4.2M1130.3 403.2l.3 1.7M1149.2 430.2l-4.6-10.3M1146.7 414.9l-2.1 5M1175.7 326.7l3.1-1.5M1165.8 306.5l3.2-2.1M1169 304.4l13 6.2M1178.8 325.2l3.2-14.6M1169 304.4l9-11.1M1178 293.3l9.4 1.7M1187.4 295l.4 .6M1187.8 295.6l1.9 6.5M1182 310.6l7.7-8.5M1190.2 325l10.8 0M1189.7 324.6l9.3-13.5M1199 311.1l2 0M1197.9 336l3.1 0M1197.9 336l-7.7-11M1178.8 325.2l10.9-.6M1197.9 336l-6 8.3M1189.8 345.9l2.1-1.6M1189.7 302.1l9.3 9M1187.8 295.6l13.2 0M1191.3 288.2l9.7 0M1191.3 288.2l-3.9 6.8M1192.9 276.9l-1.6 11.3M1095.2 270.9l15.6 9.4M1114.4 278.6l-5.9-15.6M1110.8 280.3l-2.8 5.5M1089.8 293.6l.9 .8M1108 285.8l-5.6 6M1090.7 294.4l11.7-2.6M1115.5 311.8l-.7-.3M1115.8 311.7l2.4-2.3M1114.8 311.5l-12.4-19.7M1108 285.8l14 16.8M1122 302.6l-3.8 6.8M1140.7 313.8l-.4-1M1155.3 306l-14.2-.3M1140.3 312.8l.8-7.1M1159.5 303.1l-3.5-7.7M1156 295.4l10-12.5M1169.2 281.8l1.4-3.8M1151.4 277.9l14.6 5M1151.4 277.9l-1.6-13.1M1149.8 264.8l20.8 13.2M1191.6 275.1l-17.5-3.1M1174.1 272l-3.5 6M1120.2 470.6l8.2 7.8M1133.1 478.9l0 3.1M1133.1 478.9l-4.7-.5M1162.4 450.3l-5.6 4.7M1142.5 443.4l5.1-6.2M1156.8 455l-12-2M1133.1 478.9l6.7-9.1M1144.6 482l-1-9.6M1143.6 472.4l-3.8-2.6M1121.9 466.6l16.6 .4M1121.1 450.5l19.7 7.4M1140.8 457.9l-2.3 9.1M1139.8 469.8l-1.3-2.8M1191.9 344.3l9.1 3.4M1190.5 356l10.5-2.3M1190.3 363.2l10.7 5.4M1103.2 424.8l-16.5 3.2M1103.2 424.8l2.2 14.5M1105.4 439.3l-3 7M1086.7 428l-2.7 3.8M1102.4 446.3l-6.5-1.5M1095.9 444.8l-12.9-9.5M1084 431.8l-1 3.5M1084.9 418.5l1.8 9.5M1069.7 421.6l14.3 10.2M1087.4 456.2l8.5-11.4M1075.8 442.6l.2 2M1056 425.2l.9-3.8M1184 375.6l9.8 6.3M1193.8 381.9l7.2-8.6M994.8 304.8l-.1 0M994.8 304.8l8.7-8.1M1003.5 296.7l4.2-11.6M993.9 281.8l8.4 .1M1002.3 281.9l8.9-18.9M1026.5 432.6l-5.1 7.1M1026.5 432.6l-17.4-9.6M1021.4 439.7l-16-5.6M1009.1 423l-3.4 2.2M1005.7 425.2l-1.4 3.2M1004.3 428.4l1.1 5.7M1060.2 461.2l-1.2-1.9M1060.2 461.2l-4.8 9.8M1059 459.3l-15.2-9.4M1055.4 471l-.5 .2M1039.3 469.8l-3.5-8.5M1035.8 461.3l-1.3-4.2M1036.4 454.9l-1.9 2.2M1070.9 460.9l-10.7 .3M1071.3 478.2l-8.9-2.7M1062.4 475.5l-7-4.5M1048.5 438.4l-4.7 11.5M1048.2 434.6l-14.9-6.1M1026.9 432.5l9.5 22.4M1033.3 428.5l-6.4 4M988.5 433.1l15.8-4.7M988.5 433.1l-5.1-20.8M990.8 413.6l-7.4-1.3M983.4 412.3l-1.4-.8M982 434.3l5.3 0M987.3 434.3l1.2-1.2M1002.6 358.7l-10.8 14.6M1009.9 372.9l-5.5 8.4M1004.4 381.3l-4.9-.4M999.5 380.9l-7.7-7.6M1002.5 353.1l-15.1 6.2M987.4 359.3l.9 12.9M991.8 373.3l-3.5-1.1M1014.6 406.2l14.3-12.1M1014.6 406.2l-4.1-5.2M1010.5 401l.4-10.8M1010.9 390.2l17.7-6.7M1028.6 383.5l.3 10.6M990.6 390.4l8.9-9.5M989.5 395.8l15.3 5.9M1004.8 401.7l5.7-.7M989.5 395.8l1.1-5.4M1032 379.2l-3.4 4.3M1043.7 398.3l-8.7 2.4M1035 400.7l-6.1-6.6M982 356.2l5.4 3.1M988.3 372.2l-6.3 1.8M1034.5 457.1l-1.5-.1M987.3 434.3l1.8 7.8M989.1 442.1l-7.1 10M1005.4 434.1l-.5 15.4M989.1 442.1l15.8 7.4M1020.2 444.3l-15.1 5.8M1004.9 449.5l.2 .6M1039.3 469.8l-7.8 12.2M1041.8 470.6l4.5 11.4M984 341.7l19.2 7.7M984 341.7l11.4-13.8M1003.2 349.4l2.1-15.8M995.4 327.9l7.2-.5M1002.6 327.4l2.2 3M1003.8 350.5l-.6-1.1M1015.5 337.1l-10.2-3.5M1018.3 327.8l-13.5 2.6M1005.6 312.6l-3 14.8M1005.6 312.6l-10.8-7.8M1019.4 308.5l-13.8 4.1M1029.2 410.3l4.7 5.1M1012.8 415.5l2.5-7.5M1012.8 415.5l20.2 9.7M1033 425.2l.9-9.8M1014.6 406.2l.7 1.8M1004.8 401.7l-14 11.9M1033.3 428.5l-.3-3.3M1139.8 392.4l13.9-16.9M1139.8 392.4l-5-.9M1134.8 391.5l-2.3-3.2M1132.5 388.3l16.1-14.7M1148.6 373.6l5 1.4M1154 400.5l-14.2-8.1M1157.6 383.2l-3.9-7.7M1130.6 404.9l16.1 10M1127.4 384.1l5.1 4.2M1146.8 372.4l1.8 1.2M1127.1 422.6l8.7 .5M1127.1 422.6l-5.4 11.8M1121.7 434.4l.2 1.8M1144.6 419.9l-8.8 3.2M1122.7 416.4l4.4 6.2M1104.8 423.1l16.9 11.3M1142.5 443.4l-7.1-2.9M1105.4 439.3l16.5-3.1M1121.1 450.5l3.5-9.5M1144.8 453l-4 4.9M1090.6 303.1l21.9 8.4M1090.6 303.1l-4.4 10.5M1112.5 311.5l-23.8 8.2M1086.2 313.6l.3 4.4M1088.7 319.7l-2.2-1.7M1090.7 294.4l-.1 8.7M1074 305.9l12.2 7.7M1094.9 330.3l-6.2-10.6M1077.8 322.1l8.7-4.1M1125.3 299.4l-3.1-22M1127 274.1l-4.8 3.3M1174.1 272l-1.1-9M1149.8 264.8l-.6-1.8M1161.4 470.2l-2.9 2.3M1161.4 470.2l7.6 .9M1169 471.1l0 10.9M1158.5 472.5l-1 9.5M1156.8 455l4.6 15.2M1143.6 472.4l14.9 .1M1176.2 463.2l-1.8 6.3M1174.4 469.5l1 .7M1175.4 470.2l0 11.8M1192.6 458.4l.7 3.9M1193.3 462.3l-1.3 6.2M1190.6 455.3l2 3.1M1192 468.5l-13.2 3.4M1192.6 458.4l8.4 0M1193.3 462.3l7.7 2.5M1196 400l5-1.4M1196 400l-3.6-9.2M1192.4 390.8l2.3-2.2M1194.7 388.6l6.3 .6M1194.8 408.3l1.2-8.3M1179.4 393.9l13-3.1M1193.8 381.9l.9 6.7M1007.7 285.1l5.6 1M1003.5 296.7l16.2 2M1039.2 297.4l-7.3-.7M1021 307.5l1.5-5.1M1031.9 296.7l-9.4 5.7M1018.7 461.6l14.3-4.6M1018.7 461.6l-.1 9M1035.8 461.3l-12.5 11.9M1018.6 470.6l4.7 2.6M1023.3 473.2l8.1 8.8M989.5 395.8l-7.5 6.5M990.6 390.4l-8.6-6.5M1012.4 476.6l-10.1-3.4M1002.3 473.2l-2-3.8M1014.9 475.7l-2.5 .9M1014.9 475.7l3.7-5.1M1000.3 469.4l6.6-12.2M1005.1 450.1l-.1 1.3M1006.9 457.2l-1.9-5.8M1005 451.4l-23 5.2M988.1 476.2l-3.3 5.8M993.2 482l-5.1-5.8M1062.4 475.5l-1.8 6.5M1054.9 471.2l-1.3 10.8M1139.2 298.9l-1.1-.7M1139.2 298.9l12.9-4.6M1152.1 294.3l-5-12.2M1147.1 282.1l-9.5 .9M1141.1 305.7l-1.9-6.8M1125.3 299.4l12.8-1.2M1156 295.4l-3.9-1.1M1127 274.1l10.6 8.9M1024.6 273.4l-1.5-10.4M1024.6 273.4l6.2 5.8M1044.1 278.6l1.9-3.6M1031.9 296.7l-1.1-17.5M1049.3 289.9l-5.2-11.3M1053.3 273.1l-7.3 1.9M1002.3 473.2l-1.7 8.8M1000.3 469.4l-11 0M988.1 476.2l1.2-6.8M1192 468.5l3.2 4.5M1178.8 471.9l6 9.5M1195.2 473l-.5 3.2M1184.8 481.4l0 .6M1194.7 476.2l1.9 3.2M1196.6 479.4l4.4 0M1196.6 479.4l0 2.6" stroke="#3f9a40" stroke-width="1.2" fill="none" stroke-dasharray="1.2,1.4" opacity="0.8" filter="url(#wC)"/>
</g>
<rect x="987" y="268" width="209" height="209" fill="none" stroke="#555" stroke-width="1.2"/>
<rect x="718" y="13" width="210" height="209" fill="none" stroke="#777" stroke-width="0.9"/>
<rect x="983" y="13" width="210" height="209" fill="none" stroke="#777" stroke-width="0.9"/>
<rect x="876" y="213.2" width="42.8" height="3.3" fill="#fff"/>
<text x="897.4" y="210.5" font-size="14.7" fill="#fff" text-anchor="middle" >5 μm</text>
<rect x="1141" y="215.2" width="45" height="3.3" fill="#fff"/>
<text x="1162" y="209" font-size="14.7" fill="#fff" text-anchor="middle" >5 μm</text>
<rect x="877.9" y="466.7" width="43.4" height="3" fill="#fff"/>
<text x="899" y="463.3" font-size="14.5" fill="#fff" text-anchor="middle" >5 μm</text>
<rect x="1146" y="467.2" width="43" height="3.6" fill="#000"/>
<text x="1167" y="460.4" font-size="14.5" fill="#111" text-anchor="middle" >5 μm</text>
<defs>
<linearGradient id="cbH"><stop offset="0" stop-color="#000"/><stop offset="0.22" stop-color="#000"/><stop offset="0.5" stop-color="#5a0000"/><stop offset="0.62" stop-color="#8a2a00"/><stop offset="0.75" stop-color="#b87000"/><stop offset="0.86" stop-color="#d4a030"/><stop offset="0.96" stop-color="#fff8b0"/><stop offset="1" stop-color="#fffbe0"/></linearGradient>
<linearGradient id="cbP"><stop offset="0" stop-color="#000"/><stop offset="0.2" stop-color="#000"/><stop offset="0.5" stop-color="#5a0800"/><stop offset="0.65" stop-color="#8a3000"/><stop offset="0.8" stop-color="#c07800"/><stop offset="0.92" stop-color="#e8c040"/><stop offset="1" stop-color="#fff4a0"/></linearGradient>
<linearGradient id="cbD"><stop offset="0" stop-color="#000"/><stop offset="0.25" stop-color="#100000"/><stop offset="0.5" stop-color="#5a0a00"/><stop offset="0.68" stop-color="#9a4000"/><stop offset="0.82" stop-color="#c89020"/><stop offset="0.93" stop-color="#f8e890"/><stop offset="1" stop-color="#fffde0"/></linearGradient>
<linearGradient id="cbC"><stop offset="0" stop-color="#3f9a00"/><stop offset="0.45" stop-color="#409a08"/><stop offset="0.7" stop-color="#9ac890"/><stop offset="1" stop-color="#fff"/></linearGradient>
</defs>
<rect x="749" y="228" width="131" height="14" fill="url(#cbH)"/>
<rect x="1024.7" y="228" width="129" height="14" fill="url(#cbP)"/>
<rect x="762" y="484" width="131" height="14" fill="url(#cbD)"/>
<rect x="1038" y="484" width="100" height="14" fill="url(#cbC)"/>
<text x="743.8" y="245.2" font-size="14.2" fill="#111" text-anchor="end" >-100 nm</text>
<text x="884.5" y="245.2" font-size="14.2" fill="#111" text-anchor="start" >100 nm</text>
<text x="1019" y="245.2" font-size="14.2" fill="#111" text-anchor="end">-15 <tspan font-size="10" dy="-5">o</tspan></text>
<text x="1156" y="245.2" font-size="14.2" fill="#111">15 <tspan font-size="10" dy="-5">o</tspan></text>
<text x="818" y="259.7" font-size="14.4" fill="#111" text-anchor="middle" >(i) Height</text>
<text x="1083" y="259.7" font-size="14.4" fill="#111" text-anchor="middle" >(ii) Phase</text>
<text x="757.5" y="497.3" font-size="14.2" fill="#111" text-anchor="end">10<tspan font-size="9.5" dy="-5.5">6</tspan><tspan dy="5.5"> Pa</tspan></text>
<text x="896" y="497.3" font-size="14.2" fill="#111">10<tspan font-size="9.5" dy="-5.5">9</tspan><tspan dy="5.5"> Pa</tspan></text>
<text x="825.8" y="518.7" font-size="14.4" fill="#111" text-anchor="middle" >(iii) Log(DMT modulus)</text>
<text x="1034.7" y="497" font-size="14.2" fill="#111" text-anchor="end" >-10.0 pA</text>
<text x="1157.7" y="497.3" font-size="14.2" fill="#111" text-anchor="start" >0.0 pA</text>
<text x="1090.5" y="517.8" font-size="14.4" fill="#111" text-anchor="middle" >(iv) Current</text>
<text x="902" y="561.8" font-size="30.5" fill="#000" text-anchor="start" font-weight="bold" >f</text>
<defs><clipPath id="cF1"><rect x="926.1" y="568" width="124.8" height="196.1"/></clipPath>
<filter id="bF1" x="920.1" y="562" width="136.8" height="208.1" filterUnits="userSpaceOnUse">
<feTurbulence type="fractalNoise" baseFrequency="0.3" numOctaves="1" seed="31" result="t"/>
<feDisplacementMap in="SourceGraphic" in2="t" scale="2.5" xChannelSelector="R" yChannelSelector="G"/>
<feGaussianBlur stdDeviation="0.6"/></filter></defs>
<g clip-path="url(#cF1)"><g filter="url(#bF1)"><rect x="921.1" y="563" width="134.8" height="206.1" fill="#454c32"/>
<path d="M1008.8 751.2h0m-10.3-157.3h0m-33.8 24.6h0m81.3 31.9h0m-34.6-82.2h0m-64.9 109.2h0m-7.6 61.3h0m-3.5 .8h0m59.3-75h0m51.8-73.5h0m-85.7 94.2h0m43.8-87.6h0m-48.6 157.8h0m20.1-166h0m-37 7.6h0m8.3 30.2h0m86.7 95.3h0m-106.8-66.5h0m32.7 90.9h0m62.1-2.5h0m2.8-131.1h0m22.8 82.1h0m-76.2 15.7h0m11.5-62.5h0m-22.3 47.8h0m-7-34.7h0m-17.2-31.4h0m15.8-15.3h0m60.9 100h0m-10.4-139.3h0m4.2 133.2h0m21.6-111.9h0m-.8 77.9h0m-40.3 27.3h0m35.7-3.4h0m-87.9-88.1h0m113.2-14.3h0m-62.7 32.1h0m-29.9-42.6h0m30.9 0h0m17.9 158.4h0m-12.1-28.4h0m-41.9-17.8h0m-19.5-81.7h0m27.5 125h0m13.2-23.7h0m64.4 31.4h0m-40.3-109.7h0m-8.2 81.3h0m10.9-.8h0m-55.9-10.8h0m53.4 20.4h0m-23.4-89.3h0m-4.7-28.2h0m-38.4 79h0m14.7 66.4h0m-13-115h0m97-46.6h0m-57.5-15.5h0m65.6 29.3h0m-15.6 25.8h0m-69.9 89.8h0m93.5-98.2h0m-96.1-29.1h0m19.1 90.9h0m-40.2-15.6h0m35.6 66.7h0m-17.1-130.8h0m101.7 9.2h0m-44.2 50.4h0m35.5 74.7h0m-34.5-141.9h0m-10.7-23.8h0m-53.4 169.2h0m62.7-21.6h0m39.2-56h0m-109.3-45.3h0m102.6 117.9h0m-86.8-150.8h0m26.9 157.3h0m-48.3-86.5h0m83.2-33.2h0m-18.5 43.6h0m-57.3 90.6h0m8.7-100.5h0m38.1 27.9h0m-38.8-91.9h0m21.5-24h0m21.1 81.3h0m44.1-30.6h0m-13.6-6.9h0m-74.1 57.8h0m40.9 41.6h0m28.4 42.7h0m24.6-146.8h0m-60.9 56.9h0m33.2 23.6h0m37.5-29.9h0m-8.1-2.8h0m-68.6-16.8h0m14.6 102.5h0m5.8-57.4h0m-39 8.4h0m80.3 9.3h0m-45.1-114.6h0m2.5 3.8h0m13.6 16.5h0m44.5 114.2h0m-3-39.8h0m-83.2-61.6h0m27.4 101.8h0m39 21.6h0m-35.4-80.9h0m-32.9-44.3h0m.8 98.9h0m45.5-96h0m-19.7 127.6h0m2.8-89.9h0m8.9 9.2h0m20.4 83.5h0m-38.5-35.6h0m3.3-108.3h0m-32.2 9.2h0m86.8-43.9h0m-74.1 164.4h0m34.4-127.5h0m-8.7 43.9h0m-53.3 101.4h0m104.6-20.5h0m-79.1 21.8h0m7-42.3h0m-22.9-143.1h0m17.3 16.7h0m88.9 58.8h0m-51.1 65.7h0m21.9-116.8h0m-69.4 156.2h0m-6.8-91.7h0m-10.8-39.2h0m108.6 125.1h0m-25.5-172.1h0m-7.3 168.2h0m-23.9-4.3h0m-47.6-28.3h0m11.5-21.5h0m75.9 27h0m-68.3-142.8h0m26.1 57.5h0m-30.4-46.7h0m20.4 91h0m14.9 13.7h0m-44.9 20.2h0m66.8-70.2h0m-4.3 32.3h0m-37.1-102.3h0m66.7 105.1h0m-2-47.5h0m4.1-42.4h0m-103.1 47.5h0m35.6-34.1h0m36.8 156h0m-63.1-116.2h0m71.5 68.2h0m-19.7-86.1h0m-9.1 26.8h0m20.8 15.2h0m-65-2.6h0m41.6 86.2h0m10-74.9h0m-26.7-84.5h0m1.2 114.2h0m14.9-71.6h0m-22.8-55.2h0m79.1 43.1h0m-64.5-34.7h0m-27 128.8h0m-3.7-51h0m58.9 62.3h0m15-117.6h0m-19.2 105.2h0m-53.8-108.6h0m46.4 36.6h0m4.1 101.9h0m-66.2-37.4h0m32.7-69.6h0m49.8 68h0m-45.3-56.5h0m-32.2 12.2h0m78.5-73.4h0m-80.5 97.1h0m18.1-5.7h0m29.4-71.2h0m16.1 140.8h0m31.3-57.9h0m-17.6 3.5h0m-2.2-22.6h0m-74 68.2h0m109.9-102.7h0m5.7-4.7h0m-63.3-16.8h0m60.7 15.3h0m-42.3-47h0m-23 118.4h0m16.5 32.1h0m-3 15.3h0m3.7-39.1h0m31.3 33.2h0m-102.2-168.7h0m48.4 179.3h0m8.3-141.3h0m-52.6 3.8h0m7.5 96.5h0m26.5 35.9h0m63.9-154.1h0m-34.7 103.8h0m35 24.7h0m17-85.4h0m-27 16.6h0m.1 10.4h0m-77.9-39.9h0m62.3 58.9h0m37.4-15.5h0m-47-78.4h0m-29.7 18.9h0m84.3 123.2h0m-24.7-79.6h0m-65 87.2h0m84.6-88.2h0m-64.6-79.4h0m-31.4 189.4h0m12-77.3h0m30.8 34.5h0m23.8-44.5h0m21.9 50.3h0m4.9-1.2h0m-55.8-61.1h0m-34 26.4h0m-22.5-115.4h0m103-2.3h0m18 141.9h0m-25.8 29.6h0m-60.3-155.2h0m61 137.2h0m6.8 40h0m-23.4-92h0m41.7 48.6h0m-3.3 8.3h0m-38.6-85.2h0m-76.6 19.9h0m114.7-14.9h0m-96.4 25h0m-10.7 45.9h0m68.2-130.8h0m28.5 152h0m-10.8-78.6h0m-62.1-4.7h0m-28.1 61.4h0m75.5-128.2h0m-3.8 82.8h0m31.5 52.9h0m11.3-153.4h0m-122.3 32.7h0m118.7 3.1h0m-43.7 26.5h0m17.7-56.5h0m-84.6-9.2h0m103.5 122.6h0m-38.5-49.6h0m27.8 105.3h0m15.5-38.3h0m-84.4-76.7h0m-31.8-42.2h0m27.6 74.7h0m17.7-36.4h0m8.2 5.4h0m25.9-34.6h0m24.4 120.3h0m-72.7 12.6h0m-15.5-62.1h0m39.9-33.3h0m13.2 103.1h0m42-121h0m-14.3-22.6h0m-11.5 124.1h0m-81.1-128.3h0m108.9 141.6h0m6.9-37.3h0m-98.9-30.3h0m-2.2 27h0m-14.6 69.9h0m46.3-29.2h0m-8.6-95.2h0m60.8-36.2h0m-87.4 17.4h0m-8.8-27.9h0m78.4 14.1h0m-56.1-28.4h0m-15.6 75.5h0m81 101.9h0m-51.7-72.2h0m-6.6 46.3h0m66.3-20.5h0m-47.5 39.9h0m64.5-162.6h0m-23.1 119h0m-73.7-123.3h0m4.5 51.4h0m-.4 44.5h0m49.8-83.8h0m-59.7 83.4h0m35.4-67.3h0m34.4-.5h0m-14.1 40.7h0m-60.2-41.5h0m93.1 132.8h0m-98.7-4.7h0m90.8 20.7h0m13.8-104.9h0m-6.2 70.1h0m-40.4-41.5h0m-47.3 7.7h0m-9.4-18.9h0m26.5 37.7h0m-5.7 25.3h0m29.2-34.4h0m41.3-9.4h0m24.3 55.6h0m-32-2.6h0m-41.7 18.9h0m-28.7-166.8h0m83.2 126h0m-50.3-150h0m-21.7 6.5h0m89.8 28.7h0m-42.7 96.3h0m36.4-14.1h0m-24.1-50.3h0m-27.2 61.7h0m-7.6 34.1h0m-3.8 5.7h0m-40.9-165.9h0m36.8 6.7h0m73.1 131.1h0m-81.8-102.6h0m4.6 64.4h0m33.3-11.2h0m-77.4 27.6h0m75.6-97.9h0m15 19.3h0m-83.2-33.9h0m82.3 117.1h0m-64.5-33h0m21.9-42.6h0m33.6 54h0m-37.6-70.4h0m2.6-31.5h0m1.8 50.5h0m7.8 109h0m43.8 20.9h0m-1.2-158.2h0m-79.5 40.2h0m30.2 123.3h0m46.9-178h0m8.2 117.4h0m4.5-44.1h0m-67.6 104.7h0m10.5-129.5h0m-35.6 70.4h0m79.2-108.5h0m-13.2 137.3h0m-71.4-117.9h0m25.6 98.5h0m81.1-22.2h0m-62.5 17.5h0m67.9-89.7h0m-12.4 124.5h0m-58.7-76.4h0m47.1 74.8h0m-13.5-90.1h0m18.4-32.4h0m-68.8-35.5h0m-18.2 184.6h0m82.4-29.2h0m-89.2-41.1h0m112.9-105.5h0m-107.1-9.1h0m55.6 176.5h0m-38.4-45.1h0m69.7-57h0m-3-12.8h0m19.1 38.6h0m-54.6 34.1h0m-8.9-43h0m53.9-51.8h0m-35.1 68.3h0m46.9-65.5h0m-22.7 126.3h0m-86.8-93h0m7.3-74h0m-13.8 160.6h0m91.9-71.8h0m-19.7-81.2h0m-50.5 147.1h0m-9.4-45.6h0m69-69.3h0m-42.4 141.3h0m20-188.9h0m-47.2 166.9h0m19.3-144.7h0m28.7 110.7h0m-58-76.1h0m2.7-11.7h0m7.2 20.1h0m6.4-44.7h0m29.8 163.1h0m1.6-161.3h0m-1.8 137.2h0m-41.9 13.8h0m103.8 14.3h0m7-162.2h0m-40.5 67.7h0m14-87.1h0m21.1 183.7h0m-13.9-191.6h0m-9.8 52.9h0m13.2-20.8h0m-25.7 160.5h0m20.5-99.5h0m-83.8-41.4h0m58.1-49.3h0m-21.2 114.8h0m-45.2-12.1h0m94.5-37.2h0m-73.1-56.6h0m6.7 70.3h0m76.6 32.8h0m-112.4 75.9h0m120.7-17h0m-119.3-59.4h0m77.7-34.3h0m-10 73.5h0m-40.8-125.1h0m28.8 124.6h0m15.2-3.5h0m48.5 44h0m-114.5-106.2h0m16.5-17.6h0m63.5 6.5h0m-18 60.2h0m2.2-39.3h0m10.1-59.2h0m-2.9 145.4h0m32.2-53.6h0m1.5-128.5h0m-41.7 72.7h0m-52.7-71.1h0m65.4 172.7h0m13.5-68.6h0m-40.8 65.5h0m19.4-91h0m-30-15.6h0m-22-42.2h0m97.1 107.3h0m-71.1 14.9h0m1.2-65.3h0m45.3-68.3h0m-75.8 31.5h0m42.5-36.6h0m16.9 114.7h0m-7.3-47.9h0m-52.1 1.5h0m57.1 17.6h0m-75.5-42.8h0m109.3 22.6h0m-50.5-27.5h0m41.2 123.6h0m10.8-112.3h0m-101.9 47.1h0m.8 31.6h0m40.5 44.2h0m-50.4-96.1h0m108.1 35.9h0m-81.9-43h0m44.5-68.5h0m36 99.3h0m-98.2-79.1h0m46.6 63.2h0m-5.7-75.2h0m-1 116.5h0m-20-131.2h0m26.1 3h0m-44.3 32.9h0m98.9 135.1h0m8.8-113.1h0m-70.8 46.9h0m-39.4-22.7h0m18.3-10.7h0m84.9 40.6h0m-24.9-57h0m11.7 91.8h0m-46.6-56.9h0m-7.9 29.2h0m2.2 45.2h0m.6-110.1h0m-9.1-43.7h0m-29 25h0m6.6 130.7h0m16.1-46h0m-8.4 3.3h0m61 25.7h0m28.9-105.6h0m-33.2 3.6h0m-18.8 60.1h0m-41.4-61.9h0m20.7 62.1h0m65.8-98.1h0m9.9 148.5h0m-55.1-111.1h0m-29.7 146.2h0m-3.9-90.6h0m-2.2 35.9h0m75.7 14.6h0m12.6-90.4h0m-7.7 109.9h0m-56.6-14.3h0m58.7-123.6h0m-49.1-15h0m59.1 147.9h0m-97.8-102.4h0m-17 122.3h0m46.8-63.7h0m-37.5-41.5h0m28 89h0m55-30.7h0m-82.5-91h0m8.7 52.7h0m47.5-79.4h0m27.1 59.6h0m-56-28.3h0m-26.1-32.3h0m100 110h0m-9.2-92.3h0m-105-7.8h0m40.1 60.1h0m77.2 58.8h0m-87.7-8.1h0m-6-109.3h0m26.4 81.8h0m61.7-20.7h0m-41.4-55.6h0m30.7-25.5h0m-54.4 135.4h0m-16.4-39.3h0m57.4 2.7h0m16.8 44.3h0m-15.9 7.1h0m-49.6-52.1h0m6.9-68.7h0m-36.2-32h0m96.1 139.2h0m1-34.2h0m-10.6 2.6h0m-10.8-97h0m26.5 2.8h0m-57.9 152.9h0m44.9-52.5h0m-49.1 31.4h0m-32.7-149h0m-11.3 115.1h0m5.5-60.5h0m40.8-60.9h0m-36.3 171.2h0m97-81.9h0m-53 21.2h0m40.2 80.8h0m-74.9-190.9h0m-.8 17.9h0m-13.9 99.7h0m14.2-27.8h0m47.7 41.5h0m-26.2-19.6h0m-6.4-94.1h0m-21.1 108.2h0m63.4-61.6h0m-55.5 8.6h0m87.5 35.4h0m-34.9-4.1h0m-56-98.6h0m32.7 44.3h0m-54 85.1h0m65.3-102.4h0m-12.6 20.3h0m-9.5 73.6h0m75.8-89.1h0m-73.6 101.6h0m31.5-76.1h0m15.7-44.3h0m-92.6 107.2h0m44.2-86.2h0m45.1 45.1h0m-48.9 3.7h0m50.8 27h0m-65.1 36.2h0m25.7-85.6h0m24.4-60h0m15.8 170.9h0m-91.9-36.9h0m27.7-68.2h0m81.7 8.3h0m-53.2 35h0m22.4-43.6h0m-55.8 38.6h0m.2 81.5h0m56.5-4.8h0m-21.4-53.6h0m47.9 40.7h0m-85.9-167.9h0m59 187.6h0m26.1-7.5h0m-90.8-161.2h0m56.3-10.8h0m20.3 67.9h0m16.8 84.5h0m-8.3 1.5h0m-47.3-147.7h0m35.8 38.7h0m-41.8 2.5h0m-21 13.6h0m-7.6 .7h0m47-8.2h0m-48.3 56.3h0m65.4-54.9h0m-50 28h0m-15.6-84.8h0m79.8 55.5h0m-11.5-47.8h0m-38.5 50.1h0m18.2 107.3h0m-29.5-166.6h0m64.1 86.1h0m-16.3 10.5h0m-72.1-83.1h0m38 91.4h0m24.6-21.6h0m-23.6-29.3h0m12.9-13.3h0m-47.8 6.7h0m-8.7 110.8h0m50.9-58.9h0m29.1-101h0m-21.2 52.4h0m5.6 8.1h0m27.4 96.5h0m-25.6-149.5h0m-9.3 49.6h0m21.1 60.6h0m22.4 8.2h0m-70.3 57.3h0m55.7-63.4h0m-66.6 24.5h0m-7.9-80.2h0m8.9 61.1h0m4.3-100.3h0m55.6 95.9h0m32.8-117.4h0m-21.5 44.4h0m-16.4 85h0m29.6-75.9h0m-16.5 68.1h0m-21 19.4h0m16.6-104.6h0m-49.6 16h0m71.7 126h0m-11.7-164.1h0m-39.3 81.1h0m-15.4-107.1h0m-40.5 155.8h0m41.2-83.2h0m-38.4-45.2h0m34.4 150h0m16-166.3h0m-60.3 166.2h0m53.4-131.2h0m-17 141.5h0m45.8-48.3h0m-58.4 26.4h0m95.5-86.1h0m-13.4 89.8h0m-24.6 7.8h0m-2.4-102.5h0m-18.7 48.1h0m19.7-43.3h0m-75.7-57.7h0m11.3 10.6h0m-7.3 87.1h0m77.9-28.4h0m-76.5-92.1h0m83.9 172.6h0m-65.3-83.2h0m2-26.2h0m27.5-55.3h0m-1.9 139.3h0m-39.1-11.2h0m-4.1-16.8h0m48.1-100h0m29.2 31.2h0m-68.9 36.1h0m71.6-37h0m-61.8 44.9h0m-17-18.6h0m100.1 67.3h0m-86.6-103.6h0m-14.3 35h0m44.2 105.5h0m-9.6-116.8h0m9.8 22.7h0m49.4 58.9h0m-.7-137.2h0m-1.1 77.4h0m-6.7-30.6h0m22.8 128.6h0m-114.1-152.8h0m-4.2-5.2h0m100.3 84.5h0m-9.8 .3h0m-40.7-16.3h0m39.6-90.5h0m-77.2 48.9h0m-7.7-1.7h0m21.4 49.9h0m-7.8 14h0m77.4 67.8h0m9.8-159.7h0m15.1 88.2h0m-72.5-12.5h0m10.1 72.3h0m44.5 22.2h0m-77.5-24.1h0m-26.7-62.9h0m85.1 77.9h0m-38.7-149.7h0m27.4 78.9h0m24.7-57.5h0m-35.1-2.6h0m-21.2 44.3h0m61.1-76.4h0m-90 128.8h0m15.9 36.7h0m70.2-180.5h0m-77.7 41.9h0m59.3 45.4h0m7.7 87.8h0m-40.7-82.8h0m-38.6-44.2h0m91.3 91.4h0m17.6 31.2h0m-89.5-70.2h0m87.4-27.7h0m-64.8 14.6h0m-45.8 83.9h0m31.5-163.6h0m31.4 99.6h0m-24.2-24.6h0m-8.7 90.2h0m25.8 1.8h0m-61.2-30.6h0m80.1-25.6h0m-34.4-10.4h0m51.1 33.3h0m-13.7-136.5h0m34.2 100.8h0m-58.1-13h0m55.7 4.7h0m-35.7 27.5h0m-46-69.2h0m66.2-55.8h0m11.6 21.8h0m-40.6 118.3h0m26.5-130.5h0m11.8 12.2h0m-96.6 57h0m56.1-37.6h0m40.8 86.8h0m-30.8-26.2h0m-44.9-89.7h0m55.3 66.3h0m-52.8 92.3h0m64.7 5.8h0m-73.5-173.3h0m-16.4 76.9h0m23.8-13.7h0m-6.5 24.9h0m86.5 62.5h0m-106.4-114.7h0m109.7 106.7h0m-12.2-133.8h0m-84.6 75.3h0m-9.8 35h0m80.4 17.7h0m7.3 7.7h0m-16.4-57.8h0m-60.5 49.3h0m57.7-84h0m8.5-51h0m-79-.8h0m11.9 94.2h0m20.7-88.9h0m59.5 4.4h0m-8 156.1h0m-19.9-24.2h0m-39.1-21.3h0m78.8 7.9h0m-38.8-74.9h0m-18 89.4h0m-32.4-146.8h0m61.7 152.6h0m-78.2-71.3h0m112.2 14.9h0m-12.7-70.9h0m-53.5 94h0m-27.1 31.3h0m23.4 31.7h0m35.4-47.3h0m-78.6 32.3h0m105.1-153.8h0m-47.8 162h0m52.1-144.2h0m-11.1 80.6h0m-26.8 66.2h0m-12.9-153.3h0m14.1 31.8h0m-11.4 34.1h0m24.3 53.1h0m-11.6-57.1h0m17.4 73.8h0m18.6-135.7h0m-92-2.7h0m44.4 85.7h0m-70.5 3.3h0m97-34.3h0m1.5-20.7h0m-87.7 37.8h0m66.3-62.1h0m43.4 152.3h0m-119.2 5.1h0m61.6-165.1h0m46.7 67h0m-.4-78.3h0m-2.7 163.9h0m-68.7-30.6h0m74.4 19.1h0m-12.4-15.4h0m-23.7-23.1h0m36-26.3h0m-59-48h0m25.8 26.4h0m-77.3 9.1h0m2.8-37.9h0m18.9 95.1h0m33.7-69.2h0m38-6.5h0m-15.4 3.8h0m44.7-50.5h0m-123.1 113.3h0m88.6 43.3h0m-61-70h0m32.9-44h0m14.5-47.1h0m-36.4-2.1h0m-27.7 121.8h0m34.5-120.4h0m49.2 92.4h0m-79.3-17h0m15.9 39.2h0m30.5 6.3h0m-58.3-59.6h0m81.6 50.2h0m35 41.1h0m-57.9-25.4h0m27.1-11.2h0m-48.9 21.2h0m59.8-101.3h0m-3.8 111h0m-72.6-8.1h0m-15.9-53.5h0m32.7-57.2h0m69.6 88.2h0m-96.5-139.1h0m43.7 64.6h0m34.1 50.2h0m-15.8-114.6h0m34.1 154.7h0m-104.7-123.8h0m30.7 156.1h0m30.4-145.1h0m14 32.2h0m-54 73.5h0m80.3-120.2h0m-89.5 137.9h0m83.8 10.9h0m.8-1.8h0m-65.6-39.8h0m-15.7 13h0m42.3-29.2h0m58.4-5.9h0m-107.1-25h0m3.1-35.1h0m35.8 63.6h0m62-37h0m-105.3 101.8h0m52.4-88.4h0m11.6 93h0m-63.9-84.4h0m-1 89.8h0m78.8-57.8h0m-19.9 31.2h0m11.4-3.6h0m40.9-149.8h0m-90 31.7h0m40.5 107.2h0m-26.5-103.5h0m-10.7-39.7h0m75.2 70.6h0m-9.7 37.6h0m-80.4 72.3h0m40.7-12h0m51.6 10.8h0m-75.5-13.1h0m37.5-11.8h0m-59.7 24.9h0m96.1-128.8h0m-99.2 104.3h0m86.7-40.7h0m-45.9 32.5h0m-.9 30.1h0m-1.5-134.9h0m48.7 .5h0m16.1 80.7h0m-91.1-51.5h0m91.9-37.7h0m-107.3-34.9h0m61.6 172.4h0m-19.3-125.6h0m-49.1 43.3h0m81.6 44.7h0m41.9-125.7h0m-56.4 140.2h0m-6.4-48.2h0m-61.3 81.2h0m46.2-186.4h0m-28.9 43.9h0m75.4 8.9h0m30.3 39.4h0m-73.6-76.3h0m-41.6 156.5h0m114.6-150.5h0m-39.6 140.8h0m-41.3-37.1h0m11.3-97.5h0m-7.9 102h0m-20.3-99.4h0m44.1 7.4h0m53.6 78.9h0m-42.4 9h0m-34.6-41.4h0m44-30.8h0m-26.1-8.1h0m-13.1 44h0m-21.7 14.7h0m24.9-2.9h0m-44.3-87.1h0m60.5 46.3h0m-38.8 .4h0m55.9-19.8h0m32.2 39.7h0m-10.7 89.3h0m-86-23h0m5.7-134.2h0m-5.7 82.6h0m58.4-25.5h0m-73.7-53.5h0m15 134.9h0m3 28.6h0m59.3-154.4h0m-15.7 90.3h0m-63.5-88.9h0m115.3 13.5h0m-62.1 99.8h0m10.9-20.2h0m-11.2-18.1h0m-42-86.3h0m34.5 71.8h0m-12.9 7.2h0m-6.5 23h0m84.3 6.5h0m-20.3-3.1h0m-10.5-53.1h0m-22.1-66.4h0m11.2 14.4h0m20.4 97.8h0m-20.9 47.4h0m9-124.6h0m-59 54.8h0m15.3 18.5h0m-3.4-97.4h0m13.3 61.7h0m-16.4 88h0m-5.1 21.9h0m-1.6-105.8h0m1.3 18h0m27.6 82.2h0m4.8-107.6h0m-45.9 69.1h0m60.8-15.5h0m47.7-12.3h0m-107.7-71.5h0m24.8 48.3h0m48.1 19.5h0m15.7 17.7h0m-47.8-71.8h0m-40.4 128.9h0m20.1-173.9h0m-12.2 63.5h0m-17.9-56.4h0m96 111.9h0m-29.5-40.6h0m42.8-28.3h0m-90 119.5h0m78.9-82.7h0m-83.6 59.7h0m95.3 15.5h0m9.9-42.6h0m-22 43.6h0m-68.5-92.9h0m66.8 15.7h0m-30.3-7h0m3-16.6h0m-51.6 2.8h0m61.2 69.1h0m-58-41.8h0m-1 16.7h0m-15.5-4.9h0m-1.2 5.9h0m-.8 52.8h0m19.5-33.5h0m24.8-29h0m47.3 8.8h0m-89.8-7.4h0m24.5 50.1h0m-5.8-39.1h0m95.2-3.9h0m-98.7 64h0m37-59.3h0m-11.4-105.1h0m46.8-12.2h0m-.9 55.7h0m-72.2 15.6h0m74.5-28.6h0m-82.7 47.7h0m-9.4 86.6h0m57.3-136h0m-47.3-26.8h0m9 23.1h0m62.8 25.2h0m-24.2-66.1h0m52.8 121.5h0m-87 69.8h0m84-70.3h0m-7.7 44.5h0m-84.2-25.3h0m102.4-130.9h0m-65.6-5.9h0m-22.9 87.5h0m70.9-20.8h0m-23.7 91.5h0m3.1 10.2h0m-36.8-157.6h0m12.6 109.6h0m-19 45.7h0m-5.8-5.5h0m33.4-49h0m-68.5-49.7h0m23.6 62.4h0m46.7 14.6h0m24.5-5.1h0m-3.6 9.1h0m-66.9-37.7h0m12.1-98.4h0m-19.5 60.9h0m88.6 39.4h0m-86.7 59.1h0m44.5-158.9h0m-17 98.1h0m-9.1-108.2h0m23.3 123.3h0m-45.9 56.1h0m87.6-96.3h0m13.5 106.5h0m-32.1-157.2h0m-52.7 58.8h0" stroke="#857f45" stroke-width="2.2" stroke-linecap="round" opacity="0.75"/>
<path d="M922.1 565.4h.1m.5 6.6h.2m74.8 1.5h.4m54.6 .6h1.1m-110.7 9.5h.7m108.1 .2h.6m-93.7 18.7h.8m-27.9 3.9h1m111.6 1.6h.6m-121.4 5.4h.5m97.6-1.4h.6m-99.1 5.2h.8m123.3-.4h.4m-97.2 13.9h.3m-23.8 3.3h.5m38.2 1.7h.4m9.1 3.4h.7m-54.1 7.5h.7m11 8.7h.4m116.7-1.1h.1m-56.1 7.7h.2m5.6 0h1m-43.2 24.3h.8m29.8 10.3h.4m-8.9 8.5h0m-6.8 7.8h.6m76-.6h0m4.6-2.2h.6m-121.8 8.5h.8m17.5-2h1.2m30.9 3h.5m60.2-2.4h.4m6.8 .8h.4m-102.1 15h.1m2.3 7.7h1.1m38 9h.1m-54.8 8.4h.5m1 5.9h.8m-5.5 4.2h.3m30.8 0h1.1m25.3 0h.7" stroke="#64bc46" stroke-width="5.0" stroke-linecap="round"/>
<path d="M927.5 568.1h.9m42.5-3.1h.4m12.9 1.4h.5m70 15.2h.4m-130.4 13.6h.3m111-.5h.5m-111.5 12.8h1m13.8 2.1h.8m62.7 7.5h.6m50.2 2.4h.4m-86.7 4.7h.1m-6.1 4.1h.7m21.8 1.1h.7m57.3 6.7h.2m-84.5 3h1m81.7-.7h.2m-68.2 7.8h.5m13.2-.2h0m-18.4 4.9h.3m7.8 2.1h.8m17.4-.4h.5m-16 2.6h.5m75.6 2.5h.1m-68.2 2.7h1m66.7 2.9h.9m-131.3 5.8h.5m45.6 3.5h.5m78.3 2.4h1.1m-42.8 3.5h1.2m-84.1 4.7h1m129.5 1.7h.1m-128.5 4.8h.8m105.5 .6h.5m-89.8 4.2h.2m25.4 7.4h.4m84.9 .4h1m-8.8 6h0m-124.6 4.1h.3m7.1 0h.7m60.9 5.4h1m38.3 3.7h.3m-20 6.3h.4m-46.6 7.2h.6m89.6-3.1h.6m-54 9.5h.1m-27.6 2.1h.7m80.3 2.8h.4m-31.7 2.7h.4m-51.3 7.8h.7m81.2-1.2h1m-118.8 10.5h.9m59.2 1.4h.3m8.6 .2h.1m-56.9 .4h.6" stroke="#6cba42" stroke-width="5.0" stroke-linecap="round"/>
<path d="M932.8 565.4h.3m12.4 2.9h.7m-7.5 6h.4m86.4 .7h.1m-103.4 4h1m54.4 1h.2m-25.8 4.1h0m-24.7 7.3h.2m76.8-.4h1.1m4.4-.6h.9m32.9 1.4h.1m-79.2 2.5h.9m89-1h.9m-115.5 7h.5m11.9-1h.3m102.1 5h.5m-18.6 12h.3m-74.1 6.4h.4m53.2 1.2h.9m-49.6 16.1h.6m86.2 5.1h.9m-3 7.6h.4m-112 1.9h1.1m.6 6h.7m21.9-.9h.6m85.2 2.3h.6m-27.6 18.3h.4m11.1-3.2h.3m16.5 12.8h1.1m-65.8 9h.4m61 2.6h.7m-77.4 4.4h1.1m1.9 0h.9m-9.2 4.4h1m55.5 16.8h.4m30.6 2.8h1.1m-3.7 10.1h.3m-100.8 7h.8m70-1.5h1.1m19.2-1.9h1.2m-82.4 17.4h.9m18.5 1.9h.8m-16.8 5.2h1m78.3-.4h.7" stroke="#5cba44" stroke-width="5.4" stroke-linecap="round"/>
<path d="M939.5 568.4h.8m30.6 2.5h.3m.1 5.3h.4m27 12h.9m35.2 .1h.2m-113 11h.3m103.6 1.5h.9m-18.7 6.1h.7m-68.7 27.5h.8m72.1-.1h.7m16.2 .8h.5m-3.4 3.4h1.2m-70.3 7.3h.1m7.3 4.9h1m-39.8 5.4h.6m106.8 7.8h.3m-34.9 4.9h.8m33.1-3.6h.5m3.9 4.6h0m-66.8 7.4h.9m56.2 3.1h.7m-64.6 10.3h1.2m-39.2 8.7h1m91.8 2.2h1m14.9-2.9h.1m-31.5 7.4h1.1m49.9-1.1h1.2m-63.1 18h.7m19.6-1.3h.4m-18.3 8.7h.9m3.9 6h.2m39.2 3.7h.4m-94.2 7.2h1m12.6-3.5h.7m31.3 0h.1m14.6-.4h.6m-83.7 11.9h.9m38 3.4h1.2m-15.1 9.5h.7m58.8 0h.7" stroke="#58b03e" stroke-width="5.0" stroke-linecap="round"/>
<path d="M954.6 565.5h.8m95.9 .3h.1m-95.9 14.8h.1m3.7-4.6h.7m76.7 .6h.9m-23.7 8.6h.6m0 9.4h.3m14.9 1.6h.4m-26.7 9.2h1m5.9 17.2h.6m-71.5 8.2h.8m10.8 5h1m34.7-2.1h.1m51.8 11.4h.5m-114.7 4.4h.3m27.5 3.3h1.1m82.3-4.2h.3m-89.6 24.1h.2m28.2 9.7h.2m-36.5 6.3h.6m19.2 6.4h.2m20.1 6.8h.4m62-3.1h.5m-43.3 8.3h.4m12.6 3.5h1m-84.1 12.5h.1m7.9 1.1h.4m106.9-2.3h.3m-43.5 8.6h.1m15.3-1.2h.6m-76 12.4h.1m49.1-2.6h1.1m3.8 1h1m52.9 .5h1.1m-122.2 5h.6m6.1 1.1h.8m62 5.8h0m18.9 1.9h.1m7.3 2.5h0m-99.3 7h0m47.5-1.5h.9m82.9 1.9h.1m-35.9 2.9h.9m34.8-.6h.4m-71.5 1.5h.8m12.6 0h1m27.6 0h.9" stroke="#58b03e" stroke-width="5.8" stroke-linecap="round"/>
<path d="M960.4 567h.6m30.5 2.3h.6m-5 3h.1m-21.4 5h.8m87.9 1.4h.8m-119.3 4.6h.4m21.8 6.5h.3m6.4-.9h.6m88.1 7.9h.4m-102.7 7.7h.5m11.7 3.2h.8m30.6 .3h.3m-68 2.2h.9m57 7h.5m25.1 11.6h.2m36.3-.8h.4m-57.8 12.7h.2m13.7 0h.3m-82.2 17.5h.6m32.7-1.5h.8m-30.2 7h.7m65.4 11.6h.4m-59.6 16h.9m82.6-3.4h.1m3.1 6.3h.3m-82.5 5.9h.4m-14.9 5.9h.9m70.9 7.6h1.1m4.6-2.6h.3m16.5-1h.6m20 .4h1m2.3 8.8h.3m-5 2.2h1m-58.9 11.2h.2m-20.7 6.1h.4m52.8 .6h.4m3.8 9.9h.8m-46.9 8.4h.8m-16.6 3.7h.3m47.8 1.9h.7m-65.8 4.9h.4" stroke="#58b03e" stroke-width="5.4" stroke-linecap="round"/>
<path d="M966.1 569.5h.7m-18.1 7.7h1m33.8 1.7h.3m46.9 .5h0m-42.7 4h1.1m-6.1 13.6h.6m-49.4 2.7h.6m115.5 1.3h.2m-27.7 3.6h.9m-42.5 8.1h.9m72 9.6h.8m-63.5 12.7h.3m-50.5 11.2h.4m38.3 .6h.2m72.3-.3h.4m-97 6.3h.6m70.3-1.7h.5m-20.1 7.2h.7m-38.6 3.7h.9m69.2 2.1h.9m7.2-.1h0m-107.1 11.2h.8m73.8-3.5h.8m-26.3 17.9h1m-51.4 12.6h.8m59.8-1.4h.9m2.2 0h.7m-42.2 6.3h.9m64 0h.7m15 6.1h.6m-86.2 3.3h1.1m78.1-.2h.7m-60.6 7.7h.8m-23.6 3h.6m82.2 4.9h.8m10 1.2h0m-123.6 6h1m51.3-.4h.2m-46.8 15.7h1.1m48 1.2h.5m-36.6 12.1h.9m29.4-.9h.2" stroke="#64bc46" stroke-width="5.8" stroke-linecap="round"/>
<path d="M982 566.7h.2m35.1-.9h.1m37.4 .1h.3m-23.3 5.4h.4m18.7 9.1h1m-128.5 5.2h.3m41.2-.2h.1m74.2-3h.2m-104.1 14.1h.5m118.9 3h.4m-83.6 5h1.2m18.2 1h.8m21.2-1h.6m2.3 6.1h1m18.6 2h0m-23.4 3.5h.8m-77.2 7.4h.8m38.8-2.2h.8m-30.1 14.6h.1m51.3-3.6h.5m-16.7 19.4h1m14.2 4.4h.4m-59.7 10h.9m-7.9 7.8h.1m88.9 6.1h.4m35.2 0h.5m-103.7 4.1h1.1m8.4 .9h.6m27.9-1.2h1.2m21.6 .2h.2m39.7-.1h.2m-126 12.2h.1m121.8 1.5h1.1m-61.9 7.1h.1m-45.6 17.2h.5m77.4 14.4h.9m-39.8 4.6h.2m42.3-2h1.2m-47.5 5.7h.4m-22.6 10.7h1m43.7 3.1h1m30 9.7h1m-32.4 0h.9m41.1 0h1.1" stroke="#6cba42" stroke-width="5.4" stroke-linecap="round"/>
<path d="M997.1 565.9h.5m-64.7 13.5h.1m70.3-1.3h.6m8.7 .4h.3m28.2 1.2h1.1m-113.1 3.9h1.1m.9 9.8h.5m12.5 1.5h.1m50.6 2.2h.9m50.5-3.8h1m-76.3 8.6h.6m-19.8 9.4h.1m12.1-1.5h1m25.8 3.7h.9m46 7.8h.1m-67.1 5.9h1m-46.4 11h1m38-1h1.1m75.8 7.9h.4m-96.2 13.4h1.1m98.1-1.3h.3m-111.1 5.3h.9m24.8 5.9h.9m47.1-2.7h.5m15.9 2.2h.4m2.2 5.9h.9m11.8-1h.8m-50.3 7.2h.8m-5.8 4.9h.4m15.9 5.6h.5m-69 5.6h.6m69.6 1.3h1.1m19.1 3.6h.2m-86.4 3.9h.5m117.4-.4h.8m-131.3 12.5h.9m20.4 1.7h.5m1.2 2.4h1m101.2 3.9h1m-53.3 22.6h.6m-73.2 1.3h.3m61.2 6.8h.7m19.9 2.5h.9m-9.2 1.7h0m25.5 3.2h.3m12.3 3.8h.7m12.1 1.2h1.1m-127.3 0h1m22.9 0h.5m68.6 0h.8" stroke="#54b440" stroke-width="5.8" stroke-linecap="round"/>
<path d="M1005.4 567.4h.7m-53.1 6.7h1.2m29-.4h.5m-58.2 2.8h1m93.5 1.4h.1m-39.4 7.5h1.1m18.4-2.8h.6m39.9 13.8h.2m-22.8 3.3h1.1m26.3 2.7h.2m-106.1 6h.9m-1.8 9.7h.4m11.5 .2h.2m-3.7 4.4h.1m78.4-.4h.6m6.6-1.5h.2m-5.3 5.7h.9m-21.7 11.1h.3m-70.5 7.1h.1m82.1 .5h.9m27.9 3.2h.8m-22.5 6.9h.9m12.8 .6h.3m-97.4 12h.9m24.1 1.8h.5m21.8-3.7h.1m64.3 1.7h1.2m-54.3 6.2h.6m52.6-2.3h1m-133.5 5.8h.4m33.9 .3h.9m-19.2 16.1h.3m27.3 1.1h.9m17.9-.8h.6m-31.1 4.4h.4m19.7 1.9h.9m-39.3 12h.2m70.1 3.1h.5m-24.7 7.4h.1m17.5 .2h.4m5.6-2.1h.9m9.5 4h.9m-47.9 5.2h.8m14.4-2.6h.6m37.6 5.3h.7m5.6 2.3h.8m-83.6 3.4h.1m70.6 .7h.7m19.2-1.1h1m-72.4 6.8h.9m20.5-.7h.9m-57.4 8h.9m7.9-1.1h1.2m108.5-.4h1m-21.6 12.6h.6m3.8-1.9h.9m-42.6 4.6h1.2m42.1 2h.2m21 0h.4" stroke="#64bc46" stroke-width="5.4" stroke-linecap="round"/>
<path d="M1013.9 568.8h.4m-58.3 2.5h.6m51.5 2.9h.4m-52.7 11h.2m22.3-2.4h.6m49.2 1h.6m-69.8 12.8h1m46-.5h.2m-41.5 5.7h1m33.3-1.3h.4m-16.6 4h.1m16.2 9.2h.9m8.7 4.9h.3m-14.9 2.5h1m2.4-.2h.3m43.8 2.3h.2m5.7-2.3h.9m-106.6 6h.7m79.5 1h.8m-72.9 13.8h.9m81.2 .1h.8m-84.8 2.7h1m69.6 4.8h1m-36.3 14.2h.7m67.5 5.9h.5m-91.5 9.8h.8m48.3 3h.7m-60.4 7.9h.4m60.5 6.5h.9m2.4 5.5h.1m-70.6 2.4h.4m15.5-.2h.7m54.1 3.5h1m-37.6 5.7h1.1m5.7-.8h.2m-45.4 14.2h.4m104.8 2.6h1.1m9.1-1.7h.5m-124.9 7.3h.1m44.7-2.3h.6m36.4-.2h.4m-42.3 7.2h.4m-25.6 10.4h.3m10.7 1.2h.8m91.5 4.3h1m-71.1 4.8h1.1m-9.7 7.6h.4m52.6 0h.3" stroke="#54b440" stroke-width="5.4" stroke-linecap="round"/>
<path d="M1025.8 569.5h1m-80.2 5.5h.7m101.2-2.3h.7m-58.5 4.2h.5m-48.9 11.3h1m4.6 2.9h.8m99.2-3.7h.6m-25.8 8.7h.6m5 11.2h1.1m-72.3 22.9h.8m3.1 3.3h.9m-31 6.4h1m81-2.2h.7m-3.4 13.2h.8m1.4-1.2h.2m28.7-.8h1.1m-84.3 5.7h.8m61.7 .8h.2m-83.5 6.5h.1m15 5h.6m33 1.4h1.1m31.1 0h.7m-62.1 4.1h.1m39.6 1.7h.8m-60.6 3.8h.6m12.3 .7h1.1m92-.8h.2m-24.2 6.9h1m-95.7 5h.4m46.5 3.9h1.1m2.1 3.3h1.1m-53.2 5.1h.3m104.4 9.4h.5m-83.8 18.4h0m45.3-.8h1.2m45.1-.4h.9m-7.5 11.8h1.1m-107.2 5h.7m59.2 3.4h.3m72.2 1h.3m-60.5 5.8h.7m-51 6.1h1.2m10.6-.8h.9m-35.2 6.8h.9m55.2 .4h.2m68 0h.3" stroke="#50ae44" stroke-width="5.8" stroke-linecap="round"/>
<path d="M1027.8 568.3h1.1m-24.2 3.1h.1m-8 12h1.1m-63.1 5.6h1m37.3 2.5h.9m41.5 .1h.4m9.4-3h.4m-77.1 11.3h0m27.1 4.8h1.1m-30.5 8.5h.6m13.5-3h.4m27.2 .7h.4m63.6 1.6h.7m-23.1 3.8h1m-108 5.5h.1m31.4 .8h.6m21.6 7.4h.6m64.8-.8h.8m9.7-1.3h.7m1.4-.1h1.1m-.7 7.7h.4m-88 10.9h1.2m37.6-1.2h.8m-61.2 6.3h.8m44.3-.3h.2m9.6 1.2h.7m-14.4 5.8h.3m-30.4 5.5h1.1m49.5-3.9h.9m-55 14.9h.4m53.4-.2h.5m11.9-2h.9m-93.1 6.2h.4m56.4 13.1h1.1m27.6 4.9h.5m16.2-1.5h.3m3.8 1.9h.6m-80.5 10.3h.2m54.7-1.6h.5m28.6-.4h1.1m-91.4 4.6h.9m21.7 5.4h.1m23.1 4h.2m-59.4 9.5h1m18.8 7.3h.3m8.2 5.7h.7m-19.8 4.9h.9m92.8-2.7h.1m-66.8 6.8h.5m59.4 2.2h.2m2-3.4h.1m-18.6 13.2h1m-84.5 5.2h1m24.5-2.2h1" stroke="#6cba42" stroke-width="5.8" stroke-linecap="round"/>
<path d="M1038.8 567.9h.9m-64.9 6.8h0m64.3-.9h1m-98.3 6.7h1.1m91 5.4h.3m-66.2 7.2h.6m19.3 1.4h.9m64.6 10.7h1.2m-123.9 10.9h.5m108.5-.4h1.1m13.9 2.3h.5m-125.8 11.7h.6m102.7-2h.2m-109 7.8h.8m81.9 .3h.6m11.7-.1h.8m-84.4 5.4h1m6.7 .5h1m77.5 .3h.3m27.3-2.7h.1m5.2 .4h.9m-58.9 7h.4m16.7-2.9h.8m-47.2 13.1h.9m2.4 1.7h.5m20.6-2.2h.4m20.9 10.9h.3m-29.9 5.5h.6m49.6-1.9h1m19 4.4h1.1m-86.7 4.9h.6m9-.3h.4m7.8-1.3h.9m14.7-2.2h.4m7.5 .1h1.1m-70 9.7h.3m63.8-.6h.4m41.1-2.8h.4m-87.5 8.6h.2m34.3 4.8h.6m48-1.8h1.1m-85.6 8.4h1.2m75.3 3.9h.7m-96.7 11.2h.2m88.3-1.2h.1m-89.5 19.4h.2m22.1-2.5h.8m34.2 2.8h.8m54.9-1h.9m-37.7 9.5h.7m-48.3 4.7h.5m-26.3 4.7h1.1m-9.7 7h.3m106.4 .1h.7m-58.5 4.4h.5m33.2 1.4h.7m8.6 .9h1.1m-64.5 .1h.3" stroke="#5cba44" stroke-width="5.8" stroke-linecap="round"/>
<path d="M1042.1 568.6h.1m-35 16.2h.9m-29.9 8.2h.4m23.9 3.6h1.1m-76.1 6.2h.4m76.1-1.3h.9m-62.2 2.7h1m15.6 1.9h1.1m10.7 7.9h.6m32.4-2.7h.8m28 .8h.6m-66.2 5h.7m18.5 .7h1.1m-62.1 7.1h.9m12.4-.1h.7m75.7 5.4h.4m5.8 2.9h1.2m-95.4 13.1h.7m24.3-2.1h.5m80.4 14.1h.7m-56.4 9h.6m-15.4 5h.3m15.6-1.5h.8m-10.8 14.1h.5m67.4 6.8h1.1m-20.8 26.8h.3m-95.3 6.4h.9m42.5-.7h1m60 .4h.4m13.9 1.9h.7m-53.3 6.5h.1m-55.6 8.4h0m122.4 .3h.4m-106.6 13.2h.6m64.1 2.6h.4m-4.2 2.8h.1m44.4 0h.2m.3 7.9h.4" stroke="#5cba44" stroke-width="5.0" stroke-linecap="round"/>
<path d="M930.5 572.3h.6m33.1 .7h.2m90.4-.8h.2m-54.5 5.2h.3m23.7 2h.2m19.1 4.4h1.2m-91.1 4.8h.8m25.3 1h1.2m52 1.3h.7m-83.3 5h.3m27.1 6h.8m63.4 5.6h.5m-110.7 3.8h1.2m89 8.2h.2m-16.7 3.3h1.1m-71 9.8h.9m37.7 .1h.1m9.3 6.8h.4m26.2 18.5h1m-36.9 5.1h1.1m40.8-1h.5m12.6 .3h.3m-81 6h.3m96.6-2.1h.1m-105.8 12.1h.7m61.9 12.1h.1m7.5-2.1h1m13.1 2.5h1m-76.2 9.7h.5m3.4 12h.9m8.6 1.6h0m41.9-.4h.9m-52.8 9.1h.2m34.5 .7h1m66.7-2.1h.1m-129.3 8.9h.2m16.3 5.2h1m63.8-1.4h.6m40 11.6h0m-97.2 3.3h.5m27 2.6h1m25.4 .2h.7" stroke="#50ae44" stroke-width="5.4" stroke-linecap="round"/>
<path d="M1014.3 574.1h.7m-47.6 10.3h.4m50.8-1.7h.6m-97.2 8h.2m69.3-.4h.7m62.7-3h.1m-69.3 11.3h.1m4 3.4h1.1m47.3-.9h.5m-26.1 12.4h.6m30.8-3.6h1m-81.5 9.7h1.1m31.3-1.4h.6m-10 4.1h.3m13.8 4.1h.1m-22.5 5.7h1m57.1 3.2h.3m13-.9h.3m-57.3 9.4h.8m-55.8 8.9h.7m15.1 8.9h.2m19.9 5.1h.1m-49.6 8.6h.3m28.9 12.2h.1m88.5 4.2h.3m12.5-1.5h.6m-103.9 3.4h1.2m101.6 .4h.4m-115 16.5h.1m23.4 8.6h0m91.3 .6h1.2m-96.9 10.6h1.2m73.4 26.7h.3m13.4 6h1m-89.2 2.9h1.1m28.8 2.2h.2" stroke="#54b440" stroke-width="5.0" stroke-linecap="round"/>
<path d="M1021.1 571h1.1m-34.2 17.6h.1m23.2 10h.5m20.4 .2h.3m1.7 6.7h.9m19.5 5.5h.6m-108.6 8.5h.6m8.9-2.5h1m18.3 1.7h.4m2.5 6.3h1.1m-52.6 2.5h.5m63.6 3.3h.3m4.6-3.5h.9m.4 10.4h.9m56.7 .4h.3m-32.8 5.3h.4m5.5 .3h.5m-96.3 4.8h.6m121.8 .1h.4m-32.2 13.3h1.1m-96.5 3.5h.8m123.6 13.2h.7m-122.2 5.9h.9m10.2-1h.8m51.9-1.4h.4m31.5 3.3h1m5.1-1.3h.2m7.3-1.2h.6m-69.2 8h.7m5.7-2.9h.3m77 7.5h.3m-65.1 3.3h.9m39.3 4.1h.8m-99.1 2.7h.5m89.5-.8h.7m8.1 5.1h.2m-53.3 6.9h.4m21.4 .8h.7m21.5-1.5h.6m-60.1 8.7h.9m-1.6 4.5h.1m14 1.2h.7m53.1-.7h.6m-107.7 4.3h.5m96 11.3h.2m11.1 2h.3m-21.8 3.4h.4m33.1-2h.5m12.2 2.6h.3m-18.8 6.3h.4m4.2-1.2h.5m-54.2 7.6h1.1" stroke="#50ae44" stroke-width="5.0" stroke-linecap="round"/>
</g></g>
<defs><clipPath id="cF2"><rect x="1058.9" y="568" width="124.3" height="196.1"/></clipPath>
<filter id="bF2" x="1052.9" y="562" width="136.3" height="208.1" filterUnits="userSpaceOnUse">
<feTurbulence type="fractalNoise" baseFrequency="0.3" numOctaves="1" seed="37" result="t"/>
<feDisplacementMap in="SourceGraphic" in2="t" scale="2.5" xChannelSelector="R" yChannelSelector="G"/>
<feGaussianBlur stdDeviation="0.6"/></filter></defs>
<g clip-path="url(#cF2)"><g filter="url(#bF2)"><rect x="1053.9" y="563" width="134.3" height="206.1" fill="#3a4a3e"/>
<path d="M1171.5 703.3h0m-5.6-.6h0m-106.8 6.9h0m9.7 5.8h0m15.2-31h0m41.7 1.5h0m-44.1-55.2h0m-9.8-45.8h0m21.5 170.5h0m-4.2-114h0m50.6-29.8h0m-64.9 74.1h0m19.4-32.8h0m54 95.7h0m5.7-2.4h0m-.7-39.7h0m-71-94.8h0m68 141.8h0m10.2-133.2h0m-19.7 35.6h0m.1-61.9h0m11.4 115.4h0m-9.2 36h0m-6.6 15.8h0m10.7-98.5h0m-60.1-58.8h0m69.2 25.4h0m-70.1 115.3h0m38.6-140.3h0m-2.4 77.3h0m-50.2-25.4h0m96.7-82.8h0m-34.6 101.5h0m-73.8 18.5h0m6.7-41.8h0m59.7 112.3h0m-10.8-65.2h0m58.6-79.2h0m-23.1 67.3h0m-43.7-4.9h0m-.3-110.1h0m.3 134.7h0m-14.9-97.4h0m58.5 100.4h0m-23 7.3h0m-21.7 6.2h0m-23.2-71h0m45-82.2h0m-34.5 173.3h0m1.5-162.5h0m65.3 104.6h0m-36.5 30.9h0m37.2 27.5h0m-98.5-95.2h0m30.3 48.4h0m39.1-8h0m-21.8-99.8h0m-48.5-9h0m29.2 8h0m-19.8 104.1h0m72.5-37.8h0m-76.6 29.5h0m54.7-54.8h0m47.8 62.7h0m-98.5-87.2h0m27.5-.1h0m-16.9 91.9h0m36.2-48h0m21.6 69.5h0m41.4-130h0m-67 95h0m-11-51.9h0m71.2-24.1h0m-108.2 42h0m116.5-16.8h0m-40-26.1h0m-33.2 80.8h0m27.9-60.9h0m-4.1 28h0m-59.1-67.5h0m60.5-.9h0m39 128h0m-100.5-51.1h0m90.6-23.7h0m6.9-24.6h0m-57.5 53h0m29.3-18.9h0m-33.7 87.7h0m-32.4-114.2h0m-4 107.6h0m63.1 13.8h0m21.1-27.9h0m10.6-132.1h0m-70 103.3h0m-2.2-41.5h0m-29 77.4h0m53.6 3.9h0m53-120.3h0m-65.1 98.6h0m-25.5-48.1h0m88.1 75.7h0m-17.9-94.8h0m-76.7-4.9h0m1.3 123.9h0m86.6-123.4h0m-24.9-22.2h0m-68.2 32.5h0m50.7 67.9h0m13.4-41.3h0m-43.4 88.1h0m8.8-12.8h0m-12.5-51.6h0m10 22.8h0m46.7-59.7h0m-4.8 73.9h0m-66.5-56.7h0m6.2-18.6h0m72.8 23.1h0m-34.2-1.7h0m24.6 62.8h0m6.6-86.4h0m7.5 61.7h0m-47.3-32.9h0m62-59.7h0m-54.1 139.5h0m43.5-168h0m-92.3-1.8h0m8.1 144.4h0m33-62.6h0m35.3-16.5h0m-22.8-75.9h0m10.2 161.9h0m49.7-116.6h0m-48.6 25.4h0m29.1-55.4h0m-86.3 6.4h0m-5.1 83.7h0m104.4 75.5h0m-56.7-168.5h0m-27.9 3.7h0m40 98.3h0m-37.9-95.6h0m42.5 21.9h0m-2.1 140.1h0m-4.8-140.2h0m10.5 103.9h0m-51.8-2.2h0m17.5-147.3h0m23.3 1.8h0m-63.9 1.8h0m35.6 39.4h0m-24 75.4h0m48.6-113.6h0m57.5 92.9h0m-57 17.7h0m-33.7-30.4h0m52.1-69.2h0m-50.3-17.4h0m46.2 84.8h0m-16.6-55.1h0m41.9 82.4h0m-48 41.7h0m-2.1-92.8h0m16.2 49.5h0m5.8 69.5h0m5.8-65h0m-26.2-48h0m43.5-47.9h0m-69.3 58.4h0m27.5 21.1h0m1.7-11.6h0m18-88.6h0m11.3 189.5h0m-12-56.4h0m-5.8 44.8h0m33.5-38.9h0m-81.8-36.5h0m18-78.8h0m52.2-3.1h0m-30 9.8h0m13.5 105.4h0m29.7 16.6h0m1.7-43.9h0m-11.2 48.2h0m-3.8-27h0m-39.4 44.2h0m52.3-26.2h0m-79.6 35.6h0m17.4-109.1h0m80.2-45.7h0m-62.5 5.7h0m-43.7 31.6h0m22.3 63.9h0m-31.2-93.6h0m57.6 130.9h0m-3.9-166h0m-7.7 149.3h0m46.4-139.1h0m-21.3 2.2h0m-26.7 170h0m-41.1-126.1h0m27.6-16.4h0m64.6-20.4h0m-17.2 31.5h0m-11.9 1.1h0m-11.5 2.9h0m-55.5 6.4h0m11.4 66.1h0m26.1-106.7h0m63.3 156.5h0m.1 1.4h0m5-82h0m-1.9 82h0m-55.8-14.9h0m-33.6-164h0m32.4 93.3h0m-20 55h0m4.1-39.3h0m64.2-70h0m-46.7 130.1h0m62.3-134.8h0m-107.6 147.3h0m48.2-2.1h0m49.6-96.4h0m-65.9-45.4h0m-12 86.7h0m-18.4-82.7h0m95.2 39h0m-40.6-35.1h0m20.1 122.7h0m-59.1-131h0m44.6 143.1h0m-6-13.8h0m-58.9 .7h0m42.9 16.9h0m-7.4-57.8h0m-8.7-41.2h0m37.7 104.9h0m-50.2-156.7h0m76 74.7h0m-17.1 77.1h0m-31.9-80.8h0m45.9 50.9h0m-70.9-97.7h0m43.6 93h0m53.5-75.6h0m-90.2 21.6h0m30.2-57.8h0m-34.8-41.3h0m67.3 151.5h0m18.3-67.4h0m-102.6 61.5h0m92.7-65.4h0m-3.4-29.2h0m-61-43.8h0m22.3 115.7h0m-30.7-56.1h0m18.1-63.6h0m18.9 18.2h0m4.1 140.6h0m-66.1-21.7h0m111 45h0m-59.7-172.2h0m10.6 133h0m4.8-17.8h0m4.6 43.2h0m22.5-4h0m-17.9-122.5h0m-62.7 57.6h0m105.1-75.8h0m-86.4 93.9h0m-6.1-100.5h0m18.6 148.7h0m30.1-107.1h0m37.3 40.6h0m-99-68.8h0m93.2 37.8h0m-92.6-13.2h0m30.7 111.6h0m-29.8-14.9h0m46.4-99.2h0m-12.2 7h0m13.8 33.8h0m-45.9 7.4h0m98.4 7.1h0m-26.6-19.5h0m-49.3 1h0m56.9 60.4h0m-3.2 13.7h0m-12.5 12.6h0m-59.9-15.7h0m57.7 20.8h0m-29.2-110.5h0m-29.6-65.2h0m-15.6 79.1h0m82.4-78.9h0m-46.3 1.8h0m77.4 44.1h0m-86.6 38.2h0m18.9 59.4h0m-39-98.7h0m68.7 137.2h0m-31.5-152.1h0m-3.7 56.4h0m-15.8 50.1h0m-1.9-30.9h0m87.3 26.2h0m-18.9-41.8h0m-24.3-82.2h0m-.5 175.3h0m-8.1-136.7h0m37.1 135h0m-19.1-129.2h0m-40.3-7.7h0m-6.4-6.8h0m-34.3 10.1h0m7.8 59.6h0m62.6-4.7h0m-42.3-36h0m41.7-60.9h0m-27.8-14.8h0m-35.8 49.9h0m14.5 19.9h0m99.2-42.6h0m-50.8 26h0m38.5 60.7h0m-65.7-54.8h0m1.7 .5h0m16.4-33.7h0m7.1 105.3h0m-9.4-72.3h0m49.7 88.8h0m-82.6-48.3h0m70 77.8h0m-51.4-41.5h0m-14.7 29.1h0m-7.1-167.3h0m34.8 76.7h0m31.6 43.2h0m22 3.9h0m6.7 10.6h0m-35.7-75.5h0m-63.1 56.3h0m57.1-55h0m6.3 106.3h0m-70.1-141.9h0m103.5 159.2h0m-34.8-150.2h0m-15.4 145.4h0m10.6-102.9h0m22.1 33.4h0m21.6-3.5h0m-58.9 87.1h0m-45.6-157.5h0m-12.4 62.1h0m39.4-97h0m-19.3 141.2h0m69.1-111.8h0m11 117h0m-58.6-46.4h0m64.5-66.1h0m-6.9 24.5h0m-22-28.8h0m-35.2 118.9h0m68.8 26h0m-15.4-98.1h0m19.1-6.9h0m-115.8-41.8h0m83.4 139.1h0m34.1 25.8h0m-113.9-78.9h0m95.7-17.3h0m1-63.8h0m-93.4 74.6h0m98-72.4h0m-1 137.9h0m-98.6-122.5h0m-2.9 126.3h0m6.6 14.1h0m43.7-110.5h0m21.1-79.9h0m-41.1 160.1h0m28.4-148.2h0m-13.6 139.3h0m13-73.6h0m43.8 66.3h0m-88.7 18.4h0m65-128.4h0m-58.2 160h0m-18.8-98.2h0m32.3 3.4h0m22.4 57h0m10.1-3.8h0m25.5-35.4h0m-88.9 23.6h0m106.2 10.9h0m-26-106.8h0m-37.3-9.6h0m.1 19.8h0m57.4 33h0m-58.5 76.6h0m67.6-119.4h0m-6.5 14.6h0m-53.7 90.6h0m-5.8-123.9h0m47.9 85.4h0m-10.2-53.4h0m-89.2 89.5h0m53.5-103.5h0m54.8-21.3h0m-107.8 142.3h0m3.1-1h0m32.9-35.1h0m63.4-8.7h0m-94 1.2h0m10.1 49.6h0m87.8-75.8h0m14.8 65.7h0m-68-132.8h0m8.7 128.1h0m63.3-141.1h0m-104.4 61h0m21.8-47.8h0m45.5 64.9h0m-84.8-84.5h0m40.5 158.8h0m-31.6-116.5h0m52-2.6h0m-30.8-3h0m11.8 113h0m43.8-3h0m18.9-121.8h0m-53.7 155.4h0m-10-25.8h0m-32.5-134.5h0m47.8 8.6h0m31.2 137.9h0m30.7-104.2h0m-37.6 101.4h0m-81.4-142.5h0m105.7 137.7h0m-15.9-4.8h0m-20.8-.5h0m-38.3-74.4h0m56.5 74.7h0m-.4-86.1h0m-36 27h0m36-40.1h0m11.5 45.6h0m17.2 21.2h0m-27.5-36.4h0m-60.2 38.8h0m74.4-26.8h0m-24.4-37h0m-28 17.8h0m56.5-86.2h0m-1.4 47.8h0m5.3 71.3h0m-108.4 27.5h0m6.2 13.5h0m19.8 28.5h0m39.3-16.5h0m54.9-152.6h0m-10.5 142.8h0m4.4-74.3h0m-69.6 96.9h0m2.1-92.6h0m41.8-72.1h0m-58.8-13h0m83.9 142.4h0m-101.3 43.6h0m9.9-107.6h0m25.1 28h0m16.8-98.9h0m-17.9-7.5h0m-20.3 55.1h0m48.6 35.9h0m37.3 82.5h0m-109.9-66.8h0m116.5-7.1h0m-106-35.4h0m-.6 97.5h0m12.1-128h0m2.8 144.8h0m94.2-125.9h0m-71.6 95.5h0m46.8-11.7h0m-52.7-43.1h0m-1.8 61.9h0m-39.4 13h0m111.7-155.3h0m-76.3-15.8h0m18.8 174.6h0m-7.3-53.4h0m22.3-83.8h0m-26.8 63.8h0m20.2 69.6h0m7.9-109.7h0m-67.2 75.7h0m64.7-141.8h0m-40.4 76.1h0m25.6-49h0m3.1 126h0m-41.2-83.4h0m87.2-65.9h0m-98.6 .8h0m48.9 60.5h0m17.4 34.4h0m-58.7-57.3h0m92.7 81.1h0m6.4 7.7h0m-43.8-27.3h0m13.8 81.8h0m-76.3-9.3h0m1.2-10.1h0m-8.6-154.5h0m64.2 44.6h0m52.2-7.1h0m-59.9 123.3h0m59.8-12.4h0m2.6-103.8h0m-86.8 57.3h0m80.5-50.6h0m-85 10.9h0m82.4 51.7h0m3-94.9h0m-61.6 163.8h0m14.2-134.1h0m-56 116.8h0m66.1-67.8h0m23.3 18h0m-.3-28.4h0m-67.3 30.6h0m80.2-58.1h0m-73.5 115h0m11.2-130.8h0m8.1 89.3h0m57.6-45.8h0m-55.8-1.2h0m42.5 75.7h0m-25.9-142.2h0m-34.8 27.1h0m52.8-18.6h0m-46.5-21.1h0m-21.4 161.9h0m80.9-113.6h0m-86 21h0m99.2-87.7h0m-77.2 161.6h0m35.7-117.9h0m3-37.7h0m16.6 83.8h0m21.6-45.3h0m-73 104.5h0m68.8-117.4h0m-113.3 54h0m119.3 100.5h0m-51-71.1h0m-14 16.8h0m-27.9 31.1h0m58-6.8h0m21.3 25.7h0m-32.3-143.8h0m14.8-30.2h0m-25.6 22.6h0m10.1 161.1h0m8-159.9h0m32.7 41.7h0m-103.8-64.8h0m14.3 68.6h0m-.5 14h0m-.7 75.9h0m37 6.1h0m51.2-121.5h0m-105.6 41h0m104.6 59.7h0m-51.2-106.5h0m38.4 132.1h0m-31.2-18.2h0m24.4-124.1h0m-45.7-3.7h0m72.5 158.3h0m-63.2 3.5h0m-41.1-74.7h0m28.4 5h0m57.9-107.9h0m-80.1 163.4h0m-.8 5.9h0m54.3-165.2h0m-26 63.3h0m52.8-54.3h0m-87.8 156h0m-13.7-32.7h0m12.6-107.9h0m102.9 26.8h0m-64.3 107.3h0m26.2-62.6h0m-31.8 10h0m-22.6-41.3h0m78.8-83.9h0m.4 33h0m-58.4-20.5h0m19.3 68.4h0m-5.8 27.8h0m-43-96h0m57.6 179.1h0m-49.1-19.2h0m93.2-135.8h0m-34.5-29.6h0m-76.8 167.8h0m69.5-137.4h0m10 142.3h0m-33.6 3.6h0m-24.5-108.8h0m29.8-26.5h0m-19.6 74.7h0m17.8 14.5h0m53.5-81.6h0m-2.8-13.5h0m-54.8 100.5h0m24.1-31.4h0m6.4-104.4h0m28.5 170.2h0m-20.7-19.2h0m-80.2 20.5h0m60.5-4.9h0m12.4-119.4h0m6.6-4.5h0m22.7 29.8h0m-10 39.3h0m-87.2-41.7h0m97.7 104.1h0m-33.2 10.1h0m15.9-81.4h0m-36.6 40.3h0m-20-40.4h0m-12.5 44.7h0m32.3-87.4h0m17.6-59.7h0m-59.2 1.1h0m70.4 155.9h0m0-43.8h0m-42.1 38h0m76.5-25.5h0m-59.9-60.4h0m45.5 89.5h0m-53.6-44.4h0m64.3 24.6h0m-26.3 1.9h0m1.2-121.4h0m-42.6 23h0m-16.9 23.9h0m44.7 70.9h0m-72.9 14.6h0m103 3.1h0m-5.7-139.5h0m12 6.2h0m-20.8 69.6h0m-39.3 19.2h0m11.4-68.6h0m35.3-11.6h0m-11.5 135.5h0m-69.8-75.9h0m64.9-40.7h0m-63.1 70.6h0m-16.7 52.8h0m35.7-130.2h0m61.3-15.4h0m-23.6 18h0m43.4 72.1h0m-93.5-20.1h0m-14-3.5h0m62.9-81.6h0m-1.2 123.3h0m-35.3-130.9h0m64.1 31.7h0m-57.2 80.9h0m-32.7-76h0m96.6-35.6h0m-66 178h0m52.6-105.3h0m14.8 51.7h0m-7.6 31.9h0m-67-147.2h0m55-4.7h0m-40 16.4h0m-12 147.3h0m-26.3-99.9h0m98 25.2h0m-21.6 77.7h0m-31.3-163.5h0m-48.2 150.8h0m110.7 18h0m-119.9-13.3h0m31.3-32.2h0m-8.8-54.9h0m60.6 88.1h0m-32.9-5.3h0m-19.3-142.9h0m18.7 141h0m46.3-164.4h0m8.3 110.5h0m-102.6-31.8h0m6.4-56.1h0m48.6 134.3h0m49.3-145.4h0m-80.7 11.1h0m-3.3-11.9h0m47.8 58.4h0m23.4 47h0m19.1 62h0m-83.5-162.5h0m-27.2 128.4h0m101.4-81.2h0m-99 101.7h0m76.1-47h0m3-83.5h0m-48.9 41.4h0m70.8 41.3h0m-58.5-57.8h0m2.7 24.6h0m7.3 60.3h0m34.2 11.4h0m-25.9-55.7h0m51.2 33h0m-106.6-6.9h0m5.1 19.6h0m46.5-83.9h0m-9 31.7h0m59.1 40.8h0m-57.8-114.5h0m45 88.5h0m-40 15.5h0m6 35.2h0m19.1 10.3h0m-45.3-112.8h0m64 59.8h0m-15.1 71.8h0m-29.8-69h0m-45.2-118.3h0m67.5 10.8h0m-20 9.1h0m-8.2 34.7h0m-45 71.8h0m-1.3 50.7h0m5.2-100.2h0m50.4 80h0m29.9 28.4h0m16.4-166.5h0m-27.9 69.3h0m-77.7-72.7h0m58.2 4.9h0m-12.2 7.8h0m16.9-23.8h0m24 39.9h0m17.1-26.4h0m-13 136.7h0m12.7 27.2h0m-68.6-100.7h0m77.6 58.2h0m-82.6-131.5h0m19.1-.2h0m-5.3 72h0m13.4 49h0m-30.7-13.1h0m8.3 61.2h0m-16.5-169.7h0m17.5 175.7h0m-21-42.4h0m95.5-116.1h0m.4 4.1h0m-99.4 125h0m81.2 19.8h0m-71.1-2.7h0m69.1-79.9h0m14.2 89.4h0m-49.8-169.4h0m52.4 150h0m10.2-75.3h0m-83.7-69.6h0m-4.4 130.2h0m-23.1-35.7h0m52.2 32.5h0m47.1 9.4h0m-99.7-8.8h0m73.1-130.4h0m-27.6 7.4h0m22.8-14.3h0m-16.1 166.1h0m-31.3-123.3h0m67.3 39h0m9.6-42.6h0m-11.4 58.5h0m-69.7-57.1h0m-19 126.7h0m13.7-161.3h0m100.8 43.5h0m-87.1 114.7h0m51.3-21.6h0m-20.4 42.5h0m20.6-127.2h0m-72.7 126.1h0m5.4-167.3h0m91.7 109h0m-60.8-33.3h0m61.6-52.7h0m-57.2 117.6h0m25.8-146.9h0m-28.7-8.4h0m17.6-3.6h0m-29.6 128.1h0m78.5 59h0m3.8-30h0m-72-47.9h0m-30.9 54.1h0m76-54.5h0m-74.1 27.5h0m1.3-108.5h0m79.8 54.5h0m-78.7-27.4h0m65.2 15.5h0m-46 58.9h0m8.3-119.1h0m1 25h0m-26.5 7.2h0m-.6 105.8h0m-7.6-23.2h0m62.5-14.6h0m-43.5 10.5h0m38-9.4h0m-16.3 36.5h0m-.4-50.4h0m59-36.6h0m2.1 52.3h0m-116.9-9.2h0m76.3 83.6h0m-70.6-63.9h0m96.1-18.5h0m-20.7-59h0m39.6 91.2h0m-74.8-120.3h0m-20.7 160.4h0m-10-1.4h0m35.7-102.4h0m-49.6-13h0m71.8 11.1h0m-8.1-37.1h0m19.9 70.5h0m-67.9-43.3h0m97.4 64.4h0m-72.2-5.9h0m-13.1 6.8h0m67.3-102.4h0m22.2-11.6h0m-96 52.2h0m-6.4 89.2h0m91.6-145.1h0m-50.2 6h0m31.4 144.5h0m-8.2-90.7h0m29.1 115.6h0m-54.7-100.1h0m54.2 70.4h0m-23.9-13h0m-23.7 30.9h0m-42.7-56.2h0m97.5-67.1h0m-1.7 15.3h0m-23.6-26.5h0m-66.6-6h0m79.4-24.2h0m-103 169.8h0m111.8-45.7h0m-.8-30h0m-91.2-80.4h0m68.6 72.6h0m-60.9 89.8h0m-14.4-24.1h0m-12-101.3h0m35.2-49.5h0m30.5 112.4h0m-3.4 42.7h0m-1.7-73.5h0m16.1-27.2h0m-33.5 102.6h0m-8-46.2h0m79.9-75.3h0m-45.9 128.6h0m16.1 12.2h0m-35.1-113.8h0m68.5 77.7h0m-80.7-5.3h0m73.5-145.4h0m-89 28.9h0m36.7 6.2h0m-54.9 44.5h0m17.4-71.7h0m82.7 8.5h0m13.9-13.8h0m-102.7 172.9h0m4.8-134.4h0m-19.1 32.5h0m85.3 100.8h0m24.6-146.1h0m-19.8 129.9h0m-83.5-6.3h0m-7.7-58.9h0m-.2-30.9h0m98 80h0m-22.6-53.2h0m-19.9 30.6h0m-41.4-78.3h0m14.3 56.4h0m38.7-84.9h0m-64.2 149.1h0m7-68.9h0m2.1 .6h0m102.8-50.5h0m-66.3 57.8h0m-51.2-65.3h0m86.6 63.1h0m-35.3 9.1h0m-37.3 47.9h0m74.5 1.3h0m-57.8-44.1h0m75.1 56.8h0m-61.2-108.4h0m-8.1-56.3h0m73.9 170.8h0m-19.6-161.9h0m-35.2 12.1h0m55.4 47.8h0m-16.8-65.5h0m-68.1 7.7h0m90 52.1h0m6.9 26.1h0m-18.2-17.4h0m-86.1-4.2h0m102.1 66.3h0m-23.7 12.7h0m-54.5-149.5h0m-42.4 181.2h0m14.6-43.7h0m42.7-14.4h0m-22.2 54.4h0m30.6-67.7h0m-5.5-38.8h0m-30.2-68.4h0m32.1 176.6h0m-13.2-142.7h0m47.3 10.9h0m17.4 95.1h0m-94.2-7.3h0m27.6 1.5h0m-26-127.5h0m15.4 35.8h0m-1.6 134.2h0m21-94.8h0m-44.1 14.9h0m-9.2-91.5h0m110.3 134.7h0m-98.1 22.4h0m56.9-69h0m-29.6 20.6h0m80.7-70.2h0m-50.1 13.2h0m-66.8 11h0m40 73.8h0m13.5-33.1h0m47.3 28.1h0m-89.4-3.4h0m38.2-134.4h0m52.1 78.5h0m-62.7-56h0m10.2 67h0m20.9-8.8h0m9.6-80h0m-66.7 68.5h0m19.3 6h0m-19.9 106.7h0m34.9-96.8h0m53 94h0m-59.6-127.4h0m-19.4 1.2h0m32.2 4.3h0m3.8 21h0m35.5 67.6h0m20.4 10.8h0m-108.9-45.1h0m64.6-99.2h0m-18.6 37.4h0m36.1 77.7h0m-48.9-31.3h0m70.8-57.6h0m-86 129.3h0m76.2-143.7h0m-98.3 6.7h0m60.5-38.5h0m-34.3 169.7h0m11.7-53.6h0m76.5 42.2h0m-27-78.1h0m-19.3 81.5h0m-19.3-128.8h0m10.3-35.3h0m-46.6 98.3h0m18.1-91.5h0m33.7 58.2h0m24.5-62.7h0m-64.8 133.5h0m-6.6-114.1h0m44.9-13.4h0m-31.8 71h0m85 6.4h0m-101.8 31.5h0m-2.4-61.4h0m39.8 51.5h0m20.1 56.2h0m26.8-139.9h0m-89.9 137.6h0m27.5-103.5h0m74.8 71.7h0m-13.9 60h0m-96.3-173.4h0m23.7 143.8h0m-10.9-130.6h0m62-5h0m-53.9-23.4h0m75.3 172.5h0m-80.5-54.4h0m17.7 37.5h0m-35.1 25.7h0m77.7-34h0m-32.8 42.7h0m-43.2-5.2h0m71.7-26.2h0m-66.6-94.6h0m92.3 112.9h0m-77.5-96h0m-17.8-.8h0m30 25.6h0m80.6 33.3h0m-67.3-75.9h0m-16.1-45.9h0m16.2 31.5h0m9.9-9h0m-8.9 125.2h0m-19.8-143.6h0m5.3 151.2h0m80-81.4h0m-106.6 10h0m4.1-30.2h0m19 115.3h0m72-62.7h0m-92.8 7.9h0m23.3-13.1h0m45.1 33.2h0m-6.9-142.3h0m38.2 65.2h0m-39.9-44.3h0m-29.9 152.1h0m72.9-42.3h0m-109.4 16.9h0m16.3-145.6h0m99.4 92.3h0m-80.1-99.9h0m72.7 139.3h0m-63-42.1h0m-7.1 38.2h0m-43.1-132.3h0m78 125.2h0m-69.8-64.5h0m34.3 113.7h0m-14.7-44.6h0m-9.4-68.6h0m71.7 65.3h0m-85.8-64.9h0m-4.6-63.8h0m17 174.7h0m19.3-100.5h0m76.2-54h0m-5.9 142.6h0m-76.1-77.1h0m26 20.3h0m-39.5 25.2h0m99.8-132.6h0m-4.6 62.5h0m-33.1-11.6h0m-3.1-55.1h0m-64.4 76h0m71 115.7h0m11.7-2.4h0m-2.4-99.4h0m-57.8-13.4h0m-8 67.5h0m57.9-70.3h0m-65.4 7.5h0m44 47.3h0m31.6-43.7h0m26.3-77.4h0" stroke="#857f45" stroke-width="2.2" stroke-linecap="round" opacity="0.75"/>
<path d="M1055 565.2h2.1m51.9 1.5h1.9m5.8 5.1h.8m.6 6.3h1.3m56.6-1.6h2m8.2 2.3h2.1m-5.4 19.6h1.1m-32.1 10.9h2m-5.4 23.9h1.8m36.2 1.8h1.4m-16.5 2.3h1m-24.8 6.1h1.9m20.1 1h1.7m11.9-1h1.8m-45.6 4.8h1m12.5 2.6h1.1m-88.9 1.3h1.8m57.4 .4h1.7m46.3-.3h1.9m-110.4 5.2h1.1m80.9 .3h1.5m-63.1 8h.9m-28.3 3.4h1.4m5.2 17.1h2.2m63.3 7.3h2.1m20.4 12.3h.9m5.1 .2h1.1m-103.2 6.4h1.3m71.1 2.8h1.2m-59.3 15h2m53.7 .2h1.4m-55.2 13.9h1.6m-2.3 5.6h1.5m113.8 18.2h2.1" stroke="#4aae5e" stroke-width="5.8" stroke-linecap="round"/>
<path d="M1062.4 568.4h1.7m11.5 2.5h2.1m74.7 4.2h1.5m-93.9 9.1h2.2m81.2 0h1.3m10.2 8.3h1.1m-20.7 16.3h2.1m-79.7 3.2h1.3m60.2 31.5h2.1m53.6 75.1h.8m10.4 3.8h2.1m-92.2 1.7h1.4m-10.5 12.5h.8m64.2-2.3h1.3m-84.6 8.7h1.4m86.2-.9h2.1m-4.2 9.6h.9" stroke="#44a286" stroke-width="5.0" stroke-linecap="round"/>
<path d="M1071.5 567h1.7m16.4 15.6h1.5m-1.8 6.2h2m-9.8 2.7h1.1m15.5 .6h1.5m6.6 .9h1.4m78.4-.7h2.1m-101.1 7h1.6m33.7 32.6h1.7m-63.5 12.9h1.1m35-.1h1.3m88.3-2.3h2m-63.8 8.1h2m-68.2 2.1h1.3m14.6 1h1.1m65.8 4.1h1.6m-82.6 12.2h1m57.4 1.2h1.3m26.8-3.5h1.6m16.2 3.5h1.2m-28.3 2.7h1m-78.9 5.9h1.8m101.3-.7h1.8m-39.1 7.9h2.1m44.4 1.9h1.6m-93 11.1h1.5m34.5 1.9h1.9m-61.9 1.7h.9m17.3 0h1m69 2.9h.8m-59.5 12.2h1.4m66.5 .6h1.4m-30.9 6.4h1.7m21.2 2.2h1.3m19.2-3.7h1.2m-89.2 12.5h1.7m33.6 1.5h1.1m23.9-1.8h2m-2.3 3.9h1.3m-21.9 15.2h1.4m37 2.5h.9m-39.4 9.6h1.3m-42.5 .6h1.4m70.1 0h1.4" stroke="#50b04c" stroke-width="5.4" stroke-linecap="round"/>
<path d="M1078.1 566.4h1.2m14.5 1h1.1m30.2-2.2h1.7m-17.1 12.9h1.7m74.2-.4h2.1m-94.4 5.3h2.1m28.5 .3h2.2m-2.4 6.2h2m-10 13.3h2.1m60.2 .4h1.4m-63.5 6.7h1.7m13.5-2.1h1.6m53.9-.6h1.1m-23.7 12.9h2m2 0h1.6m-62.8 2.6h1.7m55.8 .6h1m21.2-1h1.3m-118.2 7.2h1.8m111.8 2.2h1.4m-86.6 7.9h1.4m-45.5 18.3h2.1m80.7 13.4h2.1m-64.7 4.3h1.4m97.9-1.6h2m-104.4 9.3h1.9m112.4 3.4h2.1m-68.4 19.9h2m-60.4 17.4h2.1m70.3 5.4h.9m-72.8 10.3h1.3m77.8 28.4h.9" stroke="#58b844" stroke-width="5.0" stroke-linecap="round"/>
<path d="M1084.7 565.3h1.9m100.1-.2h.9m-105.5 7.8h2m102.3 7.3h1.6m-9.7 19h1.7m-15 3.7h1.4m-75.4 20.9h1.3m26 .5h1.2m-32.6 8.3h1.1m-16.5 6.8h2.1m5.8 5.2h1.4m45.3-.3h.9m-58.2 6.3h1.6m97.4-3.8h1.9m8.8 .8h1.1m-13.2 6.6h1.7m-83.1 13.5h.9m-2.3 4.8h1.1m.9 7.7h1.9m48.2 5.5h1.1m-4.9 7.5h1.2m9.3 1.4h1.1m-32.8 4.6h1.6m-7.9 8.2h1.7m52.7 8.8h1.5m-96.3 3.9h1.9m69.7 2.4h1.2m-5.5 2.1h2.1m-70.9 5.3h.8m78.2 22.3h1.5m38.8-1.4h1.5m-94.1 10.8h2.1m7.2 .9h1.2m65.9 5.6h2.2" stroke="#4aae5e" stroke-width="5.4" stroke-linecap="round"/>
<path d="M1098.8 566.4h1.2m5.3 5.6h1.6m57.6 21.2h2m-71.5 5.1h1.2m13.1 4.9h1.1m62.3-1.9h1.1m-3.7 9.8h1.6m-108.5 8.4h2.1m6-1.1h1.6m76.9 5.8h1.6m21 .3h.9m-100.6 9.1h.8m68.7-2.2h1.7m-87.1 5.2h2.1m33.3 1.7h1.6m30 1.8h1.9m-10.1 10.4h2.1m-3.2 12.3h2m-47.1 6.7h1.7m73 4.4h2.1m18.8 1h1.4m-112 3.8h1m69 1.2h.9m43.5 .6h1.2m-90.8 4.9h1.6m-2.5 6.2h2.2m-26 25.2h2.2m6-3.1h1.6m72.1 2.5h1.6m28.1-2.3h1.4m-51.4 10.2h2.1m-61.5 4.9h.9m96.2 .5h1.9m-53.1 13.3h1.1m79.5-.6h1.6m-105.6 17.6h1.4m25.7 1.4h2.1" stroke="#52b258" stroke-width="5.0" stroke-linecap="round"/>
<path d="M1118.1 569h2m27.9-1.8h1.6m-58.1 8.7h1m51.4 3.3h1.7m-35.5 16.5h.9m75.6 3.4h1.3m-104.4 4.9h1.8m-3.5 6h1.9m18.1-3.3h1.8m72.8 .8h1.4m8.4 4.2h2m-79.4 11.7h1.8m-32 9.8h2m8.5 10.9h1.7m-17 2.7h1.8m11.8 8.8h1.5m90.2 20h1.5m-18.2 21.3h2.1m-47.3 11.8h1.9m-48.2 4.9h1.9m-5.8 8h2m37.7-1.8h.8m22.4 1.4h2.2m7.4 3h2.2m-83.6 13.6h1.1m60-3.8h1.4m-12.7 15.2h1m19.3 2.6h1.6m-39.1 3.4h1.5m22.3 1.2h1.1m70.5 4.2h2.1m-123.8 6.8h1.7" stroke="#5fbc48" stroke-width="5.0" stroke-linecap="round"/>
<path d="M1128.1 566h1.1m-42.6 10.8h1m-19.8 5.5h1.7m98.7 .5h1.2m-14.9 5.4h.9m27.6 3.3h.9m-62.5 5.5h1.7m37.6 0h2.1m-57.1 6.7h1.3m-.7 3.4h1.7m44.1 7.5h1.2m-44.4 3.9h.9m76.4-1.2h1.9m-132.7 6.8h1.7m75.8 4.3h.8m-74 9.6h1.8m124.1 .9h1.4m-19.9 6.1h2.1m-108.2 2.8h.9m83-.6h1.3m14.6-.2h1.4m-75.2 13.8h1.5m6.5-2.3h1.6m85.3 2.5h1.7m-46.3 2.6h1m33 6.1h1.1m-97.2 11.2h1m59.9-.4h1.3m10 8.4h.8m-87.3 7.9h1.5m75.5 3.7h1.8m24.1 1h1.6m-31.4 2.4h.9m-18.8 11.8h2.2m26.2 1.7h.9m2.3 4.6h1.3m36.5 14.5h.8m-131.1 4.4h1.5m87.6 1h1.7m-85.5 4.9h1.6m55.7 .7h1.6m8.3-2.3h1.4m54.3-.6h1.7m-2.8 13.3h.9m-128.8 4.6h1.1m67.8 5.6h1.8m59.2 0h1.7m.1 0h2.2" stroke="#52b258" stroke-width="5.8" stroke-linecap="round"/>
<path d="M1137.1 567.8h2.2m-71.6 5.2h1.9m77.3 1.2h1.3m-78.9 21.6h1.7m61.6 39.3h2.1m47.5 30.9h1m-70 24.9h2.1m69.7 10h2.1m-99.6 4.8h1.1m10.4 5.1h1m-25.4 26.1h1.5m17.7 4.8h1.7m-5.3 11.1h1.6m-28.5 15.3h2" stroke="#43a08a" stroke-width="5.4" stroke-linecap="round"/>
<path d="M1154.3 567.3h2.1m-9 13.9h2m-20.7 6.2h1m-64.7 17.1h.9m73.6 25.6h.9m-15 3.2h.9m-13.5 5.4h1.5m16.7 .8h2.1m-34.5 41.6h1.5m-12.5 10.4h.9m-5.5 9.1h1.7m82.4 3.7h.8m-78.5 14.2h1.3m-24.1 26.1h1.6m100.7 18.8h1m-6.7 4.7h1.4" stroke="#43a08a" stroke-width="5.8" stroke-linecap="round"/>
<path d="M1158.2 567.1h1.6m-50.2 5.5h1.7m69.9-.3h1m-100.4 12h1.4m-16.7 3.3h1.9m3.1 6.8h1.9m57.9 3.9h2m2.6 .6h1.9m-63.2 2h1m49.5 2.8h.8m17.7 5.7h.8m18.9-2h.8m-76 4.3h1.9m-23.3 11.4h1m118.1 4.5h1.4m-1 2.4h2m-84.6 5.6h1.1m38.1 3.2h1.9m-54 9.7h1.8m-11.1 4.1h1.5m-16.3 5.3h1.9m8.7 1.2h1.3m77.8-1.2h.9m17.8 2h.8m-84.1 2.9h1m62.4 3h1.3m6.3-1.4h1m-70 5.7h1.9m11.8 .3h1.2m41.2 13.3h2.2m-80.3 7.7h1.9m90.7-1.3h1.9m9.5-1.3h1m-66.2 16.6h2m1.9 9.8h1.3m-25 11.4h1.6m12.4 4.7h1.9m-1.2 6.1h1.2m18 2.3h2m-16.3 5.6h1.5m-17.3 12.8h1.8m36.2 3.4h1.1m41.9-1.9h.9" stroke="#50b04c" stroke-width="5.0" stroke-linecap="round"/>
<path d="M1166.9 566.6h1.9m-46.4 10.8h.8m-52.9 4.7h1.9m36.5 1.2h1.4m-29.8 3h.9m85.7-.4h1.3m-79.2 18.9h1.3m65.2-1.4h1.2m-91.4 8h1.1m59.7 2.2h1.4m4.8-.1h1.6m-59.9 11.4h1.7m22-3.1h1.4m56.9 7.3h1.8m12.9-2.5h1m-102.8 9h1.1m103.4-2.3h1.5m11.9 3.7h.8m-55.5 5.5h1.4m-12.1 10.3h1.1m-16.9 6h1.4m64.1 2h2.1m-44.4 11.7h1.9m17.4 3.5h1m-3.5 5h1.2m-22.4 6.7h1.2m27.6 11.4h1.5m-88.1 11.4h1.1m70.8-.7h1.8m7.6 7.6h1.4m37 12.4h1.9m-56.7 10h1.3m11.7 5.8h.9m40.9 1.9h1.9m-86.2 5.7h1.8m-36.5 7.9h1.5m106.5 7h1.8" stroke="#5fbc48" stroke-width="5.4" stroke-linecap="round"/>
<path d="M1173.5 567.6h1.4m11.5-2.7h1.6m-99 9h.8m11 6.9h1.8m19.2 1.9h1.9m-22 6.7h2.1m-15.1 2.2h1.1m-3.3 24.9h1.8m2.6 1.5h1.3m-28 12.1h1.1m11.8-3.7h1.5m79.7 5.9h1.5m-93.1 13.6h1.9m-2.5 18.9h1.8m60.6 .9h2.1m-67.1 7.6h1.4m63.9 4.5h2.1m-69.8 8.3h1.2m36 .8h.9m55.8-3.5h1.2m9.4 3.5h1.6m12 17.7h1.3m-54.9 7.7h1.4m56.8-3.4h1m-80.7 15.3h2.1m52.7 16.6h.9m26.8-.2h1.1m-84.1 5.9h1.8m35.7 11.6h1.2" stroke="#4aae5e" stroke-width="5.0" stroke-linecap="round"/>
<path d="M1057.2 570.6h1.2m82.3 7.3h1.2m2.9 15.3h2m-9.7 31.3h1.1m-33.1 14h1.8m79.8 12.2h1m-92.5 14.7h2.2m6 4.9h1.2m-.2 16.3h1.2m3 10.1h1.5m64.4 4.7h.9m-13.7 10.6h1.5m-70.1 1.5h1.9m75.7 .7h2m12.7 6.9h1.5m-20.3 10.3h.8m-23 36.7h1.5m3.6-1.8h2.1m-69.2 1.8h1.5" stroke="#4cac76" stroke-width="5.4" stroke-linecap="round"/>
<path d="M1097.2 571.1h1.3m4.3 4.1h2m61.1 2.4h1.5m10.8 6.7h.9m-7.1 6.7h1.4m-8.2 21.6h2.1m-93.2 7h1.6m98.5-2.5h1.7m6.3 1.6h2m-100 3.4h.8m73.1 1.6h1.7m-102.7 6.6h1.8m104.4-1.3h1.3m9.3 .6h1.9m-9.1 3.6h1.9m-24.4 21.3h1.8m4.5 1.2h1.1m-80 10.4h.9m72.1-.6h2m-33.1 14h2.1m-61.7 10.6h2m69 15h1.5m-65.9 7.4h1.8m-6.9 9.5h1.5m61.3-2.4h2m66 7h2m-46.6 4.6h1.3m-33.2 10.1h1.2m-55.3 10.9h.8m56.5 .1h2m9.3-.2h2m60.1 10.6h1.8" stroke="#50b04c" stroke-width="5.8" stroke-linecap="round"/>
<path d="M1127 569.9h2m57.3 .9h1.7m-104.5 17.4h.8m25.9-.4h.9m4.3-.2h1m-4.2 5.4h2.2m5.1-2.3h2m-24.7 6h2.1m87 5.6h1.1m-127.2 5.1h1m10.4 7h1.3m48.7 .5h1.2m-23.9 5.4h.9m-7.8 8.9h1.5m4.7-.1h1.2m10.2 5.2h.9m48.5 6.4h1m-59.8 7.4h1.3m59.2 9.3h1.5m24.9 .1h1m-35.5 7.1h2m18.4 1h2m-81.5 12h1.7m60.8 3.7h1.9m-66.5 3.1h1.6m50.4 1.6h1.9m41.4 8.6h1.7m-133.1 6.9h2.2m65-2.5h1m7.2 3.1h1.8m-65.3 22.3h1.4m64.7 32h1.1m45.5 8.9h1.3m-51.6 2.8h1.5" stroke="#5fbc48" stroke-width="5.8" stroke-linecap="round"/>
<path d="M1135.6 570.3h1.2m-4.1 12.9h1m-78.2 3.5h1.8m5.4 1.9h1.7m79.1 .1h2.2m-86.2 7.2h1.5m48.7 77.5h1.1m-3.9 4.6h1.7m-15.7 22.7h1.3m2.9-1.2h2.2m75.6 7.6h1.1m-73.6 8h1.7m-29.5 9.4h2m22 4.3h1.8m56.4 8.1h2.2m3.4 .5h1.8m-84.5 8.5h1.3m66.4 2h1.7m-71.1 9.3h1.8m3.8 2.8h1m59.1 1.2h1.7" stroke="#44a286" stroke-width="5.8" stroke-linecap="round"/>
<path d="M1143 571.4h1.8m9.8-.8h1.7m.4 9.9h.8m-99.2 10.5h1m-4.8 18.2h1.6m84.5 3.6h1.9m-18.9 6.5h1.1m-9 9.9h1.2m19.4 8.9h1.2m-26.2 14.2h1.3m10.6 7.2h1.1m-20.4 15.4h1.1m70.3 4.5h1.4m10.1 24.9h.9m-108.4 4.8h.9m10.1 2.6h1.5m80.5 22.4h1.9m2.2 6.8h.8m-88.2 5.7h1.2m85.3 5.4h1.4m-114.3 5.1h1.4m-3.5 3.6h.9m97.5 6.7h1.4" stroke="#4cac76" stroke-width="5.8" stroke-linecap="round"/>
<path d="M1164.9 571h2.1m19.6 14.6h1.2m-107.7 23.3h1.5m-1 3.9h1.8m11.1-1.9h2m17.3 1.4h1.3m-59.9 5.2h1.3m89.5-.4h1.2m-18.3 7.6h1.1m54.4-.6h1.5m-124.5 8.3h1.9m14.8 6.9h1.3m23.2 3.2h1.1m53.2 1.2h2m-103.4 7h.8m24.7 20h1.7m37.4 5.3h1.7m19.1 15.1h1m12.3-3.1h2m-90.3 8.1h1.9m21.4-.6h1.7m-21.6 3h1m76.7 .1h1.9m-37.6 10.5h2m16.2 2.2h1.2m-18.2 13.2h2m10.4 11.3h1.2m8.9 1.2h2.1m-19.4 2.8h1.5m-21.8 5.4h1.1m14.8 16.7h2.2m38.4 1.5h.9m-28.7 1.4h1.4" stroke="#58b844" stroke-width="5.8" stroke-linecap="round"/>
<path d="M1172.9 572h1.7m-15.2 15.3h2.2m-46 11.7h1.1m53.8 0h1.3m-18.7 3.8h1m-87.3 4h1.8m35.9 5.4h1.5m51.1 1.6h1.2m20.1-1.1h1.1m-94.4 17.8h1.4m10.3 4.5h2.1m-14.1 5.3h1.7m66-1.5h2m24.5 .2h1.2m-94.2 7.9h1.5m9.6 7.9h1.6m57.7-1.8h1.3m-24.7 5h2m-78.7 7.7h.9m49.1-.7h1.4m20.8 3h2.1m21.2 1.8h.9m22.4-.5h.9m-120 4.3h1.8m12.5 5.2h1.7m-12.3 10.5h1.6m70.8 .2h1m-60.4 3.9h1.7m7.6 1.4h1.5m34.4 1.2h2.2m32.5-.8h2m26.6 .2h1.1m-123.7 5.5h1.8m34.7 3.9h1m2.1 13.7h1.6m26.5 2h.8m45.9 3.6h1.4m10.4 6.8h1.6m-119.1 6.7h1.8m63.7 8h1.5m39.7 .7h1.1m11.2 3h1.8m-81.6 8.3h1.8m77.9-1.7h1.9m-67.8 7.5h2m-27.1 4h1.4m6.1-2.5h1.5m7.8 .8h1m58.8 2.4h1.9m-64.4 0h1.5m3.7 0h1.3" stroke="#58b844" stroke-width="5.4" stroke-linecap="round"/>
<path d="M1055.6 576.9h1.1m76.6-1.7h1.8m-6.1 17.8h.9m22.3 3.4h2.1m-17.2 21.7h1.8m45.7 32.7h2m-72.2 6.6h1.3m70.6 11h1.5m-1 1.4h.8m-1.4 9.7h2m-113.7 40.1h1.4m102.5 7h.9m-95.1 14.5h1.2m79 3.4h1.7m-108.1 21.4h1.7m20.1 2h2.2m-15 .2h1.5" stroke="#48a87e" stroke-width="5.8" stroke-linecap="round"/>
<path d="M1061.9 579h1.5m79 22.9h1.7m-35.5 46.1h1.8m-10.4 9.7h1.2m17.2 7.3h1.8m64.9 1.3h1.3m-.1 7.3h1.7m-4 5.2h1.5m-85.7 10h.9m6.9 1.6h1.9m76.3-1.4h2.2m-106.8 16.8h1.6m1.2 8.5h1.6m1.2 1.6h2.2m72.7 2.8h2.2m9.9 11.7h1.9m-4.6 11.9h.9m-7.1 22.5h2.2m-13.4 3.3h.8" stroke="#44a286" stroke-width="5.4" stroke-linecap="round"/>
<path d="M1066.4 576.2h1.2m10.3-.9h.8m64.6 20.9h1.6m-42 56.9h.9m8.3 32.5h1.3m62.1 10.9h2.2m-.4 19.2h1.4m7-1.9h.9m-7.7 20.6h2m-19.4 16.6h1.5m8 .5h1.5m-112 4.7h1.6m104.2 .9h2.1m3.1 .4h1.1m-33.1 5.9h1.7m23-1.6h1.1" stroke="#43a08a" stroke-width="5.0" stroke-linecap="round"/>
<path d="M1160 577.3h1.2m-24.2 24.2h1.9m-16.6 26.2h.8m-13.2 16.1h2m70.5 11h1.7m2.5 .8h1.1m-90.8 39.1h2m3.4 1.6h1.7m63.6 1.8h1.2m17.7 1.4h1.4m-1.4 12.7h1.4m-19.4 10.5h1.2m-9.8 9.8h1m-2 14.6h1.2m-73.6 4.3h1.9m60 3.5h.9m-76.8 10.3h1.1" stroke="#48a87e" stroke-width="5.0" stroke-linecap="round"/>
<path d="M1170.3 582.2h1.4m-33.5 4.1h1.2m34.8 1.8h1.6m10.4-.4h1.9m-131.1 10.8h1.6m16.6-2.5h1.8m21.8 8.1h1.4m-8.8 4.1h1.4m75.1 0h.8m17.7 .8h1.5m-74.2 8.7h1.6m14.1 .1h2m22.6 2.1h1.6m-48.3 10.6h.8m35.2-2.7h1.9m-68.8 13.8h1.1m67.8 3.1h1.4m-18.4 3.8h1.5m3.8 4.5h1.3m21.8 23.1h2.2m0 20.2h1.8m-94 8.2h1.6m76.4 7h1.6m6.8-2.1h1m-74.4 18.3h1.3m35.5 2.4h1.1m26.3-1.2h1.8m-49.3 8.2h1.1m28.8 17.4h.8m-39.9 11.3h1.1m48.3-.9h2m-44.4 3.2h1.8m3.4 0h1.4" stroke="#52b258" stroke-width="5.4" stroke-linecap="round"/>
<path d="M1065.5 591.5h2.1m82.5 1.2h1.6m-28.7 75.4h2.1m61.4 20.3h1.4m-9 21.2h1.3m-104.8 20.7h1.4m11.3-1.2h1.2m4.6 1.8h1.5m-17.9 9.3h1.4m-1.8 10h1.7m70.4-.5h1.1m-77.4 6.8h1.1m-18.2 11.6h1.1" stroke="#4cac76" stroke-width="5.0" stroke-linecap="round"/>
<path d="M1132.4 592.5h2.1m-76.8 12h1.1m62.2 5.4h1.2m19.1 13.4h1.6m-51.2 50.5h1m.7-.5h1.7m21.6 10.1h.8m56.7-.4h1.1m7.3 1.7h1.6m-94.2 3.1h1.1m-9.1 22.2h.9m85.9 1.4h1.1m-14.8 13h1.7m-92.6 27.3h2" stroke="#48a87e" stroke-width="5.4" stroke-linecap="round"/>
</g></g>
<text x="990.9" y="595.9" font-size="20" fill="#fff" text-anchor="middle" >0%</text>
<text x="1125.3" y="595.9" font-size="20" fill="#fff" text-anchor="middle" >30%</text>
<line x1="1099" y1="605.2" x2="1151.5" y2="605.2" stroke="#fff" stroke-width="1.6"/>
<path d="M1094.7 605.2 L1101.5 601.6 L1101.5 608.8Z M1156 605.2 L1149.2 601.6 L1149.2 608.8Z" fill="#fff"/>
<rect x="997" y="756.1" width="49.9" height="2.9" fill="#fff"/>
<text x="1021.8" y="749.9" font-size="14.8" fill="#fff" text-anchor="middle" >25 μm</text>
<rect x="1129.8" y="756.1" width="49.9" height="2.9" fill="#fff"/>
<text x="1154.6" y="749.9" font-size="14.8" fill="#fff" text-anchor="middle" >25 μm</text>
<defs><linearGradient id="gG" x1="0" y1="0" x2="0" y2="1"><stop offset="0" stop-color="#3aa96a"/><stop offset="1" stop-color="#c6ecd8"/></linearGradient><linearGradient id="gR" x1="0" y1="0" x2="0" y2="1"><stop offset="0" stop-color="#ec3a3e"/><stop offset="1" stop-color="#f9c4c6"/></linearGradient></defs>
<rect x="66" y="631.2" width="12.5" height="139.1" fill="url(#gG)"/>
<rect x="78.5" y="768" width="12.5" height="2.2" fill="url(#gR)"/>
<rect x="93.8" y="642.7" width="12.5" height="127.5" fill="url(#gG)"/>
<rect x="106.2" y="768" width="12.5" height="2.2" fill="url(#gR)"/>
<rect x="121.5" y="676.3" width="12.5" height="93.9" fill="url(#gG)"/>
<rect x="134" y="765.3" width="12.5" height="5" fill="url(#gR)"/>
<rect x="149.2" y="692.3" width="12.5" height="78" fill="url(#gG)"/>
<rect x="161.8" y="758.3" width="12.5" height="11.9" fill="url(#gR)"/>
<rect x="177" y="758.3" width="12.5" height="12" fill="url(#gG)"/>
<rect x="189.5" y="644" width="12.5" height="126.3" fill="url(#gR)"/>
<rect x="204.8" y="766" width="12.5" height="4.3" fill="url(#gG)"/>
<rect x="217.2" y="623.1" width="12.5" height="147.1" fill="url(#gR)"/>
<rect x="232.5" y="769.7" width="12.5" height="0.5" fill="url(#gG)"/>
<rect x="245" y="600.2" width="12.5" height="170" fill="url(#gR)"/>
<line x1="72.2" y1="651" x2="72.2" y2="594.7" stroke="#555" stroke-width="1" />
<line x1="70.2" y1="594.7" x2="74.2" y2="594.7" stroke="#555" stroke-width="1" />
<line x1="70.2" y1="651" x2="74.2" y2="651" stroke="#555" stroke-width="1" />
<line x1="84.8" y1="769.3" x2="84.8" y2="766.3" stroke="#555" stroke-width="1" />
<line x1="82.8" y1="766.3" x2="86.8" y2="766.3" stroke="#555" stroke-width="1" />
<line x1="82.8" y1="769.3" x2="86.8" y2="769.3" stroke="#555" stroke-width="1" />
<line x1="100" y1="664.8" x2="100" y2="599.3" stroke="#555" stroke-width="1" />
<line x1="98" y1="599.3" x2="102" y2="599.3" stroke="#555" stroke-width="1" />
<line x1="98" y1="664.8" x2="102" y2="664.8" stroke="#555" stroke-width="1" />
<line x1="112.5" y1="769.3" x2="112.5" y2="766.3" stroke="#555" stroke-width="1" />
<line x1="110.5" y1="766.3" x2="114.5" y2="766.3" stroke="#555" stroke-width="1" />
<line x1="110.5" y1="769.3" x2="114.5" y2="769.3" stroke="#555" stroke-width="1" />
<line x1="127.8" y1="683.3" x2="127.8" y2="671.2" stroke="#555" stroke-width="1" />
<line x1="125.8" y1="671.2" x2="129.8" y2="671.2" stroke="#555" stroke-width="1" />
<line x1="125.8" y1="683.3" x2="129.8" y2="683.3" stroke="#555" stroke-width="1" />
<line x1="140.2" y1="767.3" x2="140.2" y2="763.3" stroke="#555" stroke-width="1" />
<line x1="138.2" y1="763.3" x2="142.2" y2="763.3" stroke="#555" stroke-width="1" />
<line x1="138.2" y1="767.3" x2="142.2" y2="767.3" stroke="#555" stroke-width="1" />
<line x1="155.5" y1="703.8" x2="155.5" y2="684.6" stroke="#555" stroke-width="1" />
<line x1="153.5" y1="684.6" x2="157.5" y2="684.6" stroke="#555" stroke-width="1" />
<line x1="153.5" y1="703.8" x2="157.5" y2="703.8" stroke="#555" stroke-width="1" />
<line x1="168" y1="761" x2="168" y2="755" stroke="#555" stroke-width="1" />
<line x1="166" y1="755" x2="170" y2="755" stroke="#555" stroke-width="1" />
<line x1="166" y1="761" x2="170" y2="761" stroke="#555" stroke-width="1" />
<line x1="183.2" y1="761.6" x2="183.2" y2="753.2" stroke="#555" stroke-width="1" />
<line x1="181.2" y1="753.2" x2="185.2" y2="753.2" stroke="#555" stroke-width="1" />
<line x1="181.2" y1="761.6" x2="185.2" y2="761.6" stroke="#555" stroke-width="1" />
<line x1="195.8" y1="647" x2="195.8" y2="639.5" stroke="#555" stroke-width="1" />
<line x1="193.8" y1="639.5" x2="197.8" y2="639.5" stroke="#555" stroke-width="1" />
<line x1="193.8" y1="647" x2="197.8" y2="647" stroke="#555" stroke-width="1" />
<line x1="211" y1="768.1" x2="211" y2="763.7" stroke="#555" stroke-width="1" />
<line x1="209" y1="763.7" x2="213" y2="763.7" stroke="#555" stroke-width="1" />
<line x1="209" y1="768.1" x2="213" y2="768.1" stroke="#555" stroke-width="1" />
<line x1="223.5" y1="626.3" x2="223.5" y2="619.4" stroke="#555" stroke-width="1" />
<line x1="221.5" y1="619.4" x2="225.5" y2="619.4" stroke="#555" stroke-width="1" />
<line x1="221.5" y1="626.3" x2="225.5" y2="626.3" stroke="#555" stroke-width="1" />
<line x1="238.8" y1="770.1" x2="238.8" y2="769.3" stroke="#555" stroke-width="1" />
<line x1="236.8" y1="769.3" x2="240.8" y2="769.3" stroke="#555" stroke-width="1" />
<line x1="236.8" y1="770.1" x2="240.8" y2="770.1" stroke="#555" stroke-width="1" />
<line x1="251.2" y1="606.7" x2="251.2" y2="594.5" stroke="#555" stroke-width="1" />
<line x1="249.2" y1="594.5" x2="253.2" y2="594.5" stroke="#555" stroke-width="1" />
<line x1="249.2" y1="606.7" x2="253.2" y2="606.7" stroke="#555" stroke-width="1" />
<line x1="58.5" y1="571.4" x2="264.5" y2="571.4" stroke="#333" stroke-width="1.3" />
<line x1="59" y1="770.2" x2="264.5" y2="770.2" stroke="#333" stroke-width="1.3" />
<line x1="59" y1="571.4" x2="59" y2="770.2" stroke="#a9dcbc" stroke-width="1.2" />
<line x1="264.5" y1="571.4" x2="264.5" y2="770.2" stroke="#ff5050" stroke-width="1.2" />
<line x1="59" y1="770.2" x2="62" y2="770.2" stroke="#a9dcbc" stroke-width="1" />
<text x="55.5" y="775.9" font-size="15.6" fill="#3cae6e" text-anchor="end" >0.0</text>
<line x1="59" y1="743.7" x2="62" y2="743.7" stroke="#a9dcbc" stroke-width="1" />
<text x="55.5" y="749.3" font-size="15.6" fill="#3cae6e" text-anchor="end" >0.2</text>
<line x1="59" y1="717.1" x2="62" y2="717.1" stroke="#a9dcbc" stroke-width="1" />
<text x="55.5" y="722.7" font-size="15.6" fill="#3cae6e" text-anchor="end" >0.4</text>
<line x1="59" y1="690.6" x2="62" y2="690.6" stroke="#a9dcbc" stroke-width="1" />
<text x="55.5" y="696.2" font-size="15.6" fill="#3cae6e" text-anchor="end" >0.6</text>
<line x1="59" y1="664" x2="62" y2="664" stroke="#a9dcbc" stroke-width="1" />
<text x="55.5" y="669.6" font-size="15.6" fill="#3cae6e" text-anchor="end" >0.8</text>
<line x1="59" y1="637.4" x2="62" y2="637.4" stroke="#a9dcbc" stroke-width="1" />
<text x="55.5" y="643" font-size="15.6" fill="#3cae6e" text-anchor="end" >1.0</text>
<line x1="59" y1="610.9" x2="62" y2="610.9" stroke="#a9dcbc" stroke-width="1" />
<text x="55.5" y="616.5" font-size="15.6" fill="#3cae6e" text-anchor="end" >1.2</text>
<line x1="59" y1="584.3" x2="62" y2="584.3" stroke="#a9dcbc" stroke-width="1" />
<text x="55.5" y="589.9" font-size="15.6" fill="#3cae6e" text-anchor="end" >1.4</text>
<line x1="261.5" y1="770.2" x2="264.5" y2="770.2" stroke="#ff5050" stroke-width="1" />
<text x="267.5" y="775.9" font-size="15.6" fill="#ff2020" text-anchor="start" >0</text>
<line x1="261.5" y1="720.5" x2="264.5" y2="720.5" stroke="#ff5050" stroke-width="1" />
<text x="267.5" y="726.1" font-size="15.6" fill="#ff2020" text-anchor="start" >100</text>
<line x1="261.5" y1="670.8" x2="264.5" y2="670.8" stroke="#ff5050" stroke-width="1" />
<text x="267.5" y="676.4" font-size="15.6" fill="#ff2020" text-anchor="start" >200</text>
<line x1="261.5" y1="621.1" x2="264.5" y2="621.1" stroke="#ff5050" stroke-width="1" />
<text x="267.5" y="626.7" font-size="15.6" fill="#ff2020" text-anchor="start" >300</text>
<line x1="261.5" y1="571.4" x2="264.5" y2="571.4" stroke="#ff5050" stroke-width="1" />
<text x="267.5" y="577" font-size="15.6" fill="#ff2020" text-anchor="start" >400</text>
<text x="78.5" y="785.5" font-size="14" fill="#222" text-anchor="middle" >9:1</text>
<text x="106.2" y="785.5" font-size="14" fill="#222" text-anchor="middle" >8:2</text>
<text x="134" y="785.5" font-size="14" fill="#222" text-anchor="middle" >7:3</text>
<text x="161.8" y="785.5" font-size="14" fill="#222" text-anchor="middle" >5:5</text>
<text x="189.5" y="785.5" font-size="14" fill="#222" text-anchor="middle" >3:7</text>
<text x="217.2" y="785.5" font-size="14" fill="#222" text-anchor="middle" >2:8</text>
<text x="245" y="785.5" font-size="14" fill="#222" text-anchor="middle" >1:9</text>
<text x="161.8" y="806.8" font-size="17.8" fill="#111" text-anchor="middle" >DPPT-TT:SHE (wt%)</text>
<text x="0" y="0" font-size="18" fill="#3cae6e" text-anchor="middle" transform="translate(24,671.5) rotate(-90)">Young's modulus (GPa)</text>
<text x="0" y="0" font-size="17.6" fill="#ff3434" text-anchor="middle" transform="translate(300.5,673.5) rotate(90)">Crack onset strain (%)</text>
<text x="11" y="562.5" font-size="30.5" fill="#000" text-anchor="start" font-weight="bold" >c</text>
<rect x="401.3" y="565.7" width="206.1" height="194.3" fill="none" stroke="#333" stroke-width="1.3"/>
<line x1="401.3" y1="565.7" x2="407.3" y2="565.7" stroke="#333" stroke-width="1.1" />
<line x1="401.3" y1="611" x2="404.3" y2="611" stroke="#333" stroke-width="1" />
<line x1="401.3" y1="599.6" x2="404.3" y2="599.6" stroke="#333" stroke-width="1" />
<line x1="401.3" y1="591.5" x2="404.3" y2="591.5" stroke="#333" stroke-width="1" />
<line x1="401.3" y1="585.2" x2="404.3" y2="585.2" stroke="#333" stroke-width="1" />
<line x1="401.3" y1="580.1" x2="404.3" y2="580.1" stroke="#333" stroke-width="1" />
<line x1="401.3" y1="575.7" x2="404.3" y2="575.7" stroke="#333" stroke-width="1" />
<line x1="401.3" y1="572" x2="404.3" y2="572" stroke="#333" stroke-width="1" />
<line x1="401.3" y1="568.7" x2="404.3" y2="568.7" stroke="#333" stroke-width="1" />
<line x1="401.3" y1="630.5" x2="407.3" y2="630.5" stroke="#333" stroke-width="1.1" />
<line x1="401.3" y1="675.7" x2="404.3" y2="675.7" stroke="#333" stroke-width="1" />
<line x1="401.3" y1="664.3" x2="404.3" y2="664.3" stroke="#333" stroke-width="1" />
<line x1="401.3" y1="656.2" x2="404.3" y2="656.2" stroke="#333" stroke-width="1" />
<line x1="401.3" y1="650" x2="404.3" y2="650" stroke="#333" stroke-width="1" />
<line x1="401.3" y1="644.8" x2="404.3" y2="644.8" stroke="#333" stroke-width="1" />
<line x1="401.3" y1="640.5" x2="404.3" y2="640.5" stroke="#333" stroke-width="1" />
<line x1="401.3" y1="636.7" x2="404.3" y2="636.7" stroke="#333" stroke-width="1" />
<line x1="401.3" y1="633.4" x2="404.3" y2="633.4" stroke="#333" stroke-width="1" />
<line x1="401.3" y1="695.2" x2="407.3" y2="695.2" stroke="#333" stroke-width="1.1" />
<line x1="401.3" y1="740.5" x2="404.3" y2="740.5" stroke="#333" stroke-width="1" />
<line x1="401.3" y1="729.1" x2="404.3" y2="729.1" stroke="#333" stroke-width="1" />
<line x1="401.3" y1="721" x2="404.3" y2="721" stroke="#333" stroke-width="1" />
<line x1="401.3" y1="714.7" x2="404.3" y2="714.7" stroke="#333" stroke-width="1" />
<line x1="401.3" y1="709.6" x2="404.3" y2="709.6" stroke="#333" stroke-width="1" />
<line x1="401.3" y1="705.3" x2="404.3" y2="705.3" stroke="#333" stroke-width="1" />
<line x1="401.3" y1="701.5" x2="404.3" y2="701.5" stroke="#333" stroke-width="1" />
<line x1="401.3" y1="698.2" x2="404.3" y2="698.2" stroke="#333" stroke-width="1" />
<line x1="401.3" y1="760" x2="407.3" y2="760" stroke="#333" stroke-width="1.1" />
<line x1="415.8" y1="760" x2="415.8" y2="757" stroke="#333" stroke-width="1" />
<line x1="445.3" y1="760" x2="445.3" y2="757" stroke="#333" stroke-width="1" />
<line x1="474.8" y1="760" x2="474.8" y2="757" stroke="#333" stroke-width="1" />
<line x1="504.2" y1="760" x2="504.2" y2="757" stroke="#333" stroke-width="1" />
<line x1="533.7" y1="760" x2="533.7" y2="757" stroke="#333" stroke-width="1" />
<line x1="563.2" y1="760" x2="563.2" y2="757" stroke="#333" stroke-width="1" />
<line x1="592.7" y1="760" x2="592.7" y2="757" stroke="#333" stroke-width="1" />
<text x="394.6" y="571.8" font-size="16.5" fill="#111" text-anchor="end">10<tspan font-size="11.5" dy="-6.3">0</tspan></text>
<text x="394.6" y="636.6" font-size="16.5" fill="#111" text-anchor="end">10<tspan font-size="11.5" dy="-6.3">-1</tspan></text>
<text x="394.6" y="701.3" font-size="16.5" fill="#111" text-anchor="end">10<tspan font-size="11.5" dy="-6.3">-2</tspan></text>
<text x="394.6" y="766.1" font-size="16.5" fill="#111" text-anchor="end">10<tspan font-size="11.5" dy="-6.3">-3</tspan></text>
<polyline points="415.8,620.2 445.3,627.8 474.8,629.6 504.2,629.4 533.7,632.2 563.2,660.8 592.7,732.1" stroke="#5d9cf0" stroke-width="1.1" fill="none" />
<line x1="533.7" y1="639.7" x2="533.7" y2="624.2" stroke="#2f72e0" stroke-width="1.6" />
<line x1="531.2" y1="639.7" x2="536.2" y2="639.7" stroke="#2f72e0" stroke-width="1.6" />
<line x1="531.2" y1="624.2" x2="536.2" y2="624.2" stroke="#2f72e0" stroke-width="1.6" />
<line x1="563.2" y1="715.9" x2="563.2" y2="648.3" stroke="#2f72e0" stroke-width="1.6" />
<line x1="560.7" y1="715.9" x2="565.7" y2="715.9" stroke="#2f72e0" stroke-width="1.6" />
<line x1="560.7" y1="648.3" x2="565.7" y2="648.3" stroke="#2f72e0" stroke-width="1.6" />
<line x1="592.7" y1="737.8" x2="592.7" y2="727.3" stroke="#2f72e0" stroke-width="1.6" />
<line x1="590.2" y1="737.8" x2="595.2" y2="737.8" stroke="#2f72e0" stroke-width="1.6" />
<line x1="590.2" y1="727.3" x2="595.2" y2="727.3" stroke="#2f72e0" stroke-width="1.6" />
<circle cx="415.8" cy="620.2" r="5.6" fill="#2e70de"/>
<circle cx="445.3" cy="627.8" r="5.6" fill="#2e70de"/>
<circle cx="474.8" cy="629.6" r="5.6" fill="#2e70de"/>
<circle cx="504.2" cy="629.4" r="5.6" fill="#2e70de"/>
<circle cx="533.7" cy="632.2" r="5.6" fill="#2e70de"/>
<circle cx="563.2" cy="660.8" r="5.6" fill="#2e70de"/>
<circle cx="592.7" cy="732.1" r="5.6" fill="#2e70de"/>
<text x="415.8" y="776" font-size="13.8" fill="#222" text-anchor="middle" >9:1</text>
<text x="445.3" y="776" font-size="13.8" fill="#222" text-anchor="middle" >8:2</text>
<text x="474.8" y="776" font-size="13.8" fill="#222" text-anchor="middle" >7:3</text>
<text x="504.2" y="776" font-size="13.8" fill="#222" text-anchor="middle" >5:5</text>
<text x="533.7" y="776" font-size="13.8" fill="#222" text-anchor="middle" >3:7</text>
<text x="563.2" y="776" font-size="13.8" fill="#222" text-anchor="middle" >2:8</text>
<text x="592.7" y="776" font-size="13.8" fill="#222" text-anchor="middle" >1:9</text>
<text x="504.4" y="802.4" font-size="19.2" fill="#111" text-anchor="middle" >DPPT-TT:SHE (wt%)</text>
<text font-size="19.5" fill="#111" text-anchor="middle" transform="translate(360.3,664.9) rotate(-90)">Mobility (cm<tspan font-size="13" dy="-7.5">2</tspan><tspan dy="7.5">/Vs)</tspan></text>
<text x="343.5" y="562" font-size="30.5" fill="#000" text-anchor="start" font-weight="bold" >d</text>
<rect x="678" y="566.75" width="206.2" height="195" fill="none" stroke="#333" stroke-width="1.3"/>
<line x1="678" y1="583.8" x2="684" y2="583.8" stroke="#333" stroke-width="1.1" />
<line x1="678" y1="737.5" x2="684" y2="737.5" stroke="#333" stroke-width="1.1" />
<line x1="678" y1="752.4" x2="681" y2="752.4" stroke="#333" stroke-width="1" />
<line x1="678" y1="744.5" x2="681" y2="744.5" stroke="#333" stroke-width="1" />
<line x1="678" y1="691.2" x2="681" y2="691.2" stroke="#333" stroke-width="1" />
<line x1="678" y1="664.1" x2="681" y2="664.1" stroke="#333" stroke-width="1" />
<line x1="678" y1="644.9" x2="681" y2="644.9" stroke="#333" stroke-width="1" />
<line x1="678" y1="630" x2="681" y2="630" stroke="#333" stroke-width="1" />
<line x1="678" y1="617.9" x2="681" y2="617.9" stroke="#333" stroke-width="1" />
<line x1="678" y1="607.6" x2="681" y2="607.6" stroke="#333" stroke-width="1" />
<line x1="678" y1="598.6" x2="681" y2="598.6" stroke="#333" stroke-width="1" />
<line x1="678" y1="590.8" x2="681" y2="590.8" stroke="#333" stroke-width="1" />
<line x1="692.8" y1="761.8" x2="692.8" y2="756.8" stroke="#333" stroke-width="1.1" />
<line x1="751.6" y1="761.8" x2="751.6" y2="756.8" stroke="#333" stroke-width="1.1" />
<line x1="810.4" y1="761.8" x2="810.4" y2="756.8" stroke="#333" stroke-width="1.1" />
<line x1="869.2" y1="761.8" x2="869.2" y2="756.8" stroke="#333" stroke-width="1.1" />
<text x="692.8" y="778.8" font-size="16" fill="#111" text-anchor="middle" >0</text>
<text x="751.6" y="778.8" font-size="16" fill="#111" text-anchor="middle" >10</text>
<text x="810.4" y="778.8" font-size="16" fill="#111" text-anchor="middle" >20</text>
<text x="869.2" y="778.8" font-size="16" fill="#111" text-anchor="middle" >30</text>
<text x="674.2" y="589.9" font-size="16.5" fill="#111" text-anchor="end">10<tspan font-size="11.5" dy="-6.3">0</tspan></text>
<text x="674.2" y="743.6" font-size="16.5" fill="#111" text-anchor="end">10<tspan font-size="11.5" dy="-6.3">-1</tspan></text>
<text x="781.2" y="806.2" font-size="19" fill="#111" text-anchor="middle" >Strain (%)</text>
<text font-size="19" fill="#111" transform="translate(640,683.5) rotate(-90)">μ/μ<tspan font-size="14.5" dy="6.8">0</tspan></text>
<text x="634.5" y="561" font-size="30.5" fill="#000" text-anchor="start" font-weight="bold" >e</text>
<polyline points="692.8,583.8 751.6,664.2 810.4,679.5 869.2,706.2" stroke="#a9cbe9" stroke-width="1.2" fill="none" />
<line x1="751.6" y1="629" x2="751.6" y2="688" stroke="#a9cbe9" stroke-width="1.2" />
<line x1="749.6" y1="629" x2="753.6" y2="629" stroke="#a9cbe9" stroke-width="1.2" />
<line x1="749.6" y1="688" x2="753.6" y2="688" stroke="#a9cbe9" stroke-width="1.2" />
<circle cx="751.6" cy="664.2" r="4.6" fill="#fff" fill-opacity="0.6" stroke="#a9cbe9" stroke-width="1.5"/>
<line x1="751.6" y1="661.2" x2="751.6" y2="667.2" stroke="#a9cbe9" stroke-width="0.8" />
<circle cx="810.4" cy="679.5" r="4.6" fill="#fff" fill-opacity="0.6" stroke="#a9cbe9" stroke-width="1.5"/>
<line x1="810.4" y1="676.5" x2="810.4" y2="682.5" stroke="#a9cbe9" stroke-width="0.8" />
<circle cx="869.2" cy="706.2" r="4.6" fill="#fff" fill-opacity="0.6" stroke="#a9cbe9" stroke-width="1.5"/>
<line x1="869.2" y1="703.2" x2="869.2" y2="709.2" stroke="#a9cbe9" stroke-width="0.8" />
<polyline points="692.8,583.8 751.6,617 810.4,625 869.2,653.8" stroke="#b7dd92" stroke-width="1.2" fill="none" />
<line x1="810.4" y1="620" x2="810.4" y2="630" stroke="#b7dd92" stroke-width="1.2" />
<line x1="808.4" y1="620" x2="812.4" y2="620" stroke="#b7dd92" stroke-width="1.2" />
<line x1="808.4" y1="630" x2="812.4" y2="630" stroke="#b7dd92" stroke-width="1.2" />
<circle cx="751.6" cy="617" r="4.6" fill="#fff" fill-opacity="0.6" stroke="#b7dd92" stroke-width="1.5"/>
<line x1="751.6" y1="614" x2="751.6" y2="620" stroke="#b7dd92" stroke-width="0.8" />
<circle cx="810.4" cy="625" r="4.6" fill="#fff" fill-opacity="0.6" stroke="#b7dd92" stroke-width="1.5"/>
<line x1="810.4" y1="622" x2="810.4" y2="628" stroke="#b7dd92" stroke-width="0.8" />
<circle cx="869.2" cy="653.8" r="4.6" fill="#fff" fill-opacity="0.6" stroke="#b7dd92" stroke-width="1.5"/>
<line x1="869.2" y1="650.8" x2="869.2" y2="656.8" stroke="#b7dd92" stroke-width="0.8" />
<polyline points="692.8,583.8 751.6,595.5 810.4,605.8 869.2,618" stroke="#f5a0a0" stroke-width="1.2" fill="none" />
<line x1="810.4" y1="601" x2="810.4" y2="611" stroke="#f5a0a0" stroke-width="1.2" />
<line x1="808.4" y1="601" x2="812.4" y2="601" stroke="#f5a0a0" stroke-width="1.2" />
<line x1="808.4" y1="611" x2="812.4" y2="611" stroke="#f5a0a0" stroke-width="1.2" />
<circle cx="751.6" cy="595.5" r="4.6" fill="#fff" fill-opacity="0.6" stroke="#f5a0a0" stroke-width="1.5"/>
<line x1="751.6" y1="592.5" x2="751.6" y2="598.5" stroke="#f5a0a0" stroke-width="0.8" />
<circle cx="810.4" cy="605.8" r="4.6" fill="#fff" fill-opacity="0.6" stroke="#f5a0a0" stroke-width="1.5"/>
<line x1="810.4" y1="602.8" x2="810.4" y2="608.8" stroke="#f5a0a0" stroke-width="0.8" />
<circle cx="869.2" cy="618" r="4.6" fill="#fff" fill-opacity="0.6" stroke="#f5a0a0" stroke-width="1.5"/>
<line x1="869.2" y1="615" x2="869.2" y2="621" stroke="#f5a0a0" stroke-width="0.8" />
<polyline points="692.8,583.8 751.6,630 810.4,646.8 869.2,669" stroke="#3a8fe3" stroke-width="1.5" fill="none" />
<line x1="810.4" y1="642" x2="810.4" y2="652" stroke="#3a8fe3" stroke-width="1.2" />
<line x1="808.4" y1="642" x2="812.4" y2="642" stroke="#3a8fe3" stroke-width="1.2" />
<line x1="808.4" y1="652" x2="812.4" y2="652" stroke="#3a8fe3" stroke-width="1.2" />
<line x1="869.2" y1="664" x2="869.2" y2="674" stroke="#3a8fe3" stroke-width="1.2" />
<line x1="867.2" y1="664" x2="871.2" y2="664" stroke="#3a8fe3" stroke-width="1.2" />
<line x1="867.2" y1="674" x2="871.2" y2="674" stroke="#3a8fe3" stroke-width="1.2" />
<circle cx="751.6" cy="630" r="4.6" fill="#fff" fill-opacity="0.6" stroke="#3a8fe3" stroke-width="2.0"/>
<line x1="751.6" y1="627" x2="751.6" y2="633" stroke="#3a8fe3" stroke-width="0.8" />
<circle cx="810.4" cy="646.8" r="4.6" fill="#fff" fill-opacity="0.6" stroke="#3a8fe3" stroke-width="2.0"/>
<line x1="810.4" y1="643.8" x2="810.4" y2="649.8" stroke="#3a8fe3" stroke-width="0.8" />
<circle cx="869.2" cy="669" r="4.6" fill="#fff" fill-opacity="0.6" stroke="#3a8fe3" stroke-width="2.0"/>
<line x1="869.2" y1="666" x2="869.2" y2="672" stroke="#3a8fe3" stroke-width="0.8" />
<polyline points="692.8,583.8 751.6,605.8 810.4,615 869.2,628" stroke="#3dbb3d" stroke-width="1.5" fill="none" />
<line x1="810.4" y1="606" x2="810.4" y2="623" stroke="#3dbb3d" stroke-width="1.2" />
<line x1="808.4" y1="606" x2="812.4" y2="606" stroke="#3dbb3d" stroke-width="1.2" />
<line x1="808.4" y1="623" x2="812.4" y2="623" stroke="#3dbb3d" stroke-width="1.2" />
<line x1="869.2" y1="604" x2="869.2" y2="644" stroke="#3dbb3d" stroke-width="1.2" />
<line x1="867.2" y1="604" x2="871.2" y2="604" stroke="#3dbb3d" stroke-width="1.2" />
<line x1="867.2" y1="644" x2="871.2" y2="644" stroke="#3dbb3d" stroke-width="1.2" />
<circle cx="751.6" cy="605.8" r="4.6" fill="#fff" fill-opacity="0.6" stroke="#3dbb3d" stroke-width="2.2"/>
<line x1="751.6" y1="602.8" x2="751.6" y2="608.8" stroke="#3dbb3d" stroke-width="0.8" />
<circle cx="810.4" cy="615" r="4.6" fill="#fff" fill-opacity="0.6" stroke="#3dbb3d" stroke-width="2.2"/>
<line x1="810.4" y1="612" x2="810.4" y2="618" stroke="#3dbb3d" stroke-width="0.8" />
<circle cx="869.2" cy="628" r="4.6" fill="#fff" fill-opacity="0.6" stroke="#3dbb3d" stroke-width="2.2"/>
<line x1="869.2" y1="625" x2="869.2" y2="631" stroke="#3dbb3d" stroke-width="0.8" />
<polyline points="692.8,583.8 751.6,589.2 810.4,592.5 869.2,594.2" stroke="#e8262b" stroke-width="1.5" fill="none" />
<line x1="751.6" y1="585" x2="751.6" y2="594" stroke="#e8262b" stroke-width="1.2" />
<line x1="749.6" y1="585" x2="753.6" y2="585" stroke="#e8262b" stroke-width="1.2" />
<line x1="749.6" y1="594" x2="753.6" y2="594" stroke="#e8262b" stroke-width="1.2" />
<line x1="810.4" y1="587" x2="810.4" y2="598" stroke="#e8262b" stroke-width="1.2" />
<line x1="808.4" y1="587" x2="812.4" y2="587" stroke="#e8262b" stroke-width="1.2" />
<line x1="808.4" y1="598" x2="812.4" y2="598" stroke="#e8262b" stroke-width="1.2" />
<circle cx="751.6" cy="589.2" r="4.6" fill="#fff" fill-opacity="0.6" stroke="#e8262b" stroke-width="2.2"/>
<line x1="751.6" y1="586.2" x2="751.6" y2="592.2" stroke="#e8262b" stroke-width="0.8" />
<circle cx="810.4" cy="592.5" r="4.6" fill="#fff" fill-opacity="0.6" stroke="#e8262b" stroke-width="2.2"/>
<line x1="810.4" y1="589.5" x2="810.4" y2="595.5" stroke="#e8262b" stroke-width="0.8" />
<circle cx="869.2" cy="594.2" r="4.6" fill="#fff" fill-opacity="0.6" stroke="#e8262b" stroke-width="2.2"/>
<line x1="869.2" y1="591.2" x2="869.2" y2="597.2" stroke="#e8262b" stroke-width="0.8" />
<line x1="692.8" y1="573" x2="692.8" y2="595.5" stroke="#e8262b" stroke-width="1.2" />
<line x1="690.8" y1="573" x2="694.8" y2="573" stroke="#e8262b" stroke-width="1.2" />
<line x1="690.8" y1="595.5" x2="694.8" y2="595.5" stroke="#e8262b" stroke-width="1.2" />
<circle cx="692.8" cy="583.8" r="4.3" fill="none" stroke="#a9cbe9" stroke-width="1.5"/>
<circle cx="692.8" cy="583.8" r="4.3" fill="none" stroke="#3a8fe3" stroke-width="1.5"/>
<circle cx="692.8" cy="583.8" r="4.3" fill="none" stroke="#b7dd92" stroke-width="1.5"/>
<circle cx="692.8" cy="583.8" r="4.3" fill="none" stroke="#3dbb3d" stroke-width="1.5"/>
<circle cx="692.8" cy="583.8" r="4.3" fill="none" stroke="#e8262b" stroke-width="1.5"/>
<circle cx="692.8" cy="583.8" r="4.3" fill="none" stroke="#f5a0a0" stroke-width="1.5"/>
<text x="684" y="717" font-size="11.5" fill="#222" text-anchor="start" >DPPT-TT:SHE</text>
<line x1="683.8" y1="726" x2="689.2" y2="726" stroke="#a9cbe9" stroke-width="1.4" />
<line x1="702.2" y1="726" x2="707.8" y2="726" stroke="#a9cbe9" stroke-width="1.4" />
<circle cx="695.8" cy="726" r="4.7" fill="#fff" stroke="#a9cbe9" stroke-width="1.5"/>
<text x="710.8" y="730.2" font-size="11" fill="#222" text-anchor="start" >9:1</text>
<line x1="731.8" y1="726" x2="737.2" y2="726" stroke="#3a8fe3" stroke-width="1.4" />
<line x1="750.2" y1="726" x2="755.8" y2="726" stroke="#3a8fe3" stroke-width="1.4" />
<circle cx="743.8" cy="726" r="4.7" fill="#fff" stroke="#3a8fe3" stroke-width="2"/>
<text x="758.8" y="730.2" font-size="11" fill="#222" text-anchor="start" >8:2</text>
<line x1="683.8" y1="739.5" x2="689.2" y2="739.5" stroke="#b7dd92" stroke-width="1.4" />
<line x1="702.2" y1="739.5" x2="707.8" y2="739.5" stroke="#b7dd92" stroke-width="1.4" />
<circle cx="695.8" cy="739.5" r="4.7" fill="#fff" stroke="#b7dd92" stroke-width="1.5"/>
<text x="710.8" y="743.7" font-size="11" fill="#222" text-anchor="start" >7:3</text>
<line x1="731.8" y1="739.5" x2="737.2" y2="739.5" stroke="#3dbb3d" stroke-width="1.4" />
<line x1="750.2" y1="739.5" x2="755.8" y2="739.5" stroke="#3dbb3d" stroke-width="1.4" />
<circle cx="743.8" cy="739.5" r="4.7" fill="#fff" stroke="#3dbb3d" stroke-width="2.2"/>
<text x="758.8" y="743.7" font-size="11" fill="#222" text-anchor="start" >5:5</text>
<line x1="683.8" y1="753" x2="689.2" y2="753" stroke="#e8262b" stroke-width="1.4" />
<line x1="702.2" y1="753" x2="707.8" y2="753" stroke="#e8262b" stroke-width="1.4" />
<circle cx="695.8" cy="753" r="4.7" fill="#fff" stroke="#e8262b" stroke-width="2.2"/>
<text x="710.8" y="757.2" font-size="11" fill="#222" text-anchor="start" >3:7</text>
<line x1="731.8" y1="753" x2="737.2" y2="753" stroke="#f5a0a0" stroke-width="1.4" />
<line x1="750.2" y1="753" x2="755.8" y2="753" stroke="#f5a0a0" stroke-width="1.4" />
<circle cx="743.8" cy="753" r="4.7" fill="#fff" stroke="#f5a0a0" stroke-width="1.5"/>
<text x="758.8" y="757.2" font-size="11" fill="#222" text-anchor="start" >2:8</text>
<rect x="67.8" y="850.2" width="206.3" height="195.5" fill="none" stroke="#333" stroke-width="1.3"/>
<line x1="67.8" y1="1026.2" x2="72.8" y2="1026.2" stroke="#333" stroke-width="1.1" />
<text x="62.8" y="1032" font-size="16" fill="#111" text-anchor="end" >1.0</text>
<line x1="67.8" y1="987.1" x2="72.8" y2="987.1" stroke="#333" stroke-width="1.1" />
<text x="62.8" y="992.9" font-size="16" fill="#111" text-anchor="end" >1.1</text>
<line x1="67.8" y1="948.1" x2="72.8" y2="948.1" stroke="#333" stroke-width="1.1" />
<text x="62.8" y="953.9" font-size="16" fill="#111" text-anchor="end" >1.2</text>
<line x1="67.8" y1="909.1" x2="72.8" y2="909.1" stroke="#333" stroke-width="1.1" />
<text x="62.8" y="914.9" font-size="16" fill="#111" text-anchor="end" >1.3</text>
<line x1="67.8" y1="870" x2="72.8" y2="870" stroke="#333" stroke-width="1.1" />
<text x="62.8" y="875.8" font-size="16" fill="#111" text-anchor="end" >1.4</text>
<line x1="82.2" y1="1045.7" x2="82.2" y2="1040.7" stroke="#333" stroke-width="1.1" />
<text x="82.2" y="1062.7" font-size="16" fill="#111" text-anchor="middle" >0</text>
<line x1="141.3" y1="1045.7" x2="141.3" y2="1040.7" stroke="#333" stroke-width="1.1" />
<text x="141.3" y="1062.7" font-size="16" fill="#111" text-anchor="middle" >10</text>
<line x1="200.3" y1="1045.7" x2="200.3" y2="1040.7" stroke="#333" stroke-width="1.1" />
<text x="200.3" y="1062.7" font-size="16" fill="#111" text-anchor="middle" >20</text>
<line x1="259.4" y1="1045.7" x2="259.4" y2="1040.7" stroke="#333" stroke-width="1.1" />
<text x="259.4" y="1062.7" font-size="16" fill="#111" text-anchor="middle" >30</text>
<polyline points="82.2,1024.2 141.3,965.7 200.3,936.4 259.4,897.3" stroke="#555" stroke-width="1.3" fill="none" />
<circle cx="82.2" cy="1024.2" r="5.3" fill="#595959"/>
<line x1="141.3" y1="979.3" x2="141.3" y2="952" stroke="#555" stroke-width="1.5" />
<line x1="138.8" y1="979.3" x2="143.8" y2="979.3" stroke="#555" stroke-width="1.5" />
<line x1="138.8" y1="952" x2="143.8" y2="952" stroke="#555" stroke-width="1.5" />
<circle cx="141.3" cy="965.7" r="5.3" fill="#595959"/>
<line x1="200.3" y1="944.2" x2="200.3" y2="930.5" stroke="#555" stroke-width="1.5" />
<line x1="197.8" y1="944.2" x2="202.8" y2="944.2" stroke="#555" stroke-width="1.5" />
<line x1="197.8" y1="930.5" x2="202.8" y2="930.5" stroke="#555" stroke-width="1.5" />
<circle cx="200.3" cy="936.4" r="5.3" fill="#595959"/>
<line x1="259.4" y1="909.1" x2="259.4" y2="881.7" stroke="#555" stroke-width="1.5" />
<line x1="256.9" y1="909.1" x2="261.9" y2="909.1" stroke="#555" stroke-width="1.5" />
<line x1="256.9" y1="881.7" x2="261.9" y2="881.7" stroke="#555" stroke-width="1.5" />
<circle cx="259.4" cy="897.3" r="5.3" fill="#595959"/>
<text x="171" y="1090" font-size="18.7" fill="#111" text-anchor="middle" >Strain (%)</text>
<text x="0" y="0" font-size="20.5" fill="#111" text-anchor="middle" transform="translate(35.4,948) rotate(-90)">Dichroic ratio</text>
<text x="11.5" y="838" font-size="30.5" fill="#000" text-anchor="start" font-weight="bold" >g</text>
<defs><linearGradient id="hS" x1="0" x2="1" y1="0" y2="0"><stop offset="0" stop-color="#eef2fb" stop-opacity="0.3"/><stop offset="0.35" stop-color="#e6ecf8"/><stop offset="1" stop-color="#dfe6f6"/></linearGradient><linearGradient id="hA" x1="0" x2="1" y1="0" y2="0"><stop offset="0" stop-color="#fff" stop-opacity="0"/><stop offset="0.5" stop-color="#bbb"/><stop offset="1" stop-color="#999"/></linearGradient></defs>
<rect x="582.8" y="849.9" width="24" height="195.3" fill="url(#hS)"/>
<rect x="400.5" y="849.9" width="206.3" height="195.3" fill="none" stroke="#444" stroke-width="1.3"/>
<line x1="400.5" y1="1029.3" x2="405.5" y2="1029.3" stroke="#333" stroke-width="1.1" />
<text x="395" y="1035.1" font-size="16" fill="#111" text-anchor="end" >0</text>
<line x1="400.5" y1="998.2" x2="405.5" y2="998.2" stroke="#333" stroke-width="1.1" />
<text x="395" y="1004" font-size="16" fill="#111" text-anchor="end" >20</text>
<line x1="400.5" y1="967.1" x2="405.5" y2="967.1" stroke="#333" stroke-width="1.1" />
<text x="395" y="972.9" font-size="16" fill="#111" text-anchor="end" >40</text>
<line x1="400.5" y1="936.1" x2="405.5" y2="936.1" stroke="#333" stroke-width="1.1" />
<text x="395" y="941.9" font-size="16" fill="#111" text-anchor="end" >60</text>
<line x1="400.5" y1="905" x2="405.5" y2="905" stroke="#333" stroke-width="1.1" />
<text x="395" y="910.8" font-size="16" fill="#111" text-anchor="end" >80</text>
<line x1="400.5" y1="873.9" x2="405.5" y2="873.9" stroke="#333" stroke-width="1.1" />
<text x="395" y="879.7" font-size="16" fill="#111" text-anchor="end" >100</text>
<line x1="428.5" y1="1045.2" x2="428.5" y2="1040.2" stroke="#333" stroke-width="1.1" />
<text x="428.5" y="1061.5" font-size="16" fill="#111" text-anchor="middle" >0</text>
<line x1="458.5" y1="1045.2" x2="458.5" y2="1040.2" stroke="#333" stroke-width="1.1" />
<text x="458.5" y="1061.5" font-size="16" fill="#111" text-anchor="middle" >2</text>
<line x1="488.4" y1="1045.2" x2="488.4" y2="1040.2" stroke="#333" stroke-width="1.1" />
<text x="488.4" y="1061.5" font-size="16" fill="#111" text-anchor="middle" >4</text>
<line x1="518.4" y1="1045.2" x2="518.4" y2="1040.2" stroke="#333" stroke-width="1.1" />
<text x="518.4" y="1061.5" font-size="16" fill="#111" text-anchor="middle" >6</text>
<line x1="548.3" y1="1045.2" x2="548.3" y2="1040.2" stroke="#333" stroke-width="1.1" />
<text x="548.3" y="1061.5" font-size="16" fill="#111" text-anchor="middle" >8</text>
<line x1="578.3" y1="1045.2" x2="578.3" y2="1040.2" stroke="#333" stroke-width="1.1" />
<text x="578.3" y="1061.5" font-size="16" fill="#111" text-anchor="middle" >10</text>
<text x="500" y="841.7" font-size="10.5" fill="#333" text-anchor="middle" >DPPT-TT:SHE</text>
<text x="590.5" y="841.7" font-size="10.5" fill="#333" text-anchor="middle" >SEBS</text>
<line x1="419" y1="846.5" x2="573" y2="846.5" stroke="#777" stroke-width="1" stroke-dasharray="3,2"/>
<line x1="579" y1="846.5" x2="604.5" y2="846.5" stroke="#777" stroke-width="1" stroke-dasharray="3,2"/>
<path d="M417.5 846.5 l4 -2 l0 4z" fill="#777"/>
<path d="M574.5 846.5 l-4 -2 l0 4z" fill="#777"/>
<path d="M577.5 846.5 l4 -2 l0 4z" fill="#777"/>
<path d="M606 846.5 l-4 -2 l0 4z" fill="#777"/>
<path d="M428.5 979.6h0M431.6 977.2h0M434.6 977h0M437.7 981.8h0M440.7 982.8h0M443.8 985.6h0M446.8 988h0M449.9 989.7h0M453 990.4h0M456 992.2h0M459.1 993.5h0M462.1 994.6h0M465.2 995.2h0M468.2 995.4h0M471.3 997h0M474.4 998.4h0M477.4 998.4h0M480.5 999.6h0M483.5 1000.2h0M486.6 1001h0M489.6 1002.5h0M492.7 1003.4h0M495.8 1004.2h0M498.8 1005.5h0M501.9 1005.5h0M504.9 1006.1h0M508 1007.6h0M511 1008.8h0M514.1 1009.7h0M517.2 1010.9h0M520.2 1011.9h0M523.3 1012.7h0M526.3 1013.9h0M529.4 1014.6h0M532.4 1016.1h0M535.5 1016.1h0M538.6 1017.2h0M541.6 1018.6h0M544.7 1020.1h0M547.7 1019.8h0M550.8 1020.1h0M553.8 1021.7h0M556.9 1022.2h0M560 1023h0M563 1023h0M566.1 1024.4h0M569.1 1024.1h0M572.2 1025.3h0M575.2 1025.2h0M578.3 1026.2h0" stroke="#8fb8f2" stroke-width="7.2" stroke-linecap="round" opacity="0.88"/>
<path d="M428.5 979.6l3.1-2.4 3-.2 3.1 4.8 3 1 3.1 2.8 3 2.4 3.1 1.7 3.1 .7 3 1.8 3.1 1.3 3 1.1 3.1 .6 3 .2 3.1 1.6 3.1 1.4 3 0 3.1 1.2 3 .6 3.1 .8 3 1.5 3.1 .9 3.1 .8 3 1.3 3.1 0 3 .6 3.1 1.5 3 1.2 3.1 .9 3.1 1.2 3 1 3.1 .8 3 1.2 3.1 .7 3 1.5 3.1 0 3.1 1.1 3 1.4 3.1 1.5 3-.3 3.1 .3 3 1.6 3.1 .5 3.1 .8 3 0 3.1 1.4 3-.3 3.1 1.2 3-.1 3.1 1" fill="none" stroke="#3b7fe0" stroke-width="1.3"/>
<path d="M428.5 1029.3h0M431.6 1029.3h0M434.6 1029.1h0M437.7 1004.1h0M440.7 1004.7h0M443.8 1000.8h0M446.8 999.4h0M449.9 999.9h0M453 995.2h0M456 999.8h0M459.1 997.2h0M462.1 996.6h0M465.2 993.4h0M468.2 997.1h0M471.3 993.5h0M474.4 995.5h0M477.4 995.7h0M480.5 997.3h0M483.5 996.6h0M486.6 999.2h0M489.6 998.4h0M492.7 998.1h0M495.8 996.6h0M498.8 1001.3h0M501.9 997.2h0M504.9 998.2h0M508 1000.8h0M511 1001h0M514.1 1002.8h0M517.2 1001.2h0M520.2 1003.2h0M523.3 1003.9h0M526.3 1004.1h0M529.4 1004.3h0M532.4 1004.5h0M535.5 1005.7h0M538.6 1003.1h0M541.6 1008.1h0M544.7 1010.6h0M547.7 1007.5h0M550.8 1008.2h0M553.8 1008.3h0M556.9 1009.5h0M560 1010.1h0M563 1010.2h0M566.1 1010.2h0M569.1 1012.3h0M572.2 1012.9h0M575.2 1011h0M578.3 1013.2h0" stroke="#f2cb45" stroke-width="7.2" stroke-linecap="round" opacity="0.88"/>
<path d="M428.5 1029.3l3.1 0 3-.2 3.1-25 3 .6 3.1-3.9 3-1.4 3.1 .5 3.1-4.7 3 4.6 3.1-2.6 3-.6 3.1-3.2 3 3.7 3.1-3.6 3.1 2 3 .2 3.1 1.6 3-.7 3.1 2.6 3-.8 3.1-.3 3.1-1.5 3 4.7 3.1-4.1 3 1 3.1 2.6 3 .2 3.1 1.8 3.1-1.6 3 2 3.1 .7 3 .2 3.1 .2 3 .2 3.1 1.2 3.1-2.6 3 5 3.1 2.5 3-3.1 3.1 .7 3 .1 3.1 1.2 3.1 .6 3 .1 3.1 0 3 2.1 3.1 .6 3-1.9 3.1 2.2" fill="none" stroke="#c8a010" stroke-width="1.3"/>
<path d="M428.5 923.6h0M431.6 925.2h0M434.6 926.7h0M437.7 923h0M440.7 918.9h0M443.8 917.7h0M446.8 914.9h0M449.9 914.1h0M453 913h0M456 910.9h0M459.1 910.9h0M462.1 910.1h0M465.2 908.7h0M468.2 907.5h0M471.3 907.2h0M474.4 905.9h0M477.4 905.8h0M480.5 904.5h0M483.5 903.6h0M486.6 903.2h0M489.6 902.3h0M492.7 901.4h0M495.8 899.7h0M498.8 898.7h0M501.9 897.9h0M504.9 896.7h0M508 896.5h0M511 894.9h0M514.1 893.8h0M517.2 892.5h0M520.2 892.4h0M523.3 891.2h0M526.3 891.2h0M529.4 889.4h0M532.4 889.4h0M535.5 888h0M538.6 885.6h0M541.6 886.4h0M544.7 883.8h0M547.7 883.2h0M550.8 882.8h0M553.8 881.8h0M556.9 881.2h0M560 880.4h0M563 880.6h0M566.1 880.3h0M569.1 879.9h0M572.2 879.8h0M575.2 878.9h0M578.3 879h0" stroke="#9a9a9a" stroke-width="7.2" stroke-linecap="round" opacity="0.88"/>
<path d="M428.5 923.6l3.1 1.6 3 1.5 3.1-3.7 3-4.1 3.1-1.2 3-2.8 3.1-.8 3.1-1.1 3-2.1 3.1 0 3-.8 3.1-1.4 3-1.2 3.1-.3 3.1-1.3 3-.1 3.1-1.3 3-.9 3.1-.4 3-.9 3.1-.9 3.1-1.7 3-1 3.1-.8 3-1.2 3.1-.2 3-1.6 3.1-1.1 3.1-1.3 3-.1 3.1-1.2 3 0 3.1-1.8 3 0 3.1-1.4 3.1-2.4 3 .8 3.1-2.6 3-.6 3.1-.4 3-1 3.1-.6 3.1-.8 3 .2 3.1-.3 3-.4 3.1-.1 3-.9 3.1 .1" fill="none" stroke="#555" stroke-width="1.3"/>
<line x1="410" y1="864.3" x2="440" y2="864.3" stroke="#3b7fe0" stroke-width="2" />
<circle cx="425" cy="864.3" r="4" fill="#8fb8f2"/>
<text x="444" y="869.8" font-size="15.5" fill="#111" text-anchor="start" >Si</text>
<line x1="410" y1="880.6" x2="440" y2="880.6" stroke="#c8a010" stroke-width="2" />
<circle cx="425" cy="880.6" r="4" fill="#f2cb45"/>
<text x="444" y="886.1" font-size="15.5" fill="#111" text-anchor="start" >S</text>
<line x1="410" y1="896.9" x2="440" y2="896.9" stroke="#555" stroke-width="2" />
<circle cx="425" cy="896.9" r="4" fill="#9a9a9a"/>
<text x="444" y="902.4" font-size="15.5" fill="#111" text-anchor="start" >C</text>
<defs><linearGradient id="hA2" x1="0" y1="0" x2="0" y2="1"><stop offset="0" stop-color="#fff" stop-opacity="0"/><stop offset="0.5" stop-color="#999"/><stop offset="1" stop-color="#fff" stop-opacity="0"/></linearGradient></defs>
<path d="M546 906 L564.5 942 L546 978 L556 942 Z" fill="url(#hA2)"/>
<defs><linearGradient id="hP" x1="0" x2="1"><stop offset="0" stop-color="#9e88f0"/><stop offset="1" stop-color="#7a6ee0"/></linearGradient></defs>
<rect x="567.2" y="903.6" width="10.5" height="73.4" fill="url(#hP)"/>
<rect x="577.7" y="903.6" width="12.7" height="73.4" fill="#a9bfe6"/>
<text x="0" y="0" font-size="9.2" fill="#222" text-anchor="middle" transform="translate(545,942) rotate(-90)">Depth profiling</text>
<text x="0" y="0" font-size="8.2" fill="#222" text-anchor="middle" transform="translate(575.5,940.5) rotate(-90)">DPPT-TT:SHE</text>
<text x="0" y="0" font-size="8.2" fill="#222" text-anchor="middle" transform="translate(586.8,940.5) rotate(-90)">SEBS</text>
<text x="513.6" y="995.7" font-size="13" fill="#e02020" text-anchor="start" >×10</text>
<text x="0" y="0" font-size="19.5" fill="#111" text-anchor="middle" transform="translate(363,947.4) rotate(-90)">Atomic fraction (%)</text>
<text x="503.5" y="1090" font-size="18.7" fill="#111" text-anchor="middle" >Etching time (min)</text>
<text x="344" y="835.5" font-size="30.5" fill="#000" text-anchor="start" font-weight="bold" >h</text>
<rect x="677.9" y="849.9" width="206.7" height="195.1" fill="none" stroke="#333" stroke-width="1.3"/>
<line x1="677.9" y1="1045" x2="683.9" y2="1045" stroke="#333" stroke-width="1.1" />
<line x1="677.9" y1="1029.1" x2="680.9" y2="1029.1" stroke="#333" stroke-width="1" />
<line x1="677.9" y1="1019.9" x2="680.9" y2="1019.9" stroke="#333" stroke-width="1" />
<line x1="677.9" y1="1013.3" x2="680.9" y2="1013.3" stroke="#333" stroke-width="1" />
<line x1="677.9" y1="1008.2" x2="680.9" y2="1008.2" stroke="#333" stroke-width="1" />
<line x1="677.9" y1="1004" x2="680.9" y2="1004" stroke="#333" stroke-width="1" />
<line x1="677.9" y1="1000.5" x2="680.9" y2="1000.5" stroke="#333" stroke-width="1" />
<line x1="677.9" y1="997.4" x2="680.9" y2="997.4" stroke="#333" stroke-width="1" />
<line x1="677.9" y1="994.7" x2="680.9" y2="994.7" stroke="#333" stroke-width="1" />
<text x="673.7" y="1051" font-size="16.5" fill="#111" text-anchor="end">10<tspan font-size="11.5" dy="-6.3">0</tspan></text>
<line x1="677.9" y1="992.3" x2="683.9" y2="992.3" stroke="#333" stroke-width="1.1" />
<line x1="677.9" y1="976.4" x2="680.9" y2="976.4" stroke="#333" stroke-width="1" />
<line x1="677.9" y1="967.2" x2="680.9" y2="967.2" stroke="#333" stroke-width="1" />
<line x1="677.9" y1="960.6" x2="680.9" y2="960.6" stroke="#333" stroke-width="1" />
<line x1="677.9" y1="955.5" x2="680.9" y2="955.5" stroke="#333" stroke-width="1" />
<line x1="677.9" y1="951.3" x2="680.9" y2="951.3" stroke="#333" stroke-width="1" />
<line x1="677.9" y1="947.8" x2="680.9" y2="947.8" stroke="#333" stroke-width="1" />
<line x1="677.9" y1="944.7" x2="680.9" y2="944.7" stroke="#333" stroke-width="1" />
<line x1="677.9" y1="942" x2="680.9" y2="942" stroke="#333" stroke-width="1" />
<text x="673.7" y="998.3" font-size="16.5" fill="#111" text-anchor="end">10<tspan font-size="11.5" dy="-6.3">1</tspan></text>
<line x1="677.9" y1="939.6" x2="683.9" y2="939.6" stroke="#333" stroke-width="1.1" />
<line x1="677.9" y1="923.7" x2="680.9" y2="923.7" stroke="#333" stroke-width="1" />
<line x1="677.9" y1="914.5" x2="680.9" y2="914.5" stroke="#333" stroke-width="1" />
<line x1="677.9" y1="907.9" x2="680.9" y2="907.9" stroke="#333" stroke-width="1" />
<line x1="677.9" y1="902.8" x2="680.9" y2="902.8" stroke="#333" stroke-width="1" />
<line x1="677.9" y1="898.6" x2="680.9" y2="898.6" stroke="#333" stroke-width="1" />
<line x1="677.9" y1="895.1" x2="680.9" y2="895.1" stroke="#333" stroke-width="1" />
<line x1="677.9" y1="892" x2="680.9" y2="892" stroke="#333" stroke-width="1" />
<line x1="677.9" y1="889.3" x2="680.9" y2="889.3" stroke="#333" stroke-width="1" />
<text x="673.7" y="945.6" font-size="16.5" fill="#111" text-anchor="end">10<tspan font-size="11.5" dy="-6.3">2</tspan></text>
<line x1="677.9" y1="886.9" x2="683.9" y2="886.9" stroke="#333" stroke-width="1.1" />
<line x1="677.9" y1="871" x2="680.9" y2="871" stroke="#333" stroke-width="1" />
<line x1="677.9" y1="861.8" x2="680.9" y2="861.8" stroke="#333" stroke-width="1" />
<line x1="677.9" y1="855.2" x2="680.9" y2="855.2" stroke="#333" stroke-width="1" />
<line x1="677.9" y1="850.1" x2="680.9" y2="850.1" stroke="#333" stroke-width="1" />
<text x="673.7" y="892.9" font-size="16.5" fill="#111" text-anchor="end">10<tspan font-size="11.5" dy="-6.3">3</tspan></text>
<line x1="703.3" y1="1045" x2="703.3" y2="1040" stroke="#333" stroke-width="1.1" />
<text x="703.3" y="1061.5" font-size="16" fill="#111" text-anchor="middle" >0.5</text>
<line x1="762.5" y1="1045" x2="762.5" y2="1040" stroke="#333" stroke-width="1.1" />
<text x="762.5" y="1061.5" font-size="16" fill="#111" text-anchor="middle" >1.0</text>
<line x1="821.7" y1="1045" x2="821.7" y2="1040" stroke="#333" stroke-width="1.1" />
<text x="821.7" y="1061.5" font-size="16" fill="#111" text-anchor="middle" >1.5</text>
<line x1="880.9" y1="1045" x2="880.9" y2="1040" stroke="#333" stroke-width="1.1" />
<text x="880.9" y="1061.5" font-size="16" fill="#111" text-anchor="middle" >2.0</text>
<line x1="732.9" y1="1045" x2="732.9" y2="1042" stroke="#333" stroke-width="1" />
<line x1="792.1" y1="1045" x2="792.1" y2="1042" stroke="#333" stroke-width="1" />
<line x1="851.3" y1="1045" x2="851.3" y2="1042" stroke="#333" stroke-width="1" />
<path d="M677.9 952.3l.6-2.8 .7-5.7 .6 1.8 .7-5.9 .6 1.3 .7-6.4 .6 1.4 .7-1 .6 4.6 .7 .7 .6 3.6 .7 3.4 .6 1.4 .6 4.9 .7 1.8 .6 2.3 .7 5.4 .6 5.4 .7 .5 .6 7.9 .7 5.2 .6 2.4 .7 3.9 .6 1.6 .6 1 .7-2.7 .6 4.2 .7 .7 .6 .1 .7-1.3 .6 4.2 .7 1.3 .6-4.4 .7 6.7 .6-1.4 .7-1.4 .6-2.4 .6 5.2 .7 2.2 .6-4.9 .7 1.7 .6-.4 .7-1.6 .6 .1 .7-.4 .6 .9 .7-3.1 .6-.7 .7 2 .6 .1 .6-1.6 .7-.5 .6 .5 .7-1.6 .6-2.4 .7 .3 .6-.4 .7-.7 .6 .3 .7 .2 .6 2.2 .6-3.1 .7 1.9 .6 1.5 .7-1.3 .6 1.1 .7 .6 .6-.8 .7-1.1 .6 1.6 .7-1.1 .6-.7 .7 2.8 .6-.7 .6-1.5 .7 2 .6-1.7 .7-1.8 .6-.1 .7 0 .6 2 .7-4.4 .6 1.4 .7-.5 .6-.1 .7 1.9 .6-.6 .6-.5 .7-3.3 .6 2.3 .7-1 .6-.3 .7-1.1 .6-.3 .7-.1 .6 1.1 .7 1.4 .6-3.5 .6-.4 .7-1.2 .6 .9 .7 .2 .6-1.2 .7 1.6 .6-.7 .7-.2 .6-1.4 .7-1.8 .6 1.2 .7-.4 .6 .8 .6 0 .7 .8 .6-.1 .7 2.2 .6-1.1 .7 .3 .6-1.8 .7 .4 .6-.3 .7-.1 .6 2 .7-1.1 .6-.6 .6 2.1 .7-.8 .6 1.5 .7 1.5 .6-1.4 .7 1.1 .6-.8 .7 .7 .6-.6 .7 2.4 .6-4 .6 .7 .7 1.5 .6 .5 .7-1 .6-.8 .7 .1 .6-.2 .7 2 .6-1 .7-2.6 .6 .8 .7 1.3 .6-.9 .6 .3 .7-.7 .6-2.4 .7 1 .6-1.6 .7 .6 .6 1.3 .7-1.1 .6-3.1 .7 2.6 .6 .1 .6-2.5 .7 .9 .6-.1 .7-1.7 .6 2.9 .7-2.3 .6 1.2 .7 .1 .6-.8 .7-2.1 .6 1 .7 1.4 .6-.9 .6-2.7 .7 .2 .6 1.8 .7-3.6 .6 2.5 .7 .6 .6-1.2 .7-1.3 .6-.9 .7 .4 .6 1.2 .7-.1 .6 .7 .6-1.6 .7 .3 .6-1 .7 1.2 .6-1 .7 .1 .6 .1 .7-.3 .6-.4 .7-.1 .6-1.9 .6 .1 .7 1.2 .6-2.1 .7 0 .6-1.4 .7 1.3 .6-.2 .7 .2 .6-1 .7-.6 .6 0 .7 .2 .6-1 .6 .3 .7-.4 .6 1 .7-1.3 .6 1 .7-.3 .6-1.1 .7-2 .6 .9 .7 .9 .6 .1 .7-1.2 .6-.4 .6 .2 .7 1.3 .6-.3 .7 .5 .6 .1 .7 .6 .6-.5 .7 2 .6-.8 .7-1.5 .6 1.5 .6-1.3 .7 2 .6-.7 .7-.5 .6 1.6 .7-.1 .6-2.9 .7 3.3 .6 .3 .7 .1 .6-.3 .7 .3 .6-.7 .6 .5 .7 1.4 .6 .3 .7 1.3 .6 .4 .7-.5 .6-1.1 .7 .9 .6-.3 .7 .1 .6 1.4 .7-1.9 .6 2.8 .6 .4 .7 .1 .6-1.2 .7 1.5 .6 .9 .7-.9 .6-.4 .7 1.4 .6 .4 .7-1 .6 .3 .6 .3 .7 1.9 .6-.8 .7 .1 .6 2.4 .7-2.7 .6 1.3 .7 .7 .6-2.3 .7 2.3 .6 1.1 .7-.4 .6-.4 .6 0 .7 1.1 .6 1 .7 .1 .6 .4 .7 .5 .6-.8 .7 .7 .6-.3 .7 1.1 .6 .3 .7-.4 .6 .4 .6-1.2 .7 2.3 .6-.9 .7 .5 .6 1.5 .7-1.7 .6 .8 .7 2.4 .6-2.3 .7-.1 .6 1.9 .6-2.1 .7 1.7 .6 1.6 .7-1.5 .6 1.2 .7 1.2 .6 1 .7-2 .6 1.2 .7-1.1 .6 .5 .7 1.2 .6 .2" fill="none" stroke="#7a7a7a" stroke-width="1.2" stroke-linejoin="round"/>
<path d="M677.9 949.1l.6-2.5 .7-1.4 .6-1.1 .7-1.5 .6-2.9 .7-4.5 .6 1.9 .7 2.1 .6 3.1 .7-.1 .6 4.2 .7 1.3 .6 1.6 .6 2.1 .7 4.8 .6 4.7 .7 3.5 .6 2.1 .7 7 .6 7.3 .7-.6 .6 5.7 .7-2.4 .6 8.2 .6 .5 .7 1.4 .6-.1 .7 2.5 .6 2.3 .7 1.5 .6-2.2 .7 1.3 .6 .7 .7-3.9 .6 2.4 .7-.2 .6 2.7 .6-1.3 .7 .8 .6-.1 .7-1.7 .6 .1 .7 .2 .6 0 .7 2.3 .6-1.4 .7-2.2 .6 .9 .7-.2 .6-1.5 .6 .7 .7-.9 .6-2.5 .7 .2 .6-2.7 .7 .1 .6-.9 .7-.5 .6 3.2 .7-1.7 .6 1.5 .6-.4 .7 .1 .6-.8 .7 1.7 .6-1.2 .7 2.4 .6-.3 .7 0 .6-.9 .7 .8 .6 .4 .7-.5 .6 .8 .6-2.8 .7 .2 .6-.1 .7-.2 .6 .5 .7-.5 .6-1.6 .7 1.2 .6-.3 .7-2.6 .6-.3 .7 .9 .6-.5 .6 0 .7-1.5 .6 1.5 .7-.9 .6-.7 .7-1.3 .6 1.3 .7-.8 .6 .3 .7-.2 .6-.3 .6-1 .7-1.1 .6 1.2 .7-.4 .6-.4 .7-1 .6-.5 .7 1.6 .6-1.6 .7 1.1 .6-1.7 .7 1.6 .6 .1 .6-.4 .7-.5 .6 1 .7-1.1 .6 .2 .7 .3 .6 0 .7-.4 .6 1.8 .7-.5 .6 .3 .7 2.2 .6-2.1 .6 1.4 .7 .1 .6 0 .7-.3 .6 0 .7 0 .6 1.3 .7-1.2 .6 .4 .7 .8 .6-.3 .6-.8 .7 .3 .6-.4 .7 .5 .6-1.1 .7-1.3 .6 1.5 .7 1.8 .6-3.4 .7 1.9 .6 .5 .7 .6 .6-2.9 .6-1 .7-.2 .6 1 .7-2 .6 1.1 .7 .2 .6-.9 .7-.5 .6-.1 .7-.6 .6 2.2 .6-3.8 .7 1.8 .6-1.4 .7 1.2 .6-1.1 .7 .1 .6 1.1 .7-2.1 .6-.5 .7 1.5 .6 .7 .7-1.6 .6-.1 .6-1.1 .7-.1 .6-1.8 .7 .7 .6 .7 .7-.6 .6 2.6 .7-2.1 .6-.1 .7-1 .6-.7 .7-.1 .6-.9 .6 1.4 .7-1.2 .6 .2 .7-.4 .6-.5 .7 .3 .6-.7 .7 0 .6-1.3 .7 .9 .6-.7 .6-2.4 .7 1.6 .6-.2 .7-.8 .6 1.7 .7-1.9 .6-.3 .7 .1 .6-.8 .7 0 .6-.6 .7 1.5 .6-1.3 .6 .7 .7-1.8 .6 .8 .7 1.2 .6-1.5 .7 .9 .6-2 .7 1.1 .6 1.7 .7-1.8 .6-1.4 .7 .6 .6 .8 .6-1.2 .7 .1 .6-.8 .7 .6 .6 .5 .7 1.2 .6-.9 .7 .1 .6 .4 .7-.3 .6 1.7 .6-1.5 .7 .7 .6-.1 .7 .6 .6 .4 .7-.3 .6-.3 .7 1.3 .6-.3 .7 1.3 .6-.9 .7 .7 .6 1.5 .6-2.1 .7 2.3 .6-.7 .7 1.7 .6 .6 .7-1.9 .6 2.2 .7 1 .6-1.5 .7 1.6 .6-1 .7-1.6 .6 2.4 .6-.4 .7 .1 .6 .5 .7 .7 .6-1.3 .7 1.8 .6-.2 .7 .5 .6 1.6 .7-1.3 .6 .5 .6-.3 .7 .2 .6-.6 .7 3.5 .6-1.1 .7 .2 .6 .6 .7-.9 .6 .7 .7 0 .6 1.9 .7-.4 .6-.6 .6 .6 .7 .4 .6-.2 .7 .4 .6 1 .7-2.3 .6 2.4 .7-1 .6 .3 .7-.1 .6 1.7 .7 .7 .6-1.1 .6 .4 .7 2.7 .6 .5 .7-1.7 .6 .1 .7 .1 .6-.4 .7 1.6 .6-3.1 .7 1.8 .6-.1 .6 1.2 .7 2.5 .6-1.9 .7 1 .6-.7 .7 .8 .6-.5 .7 1.7 .6-.2 .7-.1 .6 1 .7 0 .6-.8" fill="none" stroke="#f06464" stroke-width="1.4" stroke-linejoin="round"/>
<path d="M677.9 948l.6 .7 .7-4.5 .6 .2 .7-3.6 .6-3.2 .7-1.5 .6 2.4 .7-1.6 .6 2.3 .7 .3 .6 3.1 .7 3.3 .6 4.3 .6 1.6 .7 5 .6 3.9 .7 6 .6 3.8 .7 4.6 .6 2.7 .7 3.8 .6 5.9 .7 .8 .6 1.1 .6 .3 .7 2.6 .6 .5 .7 1.9 .6-1.1 .7 4.6 .6-2.1 .7 4.7 .6-5.8 .7 1.7 .6 5.1 .7-2.2 .6 1.5 .6 .5 .7-2.1 .6 .6 .7-3.1 .6 2.2 .7 .7 .6-1.8 .7-1.1 .6-.9 .7 .1 .6 2.8 .7-2 .6-.9 .6 .1 .7-2.2 .6 .1 .7-1.3 .6-.7 .7-1.2 .6 .9 .7-3.6 .6 2.5 .7 .4 .6 1.3 .6-1.1 .7 1.7 .6-1.2 .7-.3 .6 .9 .7 1.4 .6-1.4 .7 1.4 .6-.2 .7-.2 .6 .3 .7-1 .6 1.3 .6 .2 .7-3.1 .6 1.5 .7-.7 .6-1 .7 .4 .6 .3 .7-1.3 .6 .3 .7-1.7 .6 .7 .7-.5 .6-1.2 .6 1.8 .7-.4 .6-2.4 .7-.8 .6 .7 .7 .4 .6-2.1 .7 .3 .6-.9 .7 2.4 .6-2 .6 .6 .7-.3 .6-1.9 .7-.4 .6 .9 .7-.5 .6-1.7 .7 .5 .6 .6 .7-.7 .6 .2 .7 1.3 .6-.7 .6-.8 .7-.2 .6 1.8 .7-.2 .6-.1 .7 1 .6-2.2 .7 .8 .6-.6 .7 3.5 .6-1 .7-2.2 .6 3.3 .6 .6 .7-1.7 .6-1 .7 1.1 .6 1.7 .7-1.3 .6 .3 .7 .3 .6 0 .7-.4 .6-.3 .6-.2 .7 .3 .6 1 .7 1.5 .6-2.4 .7 1.7 .6-3.7 .7 3 .6 .4 .7-.3 .6-2.3 .7-.2 .6-.7 .6 .1 .7 .7 .6-1.8 .7 1.1 .6 .4 .7-2.6 .6 .1 .7 1.1 .6-.9 .7-1.5 .6-.2 .6 1.7 .7-2.3 .6 3.2 .7-2.7 .6-.5 .7 .3 .6-.5 .7 1.4 .6-1.6 .7-.8 .6 1.1 .7-1.2 .6 0 .6 1.8 .7-1.8 .6-1.3 .7 1.8 .6-1.7 .7-.5 .6 1.3 .7-1.2 .6-1.3 .7 0 .6 1.3 .7-2 .6 .4 .6 0 .7-1.5 .6 .5 .7 .1 .6-.8 .7 0 .6-.8 .7 1 .6 1.3 .7-3.3 .6 .4 .6 0 .7 .2 .6-.2 .7-.4 .6 .7 .7-1.9 .6 .4 .7 .8 .6-1.4 .7 .3 .6-.5 .7-.8 .6-2.2 .6 3.3 .7-1.6 .6-.5 .7 .1 .6-1.1 .7 1.6 .6-.2 .7-.4 .6 1.1 .7-2.4 .6 2.2 .7-1.8 .6-.6 .6 1.9 .7-.6 .6 0 .7-1.7 .6 1.4 .7 2 .6-2.6 .7 .1 .6 3 .7 .8 .6-4.8 .6 2.5 .7 2.3 .6-2.8 .7-.2 .6 3.8 .7-3.2 .6 .8 .7 .9 .6 .9 .7-.8 .6 1.4 .7-.6 .6 .7 .6 .4 .7-.6 .6-.1 .7 .3 .6 .7 .7-.8 .6 3 .7-.9 .6 .2 .7-.7 .6 3.6 .7-1.4 .6 .2 .6-.2 .7-1.7 .6 2.2 .7 .6 .6-.2 .7-.3 .6 1.4 .7-1.5 .6 2.9 .7-2 .6 .7 .6 0 .7-.3 .6 1.9 .7-.4 .6 .4 .7 1.1 .6 .4 .7 .2 .6-1.3 .7 3.2 .6-.7 .7-1 .6-.9 .6 1.6 .7-1.1 .6 1.5 .7 .7 .6 1.2 .7-1.4 .6-1.2 .7 1.8 .6 1.3 .7-1.3 .6 2.1 .7 0 .6-1.8 .6 .9 .7-.3 .6 .9 .7 .6 .6 0 .7 .7 .6-1 .7 2.5 .6 .8 .7-.8 .6-1.3 .6 1.6 .7 1.9 .6-4.6 .7 3.8 .6-.4 .7-.5 .6 .5 .7 .7 .6 1.6 .7-1.7 .6 1.7 .7-.5 .6-.7" fill="none" stroke="#5b96ec" stroke-width="1.6" stroke-linejoin="round"/>
<text x="804.1" y="864" font-size="12.6" fill="#222" text-anchor="start" >Out of plane</text>
<line x1="804.1" y1="875.6" x2="831.1" y2="875.6" stroke="#777" stroke-width="1.6" />
<text x="836.1" y="879.9" font-size="12.6" fill="#222" text-anchor="start" >Pristine</text>
<line x1="804.1" y1="890.7" x2="831.1" y2="890.7" stroke="#f06060" stroke-width="1.6" />
<text x="836.1" y="895" font-size="12.6" fill="#222" text-anchor="start" >30% //</text>
<line x1="804.1" y1="905.8" x2="831.1" y2="905.8" stroke="#5b95ea" stroke-width="1.6" />
<text x="836.1" y="910.1" font-size="12.6" fill="#222" text-anchor="start" >30% ⊥</text>
<text x="0" y="0" font-size="21" fill="#111" text-anchor="middle" transform="translate(642.4,946.9) rotate(-90)">Intensity (a.u.)</text>
<text x="747.8" y="1090.5" font-size="20.7" fill="#111">q<tspan font-size="15" dy="5.3">z</tspan><tspan dy="-5.3"> (Å</tspan><tspan font-size="13" dy="-9">-1</tspan><tspan dy="9">)</tspan></text>
<text x="645" y="836" font-size="30.5" fill="#000" text-anchor="start" font-weight="bold" >i</text>
<rect x="961.5" y="849.9" width="206.8" height="195.3" fill="none" stroke="#333" stroke-width="1.3"/>
<line x1="961.5" y1="1045.2" x2="967.5" y2="1045.2" stroke="#333" stroke-width="1.1" />
<line x1="961.5" y1="1029.3" x2="964.5" y2="1029.3" stroke="#333" stroke-width="1" />
<line x1="961.5" y1="1020" x2="964.5" y2="1020" stroke="#333" stroke-width="1" />
<line x1="961.5" y1="1013.4" x2="964.5" y2="1013.4" stroke="#333" stroke-width="1" />
<line x1="961.5" y1="1008.3" x2="964.5" y2="1008.3" stroke="#333" stroke-width="1" />
<line x1="961.5" y1="1004.1" x2="964.5" y2="1004.1" stroke="#333" stroke-width="1" />
<line x1="961.5" y1="1000.6" x2="964.5" y2="1000.6" stroke="#333" stroke-width="1" />
<line x1="961.5" y1="997.5" x2="964.5" y2="997.5" stroke="#333" stroke-width="1" />
<line x1="961.5" y1="994.8" x2="964.5" y2="994.8" stroke="#333" stroke-width="1" />
<text x="957.3" y="1051.2" font-size="16.5" fill="#111" text-anchor="end">10<tspan font-size="11.5" dy="-6.3">0</tspan></text>
<line x1="961.5" y1="992.4" x2="967.5" y2="992.4" stroke="#333" stroke-width="1.1" />
<line x1="961.5" y1="976.5" x2="964.5" y2="976.5" stroke="#333" stroke-width="1" />
<line x1="961.5" y1="967.3" x2="964.5" y2="967.3" stroke="#333" stroke-width="1" />
<line x1="961.5" y1="960.7" x2="964.5" y2="960.7" stroke="#333" stroke-width="1" />
<line x1="961.5" y1="955.6" x2="964.5" y2="955.6" stroke="#333" stroke-width="1" />
<line x1="961.5" y1="951.4" x2="964.5" y2="951.4" stroke="#333" stroke-width="1" />
<line x1="961.5" y1="947.8" x2="964.5" y2="947.8" stroke="#333" stroke-width="1" />
<line x1="961.5" y1="944.8" x2="964.5" y2="944.8" stroke="#333" stroke-width="1" />
<line x1="961.5" y1="942.1" x2="964.5" y2="942.1" stroke="#333" stroke-width="1" />
<text x="957.3" y="998.4" font-size="16.5" fill="#111" text-anchor="end">10<tspan font-size="11.5" dy="-6.3">1</tspan></text>
<line x1="961.5" y1="939.7" x2="967.5" y2="939.7" stroke="#333" stroke-width="1.1" />
<line x1="961.5" y1="923.8" x2="964.5" y2="923.8" stroke="#333" stroke-width="1" />
<line x1="961.5" y1="914.5" x2="964.5" y2="914.5" stroke="#333" stroke-width="1" />
<line x1="961.5" y1="907.9" x2="964.5" y2="907.9" stroke="#333" stroke-width="1" />
<line x1="961.5" y1="902.8" x2="964.5" y2="902.8" stroke="#333" stroke-width="1" />
<line x1="961.5" y1="898.6" x2="964.5" y2="898.6" stroke="#333" stroke-width="1" />
<line x1="961.5" y1="895.1" x2="964.5" y2="895.1" stroke="#333" stroke-width="1" />
<line x1="961.5" y1="892" x2="964.5" y2="892" stroke="#333" stroke-width="1" />
<line x1="961.5" y1="889.3" x2="964.5" y2="889.3" stroke="#333" stroke-width="1" />
<text x="957.3" y="945.7" font-size="16.5" fill="#111" text-anchor="end">10<tspan font-size="11.5" dy="-6.3">2</tspan></text>
<line x1="961.5" y1="886.9" x2="967.5" y2="886.9" stroke="#333" stroke-width="1.1" />
<line x1="961.5" y1="871" x2="964.5" y2="871" stroke="#333" stroke-width="1" />
<line x1="961.5" y1="861.7" x2="964.5" y2="861.7" stroke="#333" stroke-width="1" />
<line x1="961.5" y1="855.1" x2="964.5" y2="855.1" stroke="#333" stroke-width="1" />
<line x1="961.5" y1="850" x2="964.5" y2="850" stroke="#333" stroke-width="1" />
<text x="957.3" y="892.9" font-size="16.5" fill="#111" text-anchor="end">10<tspan font-size="11.5" dy="-6.3">3</tspan></text>
<line x1="988" y1="1045.2" x2="988" y2="1040.2" stroke="#333" stroke-width="1.1" />
<text x="988" y="1061.5" font-size="16" fill="#111" text-anchor="middle" >0.5</text>
<line x1="1046.3" y1="1045.2" x2="1046.3" y2="1040.2" stroke="#333" stroke-width="1.1" />
<text x="1046.3" y="1061.5" font-size="16" fill="#111" text-anchor="middle" >1.0</text>
<line x1="1104.6" y1="1045.2" x2="1104.6" y2="1040.2" stroke="#333" stroke-width="1.1" />
<text x="1104.6" y="1061.5" font-size="16" fill="#111" text-anchor="middle" >1.5</text>
<line x1="1162.9" y1="1045.2" x2="1162.9" y2="1040.2" stroke="#333" stroke-width="1.1" />
<text x="1162.9" y="1061.5" font-size="16" fill="#111" text-anchor="middle" >2.0</text>
<line x1="1017.1" y1="1045.2" x2="1017.1" y2="1042.2" stroke="#333" stroke-width="1" />
<line x1="1075.5" y1="1045.2" x2="1075.5" y2="1042.2" stroke="#333" stroke-width="1" />
<line x1="1133.8" y1="1045.2" x2="1133.8" y2="1042.2" stroke="#333" stroke-width="1" />
<path d="M961.5 1009.8l.6-4.4 .7-4.1 .6-.7 .7 1.6 .6 4.7 .7-.9 .6 2.4 .7 4.4 .6-3.1 .7-5.4 .6 2.9 .7 2.4 .6 3 .6-3.6 .7 2 .6-2.3 .7-1.7 .6 11 .7-8.5 .6 5.4 .7-2 .6 1.3 .7-9.2 .6 1.7 .7 .7 .6 4.9 .6 2.7 .7-4.2 .6-2.3 .7 1.1 .6-3 .7 4.2 .6-8.5 .7 4.5 .6-5.3 .7 6.9 .6 1.9 .7 2.4 .6-6.6 .7-1.1 .6 3.3 .6-1.4 .7 2.2 .6 .1 .7-1.1 .6 5.7 .7-4 .6-4.8 .7-.9 .6-4.3 .7 3.2 .6-.2 .7 0 .6 1.9 .6-2.6 .7 .6 .6-1.6 .7 .4 .6-.2 .7-.1 .6-.5 .7 1.2 .6-.6 .7-2.9 .6 .5 .7 .5 .6-.3 .6-.3 .7-3.7 .6 2.3 .7 .3 .6 .3 .7 1.4 .6-2.7 .7-1.5 .6 .2 .7 .3 .6 .5 .7 .3 .6-1.6 .6 .1 .7 .3 .6-3 .7 2 .6-.8 .7 1.3 .6-4.3 .7 1.3 .6-.5 .7-.8 .6 .6 .7-.7 .6-1.3 .6 .6 .7-1.6 .6-1.3 .7 0 .6-1 .7-.1 .6-1 .7 1 .6-.5 .7 1.1 .6-1.1 .7 .2 .6-.8 .6 .7 .7-1.4 .6-2.3 .7 3.1 .6-1.3 .7 0 .6 1.3 .7-.3 .6 .3 .7-.8 .6 1.2 .7-2.8 .6 1.8 .6 0 .7-.7 .6 .9 .7 1.7 .6-.2 .7 .5 .6 0 .7-.4 .6 2.9 .7-.1 .6-1.1 .7-.7 .6 1 .7-.3 .6-1.2 .6 .4 .7 .6 .6 .2 .7 .9 .6-1.9 .7 .2 .6 .8 .7-1.5 .6 .6 .7-.2 .6 1 .7-2.6 .6 1.4 .6-1.3 .7-.2 .6 .5 .7-.7 .6-.1 .7-.2 .6-.7 .7 .6 .6-1.5 .7 .3 .6 1 .7-1.7 .6 .5 .6-1 .7 2.4 .6-2.7 .7 2.2 .6-1.9 .7-3.7 .6 2.2 .7-.6 .6 1.5 .7 .1 .6-1.2 .7-.7 .6 .2 .6 .4 .7-.1 .6-.7 .7-2.1 .6 1.2 .7 .2 .6-.4 .7 .4 .6 .1 .7-1.6 .6-1.4 .7 .6 .6 1.5 .6-3 .7 .9 .6-1.8 .7 1.6 .6 .9 .7-1.8 .6 0 .7 .6 .6-.6 .7-.7 .6 .1 .7-1.7 .6-.1 .7 .4 .6-.4 .6-1.5 .7 .2 .6 1.2 .7-1.7 .6-1.7 .7 1 .6 .9 .7-2.6 .6-1.1 .7 1.9 .6 2.1 .7-1 .6-3.4 .6 1.8 .7-1 .6 0 .7 .2 .6-1.5 .7 1.3 .6-.4 .7 .2 .6 .1 .7-2.1 .6 3.5 .7 .1 .6-2.1 .6 2.3 .7-1.2 .6 1.3 .7-1.8 .6 1.1 .7-.5 .6 1.5 .7-.3 .6 2.2 .7-2.7 .6 .6 .7 .6 .6 .2 .6 .7 .7 0 .6-1.6 .7 2.7 .6 .1 .7-.8 .6 .7 .7 1.1 .6-1.8 .7 .3 .6 2.2 .7-1.8 .6 3.4 .6-2.5 .7 3.4 .6-1.6 .7 .8 .6 .5 .7-.7 .6 1.9 .7 .1 .6 .6 .7-2.2 .6 2.3 .7-.7 .6 .8 .6-.9 .7 2.2 .6 .1 .7 .1 .6-.6 .7 1.2 .6-.9 .7 .2 .6-.3 .7 .8 .6-.6 .7 2 .6 .4 .6 .4 .7 .3 .6 .9 .7-1.4 .6 .5 .7 2.4 .6-1.6 .7 .9 .6 .4 .7-.3 .6-1.2 .7 1.4 .6 2.3 .7-2 .6 1.5 .6-2.2 .7 2.4 .6-.2 .7 .5 .6 .8 .7-.1 .6 0 .7-1.9 .6 2.3 .7-.1 .6 .7 .7 .2 .6 .1 .6-.7 .7 4.5 .6-2 .7 .6 .6-1.4 .7 1.9 .6-1.4 .7 .2 .6 1.9 .7-.8 .6 1.3 .7-.9 .6 .6" fill="none" stroke="#7a7a7a" stroke-width="1.2" stroke-linejoin="round"/>
<path d="M961.5 1002.6l.6 1.7 .7 7.5 .6-9.5 .7 5.8 .6-3.9 .7 4.1 .6-3.2 .7 8.6 .6-9.8 .7 9.3 .6-3.1 .7-2.4 .6 8 .6-7.3 .7 1.5 .6-3 .7 3.7 .6 3.7 .7 .4 .6-1 .7-3.7 .6 1.3 .7-3.1 .6-3.6 .7 7.2 .6 .7 .6-3.4 .7-.2 .6 10.3 .7-6 .6-2.8 .7-2.1 .6 4.3 .7 2.1 .6-12.2 .7 20.5 .6-17.8 .7 8.2 .6-1.1 .7-1.6 .6-1.7 .6 4.8 .7 1.3 .6-7.3 .7-4.2 .6 5.5 .7-10.6 .6 13.3 .7-8.8 .6 .8 .7 .2 .6 1.8 .7-2 .6 .4 .6 1.7 .7-2 .6 .6 .7-1.3 .6-1.2 .7 .3 .6-2.1 .7 .8 .6 1 .7-.6 .6-.9 .7 .8 .6-1.5 .6-.3 .7-.7 .6 .5 .7-.2 .6 .9 .7-1.6 .6 .1 .7-.6 .6-.5 .7 .7 .6-.6 .7 0 .6 .1 .6 .2 .7-1.1 .6-1.8 .7 2.2 .6-3 .7-.7 .6-.6 .7 .7 .6-.5 .7-1.7 .6-.2 .7-1.4 .6 1.5 .6-.4 .7-1.9 .6 .9 .7-.7 .6-1.7 .7 .1 .6 .7 .7-1.3 .6 .2 .7-1.3 .6 .4 .7 .8 .6-2.6 .6 1.5 .7-.3 .6 .5 .7-.7 .6 .4 .7-.9 .6 .1 .7-.6 .6 .5 .7 1.4 .6 .3 .7 .3 .6-1.4 .6 1.8 .7-1.9 .6 1.5 .7 .5 .6 0 .7-1.3 .6 1.8 .7 .7 .6 .8 .7 .7 .6-.7 .7-1.8 .6 .7 .7 1.3 .6 1.6 .6-3.4 .7 .7 .6 2.2 .7-1.9 .6 .7 .7-2.1 .6 .2 .7 1.1 .6 1.2 .7-2 .6-2.9 .7 1.8 .6 .7 .6-1.6 .7 1.1 .6-2.3 .7 2.9 .6-1.4 .7-2.2 .6 .2 .7 .3 .6 1.7 .7-1.7 .6-.8 .7 .8 .6-.6 .6-1.1 .7 1 .6-1.1 .7 .6 .6 .6 .7 .1 .6-1 .7 0 .6-2 .7 .6 .6 1.7 .7-3.5 .6-1.1 .6 2.5 .7-1.2 .6 .4 .7-1.1 .6 .4 .7-.6 .6 .2 .7 .4 .6-.5 .7 .2 .6-.4 .7-.5 .6-3.1 .6 1.5 .7-1.3 .6 2.9 .7-1.4 .6-1.5 .7-.6 .6 .4 .7 .6 .6 .6 .7-1.9 .6 1.5 .7-2.1 .6 .4 .7-.2 .6-.3 .6 .5 .7-.6 .6-1.8 .7 .7 .6-.2 .7-1.9 .6 0 .7 0 .6 1.5 .7-2.7 .6 .2 .7 1.3 .6-.6 .6-1.6 .7-.4 .6 1.3 .7 .6 .6-2.3 .7 1.5 .6-1.3 .7 .7 .6 .2 .7 .3 .6-1.8 .7 1.8 .6-.3 .6 .8 .7-2.4 .6 1.9 .7 1.3 .6-.8 .7 1.7 .6-1.2 .7 1.1 .6-2.1 .7 0 .6-.6 .7 2.8 .6 .7 .6 1.4 .7-1.9 .6 1.2 .7-1.7 .6-.4 .7 3.6 .6-1 .7-1.4 .6 3.3 .7 .1 .6-1.7 .7 .8 .6 2.4 .6-1.9 .7 1.1 .6 0 .7-.1 .6-1 .7 1.2 .6 2 .7-2 .6 1 .7 .5 .6 1.4 .7 .5 .6-.6 .6-1.2 .7 1.2 .6 .6 .7 .1 .6 .3 .7 .8 .6-.1 .7 2.2 .6-1.5 .7-.7 .6 .9 .7-.9 .6 .2 .6 2.1 .7 1.1 .6-.9 .7 1.6 .6-1.8 .7 1.1 .6-.5 .7 1.2 .6 .8 .7-2 .6 1.9 .7 .1 .6 .2 .7 .9 .6 .1 .6 1.3 .7-1 .6 0 .7 1.5 .6 1 .7-.9 .6-.7 .7 .2 .6 .6 .7 1.4 .6-.9 .7 .9 .6-.7 .6 .6 .7 1.7 .6-.8 .7 .3 .6-.6 .7-.4 .6 3.4 .7-.5 .6 .3 .7 .3 .6 .1 .7-1.6 .6 1.2" fill="none" stroke="#f06464" stroke-width="1.4" stroke-linejoin="round"/>
<path d="M961.5 1006.9l.6-2.3 .7 1.6 .6 2.9 .7-1.8 .6-1.8 .7-2.3 .6 8.7 .7-4.2 .6-.6 .7-.2 .6 3 .7 .4 .6 4.7 .6-1.9 .7-1.4 .6 .5 .7-4.2 .6 3 .7 .6 .6 1.3 .7-3.5 .6 6.1 .7-11.7 .6 11.4 .7-2.9 .6-2.2 .6 0 .7-1.8 .6 9.6 .7-7.8 .6 4.7 .7-10.2 .6 13.2 .7-7.4 .6-2.8 .7 2.8 .6-1.1 .7 .5 .6-1.5 .7-2.5 .6 3.5 .6-4.7 .7 3.9 .6-4 .7 8.1 .6-11.6 .7 3.3 .6-1.1 .7-4.6 .6 9.2 .7-2.6 .6 1.1 .7-3.8 .6 .1 .6-1.7 .7 1.5 .6-.6 .7 0 .6-.5 .7-.3 .6 .5 .7-.1 .6-.6 .7 .4 .6-2.6 .7 1.7 .6-.7 .6-.5 .7 .3 .6-2.3 .7 .8 .6-.8 .7 1.9 .6-.8 .7 1.1 .6-3.5 .7 1.3 .6-1.4 .7-.9 .6 2.2 .6-2.4 .7 .5 .6-.9 .7-.3 .6-.7 .7 .2 .6 .8 .7-1.1 .6-1.1 .7-.5 .6 .4 .7-.8 .6-1.2 .6-1.4 .7 .6 .6 .1 .7-1.2 .6 .8 .7-1.8 .6 1.4 .7-2.5 .6 1 .7-2.1 .6 1.1 .7-.1 .6-.8 .6 .3 .7-.4 .6-2 .7 1.1 .6 0 .7 2.5 .6-3.1 .7 .6 .6 1 .7 1.1 .6 .4 .7-.3 .6-.6 .6 0 .7 .1 .6 .3 .7 .4 .6 .6 .7 1.2 .6-3 .7 1.3 .6 .1 .7 1.2 .6 1.3 .7-2.6 .6 2.3 .7 .6 .6-2 .6-.8 .7 1.7 .6-.5 .7-.7 .6 .3 .7 0 .6-.8 .7-.2 .6 1.1 .7-.8 .6-.6 .7-.7 .6 .4 .6 .4 .7-.7 .6 .8 .7-1.1 .6-1.4 .7 .7 .6-.4 .7-.4 .6 .2 .7 .8 .6-.5 .7-1.9 .6 .8 .6 1 .7-2.9 .6 1.6 .7 .6 .6-3.4 .7 1.1 .6 .3 .7-.8 .6-.2 .7 1 .6-1.6 .7 1.1 .6-.2 .6 .6 .7-1.8 .6-2.3 .7 3 .6-.7 .7-1.5 .6-1.4 .7 1.7 .6-.7 .7 .4 .6-.3 .7-1.5 .6 1.2 .6-1.7 .7-.1 .6 .9 .7 .2 .6-1.1 .7 .7 .6-.7 .7-1.1 .6-.5 .7 0 .6 1.5 .7-1.8 .6-1.2 .7-.9 .6 0 .6 2.4 .7-1.2 .6-.8 .7 .2 .6 .4 .7-.9 .6-1.9 .7 .5 .6-.9 .7-.2 .6-1.8 .7 1.5 .6-1.1 .6 1.1 .7-.5 .6 1.4 .7-1 .6 .2 .7-1.7 .6 1 .7-.5 .6 .1 .7-.2 .6 2 .7-2.6 .6 2.5 .6-1.4 .7-.6 .6 1.3 .7-2 .6 1.2 .7 .9 .6 1 .7 .5 .6-1.3 .7 .6 .6 0 .7-.1 .6 1.1 .6 .1 .7-.3 .6 1.7 .7-.1 .6 .5 .7-.7 .6 .9 .7-.5 .6 1.3 .7 1 .6-.8 .7 .7 .6 .8 .6-.7 .7 .6 .6 1.1 .7-.5 .6 .3 .7 .3 .6 .1 .7 .6 .6-.4 .7 .5 .6-.2 .7 .9 .6 .3 .6 .4 .7 .5 .6 .2 .7 1.1 .6-.1 .7-.1 .6 .8 .7-.8 .6 .3 .7-.5 .6 .7 .7 2.1 .6-1.8 .6 .1 .7 .8 .6 1.2 .7-.4 .6-.5 .7 .5 .6 .5 .7 .4 .6-.1 .7 1.4 .6-.3 .7 .8 .6-.2 .7 2.1 .6-3 .6 1.4 .7-.9 .6 2.5 .7-1.7 .6 .3 .7 1.4 .6 .8 .7 .5 .6 .7 .7-1.4 .6-.8 .7 1.7 .6 .8 .6 1.3 .7-1.2 .6-.6 .7 1.4 .6-.5 .7 1.4 .6 2.2 .7-2 .6-1.2 .7 3.6 .6-4.7 .7 1.5 .6 2.9" fill="none" stroke="#5b96ec" stroke-width="1.6" stroke-linejoin="round"/>
<text x="1090" y="864" font-size="12.6" fill="#222" text-anchor="start" >In plane</text>
<line x1="1090" y1="875.6" x2="1117" y2="875.6" stroke="#777" stroke-width="1.6" />
<text x="1122" y="879.9" font-size="12.6" fill="#222" text-anchor="start" >Pristine</text>
<line x1="1090" y1="890.7" x2="1117" y2="890.7" stroke="#f06060" stroke-width="1.6" />
<text x="1122" y="895" font-size="12.6" fill="#222" text-anchor="start" >30% //</text>
<line x1="1090" y1="905.8" x2="1117" y2="905.8" stroke="#5b95ea" stroke-width="1.6" />
<text x="1122" y="910.1" font-size="12.6" fill="#222" text-anchor="start" >30% ⊥</text>
<text x="0" y="0" font-size="21" fill="#111" text-anchor="middle" transform="translate(926,946.9) rotate(-90)">Intensity (a.u.)</text>
<text x="1028.2" y="1090.5" font-size="20.7" fill="#111">q<tspan font-size="15" dy="5.3">xy</tspan><tspan dy="-5.3"> (Å</tspan><tspan font-size="13" dy="-9">-1</tspan><tspan dy="9">)</tspan></text>
<text x="901" y="836" font-size="30.5" fill="#000" text-anchor="start" font-weight="bold" >j</text>
</svg>
</body></html>
